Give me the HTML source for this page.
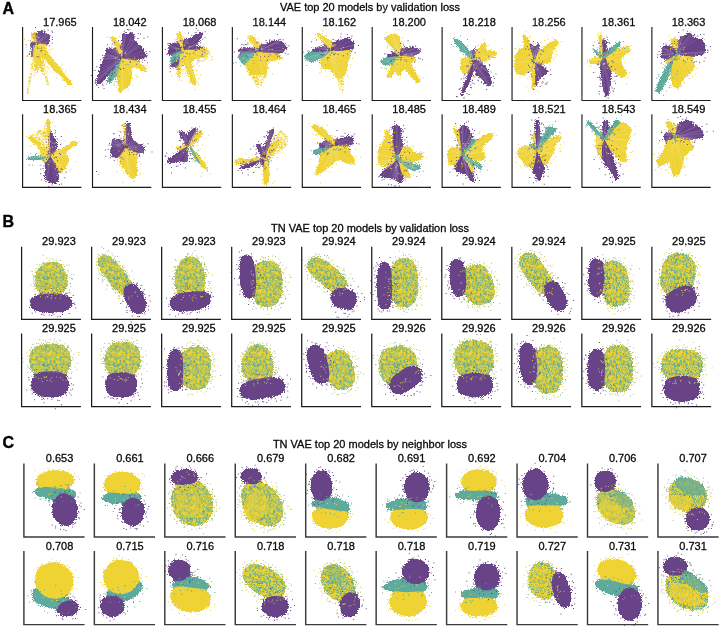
<!DOCTYPE html><html><head><meta charset="utf-8"><style>html,body{margin:0;padding:0;background:#fff;width:720px;height:628px;overflow:hidden}svg{display:block}text{font-family:"Liberation Sans",sans-serif}.t{stroke:#0a0a0a;stroke-width:0.3px}</style></head><body>
<svg width="720" height="628" viewBox="0 0 720 628"><g opacity="0.999">
<defs>
<filter id="rough" x="-20%" y="-20%" width="140%" height="140%" color-interpolation-filters="sRGB"><feTurbulence type="fractalNoise" baseFrequency="0.8" numOctaves="2" seed="3" result="t"/><feDisplacementMap in="SourceGraphic" in2="t" scale="2.5" xChannelSelector="R" yChannelSelector="G" result="d"/><feGaussianBlur in="d" stdDeviation="1.5" result="b"/><feComponentTransfer in="b" result="dil"><feFuncA type="linear" slope="40"/></feComponentTransfer><feMerge result="col"><feMergeNode in="dil"/><feMergeNode in="d"/></feMerge><feTurbulence type="fractalNoise" baseFrequency="1.9" numOctaves="1" seed="9" result="n"/><feColorMatrix in="n" type="matrix" values="0 0 0 0 0  0 0 0 0 0  0 0 0 0 0  -2 0 0 0 1.5" result="nInv"/><feColorMatrix in="b" type="matrix" values="0 0 0 0 0  0 0 0 0 0  0 0 0 0 0  0 0 0 1 0" result="bA"/><feComposite in="bA" in2="nInv" operator="arithmetic" k2="14" k3="8" k4="-8" result="mask"/><feComposite in="col" in2="mask" operator="in"/></filter>
<pattern id="mix" width="24" height="24" patternUnits="userSpaceOnUse"><rect x="0" y="0" width="1" height="1" fill="#5eaa9d"/><rect x="1" y="0" width="1" height="1" fill="#5eaa9d"/><rect x="2" y="0" width="1" height="1" fill="#5eaa9d"/><rect x="3" y="0" width="1" height="1" fill="#b4c74e"/><rect x="4" y="0" width="1" height="1" fill="#5eaa9d"/><rect x="5" y="0" width="1" height="1" fill="#b4c74e"/><rect x="6" y="0" width="1" height="1" fill="#efd335"/><rect x="7" y="0" width="1" height="1" fill="#efd335"/><rect x="8" y="0" width="1" height="1" fill="#b4c74e"/><rect x="9" y="0" width="1" height="1" fill="#5eaa9d"/><rect x="10" y="0" width="1" height="1" fill="#b4c74e"/><rect x="11" y="0" width="1" height="1" fill="#efd335"/><rect x="12" y="0" width="1" height="1" fill="#efd335"/><rect x="13" y="0" width="1" height="1" fill="#efd335"/><rect x="14" y="0" width="1" height="1" fill="#5eaa9d"/><rect x="15" y="0" width="1" height="1" fill="#5eaa9d"/><rect x="16" y="0" width="1" height="1" fill="#efd335"/><rect x="17" y="0" width="1" height="1" fill="#efd335"/><rect x="18" y="0" width="1" height="1" fill="#efd335"/><rect x="19" y="0" width="1" height="1" fill="#b4c74e"/><rect x="20" y="0" width="1" height="1" fill="#5eaa9d"/><rect x="21" y="0" width="1" height="1" fill="#efd335"/><rect x="22" y="0" width="1" height="1" fill="#5eaa9d"/><rect x="23" y="0" width="1" height="1" fill="#efd335"/><rect x="0" y="1" width="1" height="1" fill="#5eaa9d"/><rect x="1" y="1" width="1" height="1" fill="#efd335"/><rect x="2" y="1" width="1" height="1" fill="#efd335"/><rect x="3" y="1" width="1" height="1" fill="#b4c74e"/><rect x="4" y="1" width="1" height="1" fill="#efd335"/><rect x="5" y="1" width="1" height="1" fill="#efd335"/><rect x="6" y="1" width="1" height="1" fill="#b4c74e"/><rect x="7" y="1" width="1" height="1" fill="#b4c74e"/><rect x="8" y="1" width="1" height="1" fill="#efd335"/><rect x="9" y="1" width="1" height="1" fill="#b4c74e"/><rect x="10" y="1" width="1" height="1" fill="#5eaa9d"/><rect x="11" y="1" width="1" height="1" fill="#5eaa9d"/><rect x="12" y="1" width="1" height="1" fill="#efd335"/><rect x="13" y="1" width="1" height="1" fill="#b4c74e"/><rect x="14" y="1" width="1" height="1" fill="#5eaa9d"/><rect x="15" y="1" width="1" height="1" fill="#b4c74e"/><rect x="16" y="1" width="1" height="1" fill="#b4c74e"/><rect x="17" y="1" width="1" height="1" fill="#efd335"/><rect x="18" y="1" width="1" height="1" fill="#efd335"/><rect x="19" y="1" width="1" height="1" fill="#efd335"/><rect x="20" y="1" width="1" height="1" fill="#efd335"/><rect x="21" y="1" width="1" height="1" fill="#efd335"/><rect x="22" y="1" width="1" height="1" fill="#efd335"/><rect x="23" y="1" width="1" height="1" fill="#5eaa9d"/><rect x="0" y="2" width="1" height="1" fill="#efd335"/><rect x="1" y="2" width="1" height="1" fill="#5eaa9d"/><rect x="2" y="2" width="1" height="1" fill="#efd335"/><rect x="3" y="2" width="1" height="1" fill="#efd335"/><rect x="4" y="2" width="1" height="1" fill="#5eaa9d"/><rect x="5" y="2" width="1" height="1" fill="#efd335"/><rect x="6" y="2" width="1" height="1" fill="#efd335"/><rect x="7" y="2" width="1" height="1" fill="#efd335"/><rect x="8" y="2" width="1" height="1" fill="#5eaa9d"/><rect x="9" y="2" width="1" height="1" fill="#efd335"/><rect x="10" y="2" width="1" height="1" fill="#b4c74e"/><rect x="11" y="2" width="1" height="1" fill="#efd335"/><rect x="12" y="2" width="1" height="1" fill="#5eaa9d"/><rect x="13" y="2" width="1" height="1" fill="#5eaa9d"/><rect x="14" y="2" width="1" height="1" fill="#efd335"/><rect x="15" y="2" width="1" height="1" fill="#5eaa9d"/><rect x="16" y="2" width="1" height="1" fill="#efd335"/><rect x="17" y="2" width="1" height="1" fill="#5eaa9d"/><rect x="18" y="2" width="1" height="1" fill="#efd335"/><rect x="19" y="2" width="1" height="1" fill="#efd335"/><rect x="20" y="2" width="1" height="1" fill="#efd335"/><rect x="21" y="2" width="1" height="1" fill="#b4c74e"/><rect x="22" y="2" width="1" height="1" fill="#efd335"/><rect x="23" y="2" width="1" height="1" fill="#5eaa9d"/><rect x="0" y="3" width="1" height="1" fill="#b4c74e"/><rect x="1" y="3" width="1" height="1" fill="#b4c74e"/><rect x="2" y="3" width="1" height="1" fill="#efd335"/><rect x="3" y="3" width="1" height="1" fill="#efd335"/><rect x="4" y="3" width="1" height="1" fill="#5eaa9d"/><rect x="5" y="3" width="1" height="1" fill="#5eaa9d"/><rect x="6" y="3" width="1" height="1" fill="#efd335"/><rect x="7" y="3" width="1" height="1" fill="#5eaa9d"/><rect x="8" y="3" width="1" height="1" fill="#5eaa9d"/><rect x="9" y="3" width="1" height="1" fill="#b4c74e"/><rect x="10" y="3" width="1" height="1" fill="#efd335"/><rect x="11" y="3" width="1" height="1" fill="#b4c74e"/><rect x="12" y="3" width="1" height="1" fill="#efd335"/><rect x="13" y="3" width="1" height="1" fill="#efd335"/><rect x="14" y="3" width="1" height="1" fill="#5eaa9d"/><rect x="15" y="3" width="1" height="1" fill="#b4c74e"/><rect x="16" y="3" width="1" height="1" fill="#efd335"/><rect x="17" y="3" width="1" height="1" fill="#b4c74e"/><rect x="18" y="3" width="1" height="1" fill="#5eaa9d"/><rect x="19" y="3" width="1" height="1" fill="#efd335"/><rect x="20" y="3" width="1" height="1" fill="#efd335"/><rect x="21" y="3" width="1" height="1" fill="#efd335"/><rect x="22" y="3" width="1" height="1" fill="#efd335"/><rect x="23" y="3" width="1" height="1" fill="#efd335"/><rect x="0" y="4" width="1" height="1" fill="#5eaa9d"/><rect x="1" y="4" width="1" height="1" fill="#b4c74e"/><rect x="2" y="4" width="1" height="1" fill="#efd335"/><rect x="3" y="4" width="1" height="1" fill="#efd335"/><rect x="4" y="4" width="1" height="1" fill="#b4c74e"/><rect x="5" y="4" width="1" height="1" fill="#5eaa9d"/><rect x="6" y="4" width="1" height="1" fill="#efd335"/><rect x="7" y="4" width="1" height="1" fill="#efd335"/><rect x="8" y="4" width="1" height="1" fill="#5eaa9d"/><rect x="9" y="4" width="1" height="1" fill="#5eaa9d"/><rect x="10" y="4" width="1" height="1" fill="#efd335"/><rect x="11" y="4" width="1" height="1" fill="#efd335"/><rect x="12" y="4" width="1" height="1" fill="#efd335"/><rect x="13" y="4" width="1" height="1" fill="#b4c74e"/><rect x="14" y="4" width="1" height="1" fill="#efd335"/><rect x="15" y="4" width="1" height="1" fill="#efd335"/><rect x="16" y="4" width="1" height="1" fill="#5eaa9d"/><rect x="17" y="4" width="1" height="1" fill="#efd335"/><rect x="18" y="4" width="1" height="1" fill="#5eaa9d"/><rect x="19" y="4" width="1" height="1" fill="#b4c74e"/><rect x="20" y="4" width="1" height="1" fill="#5eaa9d"/><rect x="21" y="4" width="1" height="1" fill="#5eaa9d"/><rect x="22" y="4" width="1" height="1" fill="#efd335"/><rect x="23" y="4" width="1" height="1" fill="#efd335"/><rect x="0" y="5" width="1" height="1" fill="#efd335"/><rect x="1" y="5" width="1" height="1" fill="#5eaa9d"/><rect x="2" y="5" width="1" height="1" fill="#efd335"/><rect x="3" y="5" width="1" height="1" fill="#efd335"/><rect x="4" y="5" width="1" height="1" fill="#b4c74e"/><rect x="5" y="5" width="1" height="1" fill="#b4c74e"/><rect x="6" y="5" width="1" height="1" fill="#b4c74e"/><rect x="7" y="5" width="1" height="1" fill="#efd335"/><rect x="8" y="5" width="1" height="1" fill="#efd335"/><rect x="9" y="5" width="1" height="1" fill="#5eaa9d"/><rect x="10" y="5" width="1" height="1" fill="#efd335"/><rect x="11" y="5" width="1" height="1" fill="#efd335"/><rect x="12" y="5" width="1" height="1" fill="#efd335"/><rect x="13" y="5" width="1" height="1" fill="#efd335"/><rect x="14" y="5" width="1" height="1" fill="#efd335"/><rect x="15" y="5" width="1" height="1" fill="#b4c74e"/><rect x="16" y="5" width="1" height="1" fill="#b4c74e"/><rect x="17" y="5" width="1" height="1" fill="#5eaa9d"/><rect x="18" y="5" width="1" height="1" fill="#efd335"/><rect x="19" y="5" width="1" height="1" fill="#efd335"/><rect x="20" y="5" width="1" height="1" fill="#efd335"/><rect x="21" y="5" width="1" height="1" fill="#efd335"/><rect x="22" y="5" width="1" height="1" fill="#5eaa9d"/><rect x="23" y="5" width="1" height="1" fill="#b4c74e"/><rect x="0" y="6" width="1" height="1" fill="#efd335"/><rect x="1" y="6" width="1" height="1" fill="#5eaa9d"/><rect x="2" y="6" width="1" height="1" fill="#5eaa9d"/><rect x="3" y="6" width="1" height="1" fill="#5eaa9d"/><rect x="4" y="6" width="1" height="1" fill="#5eaa9d"/><rect x="5" y="6" width="1" height="1" fill="#5eaa9d"/><rect x="6" y="6" width="1" height="1" fill="#efd335"/><rect x="7" y="6" width="1" height="1" fill="#5eaa9d"/><rect x="8" y="6" width="1" height="1" fill="#efd335"/><rect x="9" y="6" width="1" height="1" fill="#efd335"/><rect x="10" y="6" width="1" height="1" fill="#5eaa9d"/><rect x="11" y="6" width="1" height="1" fill="#5eaa9d"/><rect x="12" y="6" width="1" height="1" fill="#efd335"/><rect x="13" y="6" width="1" height="1" fill="#b4c74e"/><rect x="14" y="6" width="1" height="1" fill="#5eaa9d"/><rect x="15" y="6" width="1" height="1" fill="#5eaa9d"/><rect x="16" y="6" width="1" height="1" fill="#efd335"/><rect x="17" y="6" width="1" height="1" fill="#5eaa9d"/><rect x="18" y="6" width="1" height="1" fill="#efd335"/><rect x="19" y="6" width="1" height="1" fill="#5eaa9d"/><rect x="20" y="6" width="1" height="1" fill="#efd335"/><rect x="21" y="6" width="1" height="1" fill="#5eaa9d"/><rect x="22" y="6" width="1" height="1" fill="#5eaa9d"/><rect x="23" y="6" width="1" height="1" fill="#5eaa9d"/><rect x="0" y="7" width="1" height="1" fill="#efd335"/><rect x="1" y="7" width="1" height="1" fill="#5eaa9d"/><rect x="2" y="7" width="1" height="1" fill="#5eaa9d"/><rect x="3" y="7" width="1" height="1" fill="#5eaa9d"/><rect x="4" y="7" width="1" height="1" fill="#efd335"/><rect x="5" y="7" width="1" height="1" fill="#5eaa9d"/><rect x="6" y="7" width="1" height="1" fill="#b4c74e"/><rect x="7" y="7" width="1" height="1" fill="#5eaa9d"/><rect x="8" y="7" width="1" height="1" fill="#b4c74e"/><rect x="9" y="7" width="1" height="1" fill="#b4c74e"/><rect x="10" y="7" width="1" height="1" fill="#5eaa9d"/><rect x="11" y="7" width="1" height="1" fill="#5eaa9d"/><rect x="12" y="7" width="1" height="1" fill="#efd335"/><rect x="13" y="7" width="1" height="1" fill="#5eaa9d"/><rect x="14" y="7" width="1" height="1" fill="#b4c74e"/><rect x="15" y="7" width="1" height="1" fill="#efd335"/><rect x="16" y="7" width="1" height="1" fill="#5eaa9d"/><rect x="17" y="7" width="1" height="1" fill="#5eaa9d"/><rect x="18" y="7" width="1" height="1" fill="#5eaa9d"/><rect x="19" y="7" width="1" height="1" fill="#efd335"/><rect x="20" y="7" width="1" height="1" fill="#5eaa9d"/><rect x="21" y="7" width="1" height="1" fill="#5eaa9d"/><rect x="22" y="7" width="1" height="1" fill="#5eaa9d"/><rect x="23" y="7" width="1" height="1" fill="#efd335"/><rect x="0" y="8" width="1" height="1" fill="#5eaa9d"/><rect x="1" y="8" width="1" height="1" fill="#5eaa9d"/><rect x="2" y="8" width="1" height="1" fill="#5eaa9d"/><rect x="3" y="8" width="1" height="1" fill="#5eaa9d"/><rect x="4" y="8" width="1" height="1" fill="#efd335"/><rect x="5" y="8" width="1" height="1" fill="#efd335"/><rect x="6" y="8" width="1" height="1" fill="#efd335"/><rect x="7" y="8" width="1" height="1" fill="#5eaa9d"/><rect x="8" y="8" width="1" height="1" fill="#efd335"/><rect x="9" y="8" width="1" height="1" fill="#5eaa9d"/><rect x="10" y="8" width="1" height="1" fill="#5eaa9d"/><rect x="11" y="8" width="1" height="1" fill="#efd335"/><rect x="12" y="8" width="1" height="1" fill="#efd335"/><rect x="13" y="8" width="1" height="1" fill="#efd335"/><rect x="14" y="8" width="1" height="1" fill="#efd335"/><rect x="15" y="8" width="1" height="1" fill="#efd335"/><rect x="16" y="8" width="1" height="1" fill="#efd335"/><rect x="17" y="8" width="1" height="1" fill="#efd335"/><rect x="18" y="8" width="1" height="1" fill="#efd335"/><rect x="19" y="8" width="1" height="1" fill="#efd335"/><rect x="20" y="8" width="1" height="1" fill="#efd335"/><rect x="21" y="8" width="1" height="1" fill="#efd335"/><rect x="22" y="8" width="1" height="1" fill="#5eaa9d"/><rect x="23" y="8" width="1" height="1" fill="#5eaa9d"/><rect x="0" y="9" width="1" height="1" fill="#efd335"/><rect x="1" y="9" width="1" height="1" fill="#b4c74e"/><rect x="2" y="9" width="1" height="1" fill="#efd335"/><rect x="3" y="9" width="1" height="1" fill="#efd335"/><rect x="4" y="9" width="1" height="1" fill="#efd335"/><rect x="5" y="9" width="1" height="1" fill="#efd335"/><rect x="6" y="9" width="1" height="1" fill="#efd335"/><rect x="7" y="9" width="1" height="1" fill="#5eaa9d"/><rect x="8" y="9" width="1" height="1" fill="#efd335"/><rect x="9" y="9" width="1" height="1" fill="#efd335"/><rect x="10" y="9" width="1" height="1" fill="#5eaa9d"/><rect x="11" y="9" width="1" height="1" fill="#efd335"/><rect x="12" y="9" width="1" height="1" fill="#5eaa9d"/><rect x="13" y="9" width="1" height="1" fill="#efd335"/><rect x="14" y="9" width="1" height="1" fill="#5eaa9d"/><rect x="15" y="9" width="1" height="1" fill="#b4c74e"/><rect x="16" y="9" width="1" height="1" fill="#5eaa9d"/><rect x="17" y="9" width="1" height="1" fill="#efd335"/><rect x="18" y="9" width="1" height="1" fill="#5eaa9d"/><rect x="19" y="9" width="1" height="1" fill="#5eaa9d"/><rect x="20" y="9" width="1" height="1" fill="#efd335"/><rect x="21" y="9" width="1" height="1" fill="#efd335"/><rect x="22" y="9" width="1" height="1" fill="#5eaa9d"/><rect x="23" y="9" width="1" height="1" fill="#5eaa9d"/><rect x="0" y="10" width="1" height="1" fill="#b4c74e"/><rect x="1" y="10" width="1" height="1" fill="#b4c74e"/><rect x="2" y="10" width="1" height="1" fill="#5eaa9d"/><rect x="3" y="10" width="1" height="1" fill="#efd335"/><rect x="4" y="10" width="1" height="1" fill="#b4c74e"/><rect x="5" y="10" width="1" height="1" fill="#efd335"/><rect x="6" y="10" width="1" height="1" fill="#efd335"/><rect x="7" y="10" width="1" height="1" fill="#5eaa9d"/><rect x="8" y="10" width="1" height="1" fill="#5eaa9d"/><rect x="9" y="10" width="1" height="1" fill="#efd335"/><rect x="10" y="10" width="1" height="1" fill="#5eaa9d"/><rect x="11" y="10" width="1" height="1" fill="#b4c74e"/><rect x="12" y="10" width="1" height="1" fill="#efd335"/><rect x="13" y="10" width="1" height="1" fill="#efd335"/><rect x="14" y="10" width="1" height="1" fill="#efd335"/><rect x="15" y="10" width="1" height="1" fill="#efd335"/><rect x="16" y="10" width="1" height="1" fill="#b4c74e"/><rect x="17" y="10" width="1" height="1" fill="#efd335"/><rect x="18" y="10" width="1" height="1" fill="#b4c74e"/><rect x="19" y="10" width="1" height="1" fill="#b4c74e"/><rect x="20" y="10" width="1" height="1" fill="#5eaa9d"/><rect x="21" y="10" width="1" height="1" fill="#efd335"/><rect x="22" y="10" width="1" height="1" fill="#b4c74e"/><rect x="23" y="10" width="1" height="1" fill="#efd335"/><rect x="0" y="11" width="1" height="1" fill="#efd335"/><rect x="1" y="11" width="1" height="1" fill="#efd335"/><rect x="2" y="11" width="1" height="1" fill="#b4c74e"/><rect x="3" y="11" width="1" height="1" fill="#efd335"/><rect x="4" y="11" width="1" height="1" fill="#efd335"/><rect x="5" y="11" width="1" height="1" fill="#efd335"/><rect x="6" y="11" width="1" height="1" fill="#efd335"/><rect x="7" y="11" width="1" height="1" fill="#5eaa9d"/><rect x="8" y="11" width="1" height="1" fill="#efd335"/><rect x="9" y="11" width="1" height="1" fill="#efd335"/><rect x="10" y="11" width="1" height="1" fill="#5eaa9d"/><rect x="11" y="11" width="1" height="1" fill="#5eaa9d"/><rect x="12" y="11" width="1" height="1" fill="#efd335"/><rect x="13" y="11" width="1" height="1" fill="#5eaa9d"/><rect x="14" y="11" width="1" height="1" fill="#efd335"/><rect x="15" y="11" width="1" height="1" fill="#b4c74e"/><rect x="16" y="11" width="1" height="1" fill="#5eaa9d"/><rect x="17" y="11" width="1" height="1" fill="#efd335"/><rect x="18" y="11" width="1" height="1" fill="#efd335"/><rect x="19" y="11" width="1" height="1" fill="#efd335"/><rect x="20" y="11" width="1" height="1" fill="#b4c74e"/><rect x="21" y="11" width="1" height="1" fill="#efd335"/><rect x="22" y="11" width="1" height="1" fill="#5eaa9d"/><rect x="23" y="11" width="1" height="1" fill="#efd335"/><rect x="0" y="12" width="1" height="1" fill="#5eaa9d"/><rect x="1" y="12" width="1" height="1" fill="#5eaa9d"/><rect x="2" y="12" width="1" height="1" fill="#5eaa9d"/><rect x="3" y="12" width="1" height="1" fill="#efd335"/><rect x="4" y="12" width="1" height="1" fill="#5eaa9d"/><rect x="5" y="12" width="1" height="1" fill="#efd335"/><rect x="6" y="12" width="1" height="1" fill="#5eaa9d"/><rect x="7" y="12" width="1" height="1" fill="#efd335"/><rect x="8" y="12" width="1" height="1" fill="#efd335"/><rect x="9" y="12" width="1" height="1" fill="#5eaa9d"/><rect x="10" y="12" width="1" height="1" fill="#efd335"/><rect x="11" y="12" width="1" height="1" fill="#efd335"/><rect x="12" y="12" width="1" height="1" fill="#5eaa9d"/><rect x="13" y="12" width="1" height="1" fill="#5eaa9d"/><rect x="14" y="12" width="1" height="1" fill="#efd335"/><rect x="15" y="12" width="1" height="1" fill="#efd335"/><rect x="16" y="12" width="1" height="1" fill="#efd335"/><rect x="17" y="12" width="1" height="1" fill="#b4c74e"/><rect x="18" y="12" width="1" height="1" fill="#b4c74e"/><rect x="19" y="12" width="1" height="1" fill="#5eaa9d"/><rect x="20" y="12" width="1" height="1" fill="#efd335"/><rect x="21" y="12" width="1" height="1" fill="#5eaa9d"/><rect x="22" y="12" width="1" height="1" fill="#efd335"/><rect x="23" y="12" width="1" height="1" fill="#5eaa9d"/><rect x="0" y="13" width="1" height="1" fill="#5eaa9d"/><rect x="1" y="13" width="1" height="1" fill="#5eaa9d"/><rect x="2" y="13" width="1" height="1" fill="#efd335"/><rect x="3" y="13" width="1" height="1" fill="#b4c74e"/><rect x="4" y="13" width="1" height="1" fill="#efd335"/><rect x="5" y="13" width="1" height="1" fill="#efd335"/><rect x="6" y="13" width="1" height="1" fill="#b4c74e"/><rect x="7" y="13" width="1" height="1" fill="#efd335"/><rect x="8" y="13" width="1" height="1" fill="#efd335"/><rect x="9" y="13" width="1" height="1" fill="#5eaa9d"/><rect x="10" y="13" width="1" height="1" fill="#efd335"/><rect x="11" y="13" width="1" height="1" fill="#5eaa9d"/><rect x="12" y="13" width="1" height="1" fill="#5eaa9d"/><rect x="13" y="13" width="1" height="1" fill="#efd335"/><rect x="14" y="13" width="1" height="1" fill="#efd335"/><rect x="15" y="13" width="1" height="1" fill="#5eaa9d"/><rect x="16" y="13" width="1" height="1" fill="#b4c74e"/><rect x="17" y="13" width="1" height="1" fill="#efd335"/><rect x="18" y="13" width="1" height="1" fill="#efd335"/><rect x="19" y="13" width="1" height="1" fill="#5eaa9d"/><rect x="20" y="13" width="1" height="1" fill="#efd335"/><rect x="21" y="13" width="1" height="1" fill="#efd335"/><rect x="22" y="13" width="1" height="1" fill="#efd335"/><rect x="23" y="13" width="1" height="1" fill="#5eaa9d"/><rect x="0" y="14" width="1" height="1" fill="#5eaa9d"/><rect x="1" y="14" width="1" height="1" fill="#efd335"/><rect x="2" y="14" width="1" height="1" fill="#efd335"/><rect x="3" y="14" width="1" height="1" fill="#5eaa9d"/><rect x="4" y="14" width="1" height="1" fill="#5eaa9d"/><rect x="5" y="14" width="1" height="1" fill="#5eaa9d"/><rect x="6" y="14" width="1" height="1" fill="#efd335"/><rect x="7" y="14" width="1" height="1" fill="#5eaa9d"/><rect x="8" y="14" width="1" height="1" fill="#b4c74e"/><rect x="9" y="14" width="1" height="1" fill="#b4c74e"/><rect x="10" y="14" width="1" height="1" fill="#5eaa9d"/><rect x="11" y="14" width="1" height="1" fill="#efd335"/><rect x="12" y="14" width="1" height="1" fill="#5eaa9d"/><rect x="13" y="14" width="1" height="1" fill="#efd335"/><rect x="14" y="14" width="1" height="1" fill="#5eaa9d"/><rect x="15" y="14" width="1" height="1" fill="#b4c74e"/><rect x="16" y="14" width="1" height="1" fill="#5eaa9d"/><rect x="17" y="14" width="1" height="1" fill="#efd335"/><rect x="18" y="14" width="1" height="1" fill="#efd335"/><rect x="19" y="14" width="1" height="1" fill="#b4c74e"/><rect x="20" y="14" width="1" height="1" fill="#efd335"/><rect x="21" y="14" width="1" height="1" fill="#5eaa9d"/><rect x="22" y="14" width="1" height="1" fill="#efd335"/><rect x="23" y="14" width="1" height="1" fill="#efd335"/><rect x="0" y="15" width="1" height="1" fill="#5eaa9d"/><rect x="1" y="15" width="1" height="1" fill="#efd335"/><rect x="2" y="15" width="1" height="1" fill="#efd335"/><rect x="3" y="15" width="1" height="1" fill="#efd335"/><rect x="4" y="15" width="1" height="1" fill="#efd335"/><rect x="5" y="15" width="1" height="1" fill="#efd335"/><rect x="6" y="15" width="1" height="1" fill="#5eaa9d"/><rect x="7" y="15" width="1" height="1" fill="#5eaa9d"/><rect x="8" y="15" width="1" height="1" fill="#b4c74e"/><rect x="9" y="15" width="1" height="1" fill="#efd335"/><rect x="10" y="15" width="1" height="1" fill="#efd335"/><rect x="11" y="15" width="1" height="1" fill="#efd335"/><rect x="12" y="15" width="1" height="1" fill="#5eaa9d"/><rect x="13" y="15" width="1" height="1" fill="#efd335"/><rect x="14" y="15" width="1" height="1" fill="#b4c74e"/><rect x="15" y="15" width="1" height="1" fill="#efd335"/><rect x="16" y="15" width="1" height="1" fill="#efd335"/><rect x="17" y="15" width="1" height="1" fill="#5eaa9d"/><rect x="18" y="15" width="1" height="1" fill="#efd335"/><rect x="19" y="15" width="1" height="1" fill="#5eaa9d"/><rect x="20" y="15" width="1" height="1" fill="#5eaa9d"/><rect x="21" y="15" width="1" height="1" fill="#b4c74e"/><rect x="22" y="15" width="1" height="1" fill="#5eaa9d"/><rect x="23" y="15" width="1" height="1" fill="#5eaa9d"/><rect x="0" y="16" width="1" height="1" fill="#efd335"/><rect x="1" y="16" width="1" height="1" fill="#5eaa9d"/><rect x="2" y="16" width="1" height="1" fill="#efd335"/><rect x="3" y="16" width="1" height="1" fill="#5eaa9d"/><rect x="4" y="16" width="1" height="1" fill="#5eaa9d"/><rect x="5" y="16" width="1" height="1" fill="#efd335"/><rect x="6" y="16" width="1" height="1" fill="#efd335"/><rect x="7" y="16" width="1" height="1" fill="#efd335"/><rect x="8" y="16" width="1" height="1" fill="#5eaa9d"/><rect x="9" y="16" width="1" height="1" fill="#efd335"/><rect x="10" y="16" width="1" height="1" fill="#5eaa9d"/><rect x="11" y="16" width="1" height="1" fill="#5eaa9d"/><rect x="12" y="16" width="1" height="1" fill="#efd335"/><rect x="13" y="16" width="1" height="1" fill="#5eaa9d"/><rect x="14" y="16" width="1" height="1" fill="#efd335"/><rect x="15" y="16" width="1" height="1" fill="#efd335"/><rect x="16" y="16" width="1" height="1" fill="#5eaa9d"/><rect x="17" y="16" width="1" height="1" fill="#efd335"/><rect x="18" y="16" width="1" height="1" fill="#b4c74e"/><rect x="19" y="16" width="1" height="1" fill="#efd335"/><rect x="20" y="16" width="1" height="1" fill="#efd335"/><rect x="21" y="16" width="1" height="1" fill="#5eaa9d"/><rect x="22" y="16" width="1" height="1" fill="#efd335"/><rect x="23" y="16" width="1" height="1" fill="#5eaa9d"/><rect x="0" y="17" width="1" height="1" fill="#efd335"/><rect x="1" y="17" width="1" height="1" fill="#efd335"/><rect x="2" y="17" width="1" height="1" fill="#b4c74e"/><rect x="3" y="17" width="1" height="1" fill="#5eaa9d"/><rect x="4" y="17" width="1" height="1" fill="#efd335"/><rect x="5" y="17" width="1" height="1" fill="#efd335"/><rect x="6" y="17" width="1" height="1" fill="#b4c74e"/><rect x="7" y="17" width="1" height="1" fill="#5eaa9d"/><rect x="8" y="17" width="1" height="1" fill="#5eaa9d"/><rect x="9" y="17" width="1" height="1" fill="#efd335"/><rect x="10" y="17" width="1" height="1" fill="#5eaa9d"/><rect x="11" y="17" width="1" height="1" fill="#efd335"/><rect x="12" y="17" width="1" height="1" fill="#efd335"/><rect x="13" y="17" width="1" height="1" fill="#efd335"/><rect x="14" y="17" width="1" height="1" fill="#5eaa9d"/><rect x="15" y="17" width="1" height="1" fill="#efd335"/><rect x="16" y="17" width="1" height="1" fill="#efd335"/><rect x="17" y="17" width="1" height="1" fill="#efd335"/><rect x="18" y="17" width="1" height="1" fill="#5eaa9d"/><rect x="19" y="17" width="1" height="1" fill="#5eaa9d"/><rect x="20" y="17" width="1" height="1" fill="#5eaa9d"/><rect x="21" y="17" width="1" height="1" fill="#efd335"/><rect x="22" y="17" width="1" height="1" fill="#b4c74e"/><rect x="23" y="17" width="1" height="1" fill="#5eaa9d"/><rect x="0" y="18" width="1" height="1" fill="#5eaa9d"/><rect x="1" y="18" width="1" height="1" fill="#5eaa9d"/><rect x="2" y="18" width="1" height="1" fill="#5eaa9d"/><rect x="3" y="18" width="1" height="1" fill="#efd335"/><rect x="4" y="18" width="1" height="1" fill="#efd335"/><rect x="5" y="18" width="1" height="1" fill="#efd335"/><rect x="6" y="18" width="1" height="1" fill="#efd335"/><rect x="7" y="18" width="1" height="1" fill="#efd335"/><rect x="8" y="18" width="1" height="1" fill="#b4c74e"/><rect x="9" y="18" width="1" height="1" fill="#efd335"/><rect x="10" y="18" width="1" height="1" fill="#5eaa9d"/><rect x="11" y="18" width="1" height="1" fill="#efd335"/><rect x="12" y="18" width="1" height="1" fill="#efd335"/><rect x="13" y="18" width="1" height="1" fill="#b4c74e"/><rect x="14" y="18" width="1" height="1" fill="#5eaa9d"/><rect x="15" y="18" width="1" height="1" fill="#efd335"/><rect x="16" y="18" width="1" height="1" fill="#efd335"/><rect x="17" y="18" width="1" height="1" fill="#efd335"/><rect x="18" y="18" width="1" height="1" fill="#efd335"/><rect x="19" y="18" width="1" height="1" fill="#efd335"/><rect x="20" y="18" width="1" height="1" fill="#efd335"/><rect x="21" y="18" width="1" height="1" fill="#efd335"/><rect x="22" y="18" width="1" height="1" fill="#b4c74e"/><rect x="23" y="18" width="1" height="1" fill="#efd335"/><rect x="0" y="19" width="1" height="1" fill="#efd335"/><rect x="1" y="19" width="1" height="1" fill="#efd335"/><rect x="2" y="19" width="1" height="1" fill="#efd335"/><rect x="3" y="19" width="1" height="1" fill="#efd335"/><rect x="4" y="19" width="1" height="1" fill="#efd335"/><rect x="5" y="19" width="1" height="1" fill="#efd335"/><rect x="6" y="19" width="1" height="1" fill="#efd335"/><rect x="7" y="19" width="1" height="1" fill="#b4c74e"/><rect x="8" y="19" width="1" height="1" fill="#efd335"/><rect x="9" y="19" width="1" height="1" fill="#b4c74e"/><rect x="10" y="19" width="1" height="1" fill="#5eaa9d"/><rect x="11" y="19" width="1" height="1" fill="#5eaa9d"/><rect x="12" y="19" width="1" height="1" fill="#efd335"/><rect x="13" y="19" width="1" height="1" fill="#b4c74e"/><rect x="14" y="19" width="1" height="1" fill="#efd335"/><rect x="15" y="19" width="1" height="1" fill="#5eaa9d"/><rect x="16" y="19" width="1" height="1" fill="#efd335"/><rect x="17" y="19" width="1" height="1" fill="#5eaa9d"/><rect x="18" y="19" width="1" height="1" fill="#5eaa9d"/><rect x="19" y="19" width="1" height="1" fill="#efd335"/><rect x="20" y="19" width="1" height="1" fill="#efd335"/><rect x="21" y="19" width="1" height="1" fill="#efd335"/><rect x="22" y="19" width="1" height="1" fill="#efd335"/><rect x="23" y="19" width="1" height="1" fill="#efd335"/><rect x="0" y="20" width="1" height="1" fill="#efd335"/><rect x="1" y="20" width="1" height="1" fill="#b4c74e"/><rect x="2" y="20" width="1" height="1" fill="#efd335"/><rect x="3" y="20" width="1" height="1" fill="#efd335"/><rect x="4" y="20" width="1" height="1" fill="#efd335"/><rect x="5" y="20" width="1" height="1" fill="#efd335"/><rect x="6" y="20" width="1" height="1" fill="#5eaa9d"/><rect x="7" y="20" width="1" height="1" fill="#5eaa9d"/><rect x="8" y="20" width="1" height="1" fill="#efd335"/><rect x="9" y="20" width="1" height="1" fill="#efd335"/><rect x="10" y="20" width="1" height="1" fill="#5eaa9d"/><rect x="11" y="20" width="1" height="1" fill="#b4c74e"/><rect x="12" y="20" width="1" height="1" fill="#5eaa9d"/><rect x="13" y="20" width="1" height="1" fill="#efd335"/><rect x="14" y="20" width="1" height="1" fill="#b4c74e"/><rect x="15" y="20" width="1" height="1" fill="#efd335"/><rect x="16" y="20" width="1" height="1" fill="#efd335"/><rect x="17" y="20" width="1" height="1" fill="#5eaa9d"/><rect x="18" y="20" width="1" height="1" fill="#efd335"/><rect x="19" y="20" width="1" height="1" fill="#efd335"/><rect x="20" y="20" width="1" height="1" fill="#5eaa9d"/><rect x="21" y="20" width="1" height="1" fill="#b4c74e"/><rect x="22" y="20" width="1" height="1" fill="#5eaa9d"/><rect x="23" y="20" width="1" height="1" fill="#efd335"/><rect x="0" y="21" width="1" height="1" fill="#efd335"/><rect x="1" y="21" width="1" height="1" fill="#efd335"/><rect x="2" y="21" width="1" height="1" fill="#b4c74e"/><rect x="3" y="21" width="1" height="1" fill="#efd335"/><rect x="4" y="21" width="1" height="1" fill="#b4c74e"/><rect x="5" y="21" width="1" height="1" fill="#efd335"/><rect x="6" y="21" width="1" height="1" fill="#efd335"/><rect x="7" y="21" width="1" height="1" fill="#efd335"/><rect x="8" y="21" width="1" height="1" fill="#efd335"/><rect x="9" y="21" width="1" height="1" fill="#efd335"/><rect x="10" y="21" width="1" height="1" fill="#efd335"/><rect x="11" y="21" width="1" height="1" fill="#efd335"/><rect x="12" y="21" width="1" height="1" fill="#efd335"/><rect x="13" y="21" width="1" height="1" fill="#efd335"/><rect x="14" y="21" width="1" height="1" fill="#efd335"/><rect x="15" y="21" width="1" height="1" fill="#b4c74e"/><rect x="16" y="21" width="1" height="1" fill="#efd335"/><rect x="17" y="21" width="1" height="1" fill="#5eaa9d"/><rect x="18" y="21" width="1" height="1" fill="#efd335"/><rect x="19" y="21" width="1" height="1" fill="#5eaa9d"/><rect x="20" y="21" width="1" height="1" fill="#efd335"/><rect x="21" y="21" width="1" height="1" fill="#efd335"/><rect x="22" y="21" width="1" height="1" fill="#efd335"/><rect x="23" y="21" width="1" height="1" fill="#5eaa9d"/><rect x="0" y="22" width="1" height="1" fill="#b4c74e"/><rect x="1" y="22" width="1" height="1" fill="#5eaa9d"/><rect x="2" y="22" width="1" height="1" fill="#b4c74e"/><rect x="3" y="22" width="1" height="1" fill="#efd335"/><rect x="4" y="22" width="1" height="1" fill="#efd335"/><rect x="5" y="22" width="1" height="1" fill="#5eaa9d"/><rect x="6" y="22" width="1" height="1" fill="#efd335"/><rect x="7" y="22" width="1" height="1" fill="#5eaa9d"/><rect x="8" y="22" width="1" height="1" fill="#efd335"/><rect x="9" y="22" width="1" height="1" fill="#5eaa9d"/><rect x="10" y="22" width="1" height="1" fill="#5eaa9d"/><rect x="11" y="22" width="1" height="1" fill="#b4c74e"/><rect x="12" y="22" width="1" height="1" fill="#efd335"/><rect x="13" y="22" width="1" height="1" fill="#efd335"/><rect x="14" y="22" width="1" height="1" fill="#5eaa9d"/><rect x="15" y="22" width="1" height="1" fill="#efd335"/><rect x="16" y="22" width="1" height="1" fill="#efd335"/><rect x="17" y="22" width="1" height="1" fill="#efd335"/><rect x="18" y="22" width="1" height="1" fill="#efd335"/><rect x="19" y="22" width="1" height="1" fill="#5eaa9d"/><rect x="20" y="22" width="1" height="1" fill="#5eaa9d"/><rect x="21" y="22" width="1" height="1" fill="#efd335"/><rect x="22" y="22" width="1" height="1" fill="#efd335"/><rect x="23" y="22" width="1" height="1" fill="#efd335"/><rect x="0" y="23" width="1" height="1" fill="#efd335"/><rect x="1" y="23" width="1" height="1" fill="#efd335"/><rect x="2" y="23" width="1" height="1" fill="#efd335"/><rect x="3" y="23" width="1" height="1" fill="#5eaa9d"/><rect x="4" y="23" width="1" height="1" fill="#efd335"/><rect x="5" y="23" width="1" height="1" fill="#efd335"/><rect x="6" y="23" width="1" height="1" fill="#5eaa9d"/><rect x="7" y="23" width="1" height="1" fill="#efd335"/><rect x="8" y="23" width="1" height="1" fill="#efd335"/><rect x="9" y="23" width="1" height="1" fill="#efd335"/><rect x="10" y="23" width="1" height="1" fill="#efd335"/><rect x="11" y="23" width="1" height="1" fill="#efd335"/><rect x="12" y="23" width="1" height="1" fill="#efd335"/><rect x="13" y="23" width="1" height="1" fill="#efd335"/><rect x="14" y="23" width="1" height="1" fill="#5eaa9d"/><rect x="15" y="23" width="1" height="1" fill="#5eaa9d"/><rect x="16" y="23" width="1" height="1" fill="#b4c74e"/><rect x="17" y="23" width="1" height="1" fill="#5eaa9d"/><rect x="18" y="23" width="1" height="1" fill="#5eaa9d"/><rect x="19" y="23" width="1" height="1" fill="#5eaa9d"/><rect x="20" y="23" width="1" height="1" fill="#efd335"/><rect x="21" y="23" width="1" height="1" fill="#5eaa9d"/><rect x="22" y="23" width="1" height="1" fill="#5eaa9d"/><rect x="23" y="23" width="1" height="1" fill="#b4c74e"/></pattern>
<pattern id="spY2" width="16" height="16" patternUnits="userSpaceOnUse"><path d="M0 0h1v1h-1zM1 0h1v1h-1zM2 0h1v1h-1zM5 0h1v1h-1zM8 0h1v1h-1zM10 0h1v1h-1zM12 0h1v1h-1zM0 1h1v1h-1zM1 1h1v1h-1zM2 1h1v1h-1zM4 1h1v1h-1zM5 1h1v1h-1zM6 1h1v1h-1zM8 1h1v1h-1zM9 1h1v1h-1zM11 1h1v1h-1zM14 1h1v1h-1zM15 1h1v1h-1zM0 2h1v1h-1zM3 2h1v1h-1zM4 2h1v1h-1zM5 2h1v1h-1zM6 2h1v1h-1zM7 2h1v1h-1zM8 2h1v1h-1zM11 2h1v1h-1zM15 2h1v1h-1zM1 3h1v1h-1zM2 3h1v1h-1zM4 3h1v1h-1zM5 3h1v1h-1zM6 3h1v1h-1zM8 3h1v1h-1zM9 3h1v1h-1zM14 3h1v1h-1zM2 4h1v1h-1zM3 4h1v1h-1zM4 4h1v1h-1zM7 4h1v1h-1zM9 4h1v1h-1zM10 4h1v1h-1zM13 4h1v1h-1zM14 4h1v1h-1zM4 5h1v1h-1zM6 5h1v1h-1zM7 5h1v1h-1zM8 5h1v1h-1zM10 5h1v1h-1zM12 5h1v1h-1zM15 5h1v1h-1zM1 6h1v1h-1zM4 6h1v1h-1zM5 6h1v1h-1zM6 6h1v1h-1zM7 6h1v1h-1zM8 6h1v1h-1zM9 6h1v1h-1zM13 6h1v1h-1zM0 7h1v1h-1zM3 7h1v1h-1zM6 7h1v1h-1zM9 7h1v1h-1zM10 7h1v1h-1zM12 7h1v1h-1zM13 7h1v1h-1zM14 7h1v1h-1zM15 7h1v1h-1zM0 8h1v1h-1zM1 8h1v1h-1zM5 8h1v1h-1zM7 8h1v1h-1zM9 8h1v1h-1zM12 8h1v1h-1zM0 9h1v1h-1zM1 9h1v1h-1zM3 9h1v1h-1zM4 9h1v1h-1zM6 9h1v1h-1zM7 9h1v1h-1zM8 9h1v1h-1zM9 9h1v1h-1zM10 9h1v1h-1zM13 9h1v1h-1zM15 9h1v1h-1zM1 10h1v1h-1zM3 10h1v1h-1zM12 10h1v1h-1zM13 10h1v1h-1zM15 10h1v1h-1zM0 11h1v1h-1zM3 11h1v1h-1zM4 11h1v1h-1zM6 11h1v1h-1zM7 11h1v1h-1zM13 11h1v1h-1zM14 11h1v1h-1zM15 11h1v1h-1zM0 12h1v1h-1zM1 12h1v1h-1zM2 12h1v1h-1zM4 12h1v1h-1zM9 12h1v1h-1zM13 12h1v1h-1zM15 12h1v1h-1zM1 13h1v1h-1zM2 13h1v1h-1zM4 13h1v1h-1zM5 13h1v1h-1zM12 13h1v1h-1zM13 13h1v1h-1zM14 13h1v1h-1zM0 14h1v1h-1zM1 14h1v1h-1zM3 14h1v1h-1zM4 14h1v1h-1zM5 14h1v1h-1zM7 14h1v1h-1zM8 14h1v1h-1zM9 14h1v1h-1zM10 14h1v1h-1zM11 14h1v1h-1zM14 14h1v1h-1zM1 15h1v1h-1zM4 15h1v1h-1zM5 15h1v1h-1zM8 15h1v1h-1zM10 15h1v1h-1zM13 15h1v1h-1zM14 15h1v1h-1z" fill="#efd335"/></pattern>
<pattern id="spY3" width="16" height="16" patternUnits="userSpaceOnUse"><path d="M1 0h1v1h-1zM2 0h1v1h-1zM4 0h1v1h-1zM9 0h1v1h-1zM10 0h1v1h-1zM1 1h1v1h-1zM6 1h1v1h-1zM7 1h1v1h-1zM9 1h1v1h-1zM15 1h1v1h-1zM3 2h1v1h-1zM6 2h1v1h-1zM9 2h1v1h-1zM13 2h1v1h-1zM0 3h1v1h-1zM3 3h1v1h-1zM5 3h1v1h-1zM14 3h1v1h-1zM0 4h1v1h-1zM7 4h1v1h-1zM8 4h1v1h-1zM9 4h1v1h-1zM10 4h1v1h-1zM12 4h1v1h-1zM13 4h1v1h-1zM14 4h1v1h-1zM1 5h1v1h-1zM6 5h1v1h-1zM9 5h1v1h-1zM15 5h1v1h-1zM6 6h1v1h-1zM9 6h1v1h-1zM2 7h1v1h-1zM3 7h1v1h-1zM4 7h1v1h-1zM5 7h1v1h-1zM7 7h1v1h-1zM8 7h1v1h-1zM10 7h1v1h-1zM0 8h1v1h-1zM5 8h1v1h-1zM10 8h1v1h-1zM11 8h1v1h-1zM13 8h1v1h-1zM0 9h1v1h-1zM5 9h1v1h-1zM8 9h1v1h-1zM13 9h1v1h-1zM1 10h1v1h-1zM2 10h1v1h-1zM14 10h1v1h-1zM1 11h1v1h-1zM2 11h1v1h-1zM3 11h1v1h-1zM5 11h1v1h-1zM11 11h1v1h-1zM15 11h1v1h-1zM2 12h1v1h-1zM6 12h1v1h-1zM7 12h1v1h-1zM8 12h1v1h-1zM1 13h1v1h-1zM6 13h1v1h-1zM7 13h1v1h-1zM8 13h1v1h-1zM9 13h1v1h-1zM10 13h1v1h-1zM11 13h1v1h-1zM12 13h1v1h-1zM1 14h1v1h-1zM5 14h1v1h-1zM13 14h1v1h-1zM4 15h1v1h-1zM11 15h1v1h-1zM12 15h1v1h-1z" fill="#efd335"/></pattern>
<pattern id="spP2" width="16" height="16" patternUnits="userSpaceOnUse"><path d="M1 0h1v1h-1zM2 0h1v1h-1zM3 0h1v1h-1zM8 0h1v1h-1zM9 0h1v1h-1zM12 0h1v1h-1zM13 0h1v1h-1zM14 0h1v1h-1zM15 0h1v1h-1zM1 1h1v1h-1zM7 1h1v1h-1zM9 1h1v1h-1zM10 1h1v1h-1zM12 1h1v1h-1zM13 1h1v1h-1zM14 1h1v1h-1zM4 2h1v1h-1zM6 2h1v1h-1zM13 2h1v1h-1zM0 3h1v1h-1zM5 3h1v1h-1zM12 3h1v1h-1zM13 3h1v1h-1zM14 3h1v1h-1zM3 4h1v1h-1zM8 4h1v1h-1zM10 4h1v1h-1zM11 4h1v1h-1zM12 4h1v1h-1zM13 4h1v1h-1zM15 4h1v1h-1zM0 5h1v1h-1zM3 5h1v1h-1zM4 5h1v1h-1zM8 5h1v1h-1zM11 5h1v1h-1zM12 5h1v1h-1zM14 5h1v1h-1zM0 6h1v1h-1zM1 6h1v1h-1zM3 6h1v1h-1zM5 6h1v1h-1zM7 6h1v1h-1zM9 6h1v1h-1zM11 6h1v1h-1zM12 6h1v1h-1zM13 6h1v1h-1zM15 6h1v1h-1zM1 7h1v1h-1zM2 7h1v1h-1zM5 7h1v1h-1zM6 7h1v1h-1zM10 7h1v1h-1zM12 7h1v1h-1zM14 7h1v1h-1zM15 7h1v1h-1zM1 8h1v1h-1zM4 8h1v1h-1zM5 8h1v1h-1zM7 8h1v1h-1zM8 8h1v1h-1zM10 8h1v1h-1zM11 8h1v1h-1zM13 8h1v1h-1zM0 9h1v1h-1zM1 9h1v1h-1zM2 9h1v1h-1zM3 9h1v1h-1zM5 9h1v1h-1zM12 9h1v1h-1zM14 9h1v1h-1zM0 10h1v1h-1zM2 10h1v1h-1zM3 10h1v1h-1zM4 10h1v1h-1zM5 10h1v1h-1zM6 10h1v1h-1zM9 10h1v1h-1zM10 10h1v1h-1zM12 10h1v1h-1zM0 11h1v1h-1zM3 11h1v1h-1zM12 11h1v1h-1zM14 11h1v1h-1zM15 11h1v1h-1zM0 12h1v1h-1zM1 12h1v1h-1zM2 12h1v1h-1zM8 12h1v1h-1zM13 12h1v1h-1zM15 12h1v1h-1zM0 13h1v1h-1zM2 13h1v1h-1zM3 13h1v1h-1zM7 13h1v1h-1zM8 13h1v1h-1zM13 13h1v1h-1zM15 13h1v1h-1zM1 14h1v1h-1zM2 14h1v1h-1zM3 14h1v1h-1zM6 14h1v1h-1zM9 14h1v1h-1zM14 14h1v1h-1zM15 14h1v1h-1zM0 15h1v1h-1zM1 15h1v1h-1zM2 15h1v1h-1zM3 15h1v1h-1zM4 15h1v1h-1zM10 15h1v1h-1zM13 15h1v1h-1zM14 15h1v1h-1zM15 15h1v1h-1z" fill="#684387"/></pattern>
</defs>
<text x="2.5" y="13.7" font-size="16" font-weight="bold" fill="#000" stroke="#000" stroke-width="0.4">A</text>
<text x="370" y="11.0" font-size="11" text-anchor="middle" fill="#0a0a0a" class="t">VAE top 20 models by validation loss</text>
<text x="59.90" y="25.80" font-size="11" text-anchor="middle" fill="#0a0a0a" class="t">17.965</text>
<g transform="translate(22.60,27.10)"><polygon points="22.0,25.0 30.0,31.4 36.7,39.5 33.6,44.6 26.5,38.5 21.0,31.0" fill="url(#spY3)"/><polygon points="10.2,30.4 12.2,31.4 7.1,58.9 5.6,67.0 4.1,67.0 6.1,50.7" fill="url(#spY2)"/><polygon points="17.8,29.9 20.4,29.4 26.5,57.9 24.4,58.4" fill="url(#spY2)"/><g filter="url(#rough)"><polygon points="20.0,24.0 22.8,23.3 49.5,57.5 47.5,59.0" fill="#efd335"/><polygon points="19.5,29.0 22.0,28.5 39.0,46.0 37.0,48.0" fill="#efd335"/><polygon points="12.2,30.4 14.8,30.4 14.8,47.7 12.7,47.7" fill="#efd335"/><polygon points="15.3,30.4 17.8,30.4 21.4,46.7 19.4,47.2" fill="#efd335"/><polygon points="10.2,16.1 22.4,16.1 23.4,23.2 19.4,30.4 10.2,30.4 9.7,22.2" fill="#efd335"/><polygon points="8.3,5.3 11.2,5.9 14.1,15.3 13.0,17.7 11.2,16.5" fill="#efd335"/><polygon points="14.1,5.3 17.7,4.1 20.6,5.9 24.2,7.1 28.3,8.2 26.5,11.2 25.3,14.1 27.7,15.9 23.6,17.1 17.7,16.5 14.1,16.5 13.6,11.8" fill="#684387"/><polygon points="7.1,15.9 13.0,15.3 13.0,17.7 10.6,18.3 10.0,29.5 8.8,30.0 9.2,18.9 7.1,18.3" fill="#684387"/><polygon points="11.5,16.5 12.7,17.1 10.8,24.7 9.7,25.3" fill="#5eaa9d"/><path d="M55.0 65.0h1.0v1.0h-1.0zM55.5 65.5h1.0v1.0h-1.0zM4.7 68.4h1.0v1.0h-1.0zM27.5 63.0h1.0v1.0h-1.0zM48.0 57.0h1.0v1.0h-1.0z" fill="#efd335"/></g><path d="M15.3 21.6L41.0 65.0M10.4 14.7L-23.4 -23.6M14.0 22.5L24.7 71.5M14.4 13.9L32.6 -33.7M9.8 17.6L-42.0 15.9M16.6 17.8L68.0 18.8M10.7 16.3L-34.3 -10.4M13.9 14.6L27.9 -35.2M13.3 20.3L19.0 72.4M17.7 17.6L68.0 16.9M16.1 14.6L51.9 -21.2M16.4 18.4L66.7 29.4M10.2 17.7L-42.0 18.5M16.4 16.6L65.5 1.4M15.8 21.8L44.0 63.2M16.7 21.4L51.9 56.6M9.0 18.9L-39.6 33.7M10.8 21.0L-17.3 63.6M14.0 20.1L34.2 68.4M15.1 15.3L49.6 -23.4M13.6 14.6L23.4 -36.3M18.1 16.7L66.9 7.0M13.1 12.9L14.7 -37.3M8.9 15.4L-35.1 -9.0M15.8 20.4L52.5 56.0M14.4 15.0L38.6 -31.0M17.6 15.3L61.7 -7.8M10.0 19.6L-33.4 47.3M9.5 18.8L-39.4 34.3M16.7 17.6L68.0 15.9M15.7 18.2L67.2 26.9M11.9 12.3L2.0 -36.2M9.0 17.8L-42.0 19.1M8.5 16.2L-39.3 0.6M13.8 22.0L22.6 71.9M8.9 16.2L-38.6 -1.4M14.3 20.4L36.2 67.6M9.9 22.0L-18.8 62.6M10.6 21.2L-18.4 62.9M12.0 20.3L-6.2 69.3M17.5 19.7L63.4 39.7M13.6 14.1L22.3 -36.5M11.2 13.6L-9.4 -32.5M17.3 14.5L57.2 -15.0M8.4 20.7L-32.9 48.0M17.1 16.7L66.4 4.5M15.9 15.0L53.8 -19.1M10.7 20.0L-26.0 56.5M15.1 15.6L52.2 -20.9M17.5 19.8L62.9 40.9M13.6 13.8L21.2 -36.7M14.4 15.4L41.6 -29.3M12.8 21.1L10.2 72.6M10.4 19.2L-35.1 44.3M16.2 19.2L62.8 40.9M17.4 14.5L57.3 -14.9M12.9 13.8L11.6 -37.3M12.9 23.1L12.2 72.7M8.4 16.9L-41.3 8.9M16.1 18.3L67.1 27.4" stroke="#fff" stroke-width="0.4" stroke-opacity="0.25" fill="none"/><path d="M20.3 18.9h1.0v1.0h-1.0zM37.3 39.3h1.0v1.0h-1.0zM27.0 25.6h1.0v1.0h-1.0zM29.3 21.2h1.0v1.0h-1.0zM42.3 44.5h1.0v1.0h-1.0zM25.9 24.5h1.0v1.0h-1.0zM27.2 21.9h1.0v1.0h-1.0zM42.7 42.5h1.0v1.0h-1.0zM38.9 37.7h1.0v1.0h-1.0zM49.9 59.6h1.0v1.0h-1.0zM22.2 35.1h1.0v1.0h-1.0zM19.7 33.1h1.0v1.0h-1.0zM15.4 32.7h1.0v1.0h-1.0zM28.6 38.0h1.0v1.0h-1.0zM42.0 59.1h1.0v1.0h-1.0zM38.6 52.3h1.0v1.0h-1.0zM23.6 32.8h1.0v1.0h-1.0zM26.1 35.1h1.0v1.0h-1.0zM28.4 30.6h1.0v1.0h-1.0zM39.8 41.8h1.0v1.0h-1.0zM38.0 42.1h1.0v1.0h-1.0zM27.6 31.5h1.0v1.0h-1.0zM29.0 31.6h1.0v1.0h-1.0zM39.1 48.8h1.0v1.0h-1.0zM24.8 39.4h1.0v1.0h-1.0zM17.9 37.2h1.0v1.0h-1.0zM21.6 36.9h1.0v1.0h-1.0zM23.9 38.8h1.0v1.0h-1.0zM33.7 49.6h1.0v1.0h-1.0zM13.7 27.1h1.0v1.0h-1.0zM17.3 31.9h1.0v1.0h-1.0zM19.6 35.1h1.0v1.0h-1.0zM17.1 30.9h1.0v1.0h-1.0zM16.8 36.7h1.0v1.0h-1.0zM7.8 30.7h1.0v1.0h-1.0zM11.3 47.3h1.0v1.0h-1.0zM10.3 35.3h1.0v1.0h-1.0zM7.8 36.6h1.0v1.0h-1.0zM25.2 41.1h1.0v1.0h-1.0zM26.8 44.5h1.0v1.0h-1.0zM24.2 44.5h1.0v1.0h-1.0zM10.6 42.1h1.0v1.0h-1.0zM11.1 48.0h1.0v1.0h-1.0zM13.3 41.2h1.0v1.0h-1.0zM15.4 40.3h1.0v1.0h-1.0zM16.1 14.5h1.0v1.0h-1.0zM15.7 9.9h1.0v1.0h-1.0zM13.8 13.9h1.0v1.0h-1.0zM26.0 22.4h1.0v1.0h-1.0zM24.6 26.4h1.0v1.0h-1.0zM22.5 31.2h1.0v1.0h-1.0zM15.2 32.5h1.0v1.0h-1.0zM8.2 22.4h1.0v1.0h-1.0zM7.4 29.1h1.0v1.0h-1.0zM3.2 19.7h1.0v1.0h-1.0zM12.9 5.2h1.0v1.0h-1.0zM13.6 8.6h1.0v1.0h-1.0zM10.5 20.7h1.0v1.0h-1.0zM5.3 12.9h1.0v1.0h-1.0zM1.5 11.3h1.0v1.0h-1.0z" fill="#efd335"/><path d="M12.4 -0.1h1.0v1.0h-1.0zM21.0 2.3h1.0v1.0h-1.0zM22.2 4.2h1.0v1.0h-1.0zM25.0 2.5h1.0v1.0h-1.0zM29.4 4.7h1.0v1.0h-1.0zM28.8 3.5h1.0v1.0h-1.0zM29.2 11.9h1.0v1.0h-1.0zM29.0 15.3h1.0v1.0h-1.0zM29.3 9.7h1.0v1.0h-1.0zM26.2 18.5h1.0v1.0h-1.0zM18.5 22.9h1.0v1.0h-1.0zM18.7 20.5h1.0v1.0h-1.0zM14.6 20.7h1.0v1.0h-1.0zM11.6 16.9h1.0v1.0h-1.0zM11.4 14.6h1.0v1.0h-1.0zM10.9 10.1h1.0v1.0h-1.0zM11.9 6.2h1.0v1.0h-1.0zM7.6 13.5h1.0v1.0h-1.0zM10.0 6.4h1.0v1.0h-1.0zM14.2 16.7h1.0v1.0h-1.0zM17.7 23.3h1.0v1.0h-1.0zM14.5 20.3h1.0v1.0h-1.0zM14.0 28.8h1.0v1.0h-1.0zM15.6 29.4h1.0v1.0h-1.0zM6.1 27.0h1.0v1.0h-1.0zM4.2 28.5h1.0v1.0h-1.0zM7.8 23.9h1.0v1.0h-1.0zM6.5 26.0h1.0v1.0h-1.0zM3.0 17.1h1.0v1.0h-1.0z" fill="#684387"/><path d="M13.8 11.8h1.0v1.0h-1.0zM16.8 20.8h1.0v1.0h-1.0zM22.2 26.8h1.0v1.0h-1.0zM6.6 23.9h1.0v1.0h-1.0zM7.5 21.1h1.0v1.0h-1.0z" fill="#5eaa9d"/></g>
<path d="M22.60,27.10V100.50H81.40" fill="none" stroke="#1c1c1c" stroke-width="1.15"/>
<text x="129.75" y="25.80" font-size="11" text-anchor="middle" fill="#0a0a0a" class="t">18.042</text>
<g transform="translate(92.52,27.10)"><g filter="url(#rough)"><polygon points="29.5,31.2 30.1,7.1 32.4,5.9 35.4,7.1 40.1,4.7 40.7,11.8 44.8,16.5 49.5,20.0 51.9,25.9 54.2,28.9 49.5,31.8 42.4,32.4 35.4,31.8" fill="#684387"/><polygon points="29.5,31.2 23.6,23.0 18.9,22.4 13.0,21.2 15.3,27.1 11.8,30.6 10.6,35.4 8.2,38.9 7.1,44.8 4.7,55.4 3.5,60.1 14.1,48.3 17.7,44.8 28.3,33.0" fill="#684387"/><polygon points="29.5,31.2 27.1,27.1 20.0,14.1 18.9,8.2 21.8,9.4 25.3,15.3 30.1,23.6" fill="#efd335"/><polygon points="29.5,31.2 35.4,32.4 42.4,33.6 47.1,36.5 51.9,40.1 55.4,44.8 50.7,43.6 46.0,41.2 38.9,38.9 38.9,47.1 37.7,55.4 35.4,60.1 30.6,61.3 28.9,66.0 27.1,66.0 26.5,58.9 24.7,50.7 27.1,40.1 28.3,34.2" fill="#efd335"/><polygon points="29.5,31.2 28.3,34.2 25.3,42.4 23.6,49.5 20.0,53.0 16.5,57.7 15.3,51.9 17.7,46.0 23.6,38.9" fill="#5eaa9d"/></g><path d="M32.1 27.0L58.5 -15.6M32.7 28.3L69.9 -6.1M25.7 33.1L-19.7 55.8M31.5 28.4L61.6 -13.4M26.2 30.5L-24.2 19.4M29.8 28.7L35.8 -23.4M27.4 26.3L7.8 -19.3M33.7 31.8L83.9 39.3M26.4 27.2L-4.5 -12.0M26.7 29.5L-18.0 3.4M25.0 34.2L-16.1 61.9M31.9 29.6L75.1 0.5M31.8 32.8L75.0 62.1M33.3 31.8L83.8 39.9M32.7 35.1L64.3 73.8M27.9 28.8L-1.3 -14.4M26.1 30.4L-23.9 18.0M26.3 31.3L-25.5 33.3M31.0 33.8L57.2 78.7M26.2 34.4L-10.1 69.4M27.0 30.4L-22.8 14.2M28.3 26.2L16.1 -22.1M30.2 26.4L37.8 -23.2M33.4 31.4L84.4 33.9M33.9 33.1L80.2 52.6M31.6 35.3L54.4 80.3M29.4 35.8L28.5 86.2M28.5 33.6L8.1 81.9M26.9 33.4L-12.6 66.6M32.2 29.2L74.1 -0.9M25.4 31.1L-25.5 30.1M32.1 30.3L81.6 13.6M26.3 28.8L-14.8 -1.5M29.0 25.8L24.2 -23.5M27.8 35.5L9.2 82.3M25.4 30.5L-24.8 22.3M34.1 33.1L80.2 52.6M33.0 30.7L83.9 23.2M27.2 36.2L6.7 81.2M31.6 32.9L72.4 65.6M33.9 33.4L78.8 55.7M29.7 27.4L32.9 -23.7M27.6 29.4L-10.3 -6.8M27.1 28.2L-4.3 -12.2M25.9 30.8L-25.2 25.2M26.9 33.0L-15.3 63.1M33.1 32.3L81.9 47.8M29.6 35.8L30.5 86.2M31.4 26.9L52.1 -19.0M26.4 32.1L-23.4 46.2M26.5 33.8L-11.8 67.5M25.9 27.2L-7.7 -9.3M32.9 33.2L76.8 59.3M24.9 31.4L-25.4 34.0M33.2 28.1L72.0 -3.7M26.2 27.8L-8.9 -8.1M27.0 26.8L2.4 -16.7M28.1 26.9L12.2 -21.0M29.7 36.4L31.1 86.2M26.2 34.1L-12.0 67.3" stroke="#fff" stroke-width="0.4" stroke-opacity="0.25" fill="none"/><path d="M21.6 14.9h1.0v1.0h-1.0zM25.6 12.8h1.0v1.0h-1.0zM27.0 27.1h1.0v1.0h-1.0zM27.2 18.6h1.0v1.0h-1.0zM27.3 27.6h1.0v1.0h-1.0zM28.5 29.3h1.0v1.0h-1.0zM27.7 19.6h1.0v1.0h-1.0zM27.5 20.7h1.0v1.0h-1.0zM31.2 3.6h1.0v1.0h-1.0zM34.4 2.0h1.0v1.0h-1.0zM37.0 2.2h1.0v1.0h-1.0zM35.4 2.4h1.0v1.0h-1.0zM45.3 6.2h1.0v1.0h-1.0zM47.5 6.5h1.0v1.0h-1.0zM41.8 8.9h1.0v1.0h-1.0zM45.0 10.8h1.0v1.0h-1.0zM44.7 10.9h1.0v1.0h-1.0zM51.0 10.7h1.0v1.0h-1.0zM54.8 9.5h1.0v1.0h-1.0zM56.9 24.1h1.0v1.0h-1.0zM53.1 24.0h1.0v1.0h-1.0zM53.7 25.8h1.0v1.0h-1.0zM54.4 35.2h1.0v1.0h-1.0zM51.7 32.9h1.0v1.0h-1.0zM49.3 34.6h1.0v1.0h-1.0zM46.0 33.8h1.0v1.0h-1.0zM43.4 36.6h1.0v1.0h-1.0zM37.2 34.9h1.0v1.0h-1.0zM37.3 33.6h1.0v1.0h-1.0zM30.0 34.2h1.0v1.0h-1.0zM30.4 41.0h1.0v1.0h-1.0zM27.4 26.7h1.0v1.0h-1.0zM34.4 24.5h1.0v1.0h-1.0zM27.7 20.0h1.0v1.0h-1.0zM31.5 28.2h1.0v1.0h-1.0zM22.7 20.8h1.0v1.0h-1.0zM22.2 20.3h1.0v1.0h-1.0zM14.4 17.2h1.0v1.0h-1.0zM19.2 16.4h1.0v1.0h-1.0zM18.3 20.4h1.0v1.0h-1.0zM18.2 23.1h1.0v1.0h-1.0zM9.7 27.8h1.0v1.0h-1.0zM14.2 25.9h1.0v1.0h-1.0zM9.9 30.7h1.0v1.0h-1.0zM7.6 32.2h1.0v1.0h-1.0zM7.5 36.9h1.0v1.0h-1.0zM2.0 42.8h1.0v1.0h-1.0zM3.8 39.2h1.0v1.0h-1.0zM2.2 54.6h1.0v1.0h-1.0zM-1.7 47.8h1.0v1.0h-1.0zM2.6 53.1h1.0v1.0h-1.0zM2.5 52.1h1.0v1.0h-1.0zM2.3 55.7h1.0v1.0h-1.0zM11.0 60.9h1.0v1.0h-1.0zM13.2 53.0h1.0v1.0h-1.0zM17.8 52.3h1.0v1.0h-1.0zM9.6 56.3h1.0v1.0h-1.0zM16.7 51.6h1.0v1.0h-1.0zM10.1 57.7h1.0v1.0h-1.0zM18.5 48.1h1.0v1.0h-1.0zM26.9 40.8h1.0v1.0h-1.0zM19.7 46.5h1.0v1.0h-1.0zM27.6 41.8h1.0v1.0h-1.0zM25.3 39.8h1.0v1.0h-1.0zM19.2 45.6h1.0v1.0h-1.0zM21.8 44.9h1.0v1.0h-1.0z" fill="#684387"/><path d="M22.2 30.9h1.0v1.0h-1.0zM19.2 19.9h1.0v1.0h-1.0zM18.4 18.6h1.0v1.0h-1.0zM19.1 19.9h1.0v1.0h-1.0zM13.6 9.3h1.0v1.0h-1.0zM16.6 10.0h1.0v1.0h-1.0zM27.8 14.0h1.0v1.0h-1.0zM26.7 8.9h1.0v1.0h-1.0zM29.1 14.1h1.0v1.0h-1.0zM28.8 17.5h1.0v1.0h-1.0zM32.5 24.6h1.0v1.0h-1.0zM32.1 26.0h1.0v1.0h-1.0zM41.6 30.7h1.0v1.0h-1.0zM49.3 32.3h1.0v1.0h-1.0zM53.8 38.1h1.0v1.0h-1.0zM55.6 39.6h1.0v1.0h-1.0zM51.1 41.5h1.0v1.0h-1.0zM47.6 39.7h1.0v1.0h-1.0zM45.9 38.9h1.0v1.0h-1.0zM42.8 47.6h1.0v1.0h-1.0zM40.4 40.5h1.0v1.0h-1.0zM45.0 49.4h1.0v1.0h-1.0zM43.4 49.1h1.0v1.0h-1.0zM39.4 57.6h1.0v1.0h-1.0zM35.3 62.1h1.0v1.0h-1.0zM26.8 64.7h1.0v1.0h-1.0zM24.4 62.8h1.0v1.0h-1.0zM23.8 55.5h1.0v1.0h-1.0zM21.3 54.3h1.0v1.0h-1.0zM23.6 45.1h1.0v1.0h-1.0zM24.7 41.5h1.0v1.0h-1.0zM23.2 37.8h1.0v1.0h-1.0zM26.5 31.9h1.0v1.0h-1.0z" fill="#efd335"/><path d="M35.1 36.8h1.0v1.0h-1.0zM32.9 37.0h1.0v1.0h-1.0zM26.8 49.0h1.0v1.0h-1.0zM25.8 53.4h1.0v1.0h-1.0zM21.2 57.5h1.0v1.0h-1.0zM13.5 56.4h1.0v1.0h-1.0zM14.6 53.9h1.0v1.0h-1.0zM13.1 46.5h1.0v1.0h-1.0zM15.4 40.1h1.0v1.0h-1.0zM24.5 32.1h1.0v1.0h-1.0zM22.6 34.0h1.0v1.0h-1.0z" fill="#5eaa9d"/></g>
<path d="M92.52,27.10V100.50H151.32" fill="none" stroke="#1c1c1c" stroke-width="1.15"/>
<text x="199.59" y="25.80" font-size="11" text-anchor="middle" fill="#0a0a0a" class="t">18.068</text>
<g transform="translate(162.44,27.10)"><polygon points="35.4,29.5 47.1,24.7 50.7,33.0 38.9,35.4" fill="url(#spY3)"/><g filter="url(#rough)"><polygon points="23.6,33.0 28.3,34.2 31.8,49.5 33.6,58.9 30.6,58.9 27.1,49.5 22.4,37.7" fill="#efd335" fill-opacity="0.7"/><polygon points="17.7,33.0 20.0,34.2 17.1,51.9 15.1,52.4 16.5,38.9" fill="#efd335" fill-opacity="0.7"/><polygon points="20.6,23.0 30.6,21.8 43.6,21.2 46.6,24.2 45.4,28.9 35.4,30.1 28.3,34.2 23.6,35.4 18.9,34.2 18.3,28.3" fill="#efd335"/><polygon points="20.6,23.0 21.2,11.8 23.0,13.0 27.1,11.8 34.2,7.1 38.9,4.7 40.7,7.1 37.7,11.8 34.2,16.5 29.5,18.9 42.4,20.6 35.4,22.4 23.6,23.0" fill="#684387"/><polygon points="20.6,23.0 14.1,14.1 13.0,17.7 8.2,16.5 5.9,18.9 7.1,23.6 4.7,27.7 15.3,24.7" fill="#684387"/><polygon points="16.5,30.6 17.7,35.4 11.8,41.2 9.4,38.9 8.2,36.5 11.8,34.2" fill="#684387"/><polygon points="20.6,23.0 15.3,25.3 9.4,29.5 7.7,35.4 8.2,37.7 13.0,34.2 17.7,30.6" fill="#5eaa9d"/><polygon points="14.5,5.5 17.8,5.0 21.5,23.5 19.0,24.0" fill="#efd335"/><polygon points="18.0,27.0 20.5,27.5 16.5,52.5 14.8,52.0" fill="#efd335"/><polygon points="21.0,29.0 25.0,28.5 33.0,55.0 30.0,56.5" fill="#efd335"/></g><path d="M23.0 18.2L45.5 -26.0M23.1 22.8L75.5 19.3M19.3 26.2L-0.5 73.8M18.3 24.9L-22.0 57.7M18.0 22.1L-31.4 4.9M18.9 28.0L2.8 75.0M20.4 19.1L18.0 -31.9M24.8 26.4L63.4 57.6M19.7 20.0L4.9 -29.7M18.3 26.8L-7.5 70.3M19.2 20.0L-2.3 -27.0M23.9 22.0L73.0 6.4M20.5 28.0L19.1 78.0M23.2 26.7L52.0 68.2M21.9 27.1L37.6 75.3M20.0 26.6L11.2 77.2M24.2 21.6L71.8 3.0M16.6 24.7L-30.1 44.2M20.0 26.0L10.1 77.0M18.1 25.2L-20.6 59.5M22.6 28.0L41.3 73.9M25.4 24.1L74.3 34.8M24.8 21.2L71.0 1.1M24.6 23.5L75.2 29.5M24.8 24.1L73.9 36.4M19.6 19.9L3.7 -29.4M24.7 23.2L75.5 25.6M23.4 24.9L66.2 53.8M15.6 24.5L-32.1 38.6M18.6 25.1L-17.1 63.1M21.9 18.2L34.9 -30.1M18.0 22.5L-33.5 12.9M22.0 26.4L41.6 73.8M17.6 22.0L-31.5 5.4M22.2 18.2L38.4 -29.0M25.2 20.7L69.6 -1.9M24.8 23.5L75.3 29.1M25.1 25.5L68.7 49.6M20.5 18.2L19.5 -32.0M21.6 25.5L41.4 73.9M22.3 19.0L42.5 -27.4M17.8 20.3L-19.4 -14.7M21.7 19.7L37.6 -29.3M20.2 26.5L13.8 77.6M19.3 27.2L4.3 75.5M22.7 21.3L63.0 -12.0M24.3 24.7L70.7 45.7M19.3 20.2L-3.4 -26.5M20.3 25.7L13.8 77.6M24.5 23.9L74.1 35.7M18.7 19.0L-2.6 -26.9M22.1 25.4L50.6 69.1M24.3 21.3L70.5 -0.1M16.8 25.5L-25.5 52.9M20.0 19.0L13.0 -31.5M25.0 25.4L69.1 49.0M21.2 25.6L33.0 76.6M18.1 26.3L-12.4 67.0M18.5 20.8L-17.5 -16.7M19.6 19.1L6.8 -30.2" stroke="#fff" stroke-width="0.4" stroke-opacity="0.25" fill="none"/><path d="M29.6 28.6h1.0v1.0h-1.0zM33.6 43.2h1.0v1.0h-1.0zM34.1 36.3h1.0v1.0h-1.0zM36.3 38.1h1.0v1.0h-1.0zM37.7 47.4h1.0v1.0h-1.0zM35.8 50.9h1.0v1.0h-1.0zM35.7 56.9h1.0v1.0h-1.0zM32.2 62.2h1.0v1.0h-1.0zM26.8 55.0h1.0v1.0h-1.0zM18.7 52.9h1.0v1.0h-1.0zM20.0 42.4h1.0v1.0h-1.0zM24.1 47.9h1.0v1.0h-1.0zM22.3 45.8h1.0v1.0h-1.0zM21.0 35.6h1.0v1.0h-1.0zM20.2 28.1h1.0v1.0h-1.0zM20.1 46.0h1.0v1.0h-1.0zM25.3 44.1h1.0v1.0h-1.0zM21.7 42.1h1.0v1.0h-1.0zM22.8 44.5h1.0v1.0h-1.0zM13.4 39.4h1.0v1.0h-1.0zM13.9 42.2h1.0v1.0h-1.0zM13.2 46.2h1.0v1.0h-1.0zM13.8 34.0h1.0v1.0h-1.0zM21.7 18.2h1.0v1.0h-1.0zM26.6 18.9h1.0v1.0h-1.0zM38.0 18.0h1.0v1.0h-1.0zM41.1 17.4h1.0v1.0h-1.0zM33.6 20.5h1.0v1.0h-1.0zM49.3 28.8h1.0v1.0h-1.0zM36.4 32.3h1.0v1.0h-1.0zM36.5 34.7h1.0v1.0h-1.0zM31.2 37.7h1.0v1.0h-1.0zM34.5 35.2h1.0v1.0h-1.0zM27.5 43.3h1.0v1.0h-1.0zM22.3 37.7h1.0v1.0h-1.0zM13.7 33.0h1.0v1.0h-1.0zM17.1 27.0h1.0v1.0h-1.0zM25.5 22.5h1.0v1.0h-1.0zM20.7 9.3h1.0v1.0h-1.0zM20.8 12.5h1.0v1.0h-1.0zM25.2 15.3h1.0v1.0h-1.0zM20.9 27.8h1.0v1.0h-1.0zM12.4 12.2h1.0v1.0h-1.0zM15.3 21.4h1.0v1.0h-1.0zM13.7 14.3h1.0v1.0h-1.0zM13.1 21.1h1.0v1.0h-1.0zM22.5 31.5h1.0v1.0h-1.0zM23.5 31.2h1.0v1.0h-1.0zM23.6 40.3h1.0v1.0h-1.0zM20.9 34.2h1.0v1.0h-1.0zM20.6 37.5h1.0v1.0h-1.0zM13.8 30.0h1.0v1.0h-1.0zM13.1 41.5h1.0v1.0h-1.0zM8.9 48.5h1.0v1.0h-1.0zM13.9 45.2h1.0v1.0h-1.0zM13.4 27.6h1.0v1.0h-1.0zM23.3 22.2h1.0v1.0h-1.0zM27.8 31.3h1.0v1.0h-1.0zM33.6 47.0h1.0v1.0h-1.0zM30.9 42.3h1.0v1.0h-1.0zM29.8 35.7h1.0v1.0h-1.0zM34.1 42.5h1.0v1.0h-1.0zM30.2 38.1h1.0v1.0h-1.0zM18.7 32.2h1.0v1.0h-1.0zM27.3 53.5h1.0v1.0h-1.0zM22.3 40.3h1.0v1.0h-1.0zM23.1 44.3h1.0v1.0h-1.0zM20.2 32.7h1.0v1.0h-1.0z" fill="#efd335"/><path d="M17.1 19.6h1.0v1.0h-1.0zM15.6 18.3h1.0v1.0h-1.0zM18.8 19.2h1.0v1.0h-1.0zM18.4 20.2h1.0v1.0h-1.0zM21.7 14.1h1.0v1.0h-1.0zM23.3 10.7h1.0v1.0h-1.0zM25.5 5.3h1.0v1.0h-1.0zM32.2 5.1h1.0v1.0h-1.0zM28.8 7.6h1.0v1.0h-1.0zM35.1 2.6h1.0v1.0h-1.0zM33.3 0.8h1.0v1.0h-1.0zM42.3 4.1h1.0v1.0h-1.0zM42.0 10.1h1.0v1.0h-1.0zM39.8 11.6h1.0v1.0h-1.0zM37.8 15.2h1.0v1.0h-1.0zM40.1 19.2h1.0v1.0h-1.0zM32.8 20.5h1.0v1.0h-1.0zM39.3 26.7h1.0v1.0h-1.0zM39.3 23.4h1.0v1.0h-1.0zM33.1 22.9h1.0v1.0h-1.0zM32.2 23.1h1.0v1.0h-1.0zM41.8 22.2h1.0v1.0h-1.0zM38.8 28.4h1.0v1.0h-1.0zM41.6 24.7h1.0v1.0h-1.0zM24.1 25.7h1.0v1.0h-1.0zM26.8 26.5h1.0v1.0h-1.0zM30.7 25.5h1.0v1.0h-1.0zM35.3 33.1h1.0v1.0h-1.0zM22.5 28.9h1.0v1.0h-1.0zM17.4 13.4h1.0v1.0h-1.0zM21.5 21.8h1.0v1.0h-1.0zM23.9 20.5h1.0v1.0h-1.0zM18.0 12.7h1.0v1.0h-1.0zM15.2 15.9h1.0v1.0h-1.0zM16.4 17.3h1.0v1.0h-1.0zM11.8 15.2h1.0v1.0h-1.0zM6.5 15.9h1.0v1.0h-1.0zM4.8 16.3h1.0v1.0h-1.0zM5.3 20.8h1.0v1.0h-1.0zM2.4 22.0h1.0v1.0h-1.0zM16.1 30.1h1.0v1.0h-1.0zM10.9 32.5h1.0v1.0h-1.0zM12.1 31.9h1.0v1.0h-1.0zM8.1 29.8h1.0v1.0h-1.0zM18.0 25.7h1.0v1.0h-1.0zM20.3 25.1h1.0v1.0h-1.0zM19.5 30.9h1.0v1.0h-1.0zM14.2 41.6h1.0v1.0h-1.0zM20.2 37.9h1.0v1.0h-1.0zM16.3 41.5h1.0v1.0h-1.0zM7.2 44.1h1.0v1.0h-1.0zM7.3 40.9h1.0v1.0h-1.0zM7.2 39.2h1.0v1.0h-1.0zM9.2 33.5h1.0v1.0h-1.0zM12.9 29.3h1.0v1.0h-1.0zM11.8 30.1h1.0v1.0h-1.0z" fill="#684387"/><path d="M15.8 21.3h1.0v1.0h-1.0zM13.7 23.2h1.0v1.0h-1.0zM7.3 31.0h1.0v1.0h-1.0zM12.6 37.3h1.0v1.0h-1.0zM14.2 39.0h1.0v1.0h-1.0zM18.1 32.2h1.0v1.0h-1.0zM22.1 29.1h1.0v1.0h-1.0zM20.8 28.8h1.0v1.0h-1.0z" fill="#5eaa9d"/></g>
<path d="M162.44,27.10V100.50H221.24" fill="none" stroke="#1c1c1c" stroke-width="1.15"/>
<text x="269.43" y="25.80" font-size="11" text-anchor="middle" fill="#0a0a0a" class="t">18.144</text>
<g transform="translate(232.36,27.10)"><polygon points="34.2,46.0 34.2,49.5 30.6,55.4 28.3,61.3 24.7,61.3 22.4,55.4 20.0,50.7 16.5,47.1 16.5,46.0" fill="url(#spY2)"/><g filter="url(#rough)"><polygon points="25.3,24.2 30.6,25.3 41.2,25.9 48.3,28.3 50.7,31.2 43.6,32.4 35.4,34.2 34.2,41.2 34.2,47.1 16.5,47.1 16.5,41.2 15.3,38.9 11.2,41.2 15.3,35.4 22.4,27.1" fill="#efd335"/><polygon points="25.3,24.2 15.3,9.4 17.7,8.2 23.6,13.0 28.3,17.7" fill="#efd335"/><polygon points="25.3,24.2 28.3,17.7 34.2,17.7 40.1,14.1 47.1,14.1 50.7,16.5 54.2,21.2 49.5,25.3 41.2,25.3 30.6,25.3" fill="#684387"/><polygon points="25.3,24.2 20.0,21.2 11.8,21.2 5.3,21.8 5.9,23.6 11.8,25.3 21.2,25.3" fill="#684387"/><polygon points="25.3,24.2 21.2,25.3 11.8,25.9 4.7,28.3 7.1,30.6 9.4,35.4 11.2,37.7 15.3,34.2 22.4,27.1" fill="#5eaa9d"/></g><path d="M28.0 28.5L54.2 71.0M27.1 19.3L44.5 -27.3M23.9 21.4L1.7 -25.5M26.2 19.1L34.8 -30.0M20.2 23.1L-28.5 12.8M28.9 23.5L79.3 14.0M30.3 22.3L76.7 4.5M26.0 21.8L40.3 -28.7M22.7 27.7L-7.6 68.3M21.6 21.2L-17.7 -10.1M23.5 21.8L-7.9 -19.6M29.0 22.5L75.2 1.0M27.6 22.1L65.8 -13.0M29.5 24.1L80.3 23.5M26.1 19.5L34.1 -30.1M28.0 21.8L66.0 -12.7M28.5 26.0L73.0 51.5M27.1 27.9L49.3 73.7M26.7 20.9L47.1 -26.3M27.1 26.1L62.7 64.5M21.5 26.2L-23.4 49.8M29.7 24.9L79.6 33.2M26.0 26.9L38.7 77.5M29.0 22.4L74.7 0.1M28.5 21.7L68.8 -9.5M27.6 26.4L64.7 62.6M21.4 26.2L-23.6 49.4M25.9 19.5L32.5 -30.3M23.4 21.6L-6.8 -20.5M22.0 25.7L-24.5 47.6M22.0 24.4L-29.6 27.8M21.5 23.3L-28.2 11.3M30.1 25.3L78.9 36.4M21.1 21.7L-21.8 -4.2M24.9 19.5L20.7 -30.6M28.9 24.1L80.3 21.9M23.3 25.8L-17.9 58.3M23.1 20.6L-2.9 -23.0M20.4 21.7L-23.5 -1.2M26.3 27.2L43.3 76.2M24.8 19.3L19.8 -30.5M22.7 24.5L-29.4 30.1M21.9 27.8L-12.5 64.2M21.4 24.2L-29.7 24.3M21.9 27.0L-17.0 59.4M21.6 21.5L-19.5 -7.7M28.4 20.6L61.7 -17.0M23.0 26.5L-13.6 63.1M26.3 19.4L36.2 -29.7M28.1 22.8L74.8 0.2M28.3 20.0L57.0 -20.8M28.3 25.8L74.0 49.9M23.3 22.0L-11.4 -16.8M26.9 21.3L52.1 -23.8M23.9 21.1L2.6 -25.9M25.9 27.3L36.2 78.1M20.7 24.3L-29.7 25.0M26.2 28.7L36.3 78.1M23.0 28.0L-2.7 71.5M23.2 26.5L-11.9 64.7" stroke="#fff" stroke-width="0.4" stroke-opacity="0.25" fill="none"/><path d="M28.6 21.7h1.0v1.0h-1.0zM39.3 22.0h1.0v1.0h-1.0zM36.2 21.8h1.0v1.0h-1.0zM50.1 20.9h1.0v1.0h-1.0zM47.0 26.0h1.0v1.0h-1.0zM45.6 35.3h1.0v1.0h-1.0zM42.3 33.9h1.0v1.0h-1.0zM36.2 40.2h1.0v1.0h-1.0zM35.6 41.2h1.0v1.0h-1.0zM39.7 46.3h1.0v1.0h-1.0zM24.4 48.6h1.0v1.0h-1.0zM19.5 52.1h1.0v1.0h-1.0zM28.8 49.7h1.0v1.0h-1.0zM14.0 43.4h1.0v1.0h-1.0zM14.0 40.8h1.0v1.0h-1.0zM13.1 35.8h1.0v1.0h-1.0zM10.6 36.4h1.0v1.0h-1.0zM14.1 32.4h1.0v1.0h-1.0zM21.0 26.0h1.0v1.0h-1.0zM22.5 22.7h1.0v1.0h-1.0zM19.2 20.4h1.0v1.0h-1.0zM16.1 17.2h1.0v1.0h-1.0zM12.7 12.8h1.0v1.0h-1.0zM22.2 10.4h1.0v1.0h-1.0zM22.2 7.5h1.0v1.0h-1.0zM26.0 10.2h1.0v1.0h-1.0zM29.1 21.5h1.0v1.0h-1.0zM28.8 24.4h1.0v1.0h-1.0z" fill="#efd335"/><path d="M24.1 21.0h1.0v1.0h-1.0zM24.8 21.4h1.0v1.0h-1.0zM23.9 15.2h1.0v1.0h-1.0zM33.3 15.2h1.0v1.0h-1.0zM33.2 13.0h1.0v1.0h-1.0zM36.9 13.2h1.0v1.0h-1.0zM37.0 12.1h1.0v1.0h-1.0zM44.5 7.0h1.0v1.0h-1.0zM41.3 12.1h1.0v1.0h-1.0zM46.3 11.9h1.0v1.0h-1.0zM50.2 12.1h1.0v1.0h-1.0zM52.5 15.6h1.0v1.0h-1.0zM56.1 18.2h1.0v1.0h-1.0zM53.0 17.6h1.0v1.0h-1.0zM52.5 25.7h1.0v1.0h-1.0zM55.2 26.7h1.0v1.0h-1.0zM44.7 28.6h1.0v1.0h-1.0zM43.2 27.2h1.0v1.0h-1.0zM46.6 28.6h1.0v1.0h-1.0zM35.5 29.2h1.0v1.0h-1.0zM37.3 27.1h1.0v1.0h-1.0zM31.8 28.7h1.0v1.0h-1.0zM34.3 32.6h1.0v1.0h-1.0zM27.7 29.4h1.0v1.0h-1.0zM27.8 32.6h1.0v1.0h-1.0zM26.6 18.6h1.0v1.0h-1.0zM21.8 19.8h1.0v1.0h-1.0zM15.0 15.3h1.0v1.0h-1.0zM12.8 17.0h1.0v1.0h-1.0zM14.0 17.2h1.0v1.0h-1.0zM11.0 17.3h1.0v1.0h-1.0zM9.1 17.0h1.0v1.0h-1.0zM4.4 11.1h1.0v1.0h-1.0zM1.4 24.5h1.0v1.0h-1.0zM7.3 27.0h1.0v1.0h-1.0zM7.9 26.1h1.0v1.0h-1.0zM13.1 28.4h1.0v1.0h-1.0zM14.4 29.5h1.0v1.0h-1.0zM19.4 29.9h1.0v1.0h-1.0zM20.8 27.3h1.0v1.0h-1.0zM24.2 27.5h1.0v1.0h-1.0z" fill="#684387"/><path d="M23.6 20.6h1.0v1.0h-1.0zM16.9 22.8h1.0v1.0h-1.0zM8.4 22.4h1.0v1.0h-1.0zM3.1 35.0h1.0v1.0h-1.0zM0.6 35.5h1.0v1.0h-1.0zM7.7 38.5h1.0v1.0h-1.0zM15.4 41.4h1.0v1.0h-1.0zM21.2 36.0h1.0v1.0h-1.0zM20.1 32.9h1.0v1.0h-1.0z" fill="#5eaa9d"/></g>
<path d="M232.36,27.10V100.50H291.16" fill="none" stroke="#1c1c1c" stroke-width="1.15"/>
<text x="339.28" y="25.80" font-size="11" text-anchor="middle" fill="#0a0a0a" class="t">18.162</text>
<g transform="translate(302.28,27.10)"><polygon points="41.2,49.5 41.2,53.0 42.4,61.3 40.1,66.0 37.7,63.6 35.4,55.4 34.2,49.5" fill="url(#spY2)"/><g filter="url(#rough)"><polygon points="28.3,23.6 35.4,23.6 47.1,23.0 48.3,28.3 44.8,34.2 44.8,41.2 42.4,47.1 41.2,50.7 34.2,50.7 31.8,47.1 28.3,42.4 23.6,40.1 21.2,43.6 17.7,35.4 23.6,28.3" fill="#efd335"/><polygon points="28.3,23.6 13.0,4.7 15.3,5.3 21.2,10.6 27.1,13.0 30.1,15.3 29.5,21.2" fill="#efd335"/><polygon points="28.3,23.6 30.1,16.5 35.4,14.1 42.4,11.8 46.0,10.6 50.7,15.3 51.9,18.9 47.1,22.4 38.9,23.6 31.8,24.2" fill="#684387"/><polygon points="28.3,23.6 23.6,17.7 21.2,20.0 9.4,21.8 10.6,24.7 21.2,24.7" fill="#684387"/><polygon points="28.3,23.6 21.2,24.7 7.1,25.3 2.4,28.9 4.7,31.8 9.4,35.4 16.5,31.8 23.6,28.3" fill="#5eaa9d"/></g><path d="M30.0 25.7L63.1 66.2M27.1 20.1L10.1 -28.3M32.0 27.2L67.6 62.1M26.9 21.5L-2.7 -21.8M27.6 19.4L19.6 -30.7M24.5 25.0L-23.3 42.6M31.8 22.7L81.8 10.7M25.4 20.3L-7.8 -17.9M25.9 26.2L-8.3 64.7M28.4 19.2L30.0 -31.4M24.4 24.7L-24.7 38.3M29.1 28.4L37.4 77.8M32.7 24.2L82.9 30.5M25.3 24.5L-24.5 39.0M24.7 21.4L-18.7 -4.9M31.7 25.7L75.3 52.1M30.8 27.8L56.3 71.0M26.7 26.7L2.7 72.3M28.9 26.2L40.2 77.3M29.4 26.3L49.6 74.3M24.7 20.1L-10.8 -15.1M28.8 26.4L38.3 77.7M25.5 23.0L-25.4 11.8M24.3 26.3L-17.2 54.4M29.6 28.0L44.3 76.2M25.6 22.9L-25.1 10.4M28.5 27.9L30.9 78.5M30.9 25.4L73.5 54.9M23.9 21.3L-20.4 -1.9M23.8 23.0L-26.2 16.6M31.7 23.8L83.2 26.7M26.1 28.4L5.5 73.6M25.3 27.4L-6.1 66.5M32.2 24.5L82.0 35.4M32.0 20.6L71.0 -11.1M25.6 22.1L-20.0 -2.8M30.8 22.4L77.5 -1.0M33.0 22.5L82.0 11.5M27.5 19.6L17.9 -30.4M30.1 26.6L56.6 70.8M26.0 19.8L-0.0 -23.6M24.5 26.7L-13.9 58.8M31.5 24.7L80.2 41.7M31.2 25.5L74.7 53.2M29.6 19.0L43.0 -29.4M30.3 26.4L60.8 68.0M31.7 26.5L70.2 59.2M25.3 24.7L-23.2 43.0M24.7 27.2L-10.4 62.7M24.2 25.7L-20.7 48.5M25.6 20.8L-9.9 -15.9M24.9 22.4L-23.3 4.5M29.6 27.4L45.8 75.7M27.1 26.9L9.8 75.4M30.3 28.4L49.7 74.3M25.5 25.0L-20.8 48.4M31.4 24.2L82.2 34.5M30.7 21.0L65.6 -16.9M26.7 20.8L0.9 -24.1M26.0 20.5L-3.9 -21.0" stroke="#fff" stroke-width="0.4" stroke-opacity="0.25" fill="none"/><path d="M30.7 18.7h1.0v1.0h-1.0zM31.4 17.6h1.0v1.0h-1.0zM38.5 21.5h1.0v1.0h-1.0zM40.5 19.9h1.0v1.0h-1.0zM49.0 22.3h1.0v1.0h-1.0zM49.7 30.9h1.0v1.0h-1.0zM47.5 37.5h1.0v1.0h-1.0zM44.5 47.5h1.0v1.0h-1.0zM45.3 49.4h1.0v1.0h-1.0zM38.5 55.8h1.0v1.0h-1.0zM36.0 53.3h1.0v1.0h-1.0zM30.3 50.9h1.0v1.0h-1.0zM23.3 49.2h1.0v1.0h-1.0zM22.9 43.2h1.0v1.0h-1.0zM17.0 45.3h1.0v1.0h-1.0zM18.7 44.4h1.0v1.0h-1.0zM16.0 33.7h1.0v1.0h-1.0zM17.0 23.6h1.0v1.0h-1.0zM24.8 21.9h1.0v1.0h-1.0zM15.6 11.1h1.0v1.0h-1.0zM12.5 10.1h1.0v1.0h-1.0zM22.1 19.1h1.0v1.0h-1.0zM12.8 6.8h1.0v1.0h-1.0zM24.6 22.6h1.0v1.0h-1.0zM19.7 3.4h1.0v1.0h-1.0zM18.8 5.9h1.0v1.0h-1.0zM23.2 8.0h1.0v1.0h-1.0zM23.9 8.5h1.0v1.0h-1.0zM30.3 11.6h1.0v1.0h-1.0zM32.9 17.3h1.0v1.0h-1.0zM31.3 17.0h1.0v1.0h-1.0zM31.2 22.8h1.0v1.0h-1.0z" fill="#efd335"/><path d="M21.8 17.3h1.0v1.0h-1.0zM26.4 21.2h1.0v1.0h-1.0zM26.9 20.8h1.0v1.0h-1.0zM30.4 12.0h1.0v1.0h-1.0zM33.2 13.0h1.0v1.0h-1.0zM37.9 9.5h1.0v1.0h-1.0zM38.2 6.5h1.0v1.0h-1.0zM44.6 7.0h1.0v1.0h-1.0zM50.9 13.3h1.0v1.0h-1.0zM48.5 10.7h1.0v1.0h-1.0zM49.2 8.5h1.0v1.0h-1.0zM55.6 17.9h1.0v1.0h-1.0zM52.3 25.1h1.0v1.0h-1.0zM49.0 23.7h1.0v1.0h-1.0zM40.6 28.2h1.0v1.0h-1.0zM44.6 26.4h1.0v1.0h-1.0zM35.3 26.8h1.0v1.0h-1.0zM32.3 25.9h1.0v1.0h-1.0zM30.9 27.2h1.0v1.0h-1.0zM29.0 25.5h1.0v1.0h-1.0zM34.4 17.6h1.0v1.0h-1.0zM29.5 14.8h1.0v1.0h-1.0zM26.0 20.7h1.0v1.0h-1.0zM15.9 19.3h1.0v1.0h-1.0zM13.8 12.3h1.0v1.0h-1.0zM17.0 19.1h1.0v1.0h-1.0zM8.8 14.2h1.0v1.0h-1.0zM5.2 23.4h1.0v1.0h-1.0zM5.8 25.6h1.0v1.0h-1.0zM21.0 26.8h1.0v1.0h-1.0zM19.8 27.6h1.0v1.0h-1.0zM17.4 27.2h1.0v1.0h-1.0zM18.6 26.9h1.0v1.0h-1.0zM27.4 27.5h1.0v1.0h-1.0zM24.8 30.5h1.0v1.0h-1.0zM25.5 29.8h1.0v1.0h-1.0z" fill="#684387"/><path d="M26.0 21.3h1.0v1.0h-1.0zM9.8 22.2h1.0v1.0h-1.0zM12.4 23.4h1.0v1.0h-1.0zM18.3 18.0h1.0v1.0h-1.0zM0.8 24.7h1.0v1.0h-1.0zM1.6 31.1h1.0v1.0h-1.0zM4.0 37.8h1.0v1.0h-1.0zM4.5 33.0h1.0v1.0h-1.0zM16.7 34.9h1.0v1.0h-1.0zM24.6 32.6h1.0v1.0h-1.0zM22.8 37.1h1.0v1.0h-1.0zM30.5 25.7h1.0v1.0h-1.0zM31.5 27.2h1.0v1.0h-1.0z" fill="#5eaa9d"/></g>
<path d="M302.28,27.10V100.50H361.08" fill="none" stroke="#1c1c1c" stroke-width="1.15"/>
<text x="409.13" y="25.80" font-size="11" text-anchor="middle" fill="#0a0a0a" class="t">18.200</text>
<g transform="translate(372.20,27.10)"><g filter="url(#rough)"><polygon points="27.1,28.3 16.5,16.5 11.8,10.6 17.7,8.2 22.4,7.1 27.1,8.2 28.3,17.7" fill="#efd335"/><polygon points="27.1,28.3 31.8,28.9 42.4,30.6 43.6,34.2 37.7,35.4 41.2,42.4 44.8,49.5 48.3,55.4 46.0,56.0 41.2,51.9 34.2,43.6 30.6,38.9 28.3,48.3 25.3,48.3 23.6,42.4 20.0,47.1 15.3,53.0 14.1,51.9 17.7,43.6 23.6,33.0" fill="#efd335"/><polygon points="27.1,28.3 28.9,22.4 31.8,20.6 38.9,20.6 44.8,21.2 48.3,24.7 44.8,27.1 38.9,28.9 31.8,28.9" fill="#684387"/><polygon points="27.1,28.3 22.4,26.5 16.5,27.7 14.1,30.1 23.6,29.5" fill="#684387"/><polygon points="27.1,28.3 23.6,29.5 14.1,30.6 8.2,34.2 10.6,37.7 17.7,37.7 23.6,33.0" fill="#5eaa9d"/></g><path d="M26.8 24.2L22.4 -26.5M24.7 30.7L-11.9 67.1M23.0 25.5L-18.5 -2.4M25.7 24.6L7.4 -23.0M24.6 32.9L1.1 76.7M28.8 25.9L58.4 -17.0M25.0 24.0L3.4 -21.4M24.7 23.5L2.4 -20.8M29.4 26.1L67.0 -9.6M30.6 28.2L82.1 27.2M23.1 32.0L-12.9 66.0M28.9 31.5L54.4 76.0M24.8 25.9L-11.6 -10.8M26.6 33.2L21.2 83.0M23.5 25.2L-14.7 -7.4M28.4 23.3L40.7 -25.0M31.0 25.2L70.3 -5.8M31.1 27.8L81.6 20.9M25.9 24.4L10.6 -24.2M31.5 27.4L81.1 17.8M23.0 30.2L-22.8 51.5M26.3 31.1L11.8 81.1M24.9 30.2L-14.5 64.3M29.9 28.4L82.1 29.7M22.5 29.7L-25.7 43.9M31.3 29.6L79.6 44.8M30.2 30.9L69.2 63.7M26.0 32.0L11.5 81.0M26.2 24.7L14.1 -25.1M23.5 31.2L-15.7 62.9M29.7 30.7L68.2 64.9M25.6 23.5L10.7 -24.2M30.3 27.9L81.6 21.2M24.7 25.9L-11.7 -10.6M25.6 23.5L10.7 -24.2M29.4 31.0L63.5 69.6M30.4 26.9L77.7 6.9M23.8 24.6L-10.0 -12.3M26.2 33.1L17.2 82.4M30.6 28.4L82.1 29.6M28.9 31.4L54.5 76.0M27.7 30.8L39.7 81.8M28.1 25.4L45.1 -23.7M23.4 26.5L-22.2 3.9M30.0 24.2L59.3 -16.3M24.9 26.2L-12.6 -9.8M27.3 25.5L30.8 -26.6M30.2 26.8L76.7 4.4M27.0 31.4L26.1 83.3M23.2 31.3L-16.6 61.7M30.0 24.6L60.8 -15.2M26.7 25.1L20.0 -26.2M25.6 31.4L3.3 77.9M22.4 30.4L-23.1 50.7M29.9 28.2L82.1 26.9M32.2 27.1L80.7 16.2M22.7 29.4L-26.3 41.7M27.8 25.3L38.9 -25.4M23.0 24.7L-14.0 -8.3M30.9 24.7L67.3 -9.3" stroke="#fff" stroke-width="0.4" stroke-opacity="0.25" fill="none"/><path d="M18.8 21.3h1.0v1.0h-1.0zM14.1 20.1h1.0v1.0h-1.0zM15.1 19.4h1.0v1.0h-1.0zM14.8 17.9h1.0v1.0h-1.0zM13.7 5.2h1.0v1.0h-1.0zM17.8 6.3h1.0v1.0h-1.0zM26.4 2.2h1.0v1.0h-1.0zM29.9 10.1h1.0v1.0h-1.0zM30.3 16.0h1.0v1.0h-1.0zM33.4 28.6h1.0v1.0h-1.0zM30.4 20.2h1.0v1.0h-1.0zM31.5 20.4h1.0v1.0h-1.0zM29.9 24.0h1.0v1.0h-1.0zM33.1 26.9h1.0v1.0h-1.0zM38.9 26.6h1.0v1.0h-1.0zM47.7 30.9h1.0v1.0h-1.0zM42.5 32.1h1.0v1.0h-1.0zM38.2 32.4h1.0v1.0h-1.0zM41.9 40.2h1.0v1.0h-1.0zM46.4 48.2h1.0v1.0h-1.0zM50.3 50.2h1.0v1.0h-1.0zM42.9 55.1h1.0v1.0h-1.0zM40.0 45.3h1.0v1.0h-1.0zM36.4 43.1h1.0v1.0h-1.0zM34.6 37.0h1.0v1.0h-1.0zM25.1 42.9h1.0v1.0h-1.0zM26.8 43.6h1.0v1.0h-1.0zM27.5 50.8h1.0v1.0h-1.0zM17.8 43.9h1.0v1.0h-1.0zM20.2 45.4h1.0v1.0h-1.0zM17.9 39.9h1.0v1.0h-1.0zM15.9 48.4h1.0v1.0h-1.0zM13.7 48.1h1.0v1.0h-1.0zM15.5 43.6h1.0v1.0h-1.0zM12.0 41.2h1.0v1.0h-1.0zM13.4 40.9h1.0v1.0h-1.0zM15.4 33.9h1.0v1.0h-1.0zM17.8 36.9h1.0v1.0h-1.0zM22.6 30.3h1.0v1.0h-1.0z" fill="#efd335"/><path d="M26.0 24.8h1.0v1.0h-1.0zM23.6 22.6h1.0v1.0h-1.0zM30.8 17.3h1.0v1.0h-1.0zM27.7 15.8h1.0v1.0h-1.0zM35.4 13.2h1.0v1.0h-1.0zM37.1 18.7h1.0v1.0h-1.0zM40.6 19.1h1.0v1.0h-1.0zM42.8 18.4h1.0v1.0h-1.0zM47.9 21.6h1.0v1.0h-1.0zM47.4 20.8h1.0v1.0h-1.0zM49.7 32.2h1.0v1.0h-1.0zM47.3 31.2h1.0v1.0h-1.0zM45.9 30.5h1.0v1.0h-1.0zM41.9 34.7h1.0v1.0h-1.0zM34.0 33.6h1.0v1.0h-1.0zM32.2 32.3h1.0v1.0h-1.0zM39.0 30.7h1.0v1.0h-1.0zM28.8 30.2h1.0v1.0h-1.0zM27.9 32.2h1.0v1.0h-1.0zM27.7 25.6h1.0v1.0h-1.0zM19.6 25.0h1.0v1.0h-1.0zM18.6 23.9h1.0v1.0h-1.0zM15.0 26.8h1.0v1.0h-1.0zM12.0 26.3h1.0v1.0h-1.0zM21.3 31.6h1.0v1.0h-1.0zM18.4 34.0h1.0v1.0h-1.0zM18.9 32.5h1.0v1.0h-1.0zM25.3 31.8h1.0v1.0h-1.0zM27.3 30.0h1.0v1.0h-1.0z" fill="#684387"/><path d="M23.3 23.7h1.0v1.0h-1.0zM18.9 27.4h1.0v1.0h-1.0zM13.4 26.2h1.0v1.0h-1.0zM10.5 30.4h1.0v1.0h-1.0zM8.6 40.1h1.0v1.0h-1.0zM14.0 41.1h1.0v1.0h-1.0zM24.6 36.6h1.0v1.0h-1.0zM20.2 37.3h1.0v1.0h-1.0zM29.1 32.2h1.0v1.0h-1.0z" fill="#5eaa9d"/></g>
<path d="M372.20,27.10V100.50H431.00" fill="none" stroke="#1c1c1c" stroke-width="1.15"/>
<text x="478.97" y="25.80" font-size="11" text-anchor="middle" fill="#0a0a0a" class="t">18.218</text>
<g transform="translate(442.12,27.10)"><polygon points="33.8,36.1 38.3,46.9 36.5,54.2 32.9,46.9" fill="url(#spP2)"/><g filter="url(#rough)"><polygon points="31.8,32.4 34.2,24.7 38.9,18.9 43.6,15.3 44.8,17.7 42.4,22.4 47.1,24.7 53.0,23.6 55.4,27.1 49.5,30.6 41.2,34.2 35.4,35.4" fill="#efd335"/><polygon points="31.8,32.4 25.9,30.1 20.0,30.6 18.9,35.4 18.9,43.6 23.6,47.1 28.3,38.9" fill="#efd335"/><polygon points="31.8,32.4 23.6,27.1 16.5,20.0 10.6,11.8 13.0,11.2 18.9,15.3 23.6,20.0 29.5,27.1" fill="#5eaa9d"/><polygon points="31.8,32.4 30.1,27.1 30.6,21.2 32.4,21.8 33.0,28.3" fill="#684387"/><polygon points="31.8,32.4 33.0,35.4 34.2,34.2 35.4,35.4 34.2,37.7" fill="#684387"/><polygon points="32.0,32.5 38.3,34.3 45.5,43.3 49.1,54.2 47.3,59.6 41.9,54.2 36.5,48.8 32.9,41.5" fill="#684387"/><polygon points="31.1,34.3 33.8,36.1 27.4,54.2 20.2,68.6 18.4,70.4 19.3,65.0 25.6,48.8" fill="#684387"/></g><path d="M35.8 34.8L79.2 60.3M26.6 32.8L-23.0 37.1M33.9 36.0L59.2 80.1M35.4 35.8L71.8 70.2M31.4 29.8L22.4 -21.8M30.7 35.1L11.7 83.6M28.9 29.1L-4.5 -9.0M36.7 34.5L82.6 53.5M35.5 31.6L85.5 20.5M28.6 30.8L-17.3 7.7M28.9 30.1L-11.4 -1.6M27.4 34.1L-19.4 52.4M33.1 35.5L53.2 83.1M32.1 29.2L36.5 -22.4M36.6 34.6L81.7 55.4M33.8 35.5L61.4 78.7M30.5 35.4L10.4 83.1M29.3 35.7L-1.2 76.4M34.9 35.1L72.8 69.0M34.4 33.3L84.0 49.7M32.8 35.5L48.1 84.9M30.0 35.2L1.9 78.6M34.1 28.6L60.3 -14.6M27.1 33.2L-22.4 41.6M30.4 29.2L10.2 -18.2M28.3 29.2L-9.3 -4.2M27.2 31.4L-21.9 20.6M28.3 28.5L-5.1 -8.3M31.4 36.9L26.9 87.2M35.8 31.8L86.2 24.4M34.1 30.8L77.3 1.6M31.3 29.1L22.7 -21.8M31.8 28.6L31.9 -22.6M28.6 31.7L-21.9 20.4M31.6 37.5L29.4 87.3M29.1 29.0L-2.4 -10.7M34.3 34.6L72.9 69.0M34.8 31.8L85.7 21.5M27.3 31.3L-21.7 19.5M27.6 32.1L-23.1 28.8M36.6 31.5L85.8 22.2M32.1 36.2L36.3 87.2M27.8 34.6L-16.3 59.0M30.3 29.5L6.8 -16.6M30.5 28.9L12.3 -19.0M35.2 32.7L86.5 37.7M29.6 34.6L-7.5 70.8M29.2 27.6L5.5 -15.9M35.8 30.6L81.8 9.5M34.3 29.3L66.1 -10.6M27.4 29.7L-15.3 3.9M35.1 33.7L83.0 52.5M29.3 34.9L-6.9 71.5M29.4 33.6L-17.6 56.5M29.5 27.6L8.1 -17.2M32.1 35.4L37.3 87.1M29.3 36.6L3.9 79.8M32.5 37.2L39.9 86.8M33.8 36.2L57.5 81.0M31.0 28.0L21.9 -21.7" stroke="#fff" stroke-width="0.4" stroke-opacity="0.25" fill="none"/><path d="M27.8 28.7h1.0v1.0h-1.0zM32.3 26.8h1.0v1.0h-1.0zM35.8 17.9h1.0v1.0h-1.0zM40.6 12.2h1.0v1.0h-1.0zM42.7 16.5h1.0v1.0h-1.0zM46.3 17.7h1.0v1.0h-1.0zM48.7 21.7h1.0v1.0h-1.0zM59.3 20.9h1.0v1.0h-1.0zM51.2 30.7h1.0v1.0h-1.0zM43.6 35.0h1.0v1.0h-1.0zM38.7 39.5h1.0v1.0h-1.0zM31.0 37.1h1.0v1.0h-1.0zM27.0 28.2h1.0v1.0h-1.0zM23.3 27.8h1.0v1.0h-1.0zM20.2 25.6h1.0v1.0h-1.0zM16.7 30.2h1.0v1.0h-1.0zM17.4 39.0h1.0v1.0h-1.0zM20.7 48.6h1.0v1.0h-1.0zM30.2 49.3h1.0v1.0h-1.0zM33.5 40.6h1.0v1.0h-1.0z" fill="#efd335"/><path d="M27.1 33.8h1.0v1.0h-1.0zM26.8 34.4h1.0v1.0h-1.0zM20.6 27.2h1.0v1.0h-1.0zM18.1 24.3h1.0v1.0h-1.0zM10.5 18.9h1.0v1.0h-1.0zM8.8 17.0h1.0v1.0h-1.0zM17.9 8.5h1.0v1.0h-1.0zM24.6 18.1h1.0v1.0h-1.0zM24.9 12.0h1.0v1.0h-1.0zM31.4 23.7h1.0v1.0h-1.0zM28.4 23.5h1.0v1.0h-1.0zM35.8 30.5h1.0v1.0h-1.0zM32.2 26.4h1.0v1.0h-1.0z" fill="#5eaa9d"/><path d="M26.8 28.5h1.0v1.0h-1.0zM29.8 32.9h1.0v1.0h-1.0zM25.5 25.7h1.0v1.0h-1.0zM28.0 24.1h1.0v1.0h-1.0zM32.9 19.3h1.0v1.0h-1.0zM36.6 25.0h1.0v1.0h-1.0zM34.3 22.8h1.0v1.0h-1.0zM37.8 32.6h1.0v1.0h-1.0zM30.6 33.3h1.0v1.0h-1.0zM28.7 30.9h1.0v1.0h-1.0zM37.8 37.7h1.0v1.0h-1.0zM29.9 33.9h1.0v1.0h-1.0zM28.4 39.7h1.0v1.0h-1.0zM33.9 30.1h1.0v1.0h-1.0zM33.8 32.2h1.0v1.0h-1.0zM37.2 30.7h1.0v1.0h-1.0zM46.9 38.1h1.0v1.0h-1.0zM47.0 36.8h1.0v1.0h-1.0zM42.7 38.1h1.0v1.0h-1.0zM46.2 28.6h1.0v1.0h-1.0zM51.0 48.6h1.0v1.0h-1.0zM53.3 46.5h1.0v1.0h-1.0zM48.4 44.5h1.0v1.0h-1.0zM51.8 50.9h1.0v1.0h-1.0zM50.3 58.4h1.0v1.0h-1.0zM50.9 55.2h1.0v1.0h-1.0zM40.9 56.5h1.0v1.0h-1.0zM44.0 62.0h1.0v1.0h-1.0zM39.1 54.2h1.0v1.0h-1.0zM38.8 55.2h1.0v1.0h-1.0zM31.5 49.5h1.0v1.0h-1.0zM33.1 46.8h1.0v1.0h-1.0zM33.7 47.6h1.0v1.0h-1.0zM24.4 39.0h1.0v1.0h-1.0zM28.3 35.9h1.0v1.0h-1.0zM28.5 33.5h1.0v1.0h-1.0zM36.5 30.5h1.0v1.0h-1.0zM29.7 52.7h1.0v1.0h-1.0zM29.9 52.9h1.0v1.0h-1.0zM31.5 56.1h1.0v1.0h-1.0zM35.5 53.2h1.0v1.0h-1.0zM37.4 40.7h1.0v1.0h-1.0zM38.0 38.7h1.0v1.0h-1.0zM34.3 42.2h1.0v1.0h-1.0zM28.0 59.9h1.0v1.0h-1.0zM28.1 57.7h1.0v1.0h-1.0zM29.6 55.3h1.0v1.0h-1.0zM28.8 60.1h1.0v1.0h-1.0zM24.3 66.0h1.0v1.0h-1.0zM26.4 66.8h1.0v1.0h-1.0zM21.5 70.6h1.0v1.0h-1.0zM14.6 69.2h1.0v1.0h-1.0zM13.8 68.8h1.0v1.0h-1.0zM18.7 51.4h1.0v1.0h-1.0zM18.8 62.9h1.0v1.0h-1.0zM21.3 50.8h1.0v1.0h-1.0zM16.6 61.8h1.0v1.0h-1.0zM17.9 60.6h1.0v1.0h-1.0zM16.9 61.4h1.0v1.0h-1.0zM22.3 46.1h1.0v1.0h-1.0zM25.6 38.5h1.0v1.0h-1.0zM29.2 33.4h1.0v1.0h-1.0zM21.8 47.3h1.0v1.0h-1.0zM24.4 38.6h1.0v1.0h-1.0z" fill="#684387"/></g>
<path d="M442.12,27.10V100.50H500.92" fill="none" stroke="#1c1c1c" stroke-width="1.15"/>
<text x="548.81" y="25.80" font-size="11" text-anchor="middle" fill="#0a0a0a" class="t">18.256</text>
<g transform="translate(512.04,27.10)"><g filter="url(#rough)"><polygon points="21.8,33.6 19.4,27.1 13.0,8.2 10.6,7.1 13.0,21.2 7.1,22.4 3.5,29.5 2.4,38.9 4.7,46.0 9.4,48.3 16.5,44.8 20.6,38.9" fill="#efd335"/><polygon points="21.8,33.6 24.7,27.1 30.6,21.2 38.9,15.3 44.8,11.8 46.0,16.5 40.1,24.7 38.9,30.6 37.7,35.4 30.6,36.5 23.6,35.4" fill="#efd335"/><polygon points="21.8,33.6 14.1,28.3 7.1,27.1 7.1,38.9 17.7,38.9" fill="#efd335"/><polygon points="21.8,33.6 29.5,25.9 38.9,17.7 41.2,22.4 30.6,34.2" fill="#efd335"/><polygon points="21.8,33.6 17.7,23.6 11.8,8.2 14.1,8.8 20.6,25.9" fill="#efd335"/><polygon points="21.8,33.6 23.6,37.7 23.0,54.2 21.8,64.8 20.6,63.6 20.0,49.5 20.6,37.7" fill="#efd335"/><polygon points="21.8,33.6 17.7,17.7 19.4,16.5 22.4,22.4 24.7,17.7 26.5,15.3 27.7,17.7 25.3,27.1" fill="#684387"/><polygon points="21.8,33.6 23.6,35.4 29.5,38.9 35.4,44.8 34.2,47.1 29.5,49.5 25.9,53.0 24.7,60.1 23.6,57.7 23.0,38.9" fill="#684387"/><polygon points="20.0,31.8 22.4,31.8 21.8,35.4 19.8,34.8" fill="#5eaa9d"/></g><path d="M26.4 36.3L69.2 61.4M24.1 30.4L53.6 -11.3M24.5 30.3L56.7 -8.9M23.6 36.8L48.7 81.6M23.5 30.1L45.5 -16.1M24.7 34.4L74.9 47.9M23.5 37.5L43.3 84.2M19.4 30.6L-12.2 -9.6M17.4 36.7L-23.4 64.9M19.3 37.4L-8.5 79.5M22.9 37.5L37.3 86.4M23.0 36.2L45.3 83.3M20.3 36.0L-6.7 80.6M18.5 36.6L-18.6 71.0M17.1 32.1L-30.6 16.9M19.1 34.0L-32.6 41.4M21.3 29.9L14.0 -20.8M21.9 28.2L22.3 -21.4M18.6 33.1L-32.6 25.3M19.3 36.7L-12.7 76.5M20.6 36.1L-1.4 83.5M18.2 36.3L-22.4 66.4M23.7 29.2L44.0 -16.7M25.5 30.3L62.8 -3.0M18.0 35.9L-24.9 62.7M26.4 35.2L73.6 51.9M20.9 30.4L7.4 -19.5M18.5 34.2L-32.4 43.1M22.9 30.0L37.2 -19.2M22.8 28.4L32.4 -20.4M22.4 30.0L31.3 -20.6M18.9 38.1L-8.4 79.6M24.3 31.9L67.2 2.5M18.6 37.3L-13.8 75.5M21.9 30.3L24.0 -21.4M16.7 35.4L-30.1 51.8M24.6 35.4L68.2 63.1M19.1 29.1L-6.4 -13.6M25.5 32.3L73.8 15.6M23.2 28.4L35.6 -19.6M20.3 36.4L-4.5 81.9M21.5 38.4L18.5 88.5M24.4 36.8L57.0 75.9M24.6 32.3L71.5 10.1M19.0 30.6L-16.2 -6.2M25.8 32.8L75.6 22.0M16.6 33.9L-33.1 36.8M21.8 30.7L22.6 -21.4M23.0 30.1L40.0 -18.3M27.1 32.5L75.7 22.9M18.1 33.8L-33.2 35.9M22.3 36.9L29.7 88.0M22.6 36.5L36.8 86.5M21.5 31.0L15.0 -21.0M18.3 31.1L-22.9 1.6M21.4 29.4L16.8 -21.2M24.8 32.1L71.2 9.3M25.3 35.9L67.7 64.0M21.1 39.0L15.1 88.2M25.8 31.4L70.3 7.6" stroke="#fff" stroke-width="0.4" stroke-opacity="0.25" fill="none"/><path d="M22.8 28.4h1.0v1.0h-1.0zM22.7 15.7h1.0v1.0h-1.0zM21.0 16.5h1.0v1.0h-1.0zM19.4 19.5h1.0v1.0h-1.0zM17.2 13.8h1.0v1.0h-1.0zM16.2 16.7h1.0v1.0h-1.0zM17.7 9.2h1.0v1.0h-1.0zM14.4 14.0h1.0v1.0h-1.0zM8.2 18.1h1.0v1.0h-1.0zM3.3 21.5h1.0v1.0h-1.0zM2.5 20.9h1.0v1.0h-1.0zM0.2 38.2h1.0v1.0h-1.0zM0.2 34.4h1.0v1.0h-1.0zM-2.5 46.2h1.0v1.0h-1.0zM7.5 49.7h1.0v1.0h-1.0zM15.1 50.6h1.0v1.0h-1.0zM21.3 43.6h1.0v1.0h-1.0zM24.8 35.3h1.0v1.0h-1.0zM17.1 30.6h1.0v1.0h-1.0zM25.2 21.8h1.0v1.0h-1.0zM28.4 19.3h1.0v1.0h-1.0zM32.1 12.9h1.0v1.0h-1.0zM35.2 11.7h1.0v1.0h-1.0zM39.6 10.0h1.0v1.0h-1.0zM48.9 14.0h1.0v1.0h-1.0zM43.8 23.3h1.0v1.0h-1.0zM44.0 27.1h1.0v1.0h-1.0zM44.5 26.9h1.0v1.0h-1.0zM41.4 32.1h1.0v1.0h-1.0zM37.1 37.7h1.0v1.0h-1.0zM25.3 41.3h1.0v1.0h-1.0zM22.1 31.6h1.0v1.0h-1.0zM12.6 26.2h1.0v1.0h-1.0zM12.3 24.5h1.0v1.0h-1.0zM3.0 28.4h1.0v1.0h-1.0zM4.7 33.5h1.0v1.0h-1.0zM14.0 40.7h1.0v1.0h-1.0zM14.8 42.4h1.0v1.0h-1.0zM8.3 44.4h1.0v1.0h-1.0zM22.4 37.0h1.0v1.0h-1.0zM18.5 27.9h1.0v1.0h-1.0zM27.7 23.9h1.0v1.0h-1.0zM34.9 18.5h1.0v1.0h-1.0zM33.7 16.2h1.0v1.0h-1.0zM43.8 16.3h1.0v1.0h-1.0zM39.3 29.2h1.0v1.0h-1.0zM35.7 31.8h1.0v1.0h-1.0zM42.8 29.3h1.0v1.0h-1.0zM27.6 36.2h1.0v1.0h-1.0zM22.4 37.5h1.0v1.0h-1.0zM14.5 35.5h1.0v1.0h-1.0zM14.0 26.4h1.0v1.0h-1.0zM10.6 14.2h1.0v1.0h-1.0zM11.0 18.2h1.0v1.0h-1.0zM10.1 14.1h1.0v1.0h-1.0zM13.2 4.2h1.0v1.0h-1.0zM19.5 15.1h1.0v1.0h-1.0zM17.1 8.4h1.0v1.0h-1.0zM20.9 17.6h1.0v1.0h-1.0zM27.0 25.9h1.0v1.0h-1.0zM27.6 31.9h1.0v1.0h-1.0zM26.1 49.7h1.0v1.0h-1.0zM27.0 51.7h1.0v1.0h-1.0zM29.6 53.4h1.0v1.0h-1.0zM25.4 54.8h1.0v1.0h-1.0zM29.4 58.0h1.0v1.0h-1.0zM25.4 63.7h1.0v1.0h-1.0zM13.6 59.2h1.0v1.0h-1.0zM16.2 63.5h1.0v1.0h-1.0zM18.9 59.3h1.0v1.0h-1.0zM17.6 44.5h1.0v1.0h-1.0zM17.1 48.8h1.0v1.0h-1.0zM19.0 37.4h1.0v1.0h-1.0z" fill="#efd335"/><path d="M19.7 33.9h1.0v1.0h-1.0zM16.7 27.3h1.0v1.0h-1.0zM18.7 32.2h1.0v1.0h-1.0zM16.4 22.0h1.0v1.0h-1.0zM13.1 21.4h1.0v1.0h-1.0zM15.6 13.3h1.0v1.0h-1.0zM17.7 16.8h1.0v1.0h-1.0zM14.7 19.1h1.0v1.0h-1.0zM19.7 24.0h1.0v1.0h-1.0zM19.2 17.4h1.0v1.0h-1.0zM21.1 21.9h1.0v1.0h-1.0zM20.9 14.0h1.0v1.0h-1.0zM31.0 23.7h1.0v1.0h-1.0zM28.3 26.6h1.0v1.0h-1.0zM29.3 22.7h1.0v1.0h-1.0zM29.3 22.4h1.0v1.0h-1.0zM27.8 36.7h1.0v1.0h-1.0zM26.8 30.4h1.0v1.0h-1.0zM30.0 34.2h1.0v1.0h-1.0zM29.0 36.1h1.0v1.0h-1.0zM26.6 35.0h1.0v1.0h-1.0zM37.8 42.5h1.0v1.0h-1.0zM32.7 40.2h1.0v1.0h-1.0zM33.5 40.5h1.0v1.0h-1.0zM38.2 46.8h1.0v1.0h-1.0zM34.1 56.3h1.0v1.0h-1.0zM31.4 51.2h1.0v1.0h-1.0zM34.7 54.7h1.0v1.0h-1.0zM32.8 56.5h1.0v1.0h-1.0zM27.6 58.8h1.0v1.0h-1.0zM30.5 54.5h1.0v1.0h-1.0zM29.5 55.4h1.0v1.0h-1.0zM20.8 61.8h1.0v1.0h-1.0zM19.5 49.2h1.0v1.0h-1.0zM16.2 44.7h1.0v1.0h-1.0zM18.6 46.6h1.0v1.0h-1.0zM21.4 56.1h1.0v1.0h-1.0zM15.5 44.9h1.0v1.0h-1.0zM17.1 39.7h1.0v1.0h-1.0zM21.0 35.4h1.0v1.0h-1.0zM16.0 37.6h1.0v1.0h-1.0z" fill="#684387"/><path d="M22.2 23.4h1.0v1.0h-1.0zM23.7 35.1h1.0v1.0h-1.0zM19.8 39.4h1.0v1.0h-1.0z" fill="#5eaa9d"/></g>
<path d="M512.04,27.10V100.50H570.84" fill="none" stroke="#1c1c1c" stroke-width="1.15"/>
<text x="618.66" y="25.80" font-size="11" text-anchor="middle" fill="#0a0a0a" class="t">18.361</text>
<g transform="translate(581.96,27.10)"><g filter="url(#rough)"><polygon points="21.2,31.2 28.3,27.1 35.4,23.6 44.8,18.9 49.5,22.4 44.8,25.9 38.9,30.6 38.9,37.7 42.4,42.4 44.8,47.1 40.1,50.7 35.4,47.1 30.6,42.4 25.9,38.9" fill="#efd335"/><polygon points="21.0,30.0 13.0,30.5 6.5,32.5 7.0,35.5 13.0,37.0 21.0,33.0" fill="#efd335"/><polygon points="17.0,7.0 19.5,6.5 22.5,30.0 19.5,30.5" fill="#efd335"/><polygon points="20.0,13.5 24.5,13.0 24.0,28.0 21.0,30.0" fill="#684387"/><polygon points="21.0,29.0 37.5,14.0 39.5,16.5 23.0,32.0" fill="#5eaa9d"/><polygon points="21.5,31.5 10.8,24.0 12.3,22.0 22.0,29.5" fill="#5eaa9d"/><polygon points="21.0,31.0 24.0,32.0 28.5,45.0 28.5,58.0 26.0,68.0 23.0,70.0 21.0,58.0 19.0,45.0 18.5,36.0" fill="#684387"/></g><path d="M22.8 28.4L48.8 -16.4M17.6 31.5L-33.6 36.4M19.2 34.2L-9.8 76.7M16.8 31.8L-33.3 38.9M25.3 31.8L75.5 39.9M25.0 35.1L59.4 70.8M17.2 29.8L-30.9 13.6M19.4 35.4L-0.7 81.7M19.9 26.1L7.5 -22.1M18.3 29.6L-26.9 4.5M19.4 29.3L-16.8 -8.6M21.1 27.8L19.1 -23.8M20.6 28.4L10.7 -22.8M18.7 29.5L-23.8 -0.4M24.4 31.9L74.8 43.7M23.3 28.2L53.1 -13.6M16.4 30.5L-33.2 23.3M24.4 30.8L75.7 23.7M19.5 26.7L2.3 -20.4M22.2 27.8L36.2 -21.7M16.4 32.0L-33.1 40.0M21.2 35.2L20.9 86.2M17.8 27.4L-15.6 -9.7M21.4 35.7L23.3 86.2M21.8 34.1L32.5 85.0M16.8 31.8L-33.2 39.1M17.8 27.1L-13.8 -11.2M23.3 34.7L49.4 78.4M17.9 31.6L-33.4 38.1M23.7 29.8L69.0 4.0M21.0 33.8L17.6 86.1M18.4 27.7L-12.9 -12.0M22.1 36.4L30.3 85.4M19.1 28.9L-15.2 -10.0M25.9 29.4L72.5 11.5M19.2 35.9L-0.3 81.8M23.6 33.8L58.8 71.4M16.5 33.8L-26.8 58.1M20.1 34.7L4.6 83.6M22.5 36.0L35.8 84.2M23.2 35.8L43.5 81.5M19.0 34.7L-8.5 77.5M23.6 28.9L60.5 -7.3M16.9 30.4L-32.9 21.4M17.9 29.5L-27.4 5.4M19.1 28.5L-12.3 -12.5M22.6 33.3L52.1 76.7M17.9 28.6L-22.1 -2.7M22.1 28.4L38.1 -21.2M19.4 27.8L-4.4 -17.5M16.3 30.4L-33.1 22.6M17.4 30.7L-33.4 24.6M19.4 28.9L-12.3 -12.4M24.0 28.3L59.5 -8.2M25.0 32.2L74.3 45.7M26.3 29.4L73.0 12.7M18.3 32.7L-28.0 55.8M24.3 29.9L71.9 9.8M24.4 31.6L75.9 37.4M16.8 32.0L-32.9 41.3" stroke="#fff" stroke-width="0.4" stroke-opacity="0.25" fill="none"/><path d="M22.3 25.4h1.0v1.0h-1.0zM33.6 20.7h1.0v1.0h-1.0zM34.8 20.3h1.0v1.0h-1.0zM38.2 17.5h1.0v1.0h-1.0zM48.7 18.1h1.0v1.0h-1.0zM41.9 20.7h1.0v1.0h-1.0zM35.6 24.8h1.0v1.0h-1.0zM41.8 34.9h1.0v1.0h-1.0zM39.9 41.5h1.0v1.0h-1.0zM39.5 42.5h1.0v1.0h-1.0zM47.3 44.8h1.0v1.0h-1.0zM44.2 56.2h1.0v1.0h-1.0zM45.8 50.2h1.0v1.0h-1.0zM33.4 52.5h1.0v1.0h-1.0zM30.8 50.3h1.0v1.0h-1.0zM34.1 48.0h1.0v1.0h-1.0zM24.8 40.7h1.0v1.0h-1.0zM17.0 35.8h1.0v1.0h-1.0zM22.2 36.1h1.0v1.0h-1.0zM17.9 27.0h1.0v1.0h-1.0zM12.1 28.8h1.0v1.0h-1.0zM11.7 28.3h1.0v1.0h-1.0zM5.2 33.7h1.0v1.0h-1.0zM8.4 38.8h1.0v1.0h-1.0zM20.8 36.7h1.0v1.0h-1.0zM21.6 35.7h1.0v1.0h-1.0zM18.4 5.4h1.0v1.0h-1.0zM29.7 27.2h1.0v1.0h-1.0zM22.9 14.8h1.0v1.0h-1.0zM24.3 27.0h1.0v1.0h-1.0zM23.3 14.1h1.0v1.0h-1.0zM23.9 8.2h1.0v1.0h-1.0zM21.1 32.3h1.0v1.0h-1.0zM14.8 30.7h1.0v1.0h-1.0zM12.0 14.3h1.0v1.0h-1.0zM14.9 20.0h1.0v1.0h-1.0zM16.4 28.9h1.0v1.0h-1.0zM15.7 8.1h1.0v1.0h-1.0z" fill="#efd335"/><path d="M24.6 9.6h1.0v1.0h-1.0zM27.2 15.3h1.0v1.0h-1.0zM27.1 22.1h1.0v1.0h-1.0zM26.6 14.8h1.0v1.0h-1.0zM26.1 25.0h1.0v1.0h-1.0zM28.0 20.6h1.0v1.0h-1.0zM25.9 36.4h1.0v1.0h-1.0zM14.7 26.9h1.0v1.0h-1.0zM10.9 17.9h1.0v1.0h-1.0zM16.4 15.8h1.0v1.0h-1.0zM16.5 15.5h1.0v1.0h-1.0zM18.6 18.8h1.0v1.0h-1.0zM18.4 27.6h1.0v1.0h-1.0zM23.8 26.5h1.0v1.0h-1.0zM31.2 34.7h1.0v1.0h-1.0zM32.7 41.6h1.0v1.0h-1.0zM29.3 38.9h1.0v1.0h-1.0zM28.6 39.3h1.0v1.0h-1.0zM30.0 33.4h1.0v1.0h-1.0zM33.1 55.6h1.0v1.0h-1.0zM31.7 53.6h1.0v1.0h-1.0zM32.5 48.8h1.0v1.0h-1.0zM34.0 48.6h1.0v1.0h-1.0zM29.6 60.3h1.0v1.0h-1.0zM31.7 61.1h1.0v1.0h-1.0zM31.0 63.6h1.0v1.0h-1.0zM30.7 63.5h1.0v1.0h-1.0zM25.9 70.5h1.0v1.0h-1.0zM16.6 64.0h1.0v1.0h-1.0zM16.9 66.4h1.0v1.0h-1.0zM18.3 59.0h1.0v1.0h-1.0zM17.3 58.7h1.0v1.0h-1.0zM17.3 48.5h1.0v1.0h-1.0zM17.9 52.3h1.0v1.0h-1.0zM15.4 49.9h1.0v1.0h-1.0zM16.9 50.0h1.0v1.0h-1.0zM18.2 56.1h1.0v1.0h-1.0zM15.7 37.4h1.0v1.0h-1.0zM14.7 36.7h1.0v1.0h-1.0zM11.3 44.8h1.0v1.0h-1.0zM16.2 34.3h1.0v1.0h-1.0zM17.3 29.3h1.0v1.0h-1.0z" fill="#684387"/><path d="M33.2 14.6h1.0v1.0h-1.0zM27.0 20.5h1.0v1.0h-1.0zM24.6 19.5h1.0v1.0h-1.0zM20.6 26.1h1.0v1.0h-1.0zM40.8 13.8h1.0v1.0h-1.0zM36.9 23.0h1.0v1.0h-1.0zM42.0 21.0h1.0v1.0h-1.0zM28.8 33.2h1.0v1.0h-1.0zM31.1 27.4h1.0v1.0h-1.0zM17.7 36.9h1.0v1.0h-1.0zM19.5 33.4h1.0v1.0h-1.0zM10.6 21.0h1.0v1.0h-1.0zM17.0 21.2h1.0v1.0h-1.0zM25.1 24.1h1.0v1.0h-1.0zM20.1 25.0h1.0v1.0h-1.0z" fill="#5eaa9d"/></g>
<path d="M581.96,27.10V100.50H640.76" fill="none" stroke="#1c1c1c" stroke-width="1.15"/>
<text x="688.50" y="25.80" font-size="11" text-anchor="middle" fill="#0a0a0a" class="t">18.363</text>
<g transform="translate(651.88,27.10)"><g filter="url(#rough)"><polygon points="24.7,26.5 28.3,28.3 37.7,28.9 41.2,33.0 42.4,37.7 41.2,42.4 36.5,47.1 33.0,49.5 29.5,53.0 28.3,61.3 24.7,60.1 21.2,58.9 20.0,51.9 20.0,44.8 19.4,36.5 15.3,36.5 14.1,34.2 20.0,31.8" fill="#efd335"/><polygon points="24.7,26.5 21.8,20.0 18.9,14.1 21.2,10.6 24.7,11.8 26.5,17.7 26.5,23.6" fill="#efd335"/><polygon points="24.7,26.5 27.1,14.1 28.3,10.6 34.2,8.2 38.9,4.7 40.1,10.6 47.1,11.8 51.9,14.1 53.0,20.0 51.9,27.1 44.8,28.3 35.4,28.9 28.3,28.3" fill="#684387"/><polygon points="24.7,26.5 21.2,20.0 16.5,18.9 9.4,20.0 10.6,24.7 9.4,30.6 14.1,31.8 20.0,29.5" fill="#684387"/><polygon points="24.7,26.5 23.0,24.2 26.5,24.2 27.7,27.7 23.6,29.5 21.2,35.4 17.7,47.1 13.0,56.6 9.4,63.6 5.9,66.0 4.7,63.6 8.2,54.2 13.0,42.4 16.5,36.5 21.2,31.8" fill="#5eaa9d"/></g><path d="M27.9 27.9L74.9 48.9M24.2 23.0L17.0 -28.0M26.8 30.6L49.5 75.6M20.5 28.3L-26.0 47.8M19.8 27.0L-30.0 31.9M19.3 26.1L-30.1 22.3M26.5 22.2L45.9 -24.2M20.4 26.8L-30.2 29.8M22.8 28.4L-14.6 65.0M28.4 23.2L65.9 -10.0M25.2 21.5L30.6 -28.2M19.5 24.8L-27.5 9.2M19.3 27.4L-29.5 35.7M27.9 28.3L72.8 53.2M20.2 24.4L-24.9 2.7M19.9 25.9L-29.8 19.3M21.5 29.7L-13.9 65.7M25.9 22.4L40.6 -26.2M29.1 27.1L79.2 33.7M28.1 26.5L79.7 26.5M28.3 29.7L66.0 62.8M27.0 30.6L51.7 74.4M27.5 27.9L74.1 50.6M22.9 21.5L6.1 -25.3M28.6 28.4L74.2 50.4M21.2 29.1L-19.3 59.5M27.0 27.7L73.3 52.2M29.3 29.0L73.1 52.6M20.4 26.8L-30.2 29.8M27.7 29.9L61.5 67.4M27.2 24.7L69.4 -5.5M25.7 21.5L35.2 -27.5M28.9 26.3L79.6 23.8M22.5 23.7L-9.0 -17.0M25.4 23.1L35.3 -27.5M21.6 23.4L-14.5 -12.0M29.6 26.2L79.6 22.8M27.2 28.2L70.0 57.7M22.4 29.4L-9.6 69.5M24.0 23.3L13.3 -27.3M21.1 25.1L-26.6 6.6M23.2 30.7L6.0 78.2M19.7 28.7L-25.6 48.6M28.3 30.3L62.5 66.4M22.2 23.6L-11.1 -15.2M28.6 28.6L73.2 52.4M25.9 23.1L42.8 -25.4M23.7 22.5L11.9 -27.0M29.0 29.2L71.1 56.0M23.2 30.1L3.9 77.4M25.1 21.4L28.7 -28.4M26.9 23.6L58.1 -17.2M26.4 24.1L56.2 -18.6M21.1 25.3L-27.4 9.0M27.8 23.0L61.3 -14.5M22.0 22.4L-5.0 -19.8M22.5 29.6L-7.0 71.5M27.5 28.6L68.6 59.6M26.2 31.0L41.9 78.8M28.3 30.3L62.5 66.5" stroke="#fff" stroke-width="0.4" stroke-opacity="0.25" fill="none"/><path d="M27.4 26.6h1.0v1.0h-1.0zM31.0 22.1h1.0v1.0h-1.0zM33.0 26.1h1.0v1.0h-1.0zM43.2 27.5h1.0v1.0h-1.0zM47.5 35.2h1.0v1.0h-1.0zM44.6 40.8h1.0v1.0h-1.0zM43.4 46.5h1.0v1.0h-1.0zM40.2 49.0h1.0v1.0h-1.0zM36.9 50.8h1.0v1.0h-1.0zM31.2 54.8h1.0v1.0h-1.0zM32.0 55.0h1.0v1.0h-1.0zM18.8 59.6h1.0v1.0h-1.0zM18.2 47.4h1.0v1.0h-1.0zM16.6 50.9h1.0v1.0h-1.0zM13.7 43.6h1.0v1.0h-1.0zM17.2 42.7h1.0v1.0h-1.0zM16.7 33.8h1.0v1.0h-1.0zM10.8 37.0h1.0v1.0h-1.0zM15.1 32.6h1.0v1.0h-1.0zM17.1 28.7h1.0v1.0h-1.0zM20.6 25.6h1.0v1.0h-1.0zM18.2 21.0h1.0v1.0h-1.0zM17.2 17.2h1.0v1.0h-1.0zM18.4 21.3h1.0v1.0h-1.0zM16.4 8.4h1.0v1.0h-1.0zM22.9 9.2h1.0v1.0h-1.0zM28.5 16.2h1.0v1.0h-1.0zM32.2 20.2h1.0v1.0h-1.0zM27.6 24.5h1.0v1.0h-1.0z" fill="#efd335"/><path d="M21.2 22.5h1.0v1.0h-1.0zM22.3 16.0h1.0v1.0h-1.0zM24.7 20.6h1.0v1.0h-1.0zM24.3 17.4h1.0v1.0h-1.0zM25.6 13.6h1.0v1.0h-1.0zM26.3 4.9h1.0v1.0h-1.0zM27.8 9.1h1.0v1.0h-1.0zM30.8 2.3h1.0v1.0h-1.0zM35.0 3.7h1.0v1.0h-1.0zM41.2 7.9h1.0v1.0h-1.0zM42.4 7.7h1.0v1.0h-1.0zM48.1 6.8h1.0v1.0h-1.0zM45.4 8.4h1.0v1.0h-1.0zM42.1 6.7h1.0v1.0h-1.0zM50.2 11.0h1.0v1.0h-1.0zM51.6 6.7h1.0v1.0h-1.0zM53.6 17.8h1.0v1.0h-1.0zM58.2 18.9h1.0v1.0h-1.0zM55.2 22.3h1.0v1.0h-1.0zM55.6 23.1h1.0v1.0h-1.0zM55.3 24.8h1.0v1.0h-1.0zM51.7 33.3h1.0v1.0h-1.0zM52.8 30.3h1.0v1.0h-1.0zM47.2 34.6h1.0v1.0h-1.0zM41.6 35.0h1.0v1.0h-1.0zM43.8 34.0h1.0v1.0h-1.0zM39.3 33.1h1.0v1.0h-1.0zM31.1 33.0h1.0v1.0h-1.0zM32.7 34.4h1.0v1.0h-1.0zM35.2 31.4h1.0v1.0h-1.0zM22.6 31.4h1.0v1.0h-1.0zM24.7 22.9h1.0v1.0h-1.0zM25.8 25.3h1.0v1.0h-1.0zM23.3 21.2h1.0v1.0h-1.0zM19.6 16.0h1.0v1.0h-1.0zM22.1 13.8h1.0v1.0h-1.0zM11.2 16.5h1.0v1.0h-1.0zM13.6 16.4h1.0v1.0h-1.0zM6.8 23.8h1.0v1.0h-1.0zM5.5 27.2h1.0v1.0h-1.0zM5.2 29.7h1.0v1.0h-1.0zM12.4 33.9h1.0v1.0h-1.0zM8.9 35.3h1.0v1.0h-1.0zM19.9 35.3h1.0v1.0h-1.0zM18.1 34.9h1.0v1.0h-1.0zM23.8 32.2h1.0v1.0h-1.0zM24.5 29.4h1.0v1.0h-1.0z" fill="#684387"/><path d="M27.8 21.5h1.0v1.0h-1.0zM26.4 26.8h1.0v1.0h-1.0zM25.6 31.5h1.0v1.0h-1.0zM27.1 31.1h1.0v1.0h-1.0zM25.2 43.4h1.0v1.0h-1.0zM24.1 47.0h1.0v1.0h-1.0zM20.8 50.5h1.0v1.0h-1.0zM17.7 58.2h1.0v1.0h-1.0zM16.8 59.8h1.0v1.0h-1.0zM14.0 63.6h1.0v1.0h-1.0zM11.1 67.7h1.0v1.0h-1.0zM2.7 63.6h1.0v1.0h-1.0zM4.4 57.3h1.0v1.0h-1.0zM4.3 50.6h1.0v1.0h-1.0zM6.3 48.6h1.0v1.0h-1.0zM6.5 47.0h1.0v1.0h-1.0zM10.4 40.5h1.0v1.0h-1.0zM12.7 38.2h1.0v1.0h-1.0zM19.1 31.6h1.0v1.0h-1.0zM20.6 27.1h1.0v1.0h-1.0z" fill="#5eaa9d"/></g>
<path d="M651.88,27.10V100.50H710.68" fill="none" stroke="#1c1c1c" stroke-width="1.15"/>
<text x="59.90" y="112.90" font-size="11" text-anchor="middle" fill="#0a0a0a" class="t">18.365</text>
<g transform="translate(22.60,114.20)"><polygon points="27.7,41.8 26.5,17.7 25.3,4.7 23.0,7.1 21.2,16.5 16.5,15.3 11.8,17.7 7.1,22.4 11.8,25.9 17.7,34.2 20.0,42.4 22.4,47.1 25.9,47.1" fill="url(#spY2)"/><g filter="url(#rough)"><polygon points="27.7,41.8 23.9,5.9 26.9,5.9 28.9,41.2" fill="#efd335"/><polygon points="27.7,41.8 7.3,21.4 6.1,23.8 26.5,43.8" fill="#efd335"/><polygon points="27.7,41.8 17.7,34.2 20.0,45.4 24.2,47.7" fill="#efd335"/><polygon points="27.7,41.8 33.0,37.7 40.1,34.2 49.5,28.3 54.2,27.1 55.4,29.5 48.3,33.0 42.4,37.7 46.0,44.8 44.8,49.5 41.2,56.6 38.9,58.9 35.4,55.4 33.0,50.7 29.5,44.8" fill="#efd335"/><polygon points="27.7,41.8 27.1,18.9 28.9,17.7 31.8,23.6 34.2,29.5 35.4,31.8 30.6,38.9" fill="#684387"/><polygon points="27.7,41.8 29.5,44.8 33.0,50.7 35.4,56.6 36.5,64.8 33.0,68.4 28.3,68.4 23.6,66.0 22.4,55.4 23.6,48.3" fill="#684387"/><polygon points="27.7,41.8 21.2,42.2 13.0,42.2 7.1,42.7 4.1,43.8 5.3,45.7 14.1,45.4 23.6,44.2" fill="#5eaa9d"/></g><path d="M24.6 39.5L-16.8 9.4M30.5 44.4L68.0 79.3M25.0 40.7L-22.9 20.3M31.2 41.3L82.1 33.7M24.6 43.1L-22.7 63.8M25.4 44.2L-10.7 81.2M29.4 39.6L61.2 -1.9M24.9 45.0L-8.6 83.1M24.3 42.2L-26.8 48.9M25.0 42.1L-27.0 47.3M26.4 45.4L8.3 93.3M28.1 38.0L33.5 -12.9M23.9 44.1L-19.7 69.7M27.0 45.9L18.5 96.0M29.2 45.9L46.4 93.5M23.4 40.7L-25.7 28.4M31.1 38.3L66.5 2.9M30.9 41.6L82.6 37.8M31.4 40.7L80.4 26.1M25.1 44.7L-9.1 82.7M32.4 39.3L76.1 15.7M28.9 38.6L46.3 -9.9M30.0 43.9L68.1 79.1M25.5 37.7L1.9 -6.8M30.0 42.8L78.1 63.8M31.2 41.7L82.7 40.1M31.5 42.8L80.8 56.1M31.7 44.7L72.6 73.5M23.4 41.0L-26.4 31.7M30.3 40.5L77.0 17.5M28.8 46.5L39.6 95.5M24.7 39.4L-15.3 7.5M25.0 45.2L-6.3 85.0M32.7 40.0L79.4 23.1M32.4 39.1L75.5 14.5M29.4 43.7L64.9 82.3M29.2 39.0L54.0 -6.5M23.8 41.3L-26.8 34.3M31.5 41.2L82.0 32.8M29.8 44.1L64.2 83.0M31.8 39.0L72.9 10.5M31.1 45.9L62.8 84.1M24.5 45.2L-10.4 81.5M23.0 39.8L-22.8 20.1M25.1 42.0L-27.2 45.4M23.0 40.0L-23.7 22.3M23.5 44.4L-18.9 71.0M24.3 43.0L-24.2 59.9M25.7 44.3L-7.1 84.4M22.3 41.8L-27.3 41.6M23.7 39.2L-18.6 12.1M29.3 45.1L51.3 91.5M24.5 40.0L-20.5 15.2M32.8 42.1L82.6 44.8M30.8 45.0L65.6 81.7M31.0 41.4L82.3 35.1M27.3 45.3L20.9 96.4M22.4 40.4L-25.4 27.4M29.7 44.4L61.5 85.2M30.3 39.8L71.4 8.4" stroke="#fff" stroke-width="0.4" stroke-opacity="0.25" fill="none"/><path d="M24.0 18.1h1.0v1.0h-1.0zM21.5 24.8h1.0v1.0h-1.0zM21.4 13.6h1.0v1.0h-1.0zM21.4 20.5h1.0v1.0h-1.0zM18.9 36.1h1.0v1.0h-1.0zM25.6 36.1h1.0v1.0h-1.0zM22.9 18.6h1.0v1.0h-1.0zM25.4 -2.0h1.0v1.0h-1.0zM32.3 32.0h1.0v1.0h-1.0zM29.3 32.2h1.0v1.0h-1.0zM32.0 11.3h1.0v1.0h-1.0zM32.2 28.2h1.0v1.0h-1.0zM29.1 7.5h1.0v1.0h-1.0zM29.9 28.5h1.0v1.0h-1.0zM34.5 31.0h1.0v1.0h-1.0zM22.7 34.1h1.0v1.0h-1.0zM15.9 22.7h1.0v1.0h-1.0zM15.4 19.0h1.0v1.0h-1.0zM13.6 24.7h1.0v1.0h-1.0zM18.7 19.4h1.0v1.0h-1.0zM3.6 21.8h1.0v1.0h-1.0zM21.8 44.7h1.0v1.0h-1.0zM17.7 37.6h1.0v1.0h-1.0zM19.5 39.2h1.0v1.0h-1.0zM7.6 31.4h1.0v1.0h-1.0zM18.3 41.9h1.0v1.0h-1.0zM30.3 43.6h1.0v1.0h-1.0zM25.6 35.9h1.0v1.0h-1.0zM24.5 36.9h1.0v1.0h-1.0zM16.6 41.0h1.0v1.0h-1.0zM15.7 38.4h1.0v1.0h-1.0zM18.7 50.6h1.0v1.0h-1.0zM31.5 46.6h1.0v1.0h-1.0zM27.1 33.3h1.0v1.0h-1.0zM28.4 39.4h1.0v1.0h-1.0zM32.4 32.0h1.0v1.0h-1.0zM41.9 26.6h1.0v1.0h-1.0zM38.0 28.9h1.0v1.0h-1.0zM47.8 27.3h1.0v1.0h-1.0zM53.2 22.9h1.0v1.0h-1.0zM56.3 26.9h1.0v1.0h-1.0zM52.5 27.4h1.0v1.0h-1.0zM41.0 34.1h1.0v1.0h-1.0zM46.6 41.1h1.0v1.0h-1.0zM46.2 38.4h1.0v1.0h-1.0zM52.7 47.0h1.0v1.0h-1.0zM47.9 54.8h1.0v1.0h-1.0zM46.4 56.3h1.0v1.0h-1.0zM42.7 58.9h1.0v1.0h-1.0zM33.9 60.9h1.0v1.0h-1.0zM32.3 54.3h1.0v1.0h-1.0zM25.1 49.7h1.0v1.0h-1.0z" fill="#efd335"/><path d="M25.8 39.6h1.0v1.0h-1.0zM23.4 32.8h1.0v1.0h-1.0zM25.1 37.6h1.0v1.0h-1.0zM25.9 38.6h1.0v1.0h-1.0zM25.6 25.4h1.0v1.0h-1.0zM25.5 21.8h1.0v1.0h-1.0zM23.3 27.5h1.0v1.0h-1.0zM25.3 36.3h1.0v1.0h-1.0zM28.3 16.8h1.0v1.0h-1.0zM32.2 16.1h1.0v1.0h-1.0zM32.2 18.1h1.0v1.0h-1.0zM38.2 21.7h1.0v1.0h-1.0zM34.1 24.4h1.0v1.0h-1.0zM37.5 29.9h1.0v1.0h-1.0zM35.2 34.8h1.0v1.0h-1.0zM36.6 38.8h1.0v1.0h-1.0zM37.4 39.7h1.0v1.0h-1.0zM34.5 46.1h1.0v1.0h-1.0zM31.2 43.2h1.0v1.0h-1.0zM30.4 40.1h1.0v1.0h-1.0zM32.9 42.3h1.0v1.0h-1.0zM33.2 42.7h1.0v1.0h-1.0zM39.0 54.8h1.0v1.0h-1.0zM38.0 54.1h1.0v1.0h-1.0zM37.5 57.4h1.0v1.0h-1.0zM43.0 57.3h1.0v1.0h-1.0zM41.7 63.1h1.0v1.0h-1.0zM38.6 69.3h1.0v1.0h-1.0zM36.3 69.7h1.0v1.0h-1.0zM29.0 70.3h1.0v1.0h-1.0zM25.8 71.8h1.0v1.0h-1.0zM18.6 65.1h1.0v1.0h-1.0zM20.5 60.8h1.0v1.0h-1.0zM21.1 61.0h1.0v1.0h-1.0zM17.5 59.1h1.0v1.0h-1.0zM17.8 54.4h1.0v1.0h-1.0zM20.0 53.9h1.0v1.0h-1.0zM21.0 51.2h1.0v1.0h-1.0zM20.0 45.2h1.0v1.0h-1.0zM23.5 44.9h1.0v1.0h-1.0zM24.1 39.7h1.0v1.0h-1.0z" fill="#684387"/><path d="M24.0 36.5h1.0v1.0h-1.0zM13.6 38.8h1.0v1.0h-1.0zM20.4 38.7h1.0v1.0h-1.0zM7.6 38.9h1.0v1.0h-1.0zM5.5 41.2h1.0v1.0h-1.0zM6.2 50.2h1.0v1.0h-1.0zM9.6 50.5h1.0v1.0h-1.0zM21.4 48.4h1.0v1.0h-1.0zM17.1 50.6h1.0v1.0h-1.0zM27.7 46.2h1.0v1.0h-1.0z" fill="#5eaa9d"/></g>
<path d="M22.60,114.20V187.40H81.40" fill="none" stroke="#1c1c1c" stroke-width="1.15"/>
<text x="129.75" y="112.90" font-size="11" text-anchor="middle" fill="#0a0a0a" class="t">18.434</text>
<g transform="translate(92.52,114.20)"><g filter="url(#rough)"><polygon points="32.4,33.6 37.7,35.4 43.6,37.7 44.8,44.8 43.6,49.5 44.8,56.6 43.6,62.5 38.9,64.8 35.4,60.1 31.8,54.2 28.3,49.5 27.1,43.6 29.5,38.9" fill="#efd335"/><polygon points="32.4,33.6 30.9,9.4 32.1,8.2 33.6,23.6 33.6,31.8" fill="#efd335"/><polygon points="32.4,33.6 34.2,15.3 35.4,7.1 37.1,7.1 37.7,15.3 38.9,24.7 42.4,28.3 49.5,30.6 51.9,35.4 50.7,38.9 44.8,37.7 37.7,35.4" fill="#684387"/><polygon points="32.4,33.6 28.3,25.9 23.6,24.7 18.9,24.7 20.0,30.6 17.7,37.7 20.0,42.4 23.6,43.6 29.5,38.9" fill="#684387"/><path d="M11.8 47.1h1.0v1.0h-1.0zM10.6 50.7h1.0v1.0h-1.0zM3.5 55.4h1.0v1.0h-1.0zM4.7 57.7h1.0v1.0h-1.0zM14.1 46.0h1.0v1.0h-1.0zM18.9 44.8h1.0v1.0h-1.0zM13.0 48.3h1.0v1.0h-1.0z" fill="#684387"/></g><path d="M30.1 29.6L5.0 -14.1M35.0 33.6L87.4 33.8M32.7 28.4L35.5 -21.3M31.1 29.9L13.7 -18.1M35.7 36.0L76.7 66.2M35.1 35.8L74.8 68.6M36.3 34.5L86.1 45.7M29.1 34.3L-21.4 44.8M32.9 36.3L42.3 87.7M35.2 34.1L86.6 43.2M35.0 33.3L87.1 27.6M31.6 29.8L20.9 -20.2M29.5 31.8L-14.5 4.8M37.3 33.0L87.0 27.0M29.3 35.7L-13.0 64.6M35.0 32.1L80.3 6.5M35.5 30.5L71.1 -5.5M28.7 31.9L-17.8 11.1M30.1 32.1L-13.9 3.9M32.4 37.2L32.7 88.6M32.9 36.3L42.2 87.7M31.5 29.9L19.6 -19.9M32.2 29.9L29.3 -21.3M35.4 32.4L83.7 13.9M28.6 33.3L-22.4 29.3M33.1 30.8L46.4 -19.6M28.7 32.5L-20.3 18.0M30.1 31.3L-6.6 -5.1M27.1 32.2L-20.6 19.0M36.7 36.9L76.3 66.7M36.2 32.8L86.2 22.2M35.9 35.5L80.4 60.4M34.8 33.0L85.9 20.9M32.5 28.8L33.4 -21.4M35.6 36.5L73.5 70.1M34.1 35.8L65.2 77.8M29.0 33.1L-22.1 26.3M30.2 30.2L2.7 -12.7M33.1 38.8L39.5 88.1M37.3 33.8L87.4 35.7M31.4 38.7L21.4 87.5M29.4 31.2L-10.6 -0.7M33.5 38.6L44.0 87.4M35.8 29.4L66.9 -9.3M27.9 30.8L-14.1 4.2M36.0 30.8L75.8 -0.2M30.1 37.3L3.3 80.3M29.7 37.7L2.0 79.4M27.6 31.9L-19.6 15.6M36.1 30.6L75.2 -0.9M33.4 37.0L48.4 86.2M35.4 35.4L79.7 61.7M34.3 36.4L62.6 79.6M33.2 30.8L47.4 -19.3M37.0 31.0L80.2 6.4M32.8 30.4L39.7 -20.9M31.4 37.3L18.5 86.8M28.5 30.0L-8.0 -3.8M35.1 34.0L87.0 40.6M33.5 31.3L56.5 -15.8" stroke="#fff" stroke-width="0.4" stroke-opacity="0.25" fill="none"/><path d="M34.1 30.3h1.0v1.0h-1.0zM42.9 33.1h1.0v1.0h-1.0zM46.9 38.6h1.0v1.0h-1.0zM46.1 46.8h1.0v1.0h-1.0zM46.8 55.0h1.0v1.0h-1.0zM47.5 49.0h1.0v1.0h-1.0zM46.9 58.4h1.0v1.0h-1.0zM46.9 60.0h1.0v1.0h-1.0zM40.6 66.7h1.0v1.0h-1.0zM41.8 66.3h1.0v1.0h-1.0zM29.7 67.5h1.0v1.0h-1.0zM30.5 58.3h1.0v1.0h-1.0zM28.9 55.9h1.0v1.0h-1.0zM29.2 53.5h1.0v1.0h-1.0zM23.8 56.7h1.0v1.0h-1.0zM24.0 49.5h1.0v1.0h-1.0zM26.6 50.3h1.0v1.0h-1.0zM25.0 42.9h1.0v1.0h-1.0zM25.8 36.3h1.0v1.0h-1.0zM26.8 16.5h1.0v1.0h-1.0zM30.4 27.9h1.0v1.0h-1.0zM29.2 28.9h1.0v1.0h-1.0zM24.8 30.4h1.0v1.0h-1.0zM25.6 16.4h1.0v1.0h-1.0zM35.7 19.4h1.0v1.0h-1.0zM36.6 11.4h1.0v1.0h-1.0zM35.0 19.3h1.0v1.0h-1.0zM36.9 29.1h1.0v1.0h-1.0zM35.1 34.3h1.0v1.0h-1.0z" fill="#efd335"/><path d="M31.9 19.5h1.0v1.0h-1.0zM27.8 17.4h1.0v1.0h-1.0zM30.2 25.9h1.0v1.0h-1.0zM31.3 17.3h1.0v1.0h-1.0zM30.3 26.9h1.0v1.0h-1.0zM31.3 25.3h1.0v1.0h-1.0zM29.0 10.9h1.0v1.0h-1.0zM32.9 14.4h1.0v1.0h-1.0zM30.7 11.9h1.0v1.0h-1.0zM34.1 12.9h1.0v1.0h-1.0zM32.4 8.7h1.0v1.0h-1.0zM35.3 11.5h1.0v1.0h-1.0zM34.9 17.4h1.0v1.0h-1.0zM33.1 17.4h1.0v1.0h-1.0zM34.2 20.9h1.0v1.0h-1.0zM34.4 31.5h1.0v1.0h-1.0zM37.2 29.4h1.0v1.0h-1.0zM45.3 33.3h1.0v1.0h-1.0zM43.7 30.5h1.0v1.0h-1.0zM52.2 31.5h1.0v1.0h-1.0zM55.0 29.0h1.0v1.0h-1.0zM59.0 37.3h1.0v1.0h-1.0zM46.4 40.8h1.0v1.0h-1.0zM46.6 41.2h1.0v1.0h-1.0zM46.1 41.6h1.0v1.0h-1.0zM36.5 37.6h1.0v1.0h-1.0zM40.6 39.8h1.0v1.0h-1.0zM43.9 39.8h1.0v1.0h-1.0zM36.7 39.8h1.0v1.0h-1.0zM31.5 36.5h1.0v1.0h-1.0zM37.3 28.3h1.0v1.0h-1.0zM30.8 25.0h1.0v1.0h-1.0zM36.4 22.8h1.0v1.0h-1.0zM26.4 21.0h1.0v1.0h-1.0zM28.1 23.2h1.0v1.0h-1.0zM21.0 19.0h1.0v1.0h-1.0zM20.4 19.0h1.0v1.0h-1.0zM16.0 30.4h1.0v1.0h-1.0zM16.5 28.7h1.0v1.0h-1.0zM18.1 30.9h1.0v1.0h-1.0zM12.4 35.4h1.0v1.0h-1.0zM15.1 34.6h1.0v1.0h-1.0zM12.9 41.5h1.0v1.0h-1.0zM17.2 43.1h1.0v1.0h-1.0zM21.2 46.1h1.0v1.0h-1.0zM27.1 46.9h1.0v1.0h-1.0zM30.0 44.3h1.0v1.0h-1.0zM28.1 42.9h1.0v1.0h-1.0zM38.9 37.7h1.0v1.0h-1.0zM35.5 35.2h1.0v1.0h-1.0z" fill="#684387"/></g>
<path d="M92.52,114.20V187.40H151.32" fill="none" stroke="#1c1c1c" stroke-width="1.15"/>
<text x="199.59" y="112.90" font-size="11" text-anchor="middle" fill="#0a0a0a" class="t">18.455</text>
<g transform="translate(162.44,114.20)"><g filter="url(#rough)"><polygon points="25.9,31.2 30.6,24.7 35.4,17.7 41.2,16.5 37.7,23.6 31.8,29.5" fill="#efd335"/><polygon points="25.9,31.2 20.0,31.8 14.1,33.0 11.8,35.4 18.9,35.4 24.7,33.6" fill="#efd335"/><polygon points="25.9,31.2 28.3,33.0 34.2,40.1 40.1,47.1 46.0,55.4 44.2,56.6 37.7,49.5 30.6,37.7" fill="#efd335"/><polygon points="25.9,31.2 21.2,25.9 17.7,20.0 18.9,15.3 21.2,17.7 23.6,22.4 27.1,18.9 30.6,15.3 34.2,13.0 33.0,17.7 29.5,23.6 27.7,28.3" fill="#684387"/><polygon points="25.9,31.2 24.7,33.6 25.3,44.8 23.6,47.1 17.7,47.1 10.6,48.3 3.5,48.3 4.7,46.6 14.1,40.1 20.0,35.4" fill="#684387"/><polygon points="26.5,31.8 28.3,33.0 34.2,42.4 37.7,48.3 35.9,48.9 30.6,40.1 26.9,33.6" fill="#5eaa9d"/></g><path d="M28.3 29.3L69.1 -2.9M29.8 30.6L80.3 23.0M22.0 28.1L-17.3 -2.8M27.6 27.8L50.3 -18.1M21.2 32.4L-27.4 44.8M25.8 34.6L23.7 86.2M29.4 27.5L63.8 -8.7M27.6 28.1L51.7 -17.4M24.4 33.5L-4.4 77.1M27.2 28.9L53.2 -16.6M26.9 33.5L48.3 81.4M20.6 32.7L-27.1 45.8M28.8 32.6L75.6 54.8M25.4 35.8L19.6 85.8M24.0 33.6L-8.2 74.3M24.0 26.3L6.2 -20.2M27.3 33.5L53.9 78.6M21.5 34.1L-20.1 61.4M28.6 32.3L77.1 51.3M23.0 27.4L-7.7 -12.4M23.4 32.0L-26.6 47.6M23.2 30.3L-26.3 13.9M28.3 32.4L75.1 55.8M28.5 30.1L76.6 10.0M21.0 32.0L-28.4 39.8M27.0 34.7L42.6 83.6M27.0 27.2L40.8 -21.7M27.3 35.1L44.8 82.9M30.9 31.0L80.9 29.4M28.4 30.6L79.4 18.4M29.6 32.6L77.3 50.9M31.3 31.6L80.7 35.6M24.8 35.2L11.5 84.3M28.6 28.6L65.4 -7.1M26.2 28.3L31.2 -23.5M21.5 32.8L-25.8 49.8M22.9 31.8L-28.0 42.1M28.2 28.4L60.7 -11.4M28.8 29.4L72.8 2.5M27.2 28.7L51.6 -17.4M23.5 26.4L0.9 -17.8M23.3 28.5L-12.3 -8.3M31.3 30.5L80.5 24.6M27.3 28.4L50.0 -18.2M29.6 33.5L72.5 60.4M27.7 33.2L62.5 72.2M20.9 29.4L-25.8 12.5M25.3 36.1L18.7 85.7M31.1 29.9L79.2 17.8M28.4 32.6L73.9 58.1M31.1 29.7L78.7 15.9M27.3 33.9L51.9 79.6M25.2 28.5L13.0 -22.3M28.3 33.0L69.6 64.6M22.7 29.5L-22.6 5.2M27.5 28.7L56.1 -14.8M29.8 28.3L69.8 -2.0M22.9 34.3L-12.9 70.2M24.6 28.6L1.5 -18.1M29.4 29.6L76.0 8.5" stroke="#fff" stroke-width="0.4" stroke-opacity="0.25" fill="none"/><path d="M26.6 26.7h1.0v1.0h-1.0zM25.7 29.0h1.0v1.0h-1.0zM31.6 20.5h1.0v1.0h-1.0zM30.0 22.2h1.0v1.0h-1.0zM36.6 11.8h1.0v1.0h-1.0zM42.9 23.6h1.0v1.0h-1.0zM45.5 20.5h1.0v1.0h-1.0zM39.5 30.5h1.0v1.0h-1.0zM35.2 30.8h1.0v1.0h-1.0zM28.4 33.8h1.0v1.0h-1.0zM21.5 26.6h1.0v1.0h-1.0zM17.5 26.6h1.0v1.0h-1.0zM9.3 32.4h1.0v1.0h-1.0zM12.6 38.2h1.0v1.0h-1.0zM20.8 38.0h1.0v1.0h-1.0zM29.2 34.3h1.0v1.0h-1.0zM33.1 31.4h1.0v1.0h-1.0zM37.2 34.2h1.0v1.0h-1.0zM41.5 43.2h1.0v1.0h-1.0zM44.3 47.2h1.0v1.0h-1.0zM43.9 50.5h1.0v1.0h-1.0zM47.1 59.2h1.0v1.0h-1.0zM39.1 57.8h1.0v1.0h-1.0zM38.0 61.5h1.0v1.0h-1.0zM29.3 46.6h1.0v1.0h-1.0zM31.3 46.7h1.0v1.0h-1.0zM31.7 43.9h1.0v1.0h-1.0zM24.2 34.6h1.0v1.0h-1.0zM23.5 35.5h1.0v1.0h-1.0z" fill="#efd335"/><path d="M17.6 31.9h1.0v1.0h-1.0zM21.1 28.5h1.0v1.0h-1.0zM17.9 25.5h1.0v1.0h-1.0zM16.5 25.8h1.0v1.0h-1.0zM16.4 16.1h1.0v1.0h-1.0zM14.8 17.4h1.0v1.0h-1.0zM16.6 18.1h1.0v1.0h-1.0zM16.8 19.7h1.0v1.0h-1.0zM17.6 22.7h1.0v1.0h-1.0zM17.8 23.2h1.0v1.0h-1.0zM21.2 18.9h1.0v1.0h-1.0zM24.5 17.1h1.0v1.0h-1.0zM28.9 13.3h1.0v1.0h-1.0zM26.5 15.8h1.0v1.0h-1.0zM32.7 13.0h1.0v1.0h-1.0zM37.2 17.4h1.0v1.0h-1.0zM33.1 24.8h1.0v1.0h-1.0zM34.3 19.2h1.0v1.0h-1.0zM31.6 26.0h1.0v1.0h-1.0zM29.8 26.4h1.0v1.0h-1.0zM30.4 31.4h1.0v1.0h-1.0zM28.4 34.4h1.0v1.0h-1.0zM27.6 39.4h1.0v1.0h-1.0zM27.1 38.8h1.0v1.0h-1.0zM29.4 43.7h1.0v1.0h-1.0zM28.3 44.0h1.0v1.0h-1.0zM26.5 46.9h1.0v1.0h-1.0zM21.0 48.3h1.0v1.0h-1.0zM22.5 53.2h1.0v1.0h-1.0zM17.5 49.9h1.0v1.0h-1.0zM15.1 51.2h1.0v1.0h-1.0zM13.5 51.5h1.0v1.0h-1.0zM8.5 52.9h1.0v1.0h-1.0zM8.6 58.2h1.0v1.0h-1.0zM2.2 41.6h1.0v1.0h-1.0zM3.7 38.6h1.0v1.0h-1.0zM5.3 43.0h1.0v1.0h-1.0zM2.9 41.0h1.0v1.0h-1.0zM17.3 33.1h1.0v1.0h-1.0zM14.7 34.2h1.0v1.0h-1.0zM17.2 32.4h1.0v1.0h-1.0zM22.3 30.3h1.0v1.0h-1.0zM24.1 29.4h1.0v1.0h-1.0zM20.0 29.0h1.0v1.0h-1.0z" fill="#684387"/><path d="M32.7 38.3h1.0v1.0h-1.0zM35.2 35.6h1.0v1.0h-1.0zM35.8 40.7h1.0v1.0h-1.0zM37.2 42.9h1.0v1.0h-1.0zM38.2 52.0h1.0v1.0h-1.0zM30.6 45.1h1.0v1.0h-1.0zM32.3 45.8h1.0v1.0h-1.0zM32.3 47.1h1.0v1.0h-1.0zM25.4 35.1h1.0v1.0h-1.0zM24.7 33.4h1.0v1.0h-1.0z" fill="#5eaa9d"/></g>
<path d="M162.44,114.20V187.40H221.24" fill="none" stroke="#1c1c1c" stroke-width="1.15"/>
<text x="269.43" y="112.90" font-size="11" text-anchor="middle" fill="#0a0a0a" class="t">18.464</text>
<g transform="translate(232.36,114.20)"><polygon points="32.6,44.0 37.0,30.0 42.0,20.0 48.0,15.0 55.0,22.0 56.0,30.0 50.0,36.0 40.0,43.0" fill="url(#spY2)"/><g filter="url(#rough)"><polygon points="32.6,44.0 37.0,33.0 44.0,26.0 47.0,30.0 40.0,40.0" fill="#efd335"/><polygon points="32.0,44.0 35.0,44.0 37.0,60.0 35.5,70.0 32.0,70.0 31.0,58.0" fill="#efd335"/><polygon points="32.6,43.0 2.5,46.5 2.5,49.0 32.6,45.5" fill="#efd335"/><polygon points="29.0,42.0 38.5,15.0 42.0,16.0 35.0,36.0 33.0,44.0" fill="#684387"/><polygon points="29.0,42.0 24.0,30.0 27.0,29.0 32.0,40.0" fill="#684387"/><polygon points="31.0,44.0 8.0,52.5 8.5,55.5 31.5,47.0" fill="#684387"/><polygon points="30.0,46.0 32.0,46.0 31.5,52.0 30.0,53.0" fill="#684387"/><polygon points="33.0,43.5 36.5,44.5 35.0,47.0" fill="#5eaa9d"/></g><path d="M27.4 43.1L-22.4 38.5M35.7 44.0L86.9 50.8M37.0 44.5L86.4 54.2M33.3 48.2L43.2 97.5M31.3 38.2L21.3 -10.3M34.0 47.0L55.7 93.4M33.3 39.9L45.5 -9.8M34.4 47.6L57.1 92.7M33.5 39.9L47.6 -9.3M30.3 45.6L-8.1 80.8M28.2 46.4L-13.3 74.2M29.1 47.8L-1.2 87.2M29.9 46.7L-2.1 86.5M33.3 38.5L42.4 -10.5M34.5 40.5L63.2 -1.9M29.6 44.5L-20.1 60.1M27.6 42.4L-21.0 30.5M33.7 46.8L52.4 94.8M35.9 45.1L82.8 65.7M27.0 44.3L-22.2 50.2M29.9 39.0L5.9 -4.6M33.6 47.2L49.3 95.9M31.6 41.0L16.1 -8.9M28.5 41.7L-17.2 19.9M35.5 44.1L86.6 52.9M33.0 40.7L44.1 -10.1M30.0 40.7L-3.3 1.7M28.5 46.9L-9.9 78.8M28.3 46.7L-11.4 76.9M34.2 39.8L56.0 -6.1M35.2 45.7L76.6 76.4M35.6 42.7L85.2 28.2M29.8 41.9L-14.0 14.0M31.9 39.1L26.3 -11.1M35.7 40.9L74.8 8.5M36.2 46.7L74.7 78.8M27.7 41.1L-16.4 18.3M29.0 43.2L-22.2 36.9M28.5 45.1L-19.1 62.8M31.0 39.4L14.9 -8.5M35.1 40.5L67.9 1.6M33.8 48.5L47.8 96.4M31.7 40.7L19.2 -9.8M27.5 44.8L-20.9 57.0M29.9 42.3L-16.3 18.0M35.5 40.1L69.0 2.5M33.9 47.9L50.3 95.6M35.2 40.4L68.4 2.0M36.3 42.3L84.5 26.0M36.9 43.9L87.2 47.8M34.9 39.0L59.0 -4.6M32.6 38.3L34.2 -11.4M33.7 39.9L50.4 -8.4M35.2 44.7L83.5 64.0M37.4 45.2L84.8 60.3M34.2 38.7L51.8 -7.9M33.0 39.8L41.7 -10.6M30.0 42.6L-18.2 22.1M34.4 46.7L61.8 90.1M35.7 44.7L84.3 61.8" stroke="#fff" stroke-width="0.4" stroke-opacity="0.25" fill="none"/><path d="M34.0 33.2h1.0v1.0h-1.0zM31.4 37.6h1.0v1.0h-1.0zM42.3 25.2h1.0v1.0h-1.0zM38.2 26.2h1.0v1.0h-1.0zM49.2 23.9h1.0v1.0h-1.0zM45.2 36.3h1.0v1.0h-1.0zM49.3 37.5h1.0v1.0h-1.0zM44.8 42.7h1.0v1.0h-1.0zM36.5 49.0h1.0v1.0h-1.0zM39.8 42.9h1.0v1.0h-1.0zM38.7 47.0h1.0v1.0h-1.0zM37.4 43.5h1.0v1.0h-1.0zM44.5 54.4h1.0v1.0h-1.0zM41.9 66.6h1.0v1.0h-1.0zM39.6 68.2h1.0v1.0h-1.0zM29.1 65.7h1.0v1.0h-1.0zM28.7 59.8h1.0v1.0h-1.0zM29.8 68.5h1.0v1.0h-1.0zM21.8 56.4h1.0v1.0h-1.0zM28.4 48.6h1.0v1.0h-1.0zM27.2 54.1h1.0v1.0h-1.0zM19.7 40.0h1.0v1.0h-1.0zM12.5 39.3h1.0v1.0h-1.0zM29.9 39.2h1.0v1.0h-1.0zM31.8 39.2h1.0v1.0h-1.0zM3.3 44.8h1.0v1.0h-1.0zM22.2 42.6h1.0v1.0h-1.0zM24.7 48.4h1.0v1.0h-1.0zM26.4 49.6h1.0v1.0h-1.0zM30.5 50.5h1.0v1.0h-1.0zM30.8 51.8h1.0v1.0h-1.0zM24.2 48.2h1.0v1.0h-1.0zM33.7 51.4h1.0v1.0h-1.0z" fill="#efd335"/><path d="M23.5 38.2h1.0v1.0h-1.0zM30.6 29.7h1.0v1.0h-1.0zM32.5 28.7h1.0v1.0h-1.0zM33.6 20.7h1.0v1.0h-1.0zM35.2 18.4h1.0v1.0h-1.0zM32.1 22.2h1.0v1.0h-1.0zM34.4 16.7h1.0v1.0h-1.0zM31.1 22.0h1.0v1.0h-1.0zM34.8 18.3h1.0v1.0h-1.0zM27.9 29.5h1.0v1.0h-1.0zM40.6 13.2h1.0v1.0h-1.0zM41.7 24.1h1.0v1.0h-1.0zM38.7 35.5h1.0v1.0h-1.0zM45.4 25.2h1.0v1.0h-1.0zM40.9 34.7h1.0v1.0h-1.0zM39.5 36.0h1.0v1.0h-1.0zM39.3 30.7h1.0v1.0h-1.0zM43.2 20.9h1.0v1.0h-1.0zM35.7 41.8h1.0v1.0h-1.0zM37.1 37.7h1.0v1.0h-1.0zM37.1 42.8h1.0v1.0h-1.0zM31.1 46.0h1.0v1.0h-1.0zM21.1 31.6h1.0v1.0h-1.0zM23.3 34.5h1.0v1.0h-1.0zM26.4 38.5h1.0v1.0h-1.0zM17.8 34.3h1.0v1.0h-1.0zM25.8 26.8h1.0v1.0h-1.0zM33.2 33.4h1.0v1.0h-1.0zM34.5 32.6h1.0v1.0h-1.0zM36.9 36.4h1.0v1.0h-1.0zM30.3 31.9h1.0v1.0h-1.0zM32.3 43.4h1.0v1.0h-1.0zM23.0 39.9h1.0v1.0h-1.0zM19.2 45.3h1.0v1.0h-1.0zM8.0 48.8h1.0v1.0h-1.0zM17.8 46.5h1.0v1.0h-1.0zM11.1 48.1h1.0v1.0h-1.0zM10.5 46.7h1.0v1.0h-1.0zM24.0 42.1h1.0v1.0h-1.0zM9.8 49.3h1.0v1.0h-1.0zM27.6 43.7h1.0v1.0h-1.0zM5.3 55.7h1.0v1.0h-1.0zM9.7 58.3h1.0v1.0h-1.0zM23.0 52.8h1.0v1.0h-1.0zM23.5 50.7h1.0v1.0h-1.0zM33.0 53.0h1.0v1.0h-1.0zM15.3 60.3h1.0v1.0h-1.0zM20.7 57.7h1.0v1.0h-1.0zM31.1 51.3h1.0v1.0h-1.0zM15.0 54.8h1.0v1.0h-1.0zM26.2 52.9h1.0v1.0h-1.0zM32.9 45.8h1.0v1.0h-1.0zM29.6 44.6h1.0v1.0h-1.0zM35.4 49.7h1.0v1.0h-1.0zM35.9 47.4h1.0v1.0h-1.0zM32.0 54.3h1.0v1.0h-1.0zM25.3 52.5h1.0v1.0h-1.0zM27.4 51.2h1.0v1.0h-1.0zM27.8 47.0h1.0v1.0h-1.0z" fill="#684387"/><path d="M36.6 42.2h1.0v1.0h-1.0zM38.1 45.8h1.0v1.0h-1.0z" fill="#5eaa9d"/></g>
<path d="M232.36,114.20V187.40H291.16" fill="none" stroke="#1c1c1c" stroke-width="1.15"/>
<text x="339.28" y="112.90" font-size="11" text-anchor="middle" fill="#0a0a0a" class="t">18.465</text>
<g transform="translate(302.28,114.20)"><g filter="url(#rough)"><polygon points="31.8,31.2 36.5,31.8 44.8,32.4 47.1,37.7 50.7,43.6 53.0,48.3 49.5,49.5 44.8,48.3 38.9,46.0 35.4,44.8 30.6,49.5 23.6,54.2 17.7,58.9 13.0,61.3 14.1,56.6 16.5,50.7 17.7,43.6 18.9,37.7 23.6,35.4" fill="#efd335"/><polygon points="31.8,31.2 23.6,24.7 15.3,17.7 8.2,11.8 10.6,10.6 17.7,13.0 23.6,17.7 29.5,23.6 33.0,27.1" fill="#efd335"/><polygon points="31.8,31.2 34.2,24.7 41.2,23.6 48.3,21.8 50.7,24.7 50.7,29.5 44.8,31.2 36.5,31.8" fill="#684387"/><polygon points="31.8,31.2 24.7,27.1 20.0,28.3 16.5,30.6 17.7,33.0 23.6,34.2 28.3,33.0" fill="#684387"/><polygon points="31.8,31.2 28.3,33.0 21.2,34.2 14.1,35.4 10.6,38.9 11.8,41.2 17.7,38.9 25.9,35.4" fill="#5eaa9d"/></g><path d="M28.8 30.8L-22.8 24.7M33.0 33.7L55.9 80.6M27.0 32.5L-21.2 45.8M27.4 32.7L-20.2 49.1M30.8 26.4L20.2 -22.6M32.9 27.4L47.5 -21.5M34.7 32.1L84.5 46.9M31.2 34.7L22.1 85.3M28.6 28.9L-12.9 -0.8M31.1 34.1L18.7 84.6M31.4 25.7L27.8 -23.7M30.9 28.4L15.4 -21.3M30.1 26.6L13.2 -20.6M27.5 30.2L-21.7 18.2M34.3 28.2L67.4 -10.7M31.0 28.3L17.0 -21.8M34.0 27.6L60.2 -15.9M33.4 35.3L51.7 82.5M33.5 27.8L56.7 -17.8M30.0 35.5L10.8 82.1M37.2 31.0L86.8 29.5M30.3 34.9L11.6 82.4M29.7 33.2L-7.5 69.6M28.6 30.2L-20.9 15.5M26.9 31.9L-22.7 38.8M26.7 29.3L-19.9 12.4M32.7 34.1L47.8 83.8M36.0 33.0L82.4 52.8M31.1 34.3L19.4 84.8M28.2 27.1L-4.1 -10.5M31.9 25.8L32.9 -23.8M35.5 29.5L81.9 8.4M32.7 35.9L42.2 85.2M32.3 33.9L42.9 85.1M28.5 34.6L-6.8 70.4M29.3 28.4L-5.1 -9.6M33.9 33.3L70.5 70.3M28.6 28.8L-12.6 -1.3M27.2 30.0L-21.2 16.7M27.2 28.9L-17.5 6.8M35.4 29.2L80.0 4.6M29.2 34.3L-3.4 73.5M31.8 34.2L31.9 86.2M31.1 27.4L21.6 -22.8M35.4 31.7L86.3 38.9M30.6 33.6L8.0 80.8M36.1 31.8L86.3 38.9M33.5 26.5L50.5 -20.5M29.2 29.4L-13.3 -0.3M29.7 28.7L-3.8 -10.7M32.2 34.7L38.5 85.8M33.7 33.3L68.2 72.5M34.5 31.0L86.6 26.4M36.3 30.4L85.9 21.3M31.7 28.4L29.1 -23.7M30.5 28.4L8.5 -18.6M27.9 31.0L-23.1 28.5M34.1 29.6L76.7 -0.6M36.0 31.4L86.7 33.7M27.4 30.5L-22.5 22.6" stroke="#fff" stroke-width="0.4" stroke-opacity="0.25" fill="none"/><path d="M31.7 27.5h1.0v1.0h-1.0zM43.7 30.1h1.0v1.0h-1.0zM52.8 34.6h1.0v1.0h-1.0zM47.0 33.3h1.0v1.0h-1.0zM53.3 41.6h1.0v1.0h-1.0zM57.7 42.5h1.0v1.0h-1.0zM52.7 49.9h1.0v1.0h-1.0zM47.0 45.7h1.0v1.0h-1.0zM47.0 38.0h1.0v1.0h-1.0zM38.0 39.9h1.0v1.0h-1.0zM33.5 49.1h1.0v1.0h-1.0zM27.1 57.6h1.0v1.0h-1.0zM29.4 53.1h1.0v1.0h-1.0zM23.2 56.5h1.0v1.0h-1.0zM17.8 68.3h1.0v1.0h-1.0zM11.0 58.5h1.0v1.0h-1.0zM13.0 51.6h1.0v1.0h-1.0zM7.3 45.0h1.0v1.0h-1.0zM14.8 40.1h1.0v1.0h-1.0zM18.7 36.2h1.0v1.0h-1.0zM23.2 31.2h1.0v1.0h-1.0zM22.9 33.1h1.0v1.0h-1.0zM27.2 30.1h1.0v1.0h-1.0zM27.2 31.3h1.0v1.0h-1.0zM26.2 34.6h1.0v1.0h-1.0zM13.1 20.6h1.0v1.0h-1.0zM15.6 19.8h1.0v1.0h-1.0zM15.8 27.5h1.0v1.0h-1.0zM10.2 19.9h1.0v1.0h-1.0zM14.0 19.7h1.0v1.0h-1.0zM6.4 9.3h1.0v1.0h-1.0zM14.2 8.5h1.0v1.0h-1.0zM19.5 11.5h1.0v1.0h-1.0zM24.5 10.6h1.0v1.0h-1.0zM29.1 20.8h1.0v1.0h-1.0zM23.9 16.2h1.0v1.0h-1.0zM32.5 21.8h1.0v1.0h-1.0zM36.4 31.7h1.0v1.0h-1.0z" fill="#efd335"/><path d="M30.9 25.3h1.0v1.0h-1.0zM32.4 26.3h1.0v1.0h-1.0zM38.3 21.6h1.0v1.0h-1.0zM34.2 15.9h1.0v1.0h-1.0zM40.1 21.6h1.0v1.0h-1.0zM45.7 19.8h1.0v1.0h-1.0zM42.2 18.5h1.0v1.0h-1.0zM50.3 21.2h1.0v1.0h-1.0zM51.5 19.2h1.0v1.0h-1.0zM56.1 29.4h1.0v1.0h-1.0zM53.7 28.6h1.0v1.0h-1.0zM47.5 34.9h1.0v1.0h-1.0zM46.4 35.1h1.0v1.0h-1.0zM42.3 37.2h1.0v1.0h-1.0zM42.1 33.1h1.0v1.0h-1.0zM38.0 34.6h1.0v1.0h-1.0zM36.2 35.2h1.0v1.0h-1.0zM28.4 27.3h1.0v1.0h-1.0zM26.8 26.2h1.0v1.0h-1.0zM23.5 25.5h1.0v1.0h-1.0zM22.5 23.9h1.0v1.0h-1.0zM14.8 28.2h1.0v1.0h-1.0zM12.0 36.1h1.0v1.0h-1.0zM19.8 35.1h1.0v1.0h-1.0zM21.2 37.3h1.0v1.0h-1.0zM25.3 38.7h1.0v1.0h-1.0zM24.4 39.6h1.0v1.0h-1.0zM31.0 35.1h1.0v1.0h-1.0z" fill="#684387"/><path d="M32.4 35.3h1.0v1.0h-1.0zM24.3 31.0h1.0v1.0h-1.0zM24.7 31.3h1.0v1.0h-1.0zM16.6 32.7h1.0v1.0h-1.0zM8.5 36.0h1.0v1.0h-1.0zM17.5 40.9h1.0v1.0h-1.0zM25.1 37.7h1.0v1.0h-1.0zM33.7 34.0h1.0v1.0h-1.0z" fill="#5eaa9d"/></g>
<path d="M302.28,114.20V187.40H361.08" fill="none" stroke="#1c1c1c" stroke-width="1.15"/>
<text x="409.13" y="112.90" font-size="11" text-anchor="middle" fill="#0a0a0a" class="t">18.485</text>
<g transform="translate(372.20,114.20)"><g filter="url(#rough)"><polygon points="24.7,44.8 21.2,35.4 16.5,17.7 14.1,14.1 13.0,23.6 9.4,30.6 5.9,36.5 7.1,41.2 5.9,47.1 9.4,51.9 16.5,51.9 22.4,48.3" fill="#efd335"/><polygon points="24.7,44.8 28.3,37.7 31.8,31.8 36.5,33.0 41.2,37.7 50.7,40.1 49.5,44.8 42.4,47.1 33.0,47.1 28.3,46.6" fill="#efd335"/><polygon points="25.9,47.1 30.6,49.5 35.4,56.6 38.9,63.6 35.4,63.6 30.6,60.1 27.1,54.2" fill="#efd335"/><polygon points="24.7,44.8 21.8,35.4 21.2,23.6 21.8,11.8 25.9,10.6 28.3,14.1 28.9,23.6 30.6,30.6 28.3,37.7" fill="#684387"/><polygon points="24.7,44.8 27.1,49.5 28.3,55.4 30.6,63.6 30.1,68.4 27.1,68.4 23.6,64.8 17.7,63.6 9.4,62.5 8.2,60.1 13.0,56.6 18.9,51.9" fill="#684387"/><polygon points="24.7,44.8 21.2,43.6 23.6,40.7 27.1,43.6 33.0,47.1 41.2,49.5 48.3,51.9 47.1,55.4 40.1,55.4 33.0,51.9 27.1,47.1" fill="#5eaa9d"/></g><path d="M27.8 46.7L71.8 73.2M23.7 40.6L12.1 -8.7M23.7 47.1L2.5 95.1M29.7 46.2L77.6 59.9M24.3 47.5L16.5 99.2M23.9 47.8L10.5 97.9M22.2 44.1L-28.3 30.0M20.4 43.7L-28.6 31.1M20.5 43.8L-28.9 32.4M24.9 48.5L27.6 99.7M24.7 41.4L24.1 -10.2M26.1 42.1L50.0 -4.0M19.6 45.5L-29.8 52.4M23.0 42.0L-3.7 -2.3M22.5 47.3L-11.9 85.9M24.7 41.2L25.2 -10.2M27.1 40.9L53.4 -2.1M26.7 41.2L51.4 -3.3M23.8 49.3L13.7 98.7M22.3 45.8L-25.9 66.4M21.8 45.7L-27.6 61.8M27.7 46.3L74.0 69.3M29.0 43.5L77.5 29.4M20.8 46.5L-25.6 67.0M21.5 47.5L-17.0 80.6M24.4 49.9L21.1 99.7M25.7 41.1L39.7 -8.1M21.3 43.6L-26.9 25.8M25.4 39.8L31.9 -9.7M27.2 43.5L73.8 20.0M27.3 43.1L70.7 14.6M27.6 47.2L66.9 80.1M23.0 42.5L-8.5 1.0M21.4 40.6L-9.3 1.6M25.6 39.9L34.7 -9.3M26.6 47.7L54.6 90.9M24.8 48.4L25.8 99.8M28.8 41.2L65.8 8.2M24.3 49.0L19.7 99.6M20.5 41.4L-18.1 10.2M22.0 45.7L-27.6 61.9M27.1 46.5L69.4 76.9M22.0 45.2L-29.7 53.0M23.6 41.9L5.3 -6.7M29.2 46.0L77.8 59.3M20.1 45.9L-28.8 57.5M21.5 43.1L-24.0 19.2M29.3 47.0L74.4 68.4M23.3 41.8L1.1 -4.9M28.5 47.0L72.5 71.9M29.0 42.8L74.5 21.4M29.5 42.2L73.3 19.1M26.8 47.0L63.2 84.0M21.9 45.4L-29.1 56.4M19.8 45.3L-30.0 50.3M24.4 49.7L21.0 99.7M24.6 49.7L23.1 99.8M27.2 46.1L73.5 70.1M28.8 46.0L77.4 60.5M29.2 45.4L79.2 52.6" stroke="#fff" stroke-width="0.4" stroke-opacity="0.25" fill="none"/><path d="M28.4 38.3h1.0v1.0h-1.0zM26.2 40.2h1.0v1.0h-1.0zM20.3 25.1h1.0v1.0h-1.0zM19.9 21.7h1.0v1.0h-1.0zM21.9 17.7h1.0v1.0h-1.0zM23.5 31.7h1.0v1.0h-1.0zM20.6 13.0h1.0v1.0h-1.0zM12.0 17.9h1.0v1.0h-1.0zM6.8 16.5h1.0v1.0h-1.0zM11.0 22.3h1.0v1.0h-1.0zM6.9 29.6h1.0v1.0h-1.0zM3.4 31.4h1.0v1.0h-1.0zM7.8 29.7h1.0v1.0h-1.0zM3.5 37.3h1.0v1.0h-1.0zM4.5 43.0h1.0v1.0h-1.0zM4.1 49.9h1.0v1.0h-1.0zM13.2 53.8h1.0v1.0h-1.0zM17.8 53.5h1.0v1.0h-1.0zM18.9 54.0h1.0v1.0h-1.0zM28.7 49.2h1.0v1.0h-1.0zM24.6 40.7h1.0v1.0h-1.0zM28.6 33.1h1.0v1.0h-1.0zM34.7 30.6h1.0v1.0h-1.0zM41.0 32.1h1.0v1.0h-1.0zM39.4 30.8h1.0v1.0h-1.0zM47.9 36.8h1.0v1.0h-1.0zM51.1 37.8h1.0v1.0h-1.0zM53.8 43.2h1.0v1.0h-1.0zM48.9 49.7h1.0v1.0h-1.0zM48.4 50.1h1.0v1.0h-1.0zM39.8 50.9h1.0v1.0h-1.0zM40.3 49.4h1.0v1.0h-1.0zM28.9 50.0h1.0v1.0h-1.0zM24.9 50.8h1.0v1.0h-1.0zM29.6 46.1h1.0v1.0h-1.0zM39.8 52.6h1.0v1.0h-1.0zM37.3 49.7h1.0v1.0h-1.0zM41.4 57.0h1.0v1.0h-1.0zM40.6 61.0h1.0v1.0h-1.0zM32.4 63.3h1.0v1.0h-1.0zM25.9 58.9h1.0v1.0h-1.0zM28.5 60.1h1.0v1.0h-1.0zM23.1 52.6h1.0v1.0h-1.0z" fill="#efd335"/><path d="M20.1 38.9h1.0v1.0h-1.0zM22.4 39.1h1.0v1.0h-1.0zM20.2 35.9h1.0v1.0h-1.0zM21.1 41.1h1.0v1.0h-1.0zM19.7 32.1h1.0v1.0h-1.0zM17.6 34.7h1.0v1.0h-1.0zM15.9 27.8h1.0v1.0h-1.0zM17.2 28.1h1.0v1.0h-1.0zM18.4 32.6h1.0v1.0h-1.0zM16.7 15.2h1.0v1.0h-1.0zM19.7 12.0h1.0v1.0h-1.0zM18.4 13.1h1.0v1.0h-1.0zM20.2 19.0h1.0v1.0h-1.0zM22.0 6.8h1.0v1.0h-1.0zM30.9 10.6h1.0v1.0h-1.0zM30.5 16.3h1.0v1.0h-1.0zM30.4 17.2h1.0v1.0h-1.0zM32.1 14.0h1.0v1.0h-1.0zM32.1 25.4h1.0v1.0h-1.0zM34.5 27.3h1.0v1.0h-1.0zM34.0 22.5h1.0v1.0h-1.0zM36.8 38.1h1.0v1.0h-1.0zM32.1 37.6h1.0v1.0h-1.0zM27.7 41.1h1.0v1.0h-1.0zM28.4 42.8h1.0v1.0h-1.0zM30.0 40.8h1.0v1.0h-1.0zM28.1 47.5h1.0v1.0h-1.0zM27.7 43.3h1.0v1.0h-1.0zM32.2 47.9h1.0v1.0h-1.0zM35.4 49.8h1.0v1.0h-1.0zM31.4 55.5h1.0v1.0h-1.0zM34.0 56.2h1.0v1.0h-1.0zM33.2 55.6h1.0v1.0h-1.0zM32.5 65.3h1.0v1.0h-1.0zM26.9 71.3h1.0v1.0h-1.0zM22.6 71.3h1.0v1.0h-1.0zM18.6 70.0h1.0v1.0h-1.0zM22.3 71.0h1.0v1.0h-1.0zM15.7 69.5h1.0v1.0h-1.0zM9.3 65.2h1.0v1.0h-1.0zM11.3 64.6h1.0v1.0h-1.0zM6.1 62.4h1.0v1.0h-1.0zM10.1 54.9h1.0v1.0h-1.0zM11.4 56.0h1.0v1.0h-1.0zM15.6 49.2h1.0v1.0h-1.0zM12.3 54.3h1.0v1.0h-1.0zM17.8 49.8h1.0v1.0h-1.0zM18.9 44.0h1.0v1.0h-1.0zM18.7 46.5h1.0v1.0h-1.0zM19.7 41.5h1.0v1.0h-1.0z" fill="#684387"/><path d="M23.3 40.3h1.0v1.0h-1.0zM25.2 45.9h1.0v1.0h-1.0zM33.2 43.0h1.0v1.0h-1.0zM35.2 36.5h1.0v1.0h-1.0zM33.9 44.9h1.0v1.0h-1.0zM37.6 45.6h1.0v1.0h-1.0zM46.0 47.6h1.0v1.0h-1.0zM50.4 56.6h1.0v1.0h-1.0zM44.0 61.8h1.0v1.0h-1.0zM46.6 57.4h1.0v1.0h-1.0zM31.4 57.1h1.0v1.0h-1.0zM26.5 51.4h1.0v1.0h-1.0zM24.4 49.3h1.0v1.0h-1.0z" fill="#5eaa9d"/></g>
<path d="M372.20,114.20V187.40H431.00" fill="none" stroke="#1c1c1c" stroke-width="1.15"/>
<text x="478.97" y="112.90" font-size="11" text-anchor="middle" fill="#0a0a0a" class="t">18.489</text>
<g transform="translate(442.12,114.20)"><g filter="url(#rough)"><polygon points="20.0,40.1 15.3,23.6 10.6,14.1 13.0,13.0 17.7,20.0 18.9,30.6" fill="#efd335"/><polygon points="20.0,40.1 16.5,35.4 9.4,33.0 5.9,37.7 5.9,44.8 7.1,50.7 14.1,49.5 18.9,44.8" fill="#efd335"/><polygon points="20.0,40.1 25.9,35.4 33.0,28.3 38.9,23.6 47.1,18.9 50.7,20.0 49.5,24.7 41.2,30.6 38.9,35.4 42.4,40.1 42.4,46.0 35.4,46.0 28.3,43.6" fill="#efd335"/><polygon points="21.2,44.2 27.1,48.3 31.8,56.6 29.5,57.7 24.7,53.0" fill="#efd335"/><polygon points="20.0,40.1 17.7,23.6 17.7,15.3 21.2,10.6 25.9,14.1 29.5,21.2 28.3,27.1 23.6,35.4" fill="#684387"/><polygon points="20.0,40.1 22.4,44.8 27.1,53.0 30.6,61.3 32.4,67.2 29.5,68.4 25.9,61.3 20.0,58.9 14.1,56.6 13.0,50.7 16.5,46.0" fill="#684387"/><polygon points="19.0,39.5 31.5,25.0 33.5,27.5 21.0,41.5" fill="#5eaa9d"/><polygon points="21.0,41.0 41.0,52.5 39.5,55.5 20.5,44.0" fill="#5eaa9d"/></g><path d="M15.5 42.7L-27.8 67.3M16.2 43.4L-21.3 76.5M20.0 36.5L20.7 -14.9M20.8 35.9L30.0 -14.0M16.8 38.0L-25.9 9.7M22.3 43.5L51.2 85.4M16.2 39.7L-34.6 33.6M23.0 39.8L74.7 34.2M23.5 37.9L66.6 10.9M23.4 42.5L64.8 72.0M21.5 43.8L40.9 91.0M15.2 40.7L-34.5 47.1M22.3 38.6L66.4 10.5M23.8 36.4L59.3 1.6M21.6 42.3L52.0 84.9M17.5 40.7L-33.6 52.4M22.9 42.9L58.9 78.9M21.1 44.3L34.0 93.3M21.2 44.4L34.4 93.2M18.1 38.2L-19.1 1.4M17.9 35.3L-2.0 -10.3M22.6 40.0L75.0 38.0M18.7 36.9L-0.8 -10.8M16.6 42.0L-27.7 67.5M24.2 41.4L72.4 56.7M23.5 43.8L57.6 80.2M23.5 42.7L64.2 72.9M17.5 39.2L-31.9 21.9M23.0 42.7L61.5 76.2M17.7 42.0L-22.4 75.1M22.6 42.0L64.2 72.8M21.1 37.4L41.5 -10.5M20.1 37.3L22.4 -14.8M22.0 35.7L42.4 -10.1M22.7 37.6L60.5 2.9M23.7 39.5L74.3 31.4M16.6 36.4L-17.4 -0.2M21.5 42.2L51.9 84.9M18.9 37.1L1.1 -11.6M20.8 44.0L30.6 94.1M21.6 43.0L45.9 88.6M20.8 42.8L36.1 92.7M22.0 35.5L42.0 -10.3M19.6 36.3L13.8 -14.5M23.6 38.2L68.6 14.3M17.6 39.2L-31.8 21.7M18.1 42.6L-13.8 83.5M17.1 35.6L-10.1 -5.9M17.6 37.6L-18.2 0.6M21.4 37.7L47.2 -7.7M20.9 37.6L38.8 -11.6M24.6 39.1L73.7 28.0M23.9 39.7L74.8 35.1M18.0 37.0L-10.1 -5.9M20.0 36.0L20.3 -14.9M15.3 41.4L-33.0 55.0M23.1 38.9L71.1 19.8M19.7 45.6L17.4 95.0M18.1 43.2L-8.7 87.0M16.8 39.1L-32.6 24.0" stroke="#fff" stroke-width="0.4" stroke-opacity="0.25" fill="none"/><path d="M10.5 38.2h1.0v1.0h-1.0zM6.1 31.1h1.0v1.0h-1.0zM17.5 37.4h1.0v1.0h-1.0zM10.1 22.5h1.0v1.0h-1.0zM12.8 24.0h1.0v1.0h-1.0zM18.8 17.6h1.0v1.0h-1.0zM22.7 29.1h1.0v1.0h-1.0zM20.8 29.1h1.0v1.0h-1.0zM22.8 31.4h1.0v1.0h-1.0zM21.9 35.5h1.0v1.0h-1.0zM21.1 33.4h1.0v1.0h-1.0zM14.7 30.6h1.0v1.0h-1.0zM6.9 34.4h1.0v1.0h-1.0zM0.4 41.3h1.0v1.0h-1.0zM3.9 46.6h1.0v1.0h-1.0zM13.9 51.3h1.0v1.0h-1.0zM18.9 48.5h1.0v1.0h-1.0zM24.6 43.5h1.0v1.0h-1.0zM22.1 30.6h1.0v1.0h-1.0zM22.6 35.8h1.0v1.0h-1.0zM28.2 26.0h1.0v1.0h-1.0zM25.7 28.8h1.0v1.0h-1.0zM31.2 24.0h1.0v1.0h-1.0zM32.9 24.5h1.0v1.0h-1.0zM36.5 18.6h1.0v1.0h-1.0zM37.3 17.4h1.0v1.0h-1.0zM51.1 18.2h1.0v1.0h-1.0zM53.6 20.7h1.0v1.0h-1.0zM41.2 29.4h1.0v1.0h-1.0zM45.9 22.4h1.0v1.0h-1.0zM41.5 35.8h1.0v1.0h-1.0zM39.3 38.5h1.0v1.0h-1.0zM48.2 45.7h1.0v1.0h-1.0zM41.0 50.2h1.0v1.0h-1.0zM35.4 49.2h1.0v1.0h-1.0zM32.7 48.4h1.0v1.0h-1.0zM26.6 45.4h1.0v1.0h-1.0zM25.4 45.9h1.0v1.0h-1.0zM26.1 42.7h1.0v1.0h-1.0zM30.5 43.0h1.0v1.0h-1.0zM32.5 54.1h1.0v1.0h-1.0zM32.7 51.1h1.0v1.0h-1.0zM19.9 60.9h1.0v1.0h-1.0zM20.0 49.5h1.0v1.0h-1.0zM19.6 51.9h1.0v1.0h-1.0z" fill="#efd335"/><path d="M12.4 25.7h1.0v1.0h-1.0zM14.8 30.7h1.0v1.0h-1.0zM14.8 25.7h1.0v1.0h-1.0zM14.2 30.4h1.0v1.0h-1.0zM17.4 34.8h1.0v1.0h-1.0zM14.3 33.0h1.0v1.0h-1.0zM15.4 20.6h1.0v1.0h-1.0zM14.8 19.9h1.0v1.0h-1.0zM14.7 16.7h1.0v1.0h-1.0zM17.8 13.0h1.0v1.0h-1.0zM13.0 8.7h1.0v1.0h-1.0zM23.9 7.6h1.0v1.0h-1.0zM25.9 6.6h1.0v1.0h-1.0zM29.9 14.6h1.0v1.0h-1.0zM31.8 15.8h1.0v1.0h-1.0zM30.5 18.6h1.0v1.0h-1.0zM35.4 24.7h1.0v1.0h-1.0zM32.1 25.3h1.0v1.0h-1.0zM32.8 33.6h1.0v1.0h-1.0zM27.2 35.7h1.0v1.0h-1.0zM28.2 32.7h1.0v1.0h-1.0zM24.9 40.6h1.0v1.0h-1.0zM26.1 43.0h1.0v1.0h-1.0zM24.7 41.5h1.0v1.0h-1.0zM21.5 39.4h1.0v1.0h-1.0zM30.2 50.4h1.0v1.0h-1.0zM28.8 43.7h1.0v1.0h-1.0zM30.9 49.2h1.0v1.0h-1.0zM31.4 57.1h1.0v1.0h-1.0zM31.9 53.9h1.0v1.0h-1.0zM34.0 59.7h1.0v1.0h-1.0zM34.8 63.2h1.0v1.0h-1.0zM36.8 65.8h1.0v1.0h-1.0zM33.0 72.5h1.0v1.0h-1.0zM29.0 61.4h1.0v1.0h-1.0zM30.8 65.5h1.0v1.0h-1.0zM30.4 61.3h1.0v1.0h-1.0zM20.5 69.2h1.0v1.0h-1.0zM23.4 63.5h1.0v1.0h-1.0zM14.5 61.1h1.0v1.0h-1.0zM14.9 61.1h1.0v1.0h-1.0zM7.4 57.5h1.0v1.0h-1.0zM10.5 54.4h1.0v1.0h-1.0zM14.0 45.8h1.0v1.0h-1.0zM8.7 46.3h1.0v1.0h-1.0zM18.5 39.3h1.0v1.0h-1.0zM16.9 43.0h1.0v1.0h-1.0zM13.7 42.8h1.0v1.0h-1.0z" fill="#684387"/><path d="M22.1 33.9h1.0v1.0h-1.0zM27.9 21.8h1.0v1.0h-1.0zM22.5 30.9h1.0v1.0h-1.0zM16.2 30.1h1.0v1.0h-1.0zM40.7 20.9h1.0v1.0h-1.0zM34.0 32.6h1.0v1.0h-1.0zM32.0 33.6h1.0v1.0h-1.0zM26.0 39.7h1.0v1.0h-1.0zM29.2 35.9h1.0v1.0h-1.0zM25.2 39.8h1.0v1.0h-1.0zM31.1 43.8h1.0v1.0h-1.0zM24.2 39.6h1.0v1.0h-1.0zM27.4 37.2h1.0v1.0h-1.0zM44.6 55.2h1.0v1.0h-1.0zM25.3 52.2h1.0v1.0h-1.0zM32.3 55.1h1.0v1.0h-1.0zM37.5 57.0h1.0v1.0h-1.0zM30.6 53.4h1.0v1.0h-1.0zM22.9 49.7h1.0v1.0h-1.0z" fill="#5eaa9d"/></g>
<path d="M442.12,114.20V187.40H500.92" fill="none" stroke="#1c1c1c" stroke-width="1.15"/>
<text x="548.81" y="112.90" font-size="11" text-anchor="middle" fill="#0a0a0a" class="t">18.521</text>
<g transform="translate(512.04,114.20)"><g filter="url(#rough)"><polygon points="24.7,36.5 21.2,34.2 14.1,31.8 7.1,34.2 5.9,40.1 9.4,44.8 14.1,51.9 21.2,53.0 23.6,44.8" fill="#efd335"/><polygon points="24.7,36.5 29.5,33.0 37.7,25.9 44.8,21.2 49.5,22.4 47.1,27.1 42.4,31.8 41.2,38.9 37.7,43.6 35.4,49.5 30.6,49.5 28.3,43.6" fill="#efd335"/><polygon points="23.0,33.0 20.6,18.9 22.4,18.3 24.7,30.6" fill="#efd335"/><polygon points="24.7,36.5 23.6,23.6 24.2,4.7 26.5,5.9 27.7,17.7 27.1,33.0" fill="#684387"/><polygon points="24.7,36.5 28.3,43.6 30.6,49.5 31.8,56.6 29.5,61.3 28.3,64.8 25.9,67.2 23.6,60.1 21.2,57.7 22.4,49.5 23.6,43.6" fill="#684387"/><polygon points="24.7,36.5 27.1,29.5 31.8,20.0 35.4,13.0 37.7,13.0 44.8,14.1 42.4,18.9 35.4,23.6 28.3,33.0" fill="#5eaa9d"/><polygon points="24.7,36.5 21.2,34.2 16.5,29.5 18.9,28.9 23.6,33.0" fill="#5eaa9d"/></g><path d="M21.5 37.4L-28.2 51.5M20.1 38.2L-26.7 56.1M25.1 31.2L29.4 -18.3M27.7 35.2L75.0 14.1M25.5 32.0L34.6 -17.6M21.9 33.7L-14.0 -2.6M28.4 34.5L73.0 10.2M27.3 35.4L75.6 15.7M22.9 38.8L-9.9 79.3M24.0 32.7L14.5 -17.5M23.2 39.7L1.2 86.2M21.3 36.8L-30.0 41.9M20.3 36.7L-30.3 38.8M27.8 36.9L79.3 43.4M20.3 35.8L-29.6 28.0M20.8 33.9L-21.3 6.3M19.9 38.6L-25.6 58.8M25.1 32.5L30.8 -18.2M20.3 34.4L-25.0 12.9M24.1 39.8L14.1 90.5M20.7 36.5L-30.3 36.9M28.5 37.8L76.8 54.1M29.1 34.0L72.7 9.6M20.2 35.4L-28.6 22.9M22.8 38.5L-13.3 76.2M26.5 32.8L48.9 -12.9M21.4 33.7L-17.5 1.3M28.1 36.0L79.0 27.9M20.4 34.5L-25.0 12.9M22.7 31.7L3.5 -14.2M29.4 37.7L77.9 50.5M28.1 37.3L78.2 49.4M21.8 40.4L-8.4 80.5M27.9 33.8L66.8 1.2M20.5 35.0L-27.0 17.6M28.3 37.1L78.9 45.6M22.2 37.3L-27.8 52.9M23.5 39.6L4.8 87.8M26.8 38.7L62.7 76.3M21.6 39.8L-13.1 76.4M26.8 33.7L57.4 -7.7M25.8 32.0L37.2 -17.1M27.2 38.4L68.6 69.6M26.8 34.5L64.2 -1.7M21.7 33.5L-13.8 -2.8M26.4 32.0L43.8 -15.1M25.9 33.8L47.2 -13.7M23.8 31.4L15.4 -17.7M22.0 31.9L-3.1 -10.9M28.1 38.4L72.5 63.8M28.0 35.8L78.6 25.5M22.8 39.3L-6.2 82.0M22.0 39.2L-14.1 75.5M21.4 36.4L-30.3 34.6M19.4 36.5L-30.3 36.4M22.8 39.1L-7.3 81.2M28.7 34.2L72.4 9.0M26.1 31.4L39.1 -16.6M28.1 36.1L79.4 30.8M29.4 36.5L79.7 36.7" stroke="#fff" stroke-width="0.4" stroke-opacity="0.25" fill="none"/><path d="M24.5 34.6h1.0v1.0h-1.0zM20.1 29.8h1.0v1.0h-1.0zM6.1 29.6h1.0v1.0h-1.0zM3.4 38.0h1.0v1.0h-1.0zM3.1 43.4h1.0v1.0h-1.0zM3.6 47.8h1.0v1.0h-1.0zM7.7 51.5h1.0v1.0h-1.0zM16.8 55.2h1.0v1.0h-1.0zM18.7 53.9h1.0v1.0h-1.0zM26.9 53.1h1.0v1.0h-1.0zM25.9 45.5h1.0v1.0h-1.0zM28.1 37.8h1.0v1.0h-1.0zM29.0 40.1h1.0v1.0h-1.0zM28.2 31.2h1.0v1.0h-1.0zM26.6 32.7h1.0v1.0h-1.0zM30.7 21.0h1.0v1.0h-1.0zM28.5 28.8h1.0v1.0h-1.0zM37.2 22.7h1.0v1.0h-1.0zM37.3 21.6h1.0v1.0h-1.0zM47.7 19.1h1.0v1.0h-1.0zM51.4 28.0h1.0v1.0h-1.0zM47.4 33.9h1.0v1.0h-1.0zM47.9 29.6h1.0v1.0h-1.0zM47.8 36.0h1.0v1.0h-1.0zM47.5 36.7h1.0v1.0h-1.0zM42.9 42.4h1.0v1.0h-1.0zM41.5 45.2h1.0v1.0h-1.0zM38.5 48.7h1.0v1.0h-1.0zM35.0 52.5h1.0v1.0h-1.0zM25.2 47.3h1.0v1.0h-1.0zM27.4 46.5h1.0v1.0h-1.0zM21.2 38.8h1.0v1.0h-1.0zM23.1 41.6h1.0v1.0h-1.0zM16.6 21.2h1.0v1.0h-1.0zM18.8 24.2h1.0v1.0h-1.0zM19.3 30.7h1.0v1.0h-1.0zM28.3 29.5h1.0v1.0h-1.0zM32.2 28.4h1.0v1.0h-1.0zM24.6 33.8h1.0v1.0h-1.0z" fill="#efd335"/><path d="M16.5 34.1h1.0v1.0h-1.0zM21.7 34.3h1.0v1.0h-1.0zM22.4 28.7h1.0v1.0h-1.0zM19.0 33.1h1.0v1.0h-1.0zM21.0 30.2h1.0v1.0h-1.0zM22.3 13.6h1.0v1.0h-1.0zM19.6 20.5h1.0v1.0h-1.0zM19.1 23.2h1.0v1.0h-1.0zM19.2 5.3h1.0v1.0h-1.0zM22.5 8.7h1.0v1.0h-1.0zM18.1 16.2h1.0v1.0h-1.0zM18.0 20.0h1.0v1.0h-1.0zM26.1 2.8h1.0v1.0h-1.0zM33.7 13.8h1.0v1.0h-1.0zM29.4 8.4h1.0v1.0h-1.0zM28.8 9.3h1.0v1.0h-1.0zM30.9 10.1h1.0v1.0h-1.0zM30.1 16.1h1.0v1.0h-1.0zM34.7 20.1h1.0v1.0h-1.0zM29.6 32.5h1.0v1.0h-1.0zM28.5 31.5h1.0v1.0h-1.0zM32.7 23.5h1.0v1.0h-1.0zM29.2 23.5h1.0v1.0h-1.0zM29.4 35.1h1.0v1.0h-1.0zM28.5 36.9h1.0v1.0h-1.0zM33.2 40.6h1.0v1.0h-1.0zM30.0 42.3h1.0v1.0h-1.0zM31.4 41.4h1.0v1.0h-1.0zM33.0 45.4h1.0v1.0h-1.0zM31.9 45.5h1.0v1.0h-1.0zM35.5 54.9h1.0v1.0h-1.0zM33.8 50.7h1.0v1.0h-1.0zM34.7 52.2h1.0v1.0h-1.0zM35.6 61.6h1.0v1.0h-1.0zM31.4 61.5h1.0v1.0h-1.0zM30.9 62.1h1.0v1.0h-1.0zM31.7 69.6h1.0v1.0h-1.0zM24.2 66.4h1.0v1.0h-1.0zM21.1 68.0h1.0v1.0h-1.0zM21.8 63.1h1.0v1.0h-1.0zM17.3 62.7h1.0v1.0h-1.0zM17.2 50.6h1.0v1.0h-1.0zM18.8 49.4h1.0v1.0h-1.0zM18.3 52.6h1.0v1.0h-1.0zM19.5 48.0h1.0v1.0h-1.0zM21.1 45.6h1.0v1.0h-1.0zM21.9 41.8h1.0v1.0h-1.0zM21.0 42.6h1.0v1.0h-1.0z" fill="#684387"/><path d="M23.1 33.7h1.0v1.0h-1.0zM21.5 30.1h1.0v1.0h-1.0zM29.5 22.3h1.0v1.0h-1.0zM27.3 19.6h1.0v1.0h-1.0zM32.5 12.2h1.0v1.0h-1.0zM31.7 13.1h1.0v1.0h-1.0zM42.9 6.9h1.0v1.0h-1.0zM39.7 10.1h1.0v1.0h-1.0zM47.2 17.8h1.0v1.0h-1.0zM40.9 22.5h1.0v1.0h-1.0zM34.1 32.9h1.0v1.0h-1.0zM29.5 32.9h1.0v1.0h-1.0zM28.4 36.0h1.0v1.0h-1.0zM22.5 38.7h1.0v1.0h-1.0zM15.4 36.0h1.0v1.0h-1.0zM17.0 33.9h1.0v1.0h-1.0zM24.1 30.7h1.0v1.0h-1.0zM22.0 28.2h1.0v1.0h-1.0zM27.9 34.6h1.0v1.0h-1.0z" fill="#5eaa9d"/></g>
<path d="M512.04,114.20V187.40H570.84" fill="none" stroke="#1c1c1c" stroke-width="1.15"/>
<text x="618.66" y="112.90" font-size="11" text-anchor="middle" fill="#0a0a0a" class="t">18.543</text>
<g transform="translate(581.96,114.20)"><g filter="url(#rough)"><polygon points="21.8,24.2 28.3,17.7 35.4,11.8 41.2,8.2 47.1,11.8 49.5,15.3 47.1,23.6 44.8,30.6 43.6,38.9 44.8,47.1 41.2,48.3 36.5,43.6 33.0,40.1 27.1,33.0" fill="#efd335"/><polygon points="21.8,24.2 17.7,17.7 14.1,14.1 15.3,21.2 14.1,27.1 15.3,35.4 17.7,42.4 21.2,43.6 20.6,35.4" fill="#efd335"/><polygon points="21.8,24.2 21.2,16.5 21.2,7.1 25.7,5.7 26.5,14.1 24.7,21.2" fill="#684387"/><polygon points="21.8,24.2 25.3,30.6 28.3,37.7 31.8,47.1 35.4,58.9 35.9,66.0 34.2,66.0 30.6,58.9 25.9,53.0 22.4,48.3 20.0,41.2 20.0,33.0" fill="#684387"/><polygon points="4.5,8.0 6.5,6.0 22.5,24.0 21.0,26.5" fill="#5eaa9d"/><polygon points="35.0,5.0 38.5,7.5 24.0,26.0 21.5,24.0" fill="#5eaa9d"/></g><path d="M19.8 21.1L-7.5 -22.3M25.9 21.4L67.2 -6.8M17.9 22.3L-27.9 0.6M19.1 25.7L-26.2 51.1M20.5 28.7L6.7 77.1M17.7 24.3L-33.2 26.1M18.8 19.8L-9.2 -21.2M23.8 26.1L62.2 61.5M22.2 21.1L28.4 -30.4M18.1 22.5L-28.1 1.1M19.7 20.3L-4.7 -24.0M18.3 26.8L-22.5 56.7M26.4 22.2L72.2 2.3M17.3 25.5L-31.1 39.1M20.5 29.3L8.0 77.4M26.0 24.3L76.8 25.2M22.3 19.0L27.4 -30.5M17.9 23.2L-31.4 10.1M18.1 21.2L-21.2 -10.1M18.7 27.4L-16.5 63.7M21.7 26.9L20.3 79.2M24.5 25.6L70.4 50.0M19.4 25.8L-23.9 54.9M22.7 19.7L32.5 -29.8M19.5 26.2L-19.2 60.8M17.4 26.8L-25.6 52.0M24.2 20.3L50.2 -22.9M18.0 27.5L-19.4 60.6M18.3 24.0L-33.1 21.4M25.5 21.6L66.3 -8.1M24.3 25.1L73.4 43.3M17.0 25.0L-32.5 33.2M18.0 25.8L-29.1 45.1M24.6 27.5L57.9 65.7M18.8 26.1L-24.4 54.0M22.8 28.4L35.0 77.6M23.8 20.6L48.1 -24.1M18.5 21.6L-21.4 -9.8M20.6 19.8L8.0 -29.0M27.2 24.6L76.7 27.8M19.2 24.3L-33.1 26.9M21.0 19.5L12.7 -30.0M18.9 27.4L-15.0 65.1M26.4 25.4L75.1 37.7M19.5 19.8L-3.6 -24.6M16.6 25.1L-32.5 33.2M19.6 25.5L-25.4 52.4M24.7 26.0L68.4 53.4M22.3 27.4L30.5 78.5M25.5 26.6L68.0 54.0M25.8 20.8L63.8 -11.3M19.4 27.4L-11.5 67.9M17.6 23.5L-32.5 15.4M21.3 20.4L14.5 -30.3M25.2 24.6L76.4 30.9M26.3 24.5L76.7 28.2M25.9 23.4L75.7 13.3M20.3 20.3L2.0 -27.1M24.8 23.7L76.0 14.7M18.6 22.7L-27.8 0.4" stroke="#fff" stroke-width="0.4" stroke-opacity="0.25" fill="none"/><path d="M25.4 15.7h1.0v1.0h-1.0zM26.6 16.9h1.0v1.0h-1.0zM31.5 12.4h1.0v1.0h-1.0zM29.7 13.8h1.0v1.0h-1.0zM36.6 7.0h1.0v1.0h-1.0zM46.6 7.0h1.0v1.0h-1.0zM52.8 11.9h1.0v1.0h-1.0zM51.1 20.4h1.0v1.0h-1.0zM52.8 19.1h1.0v1.0h-1.0zM48.3 25.7h1.0v1.0h-1.0zM47.0 28.8h1.0v1.0h-1.0zM50.0 37.1h1.0v1.0h-1.0zM48.4 37.7h1.0v1.0h-1.0zM47.3 44.5h1.0v1.0h-1.0zM44.0 51.1h1.0v1.0h-1.0zM38.0 47.0h1.0v1.0h-1.0zM38.2 49.2h1.0v1.0h-1.0zM31.3 41.8h1.0v1.0h-1.0zM27.9 38.7h1.0v1.0h-1.0zM24.3 38.3h1.0v1.0h-1.0zM19.1 30.2h1.0v1.0h-1.0zM20.8 27.1h1.0v1.0h-1.0zM24.0 21.3h1.0v1.0h-1.0zM18.9 15.4h1.0v1.0h-1.0zM12.1 19.9h1.0v1.0h-1.0zM11.9 25.8h1.0v1.0h-1.0zM11.0 30.4h1.0v1.0h-1.0zM12.7 31.7h1.0v1.0h-1.0zM13.0 42.2h1.0v1.0h-1.0zM17.8 44.8h1.0v1.0h-1.0zM27.8 39.3h1.0v1.0h-1.0zM26.0 38.9h1.0v1.0h-1.0zM23.5 31.6h1.0v1.0h-1.0zM23.8 32.3h1.0v1.0h-1.0zM24.7 28.5h1.0v1.0h-1.0z" fill="#efd335"/><path d="M18.2 23.4h1.0v1.0h-1.0zM18.9 17.6h1.0v1.0h-1.0zM18.5 14.8h1.0v1.0h-1.0zM14.4 8.4h1.0v1.0h-1.0zM18.4 10.7h1.0v1.0h-1.0zM20.8 3.4h1.0v1.0h-1.0zM31.7 6.9h1.0v1.0h-1.0zM29.7 12.5h1.0v1.0h-1.0zM31.5 6.7h1.0v1.0h-1.0zM30.4 18.2h1.0v1.0h-1.0zM32.3 19.5h1.0v1.0h-1.0zM27.4 19.3h1.0v1.0h-1.0zM26.6 24.2h1.0v1.0h-1.0zM26.7 24.5h1.0v1.0h-1.0zM25.0 25.0h1.0v1.0h-1.0zM31.0 35.2h1.0v1.0h-1.0zM29.3 30.7h1.0v1.0h-1.0zM34.3 34.3h1.0v1.0h-1.0zM33.4 42.2h1.0v1.0h-1.0zM36.0 44.9h1.0v1.0h-1.0zM36.4 41.4h1.0v1.0h-1.0zM33.8 48.3h1.0v1.0h-1.0zM37.7 51.6h1.0v1.0h-1.0zM36.5 48.3h1.0v1.0h-1.0zM38.3 49.7h1.0v1.0h-1.0zM37.5 61.2h1.0v1.0h-1.0zM40.7 59.3h1.0v1.0h-1.0zM30.3 62.1h1.0v1.0h-1.0zM30.0 67.2h1.0v1.0h-1.0zM28.0 62.7h1.0v1.0h-1.0zM27.0 59.0h1.0v1.0h-1.0zM22.8 60.0h1.0v1.0h-1.0zM17.2 54.0h1.0v1.0h-1.0zM22.1 52.0h1.0v1.0h-1.0zM19.7 43.8h1.0v1.0h-1.0zM19.3 47.5h1.0v1.0h-1.0zM11.6 44.7h1.0v1.0h-1.0zM17.8 34.1h1.0v1.0h-1.0zM15.4 34.0h1.0v1.0h-1.0zM16.3 39.3h1.0v1.0h-1.0zM18.8 30.9h1.0v1.0h-1.0zM16.3 30.9h1.0v1.0h-1.0zM19.5 23.7h1.0v1.0h-1.0z" fill="#684387"/><path d="M16.2 13.6h1.0v1.0h-1.0zM22.2 18.6h1.0v1.0h-1.0zM17.5 15.1h1.0v1.0h-1.0zM17.0 12.4h1.0v1.0h-1.0zM15.8 12.3h1.0v1.0h-1.0zM3.4 11.5h1.0v1.0h-1.0zM9.7 16.3h1.0v1.0h-1.0zM4.5 10.3h1.0v1.0h-1.0zM9.7 17.1h1.0v1.0h-1.0zM12.8 19.8h1.0v1.0h-1.0zM39.2 0.6h1.0v1.0h-1.0zM30.1 26.1h1.0v1.0h-1.0zM31.8 20.2h1.0v1.0h-1.0zM35.2 14.9h1.0v1.0h-1.0zM37.3 15.4h1.0v1.0h-1.0zM27.5 25.4h1.0v1.0h-1.0zM20.3 29.4h1.0v1.0h-1.0zM18.4 21.2h1.0v1.0h-1.0zM20.3 21.1h1.0v1.0h-1.0zM23.1 18.4h1.0v1.0h-1.0zM27.6 9.6h1.0v1.0h-1.0zM18.8 20.4h1.0v1.0h-1.0z" fill="#5eaa9d"/></g>
<path d="M581.96,114.20V187.40H640.76" fill="none" stroke="#1c1c1c" stroke-width="1.15"/>
<text x="688.50" y="112.90" font-size="11" text-anchor="middle" fill="#0a0a0a" class="t">18.549</text>
<g transform="translate(651.88,114.20)"><g filter="url(#rough)"><polygon points="23.0,22.4 30.6,24.2 38.9,28.3 41.2,34.2 35.4,38.9 31.8,42.4 30.6,49.5 28.3,56.6 25.9,61.3 21.2,61.3 18.9,54.2 17.7,47.1 13.0,49.5 7.1,51.9 4.7,49.5 8.2,42.4 13.0,35.4 15.3,27.1 18.9,24.7" fill="#efd335"/><polygon points="23.0,22.4 17.7,15.3 13.0,7.1 16.5,7.1 21.2,10.6 24.7,16.5" fill="#efd335"/><polygon points="23.0,22.4 24.7,15.3 25.9,9.4 30.6,8.2 38.9,5.9 40.1,10.6 47.1,13.0 50.7,17.7 51.9,22.4 47.1,23.6 38.9,24.7 30.6,24.2 25.9,23.6" fill="#684387"/><polygon points="23.0,22.4 20.0,18.9 15.3,17.7 11.8,21.2 13.0,25.9 18.9,25.9" fill="#684387"/><polygon points="20.6,21.2 23.6,19.4 25.3,22.4 23.6,25.3 21.2,24.2" fill="#5eaa9d"/></g><path d="M20.0 23.2L-30.1 36.7M23.7 19.0L33.9 -31.5M22.4 27.4L16.7 77.0M26.0 22.7L77.7 28.5M27.0 20.4L72.5 -1.7M23.9 25.2L39.6 74.8M20.7 18.0L-2.7 -26.3M28.3 22.3L78.0 21.5M23.0 19.6L23.5 -32.6M23.9 18.7L35.9 -31.1M20.5 21.9L-30.9 11.5M27.0 22.7L77.8 27.1M21.0 19.8L-10.6 -21.2M25.6 21.8L76.8 11.0M26.7 18.7L61.9 -16.5M27.2 25.0L69.7 51.4M20.1 19.9L-18.3 -13.9M19.2 24.0L-27.7 43.6M27.3 20.3L72.3 -2.0M19.2 23.1L-31.2 31.8M24.9 26.1L47.7 71.5M25.8 19.0L58.2 -19.9M19.9 20.2L-21.8 -9.5M28.0 21.9L77.7 17.0M18.5 21.9L-31.7 16.3M24.1 19.3L42.0 -29.2M20.7 20.0L-14.9 -17.5M23.3 19.0L27.9 -32.4M27.5 21.3L76.5 9.5M18.9 21.7L-31.1 12.7M20.1 20.7L-24.6 -5.2M26.8 23.0L77.4 30.7M21.9 26.2L8.0 75.3M23.8 25.4L36.5 75.7M26.6 21.9L77.5 15.2M23.0 19.5L22.5 -32.6M26.9 24.8L69.9 51.1M18.5 24.3L-27.6 43.9M27.0 22.9L77.5 29.8M20.4 20.6L-22.0 -9.2M22.3 19.4L11.2 -31.3M25.3 24.3L65.7 57.0M26.6 23.5L75.7 38.2M23.6 19.4L34.6 -31.4M22.3 25.8L11.5 76.2M23.9 27.4L33.0 76.5M24.4 19.9L50.7 -25.1M20.2 18.0L-6.6 -23.9M26.7 22.7L77.8 26.6M26.4 23.0L77.2 31.6M25.8 25.1L62.4 60.8M24.3 26.9L38.5 75.2M21.0 24.3L-17.5 59.7M19.3 21.1L-29.0 4.3M22.7 17.7L19.5 -32.5M23.1 26.1L23.9 77.4M22.0 17.1L12.9 -31.7M18.9 21.0L-29.1 4.7M21.1 25.7L-4.6 70.0M21.4 26.0L0.6 72.6" stroke="#fff" stroke-width="0.4" stroke-opacity="0.25" fill="none"/><path d="M24.2 21.3h1.0v1.0h-1.0zM34.4 24.0h1.0v1.0h-1.0zM40.1 26.8h1.0v1.0h-1.0zM41.1 28.0h1.0v1.0h-1.0zM40.9 40.6h1.0v1.0h-1.0zM34.2 43.4h1.0v1.0h-1.0zM34.5 44.2h1.0v1.0h-1.0zM32.2 51.3h1.0v1.0h-1.0zM32.2 52.9h1.0v1.0h-1.0zM33.2 60.3h1.0v1.0h-1.0zM14.6 55.6h1.0v1.0h-1.0zM16.6 57.9h1.0v1.0h-1.0zM16.4 53.4h1.0v1.0h-1.0zM17.7 52.6h1.0v1.0h-1.0zM8.9 53.5h1.0v1.0h-1.0zM13.0 55.4h1.0v1.0h-1.0zM3.1 55.2h1.0v1.0h-1.0zM2.0 39.8h1.0v1.0h-1.0zM6.2 38.4h1.0v1.0h-1.0zM7.6 32.9h1.0v1.0h-1.0zM6.1 28.4h1.0v1.0h-1.0zM17.2 23.3h1.0v1.0h-1.0zM19.6 17.6h1.0v1.0h-1.0zM16.6 17.4h1.0v1.0h-1.0zM16.2 18.2h1.0v1.0h-1.0zM12.0 14.8h1.0v1.0h-1.0zM9.7 15.9h1.0v1.0h-1.0zM21.7 9.6h1.0v1.0h-1.0zM27.8 10.6h1.0v1.0h-1.0zM25.6 10.1h1.0v1.0h-1.0zM26.1 21.3h1.0v1.0h-1.0zM25.5 20.4h1.0v1.0h-1.0z" fill="#efd335"/><path d="M19.9 15.1h1.0v1.0h-1.0zM16.9 20.2h1.0v1.0h-1.0zM20.7 14.1h1.0v1.0h-1.0zM21.6 8.7h1.0v1.0h-1.0zM25.6 2.8h1.0v1.0h-1.0zM28.2 1.7h1.0v1.0h-1.0zM34.1 3.2h1.0v1.0h-1.0zM30.3 4.5h1.0v1.0h-1.0zM33.5 4.8h1.0v1.0h-1.0zM40.2 7.4h1.0v1.0h-1.0zM41.4 7.7h1.0v1.0h-1.0zM43.8 10.2h1.0v1.0h-1.0zM49.7 11.8h1.0v1.0h-1.0zM54.4 9.6h1.0v1.0h-1.0zM60.9 16.5h1.0v1.0h-1.0zM54.6 17.0h1.0v1.0h-1.0zM49.9 24.9h1.0v1.0h-1.0zM40.8 32.2h1.0v1.0h-1.0zM42.5 26.4h1.0v1.0h-1.0zM42.3 27.9h1.0v1.0h-1.0zM31.2 27.4h1.0v1.0h-1.0zM35.0 29.8h1.0v1.0h-1.0zM31.7 27.2h1.0v1.0h-1.0zM29.1 25.7h1.0v1.0h-1.0zM28.2 27.1h1.0v1.0h-1.0zM24.4 26.1h1.0v1.0h-1.0zM21.0 18.7h1.0v1.0h-1.0zM23.6 18.4h1.0v1.0h-1.0zM16.5 15.7h1.0v1.0h-1.0zM9.1 17.9h1.0v1.0h-1.0zM9.4 17.6h1.0v1.0h-1.0zM7.0 26.1h1.0v1.0h-1.0zM10.1 24.8h1.0v1.0h-1.0zM13.7 28.3h1.0v1.0h-1.0zM14.2 28.6h1.0v1.0h-1.0zM23.0 27.4h1.0v1.0h-1.0zM22.7 25.2h1.0v1.0h-1.0z" fill="#684387"/><path d="M21.9 18.7h1.0v1.0h-1.0zM26.6 17.4h1.0v1.0h-1.0zM27.8 26.5h1.0v1.0h-1.0zM20.1 28.5h1.0v1.0h-1.0zM18.4 24.5h1.0v1.0h-1.0z" fill="#5eaa9d"/></g>
<path d="M651.88,114.20V187.40H710.68" fill="none" stroke="#1c1c1c" stroke-width="1.15"/>
<text x="2.5" y="226.8" font-size="16" font-weight="bold" fill="#000" stroke="#000" stroke-width="0.4">B</text>
<text x="370" y="232.0" font-size="11" text-anchor="middle" fill="#0a0a0a" class="t">TN VAE top 20 models by validation loss</text>
<text x="58.95" y="245.40" font-size="11" text-anchor="middle" fill="#0a0a0a" class="t">29.923</text>
<g transform="translate(21.60,246.70)"><g filter="url(#rough)"><polygon points="45.7,31.6 45.6,35.7 45.3,38.1 44.9,40.0 44.2,41.6 43.4,43.0 42.4,44.2 41.2,45.2 39.8,46.1 38.2,46.7 37.2,46.9 22.3,46.9 21.3,46.7 19.7,46.1 18.3,45.2 17.1,44.2 16.1,43.0 15.3,41.6 14.6,40.0 14.2,38.1 13.9,35.7 13.8,31.6 15.1,27.5 16.0,25.1 16.9,23.2 17.9,21.5 18.9,20.1 20.0,18.9 21.1,17.9 22.3,17.1 23.7,16.5 25.1,16.0 26.8,15.7 29.7,15.6 32.7,15.7 34.4,16.0 35.8,16.5 37.2,17.1 38.4,17.9 39.5,18.9 40.6,20.1 41.6,21.5 42.6,23.2 43.5,25.1 44.4,27.5" fill="url(#mix)"/><polygon points="50.0,56.3 49.8,58.1 49.4,59.4 48.7,60.5 47.8,61.5 46.5,62.4 45.0,63.2 43.3,63.9 41.3,64.4 39.0,64.9 36.5,65.2 33.6,65.3 29.6,65.4 25.6,65.3 22.6,65.2 20.1,64.9 17.8,64.4 15.8,63.9 14.1,63.2 12.6,62.4 11.4,61.5 10.4,60.5 9.7,59.4 9.3,58.1 9.1,56.3 9.3,54.5 9.7,53.2 10.4,52.0 11.4,51.0 12.6,50.1 14.1,49.3 15.8,48.7 17.8,48.1 20.1,47.7 22.6,47.4 25.6,47.2 29.6,47.1 33.6,47.2 36.5,47.4 39.0,47.7 41.3,48.1 43.3,48.7 45.0,49.3 46.5,50.1 47.8,51.0 48.7,52.0 49.4,53.2 49.8,54.5" fill="#684387"/></g><path d="M49.5 31.2h1.0v1.0h-1.0zM50.3 31.9h1.0v1.0h-1.0zM48.4 36.3h1.0v1.0h-1.0zM48.8 39.6h1.0v1.0h-1.0zM47.5 42.5h1.0v1.0h-1.0zM47.5 43.2h1.0v1.0h-1.0zM45.8 45.5h1.0v1.0h-1.0zM43.5 46.0h1.0v1.0h-1.0zM39.1 47.8h1.0v1.0h-1.0zM38.2 50.8h1.0v1.0h-1.0zM33.6 51.1h1.0v1.0h-1.0zM25.5 49.3h1.0v1.0h-1.0zM26.9 47.7h1.0v1.0h-1.0zM23.7 50.0h1.0v1.0h-1.0zM29.7 48.3h1.0v1.0h-1.0zM28.9 51.5h1.0v1.0h-1.0zM29.5 50.2h1.0v1.0h-1.0zM25.6 49.8h1.0v1.0h-1.0zM18.4 49.5h1.0v1.0h-1.0zM17.8 47.1h1.0v1.0h-1.0zM16.5 46.1h1.0v1.0h-1.0zM12.8 46.8h1.0v1.0h-1.0zM13.1 44.5h1.0v1.0h-1.0zM12.6 42.2h1.0v1.0h-1.0zM11.9 39.1h1.0v1.0h-1.0zM8.9 37.7h1.0v1.0h-1.0zM11.6 36.4h1.0v1.0h-1.0zM11.5 31.6h1.0v1.0h-1.0zM12.1 34.2h1.0v1.0h-1.0zM11.8 34.1h1.0v1.0h-1.0zM10.8 27.3h1.0v1.0h-1.0zM12.2 30.0h1.0v1.0h-1.0zM12.0 28.3h1.0v1.0h-1.0zM10.0 24.2h1.0v1.0h-1.0zM14.1 24.6h1.0v1.0h-1.0zM12.8 23.0h1.0v1.0h-1.0zM14.1 21.2h1.0v1.0h-1.0zM16.5 18.9h1.0v1.0h-1.0zM14.7 17.0h1.0v1.0h-1.0zM17.6 17.6h1.0v1.0h-1.0zM21.1 15.6h1.0v1.0h-1.0zM21.6 15.3h1.0v1.0h-1.0zM21.2 8.0h1.0v1.0h-1.0zM24.7 10.8h1.0v1.0h-1.0zM29.0 11.2h1.0v1.0h-1.0zM27.2 13.4h1.0v1.0h-1.0zM31.1 12.9h1.0v1.0h-1.0zM31.3 12.2h1.0v1.0h-1.0zM34.7 13.1h1.0v1.0h-1.0zM38.5 13.4h1.0v1.0h-1.0zM41.0 17.3h1.0v1.0h-1.0zM44.5 17.8h1.0v1.0h-1.0zM47.1 17.9h1.0v1.0h-1.0zM45.9 23.0h1.0v1.0h-1.0zM46.2 24.8h1.0v1.0h-1.0zM51.7 27.5h1.0v1.0h-1.0zM47.7 30.6h1.0v1.0h-1.0zM49.5 27.3h1.0v1.0h-1.0z" fill="url(#mix)"/><path d="M52.7 57.4h1.0v1.0h-1.0zM53.6 60.9h1.0v1.0h-1.0zM47.1 66.2h1.0v1.0h-1.0zM40.4 67.4h1.0v1.0h-1.0zM38.2 69.2h1.0v1.0h-1.0zM35.7 69.5h1.0v1.0h-1.0zM31.8 67.0h1.0v1.0h-1.0zM29.6 68.2h1.0v1.0h-1.0zM27.1 67.9h1.0v1.0h-1.0zM22.1 68.1h1.0v1.0h-1.0zM20.8 66.9h1.0v1.0h-1.0zM19.3 67.3h1.0v1.0h-1.0zM13.4 64.9h1.0v1.0h-1.0zM10.1 66.1h1.0v1.0h-1.0zM7.4 60.6h1.0v1.0h-1.0zM7.9 52.9h1.0v1.0h-1.0zM13.2 47.3h1.0v1.0h-1.0zM18.2 46.8h1.0v1.0h-1.0zM18.2 46.3h1.0v1.0h-1.0zM20.6 45.3h1.0v1.0h-1.0zM23.1 42.2h1.0v1.0h-1.0zM26.2 45.3h1.0v1.0h-1.0zM29.0 41.4h1.0v1.0h-1.0zM32.2 45.2h1.0v1.0h-1.0zM30.1 43.8h1.0v1.0h-1.0zM35.4 46.1h1.0v1.0h-1.0zM38.5 44.3h1.0v1.0h-1.0zM41.8 40.6h1.0v1.0h-1.0zM43.8 46.6h1.0v1.0h-1.0zM44.9 46.1h1.0v1.0h-1.0zM47.8 45.6h1.0v1.0h-1.0zM51.1 48.4h1.0v1.0h-1.0zM52.2 55.9h1.0v1.0h-1.0z" fill="#684387"/></g>
<path d="M21.60,246.70V319.40H80.90" fill="none" stroke="#1c1c1c" stroke-width="1.25"/>
<text x="128.94" y="245.40" font-size="11" text-anchor="middle" fill="#0a0a0a" class="t">29.923</text>
<g transform="translate(91.63,246.70)"><g filter="url(#rough)"><polygon points="33.8,48.6 32.8,48.4 31.2,47.8 29.6,46.9 27.9,45.7 26.1,44.3 24.2,42.5 22.2,40.3 19.9,37.7 16.8,33.9 13.8,29.9 11.8,27.1 10.3,24.6 9.0,22.3 8.0,20.2 7.3,18.3 6.8,16.5 6.6,14.9 6.7,13.5 7.1,12.2 7.8,11.0 9.1,9.8 10.7,8.8 11.9,8.4 13.3,8.3 14.7,8.6 16.2,9.1 17.8,10.0 19.5,11.2 21.3,12.7 23.2,14.5 25.3,16.6 27.5,19.2 30.6,23.1 33.6,27.0 35.6,29.8 37.2,32.3 38.5,34.6 39.5,36.7 40.2,38.7 40.7,40.4 40.8,41.5" fill="url(#mix)"/><polygon points="50.4,65.4 48.8,66.1 47.5,66.4 46.3,66.5 45.2,66.3 44.0,65.9 42.9,65.3 41.8,64.4 40.6,63.4 39.5,62.1 38.4,60.5 37.2,58.6 35.6,55.8 34.2,53.0 33.3,50.9 32.6,49.1 32.2,47.4 31.9,45.9 31.9,44.5 32.0,43.2 32.3,42.0 32.8,41.0 33.5,40.0 34.4,39.2 36.0,38.2 37.6,37.5 38.8,37.2 40.0,37.1 41.1,37.3 42.3,37.7 43.4,38.3 44.6,39.2 45.7,40.2 46.8,41.5 48.0,43.1 49.2,45.0 50.7,47.8 52.2,50.6 53.1,52.7 53.7,54.5 54.2,56.2 54.4,57.7 54.5,59.1 54.4,60.4 54.1,61.6 53.6,62.6 52.9,63.6 51.9,64.4" fill="#684387"/></g><path d="M30.4 53.1h1.0v1.0h-1.0zM27.5 51.4h1.0v1.0h-1.0zM26.4 51.1h1.0v1.0h-1.0zM25.2 45.5h1.0v1.0h-1.0zM23.2 45.8h1.0v1.0h-1.0zM22.9 45.1h1.0v1.0h-1.0zM21.0 40.9h1.0v1.0h-1.0zM20.0 41.6h1.0v1.0h-1.0zM20.9 41.4h1.0v1.0h-1.0zM15.5 38.6h1.0v1.0h-1.0zM14.8 37.8h1.0v1.0h-1.0zM14.1 42.1h1.0v1.0h-1.0zM10.9 33.2h1.0v1.0h-1.0zM12.2 32.2h1.0v1.0h-1.0zM10.1 34.9h1.0v1.0h-1.0zM10.3 32.0h1.0v1.0h-1.0zM6.3 31.5h1.0v1.0h-1.0zM8.9 26.8h1.0v1.0h-1.0zM9.0 28.1h1.0v1.0h-1.0zM8.7 23.6h1.0v1.0h-1.0zM7.3 26.1h1.0v1.0h-1.0zM6.7 23.3h1.0v1.0h-1.0zM5.4 20.7h1.0v1.0h-1.0zM4.6 18.0h1.0v1.0h-1.0zM4.6 17.3h1.0v1.0h-1.0zM4.3 15.0h1.0v1.0h-1.0zM4.8 11.0h1.0v1.0h-1.0zM6.0 7.2h1.0v1.0h-1.0zM9.8 6.9h1.0v1.0h-1.0zM9.8 -0.0h1.0v1.0h-1.0zM11.5 1.2h1.0v1.0h-1.0zM15.1 3.8h1.0v1.0h-1.0zM16.6 3.6h1.0v1.0h-1.0zM19.9 6.1h1.0v1.0h-1.0zM20.8 8.3h1.0v1.0h-1.0zM22.1 11.1h1.0v1.0h-1.0zM23.1 9.4h1.0v1.0h-1.0zM25.5 9.3h1.0v1.0h-1.0zM25.6 14.0h1.0v1.0h-1.0zM26.9 14.6h1.0v1.0h-1.0zM27.6 14.8h1.0v1.0h-1.0zM31.0 18.2h1.0v1.0h-1.0zM31.0 20.3h1.0v1.0h-1.0zM32.0 20.2h1.0v1.0h-1.0zM34.8 25.9h1.0v1.0h-1.0zM33.7 23.3h1.0v1.0h-1.0zM36.6 28.0h1.0v1.0h-1.0zM40.0 23.9h1.0v1.0h-1.0zM37.3 29.2h1.0v1.0h-1.0zM41.9 31.7h1.0v1.0h-1.0zM39.3 34.0h1.0v1.0h-1.0zM45.1 36.2h1.0v1.0h-1.0zM44.4 36.2h1.0v1.0h-1.0zM41.3 38.2h1.0v1.0h-1.0zM46.2 40.6h1.0v1.0h-1.0zM36.7 50.1h1.0v1.0h-1.0zM36.8 51.8h1.0v1.0h-1.0zM45.2 49.0h1.0v1.0h-1.0zM43.5 44.7h1.0v1.0h-1.0zM39.4 48.9h1.0v1.0h-1.0zM43.0 45.3h1.0v1.0h-1.0z" fill="url(#mix)"/><path d="M47.3 69.4h1.0v1.0h-1.0zM45.8 69.4h1.0v1.0h-1.0zM39.2 74.8h1.0v1.0h-1.0zM40.2 68.7h1.0v1.0h-1.0zM38.0 63.5h1.0v1.0h-1.0zM34.8 65.3h1.0v1.0h-1.0zM34.8 63.2h1.0v1.0h-1.0zM34.7 58.7h1.0v1.0h-1.0zM34.2 60.4h1.0v1.0h-1.0zM28.7 56.4h1.0v1.0h-1.0zM30.9 54.4h1.0v1.0h-1.0zM26.8 48.9h1.0v1.0h-1.0zM27.3 45.1h1.0v1.0h-1.0zM29.1 43.0h1.0v1.0h-1.0zM32.4 33.7h1.0v1.0h-1.0zM35.4 34.0h1.0v1.0h-1.0zM45.2 35.8h1.0v1.0h-1.0zM49.0 38.3h1.0v1.0h-1.0zM52.1 42.2h1.0v1.0h-1.0zM51.2 44.5h1.0v1.0h-1.0zM52.7 47.0h1.0v1.0h-1.0zM57.1 48.6h1.0v1.0h-1.0zM58.0 53.9h1.0v1.0h-1.0zM56.5 59.0h1.0v1.0h-1.0zM56.4 62.9h1.0v1.0h-1.0zM52.8 66.8h1.0v1.0h-1.0z" fill="#684387"/></g>
<path d="M91.63,246.70V319.40H150.93" fill="none" stroke="#1c1c1c" stroke-width="1.25"/>
<text x="198.93" y="245.40" font-size="11" text-anchor="middle" fill="#0a0a0a" class="t">29.923</text>
<g transform="translate(161.66,246.70)"><g filter="url(#rough)"><polygon points="43.5,30.4 43.4,35.0 43.1,38.0 42.7,40.4 42.0,42.5 41.2,44.3 40.4,45.6 17.2,46.3 16.8,45.9 15.8,44.3 15.0,42.5 14.4,40.4 13.9,38.0 13.6,35.0 13.5,30.4 14.6,25.8 15.5,22.9 16.4,20.4 17.4,18.3 18.4,16.5 19.5,14.9 20.6,13.6 21.8,12.5 23.0,11.7 24.4,11.1 26.0,10.7 28.5,10.6 31.0,10.7 32.6,11.1 34.0,11.7 35.2,12.5 36.4,13.6 37.5,14.9 38.6,16.5 39.6,18.3 40.6,20.4 41.5,22.9 42.4,25.8" fill="url(#mix)"/><polygon points="48.1,51.6 48.3,53.5 48.1,54.8 47.6,56.1 46.8,57.2 45.8,58.2 44.5,59.1 43.0,60.0 41.2,60.8 39.1,61.5 36.7,62.2 33.9,62.7 29.8,63.4 25.7,63.9 22.8,64.1 20.3,64.2 18.1,64.0 16.2,63.8 14.4,63.4 12.9,62.8 11.7,62.1 10.6,61.2 9.8,60.2 9.3,59.0 8.9,57.1 8.7,55.2 8.9,53.8 9.4,52.6 10.2,51.5 11.2,50.5 12.5,49.5 14.0,48.6 15.8,47.8 17.9,47.1 20.3,46.5 23.1,45.9 27.2,45.3 31.3,44.8 34.2,44.5 36.7,44.5 38.9,44.6 40.8,44.9 42.6,45.3 44.1,45.8 45.3,46.5 46.4,47.4 47.2,48.4 47.8,49.7" fill="#684387"/></g><path d="M46.8 34.9h1.0v1.0h-1.0zM46.2 34.3h1.0v1.0h-1.0zM48.7 34.3h1.0v1.0h-1.0zM47.6 36.4h1.0v1.0h-1.0zM46.4 38.1h1.0v1.0h-1.0zM48.6 40.9h1.0v1.0h-1.0zM48.3 44.0h1.0v1.0h-1.0zM45.6 41.3h1.0v1.0h-1.0zM44.6 44.5h1.0v1.0h-1.0zM43.9 46.8h1.0v1.0h-1.0zM39.7 49.2h1.0v1.0h-1.0zM19.5 52.4h1.0v1.0h-1.0zM40.5 49.2h1.0v1.0h-1.0zM29.9 51.3h1.0v1.0h-1.0zM30.5 53.5h1.0v1.0h-1.0zM32.8 48.1h1.0v1.0h-1.0zM31.0 49.9h1.0v1.0h-1.0zM27.2 48.5h1.0v1.0h-1.0zM33.6 50.8h1.0v1.0h-1.0zM38.8 50.1h1.0v1.0h-1.0zM21.9 48.5h1.0v1.0h-1.0zM21.1 50.2h1.0v1.0h-1.0zM38.7 49.0h1.0v1.0h-1.0zM13.5 49.0h1.0v1.0h-1.0zM12.7 47.5h1.0v1.0h-1.0zM13.9 45.0h1.0v1.0h-1.0zM12.0 43.0h1.0v1.0h-1.0zM10.7 41.1h1.0v1.0h-1.0zM11.5 36.5h1.0v1.0h-1.0zM10.0 31.8h1.0v1.0h-1.0zM10.6 31.0h1.0v1.0h-1.0zM12.7 26.2h1.0v1.0h-1.0zM7.3 29.1h1.0v1.0h-1.0zM13.0 22.5h1.0v1.0h-1.0zM10.7 23.9h1.0v1.0h-1.0zM12.6 20.0h1.0v1.0h-1.0zM11.8 19.5h1.0v1.0h-1.0zM13.6 19.0h1.0v1.0h-1.0zM15.7 18.2h1.0v1.0h-1.0zM13.9 13.6h1.0v1.0h-1.0zM13.2 12.3h1.0v1.0h-1.0zM18.9 12.9h1.0v1.0h-1.0zM25.3 7.6h1.0v1.0h-1.0zM25.9 6.5h1.0v1.0h-1.0zM29.7 8.1h1.0v1.0h-1.0zM30.5 5.7h1.0v1.0h-1.0zM33.0 3.2h1.0v1.0h-1.0zM34.7 8.8h1.0v1.0h-1.0zM36.0 10.0h1.0v1.0h-1.0zM39.6 9.2h1.0v1.0h-1.0zM41.1 10.7h1.0v1.0h-1.0zM39.8 15.2h1.0v1.0h-1.0zM42.7 17.1h1.0v1.0h-1.0zM42.4 15.5h1.0v1.0h-1.0zM42.1 16.9h1.0v1.0h-1.0zM42.0 17.6h1.0v1.0h-1.0zM44.0 20.4h1.0v1.0h-1.0zM45.2 22.8h1.0v1.0h-1.0zM44.0 22.3h1.0v1.0h-1.0zM44.6 27.8h1.0v1.0h-1.0zM50.4 27.7h1.0v1.0h-1.0zM46.3 25.5h1.0v1.0h-1.0z" fill="url(#mix)"/><path d="M46.2 61.5h1.0v1.0h-1.0zM43.4 62.8h1.0v1.0h-1.0zM37.5 64.8h1.0v1.0h-1.0zM35.2 65.3h1.0v1.0h-1.0zM34.9 71.2h1.0v1.0h-1.0zM28.8 65.2h1.0v1.0h-1.0zM27.7 66.9h1.0v1.0h-1.0zM25.1 66.9h1.0v1.0h-1.0zM20.7 66.2h1.0v1.0h-1.0zM20.0 65.8h1.0v1.0h-1.0zM16.3 66.7h1.0v1.0h-1.0zM13.5 69.1h1.0v1.0h-1.0zM7.7 67.5h1.0v1.0h-1.0zM8.6 62.4h1.0v1.0h-1.0zM6.6 59.3h1.0v1.0h-1.0zM6.8 57.1h1.0v1.0h-1.0zM4.3 51.1h1.0v1.0h-1.0zM8.7 51.0h1.0v1.0h-1.0zM12.6 46.1h1.0v1.0h-1.0zM14.5 40.8h1.0v1.0h-1.0zM19.1 43.6h1.0v1.0h-1.0zM21.3 44.4h1.0v1.0h-1.0zM25.7 41.0h1.0v1.0h-1.0zM25.0 39.2h1.0v1.0h-1.0zM28.6 42.6h1.0v1.0h-1.0zM33.2 41.7h1.0v1.0h-1.0zM36.5 38.4h1.0v1.0h-1.0zM46.0 44.2h1.0v1.0h-1.0zM49.6 45.6h1.0v1.0h-1.0zM51.0 49.2h1.0v1.0h-1.0z" fill="#684387"/></g>
<path d="M161.66,246.70V319.40H220.96" fill="none" stroke="#1c1c1c" stroke-width="1.25"/>
<text x="268.92" y="245.40" font-size="11" text-anchor="middle" fill="#0a0a0a" class="t">29.923</text>
<g transform="translate(231.69,246.70)"><g filter="url(#rough)"><polygon points="50.2,37.2 50.1,41.9 49.9,45.1 49.4,47.9 48.7,50.3 47.8,52.5 46.7,54.3 45.5,55.9 44.1,57.2 42.4,58.3 40.6,59.0 38.4,59.4 35.3,59.6 32.1,59.4 30.0,59.0 28.1,58.3 26.5,57.2 25.1,55.9 23.8,54.3 23.6,54.0 23.6,20.4 23.8,20.1 25.1,18.5 26.5,17.2 28.1,16.2 30.0,15.4 32.1,15.0 35.3,14.9 38.4,15.0 40.6,15.4 42.4,16.2 44.1,17.2 45.5,18.5 46.7,20.1 47.8,22.0 48.7,24.1 49.4,26.5 49.9,29.3 50.1,32.5" fill="url(#mix)"/><polygon points="24.0,29.2 24.3,33.6 24.4,36.6 24.4,39.3 24.3,41.6 24.0,43.7 23.6,45.5 23.1,47.0 22.5,48.3 21.8,49.4 20.9,50.2 19.8,50.7 18.3,50.9 16.7,50.9 15.5,50.6 14.5,50.0 13.6,49.1 12.8,47.9 12.0,46.5 11.3,44.8 10.7,42.8 10.2,40.5 9.7,37.9 9.3,34.9 8.9,30.5 8.5,26.1 8.4,23.0 8.4,20.4 8.6,18.0 8.8,16.0 9.2,14.2 9.7,12.6 10.3,11.3 11.1,10.3 11.9,9.5 13.0,9.0 14.6,8.7 16.2,8.7 17.3,9.0 18.3,9.6 19.2,10.5 20.0,11.7 20.8,13.1 21.5,14.9 22.1,16.8 22.6,19.1 23.1,21.7 23.5,24.8" fill="#684387"/></g><path d="M53.3 39.3h1.0v1.0h-1.0zM53.1 40.6h1.0v1.0h-1.0zM55.3 43.1h1.0v1.0h-1.0zM51.2 44.0h1.0v1.0h-1.0zM51.0 47.3h1.0v1.0h-1.0zM57.1 47.4h1.0v1.0h-1.0zM52.8 48.8h1.0v1.0h-1.0zM53.4 51.0h1.0v1.0h-1.0zM53.3 51.7h1.0v1.0h-1.0zM50.6 56.3h1.0v1.0h-1.0zM51.7 55.5h1.0v1.0h-1.0zM48.8 55.7h1.0v1.0h-1.0zM49.6 56.6h1.0v1.0h-1.0zM47.2 57.8h1.0v1.0h-1.0zM48.7 60.6h1.0v1.0h-1.0zM46.2 62.5h1.0v1.0h-1.0zM42.5 62.6h1.0v1.0h-1.0zM39.4 61.2h1.0v1.0h-1.0zM39.0 60.9h1.0v1.0h-1.0zM35.1 61.9h1.0v1.0h-1.0zM36.3 67.1h1.0v1.0h-1.0zM35.3 62.6h1.0v1.0h-1.0zM31.5 61.7h1.0v1.0h-1.0zM28.7 60.9h1.0v1.0h-1.0zM23.9 61.5h1.0v1.0h-1.0zM20.3 61.9h1.0v1.0h-1.0zM21.2 59.2h1.0v1.0h-1.0zM19.1 23.7h1.0v1.0h-1.0zM21.2 33.5h1.0v1.0h-1.0zM18.9 54.2h1.0v1.0h-1.0zM19.8 37.9h1.0v1.0h-1.0zM16.8 53.5h1.0v1.0h-1.0zM19.5 36.2h1.0v1.0h-1.0zM21.0 28.6h1.0v1.0h-1.0zM21.2 27.6h1.0v1.0h-1.0zM21.7 35.6h1.0v1.0h-1.0zM19.2 26.8h1.0v1.0h-1.0zM21.2 45.9h1.0v1.0h-1.0zM19.7 41.2h1.0v1.0h-1.0zM21.9 40.2h1.0v1.0h-1.0zM18.9 34.1h1.0v1.0h-1.0zM20.6 49.7h1.0v1.0h-1.0zM22.1 44.1h1.0v1.0h-1.0zM20.7 33.2h1.0v1.0h-1.0zM20.8 47.4h1.0v1.0h-1.0zM22.0 17.6h1.0v1.0h-1.0zM26.1 16.3h1.0v1.0h-1.0zM23.8 13.5h1.0v1.0h-1.0zM28.4 12.4h1.0v1.0h-1.0zM30.0 9.5h1.0v1.0h-1.0zM33.2 10.5h1.0v1.0h-1.0zM31.6 10.7h1.0v1.0h-1.0zM36.1 9.3h1.0v1.0h-1.0zM36.2 12.3h1.0v1.0h-1.0zM40.4 8.7h1.0v1.0h-1.0zM43.4 9.6h1.0v1.0h-1.0zM46.5 11.9h1.0v1.0h-1.0zM48.2 15.2h1.0v1.0h-1.0zM46.7 16.7h1.0v1.0h-1.0zM50.8 18.0h1.0v1.0h-1.0zM54.2 20.8h1.0v1.0h-1.0zM52.7 22.5h1.0v1.0h-1.0zM51.1 25.2h1.0v1.0h-1.0zM51.0 25.9h1.0v1.0h-1.0zM57.5 27.7h1.0v1.0h-1.0zM53.0 30.9h1.0v1.0h-1.0zM58.6 30.2h1.0v1.0h-1.0zM56.5 35.2h1.0v1.0h-1.0zM53.6 34.8h1.0v1.0h-1.0zM53.3 33.6h1.0v1.0h-1.0z" fill="url(#mix)"/><path d="M28.2 28.2h1.0v1.0h-1.0zM30.6 30.3h1.0v1.0h-1.0zM32.0 35.4h1.0v1.0h-1.0zM26.6 38.4h1.0v1.0h-1.0zM28.0 41.3h1.0v1.0h-1.0zM21.4 56.1h1.0v1.0h-1.0zM16.4 57.3h1.0v1.0h-1.0zM11.2 48.5h1.0v1.0h-1.0zM7.6 47.1h1.0v1.0h-1.0zM8.0 43.9h1.0v1.0h-1.0zM8.1 38.6h1.0v1.0h-1.0zM6.0 37.5h1.0v1.0h-1.0zM2.4 31.3h1.0v1.0h-1.0zM6.7 31.6h1.0v1.0h-1.0zM7.2 29.0h1.0v1.0h-1.0zM7.2 30.7h1.0v1.0h-1.0zM-0.9 25.3h1.0v1.0h-1.0zM4.8 22.0h1.0v1.0h-1.0zM6.9 19.5h1.0v1.0h-1.0zM4.5 17.6h1.0v1.0h-1.0zM6.9 13.3h1.0v1.0h-1.0zM7.4 10.6h1.0v1.0h-1.0zM8.4 9.8h1.0v1.0h-1.0zM7.1 4.9h1.0v1.0h-1.0zM9.3 3.0h1.0v1.0h-1.0zM14.7 7.4h1.0v1.0h-1.0zM19.4 6.5h1.0v1.0h-1.0zM19.7 9.1h1.0v1.0h-1.0zM24.2 13.8h1.0v1.0h-1.0zM25.5 16.9h1.0v1.0h-1.0zM25.6 21.5h1.0v1.0h-1.0zM25.9 21.1h1.0v1.0h-1.0zM26.5 25.3h1.0v1.0h-1.0z" fill="#684387"/></g>
<path d="M231.69,246.70V319.40H290.99" fill="none" stroke="#1c1c1c" stroke-width="1.25"/>
<text x="338.91" y="245.40" font-size="11" text-anchor="middle" fill="#0a0a0a" class="t">29.924</text>
<g transform="translate(301.72,246.70)"><g filter="url(#rough)"><polygon points="34.6,45.8 33.9,45.6 32.0,44.9 29.9,44.0 27.7,42.7 25.4,41.2 22.7,39.2 19.0,36.2 15.4,33.1 13.0,30.8 11.1,28.8 9.5,26.8 8.2,25.0 7.2,23.2 6.5,21.5 6.1,19.9 6.0,18.4 6.3,17.0 6.9,15.6 8.1,13.8 9.6,12.3 10.9,11.5 12.2,11.0 13.7,10.8 15.4,10.9 17.2,11.3 19.1,12.0 21.1,13.0 23.3,14.2 25.7,15.8 28.3,17.7 32.0,20.7 35.6,23.8 38.0,26.1 40.0,28.2 41.6,30.1 42.9,32.0 43.9,33.7 44.6,35.4 44.9,37.0 45.0,38.5 45.0,38.8" fill="url(#mix)"/><polygon points="53.8,56.1 53.0,57.9 52.3,59.2 51.5,60.2 50.6,61.0 49.6,61.6 48.5,62.1 47.3,62.4 45.9,62.5 44.5,62.4 43.0,62.2 41.2,61.8 38.7,60.9 36.3,60.0 34.7,59.2 33.3,58.4 32.2,57.5 31.3,56.5 30.6,55.5 30.0,54.5 29.6,53.3 29.5,52.2 29.5,50.9 29.7,49.5 30.4,47.5 31.1,45.7 31.8,44.4 32.6,43.4 33.5,42.6 34.5,42.0 35.6,41.5 36.9,41.2 38.2,41.1 39.6,41.2 41.2,41.4 42.9,41.8 45.4,42.7 47.8,43.6 49.4,44.4 50.8,45.2 51.9,46.1 52.8,47.1 53.6,48.1 54.1,49.1 54.5,50.3 54.6,51.4 54.6,52.7 54.4,54.1" fill="#684387"/></g><path d="M32.3 48.0h1.0v1.0h-1.0zM31.7 48.4h1.0v1.0h-1.0zM28.3 47.0h1.0v1.0h-1.0zM29.4 44.9h1.0v1.0h-1.0zM22.9 44.8h1.0v1.0h-1.0zM25.8 42.7h1.0v1.0h-1.0zM22.5 41.2h1.0v1.0h-1.0zM21.0 44.7h1.0v1.0h-1.0zM15.4 39.5h1.0v1.0h-1.0zM17.2 39.8h1.0v1.0h-1.0zM13.3 35.4h1.0v1.0h-1.0zM15.3 39.1h1.0v1.0h-1.0zM13.0 35.3h1.0v1.0h-1.0zM9.7 33.9h1.0v1.0h-1.0zM9.4 31.0h1.0v1.0h-1.0zM5.3 31.7h1.0v1.0h-1.0zM5.3 28.0h1.0v1.0h-1.0zM6.8 24.8h1.0v1.0h-1.0zM4.5 24.2h1.0v1.0h-1.0zM3.0 22.3h1.0v1.0h-1.0zM2.1 18.9h1.0v1.0h-1.0zM3.3 17.8h1.0v1.0h-1.0zM0.1 13.0h1.0v1.0h-1.0zM6.6 12.6h1.0v1.0h-1.0zM6.7 10.0h1.0v1.0h-1.0zM10.7 9.3h1.0v1.0h-1.0zM13.1 6.8h1.0v1.0h-1.0zM13.8 8.0h1.0v1.0h-1.0zM16.9 7.2h1.0v1.0h-1.0zM18.4 9.4h1.0v1.0h-1.0zM22.3 8.1h1.0v1.0h-1.0zM25.1 8.4h1.0v1.0h-1.0zM24.0 10.1h1.0v1.0h-1.0zM27.0 10.7h1.0v1.0h-1.0zM26.8 10.3h1.0v1.0h-1.0zM28.0 14.7h1.0v1.0h-1.0zM30.0 12.9h1.0v1.0h-1.0zM31.2 17.8h1.0v1.0h-1.0zM31.6 17.8h1.0v1.0h-1.0zM34.8 18.7h1.0v1.0h-1.0zM37.2 20.3h1.0v1.0h-1.0zM35.5 19.4h1.0v1.0h-1.0zM41.6 21.5h1.0v1.0h-1.0zM40.5 22.8h1.0v1.0h-1.0zM41.4 26.8h1.0v1.0h-1.0zM42.0 23.5h1.0v1.0h-1.0zM42.7 27.3h1.0v1.0h-1.0zM43.7 28.9h1.0v1.0h-1.0zM48.4 26.7h1.0v1.0h-1.0zM46.6 31.0h1.0v1.0h-1.0zM50.3 31.6h1.0v1.0h-1.0zM51.8 34.2h1.0v1.0h-1.0zM46.1 38.5h1.0v1.0h-1.0zM45.0 41.7h1.0v1.0h-1.0zM37.7 45.7h1.0v1.0h-1.0zM40.2 46.2h1.0v1.0h-1.0zM43.0 42.0h1.0v1.0h-1.0zM37.8 48.1h1.0v1.0h-1.0zM40.3 46.2h1.0v1.0h-1.0zM41.2 43.0h1.0v1.0h-1.0z" fill="url(#mix)"/><path d="M54.7 58.8h1.0v1.0h-1.0zM51.8 63.9h1.0v1.0h-1.0zM50.0 64.6h1.0v1.0h-1.0zM46.9 67.1h1.0v1.0h-1.0zM45.6 69.5h1.0v1.0h-1.0zM43.1 66.2h1.0v1.0h-1.0zM41.8 66.1h1.0v1.0h-1.0zM36.4 70.1h1.0v1.0h-1.0zM34.7 69.8h1.0v1.0h-1.0zM33.5 65.0h1.0v1.0h-1.0zM31.8 59.2h1.0v1.0h-1.0zM29.4 59.5h1.0v1.0h-1.0zM28.5 47.9h1.0v1.0h-1.0zM25.1 44.3h1.0v1.0h-1.0zM26.0 41.3h1.0v1.0h-1.0zM31.2 39.0h1.0v1.0h-1.0zM35.7 37.3h1.0v1.0h-1.0zM39.5 37.8h1.0v1.0h-1.0zM42.4 38.8h1.0v1.0h-1.0zM45.5 38.5h1.0v1.0h-1.0zM48.7 38.1h1.0v1.0h-1.0zM50.5 42.4h1.0v1.0h-1.0zM56.0 39.5h1.0v1.0h-1.0zM55.1 46.1h1.0v1.0h-1.0zM59.7 46.2h1.0v1.0h-1.0zM56.4 49.8h1.0v1.0h-1.0zM62.1 50.0h1.0v1.0h-1.0zM62.2 52.5h1.0v1.0h-1.0zM58.2 54.3h1.0v1.0h-1.0z" fill="#684387"/></g>
<path d="M301.72,246.70V319.40H361.02" fill="none" stroke="#1c1c1c" stroke-width="1.25"/>
<text x="408.90" y="245.40" font-size="11" text-anchor="middle" fill="#0a0a0a" class="t">29.924</text>
<g transform="translate(371.75,246.70)"><g filter="url(#rough)"><polygon points="45.7,36.2 45.6,41.3 45.4,44.8 44.9,47.8 44.3,50.4 43.5,52.7 42.6,54.7 41.5,56.4 40.2,57.8 38.7,58.9 37.0,59.7 35.1,60.2 32.3,60.4 29.5,60.2 27.6,59.7 25.9,58.9 24.4,57.8 23.1,56.4 22.0,54.7 21.1,52.7 20.3,50.4 20.2,50.2 20.2,22.3 20.3,22.1 21.1,19.8 22.0,17.8 23.1,16.1 24.4,14.7 25.9,13.6 27.6,12.8 29.5,12.3 32.3,12.1 35.1,12.3 37.0,12.8 38.7,13.6 40.2,14.7 41.5,16.1 42.6,17.8 43.5,19.8 44.3,22.1 44.9,24.7 45.4,27.7 45.6,31.2" fill="url(#mix)"/><polygon points="20.0,39.2 20.0,44.0 19.9,47.3 19.6,50.2 19.3,52.7 18.9,55.0 18.4,56.9 17.8,58.5 17.1,59.9 16.3,60.9 15.4,61.7 14.4,62.1 12.9,62.3 11.4,62.1 10.3,61.7 9.4,60.9 8.6,59.9 7.9,58.5 7.3,56.9 6.8,55.0 6.4,52.7 6.1,50.2 5.8,47.3 5.7,44.0 5.7,39.2 5.7,34.3 5.8,31.0 6.1,28.1 6.4,25.6 6.8,23.4 7.3,21.4 7.9,19.8 8.6,18.4 9.4,17.4 10.3,16.6 11.4,16.2 12.9,16.0 14.4,16.2 15.4,16.6 16.3,17.4 17.1,18.4 17.8,19.8 18.4,21.4 18.9,23.4 19.3,25.6 19.6,28.1 19.9,31.0 20.0,34.3" fill="#684387"/></g><path d="M49.9 39.4h1.0v1.0h-1.0zM54.3 39.0h1.0v1.0h-1.0zM47.8 40.1h1.0v1.0h-1.0zM47.9 41.0h1.0v1.0h-1.0zM48.6 42.5h1.0v1.0h-1.0zM49.2 47.9h1.0v1.0h-1.0zM48.1 45.3h1.0v1.0h-1.0zM49.5 51.9h1.0v1.0h-1.0zM48.3 50.3h1.0v1.0h-1.0zM46.4 51.7h1.0v1.0h-1.0zM49.6 57.7h1.0v1.0h-1.0zM45.2 57.0h1.0v1.0h-1.0zM44.6 58.0h1.0v1.0h-1.0zM44.4 58.8h1.0v1.0h-1.0zM43.4 62.3h1.0v1.0h-1.0zM40.0 62.9h1.0v1.0h-1.0zM36.2 62.0h1.0v1.0h-1.0zM34.8 65.2h1.0v1.0h-1.0zM33.4 62.1h1.0v1.0h-1.0zM31.7 64.2h1.0v1.0h-1.0zM31.4 61.9h1.0v1.0h-1.0zM28.1 62.0h1.0v1.0h-1.0zM26.2 61.5h1.0v1.0h-1.0zM23.3 58.7h1.0v1.0h-1.0zM21.7 58.3h1.0v1.0h-1.0zM18.5 59.0h1.0v1.0h-1.0zM13.8 57.2h1.0v1.0h-1.0zM15.7 52.3h1.0v1.0h-1.0zM18.2 52.4h1.0v1.0h-1.0zM17.7 45.1h1.0v1.0h-1.0zM13.9 30.6h1.0v1.0h-1.0zM13.6 25.1h1.0v1.0h-1.0zM15.4 45.4h1.0v1.0h-1.0zM12.9 40.4h1.0v1.0h-1.0zM16.5 34.4h1.0v1.0h-1.0zM18.6 30.7h1.0v1.0h-1.0zM17.2 48.2h1.0v1.0h-1.0zM16.9 32.0h1.0v1.0h-1.0zM16.3 31.9h1.0v1.0h-1.0zM11.7 47.5h1.0v1.0h-1.0zM18.0 43.0h1.0v1.0h-1.0zM16.6 41.5h1.0v1.0h-1.0zM17.9 36.4h1.0v1.0h-1.0zM16.4 39.2h1.0v1.0h-1.0zM16.0 48.5h1.0v1.0h-1.0zM18.3 20.3h1.0v1.0h-1.0zM16.3 16.1h1.0v1.0h-1.0zM20.0 15.4h1.0v1.0h-1.0zM21.0 14.5h1.0v1.0h-1.0zM23.2 9.8h1.0v1.0h-1.0zM26.7 10.4h1.0v1.0h-1.0zM27.3 4.0h1.0v1.0h-1.0zM31.0 8.2h1.0v1.0h-1.0zM30.8 5.9h1.0v1.0h-1.0zM34.8 10.6h1.0v1.0h-1.0zM33.3 7.8h1.0v1.0h-1.0zM36.9 7.4h1.0v1.0h-1.0zM38.7 9.4h1.0v1.0h-1.0zM40.7 11.7h1.0v1.0h-1.0zM43.1 12.7h1.0v1.0h-1.0zM45.7 14.8h1.0v1.0h-1.0zM45.9 17.9h1.0v1.0h-1.0zM49.2 20.4h1.0v1.0h-1.0zM48.9 23.7h1.0v1.0h-1.0zM47.3 25.7h1.0v1.0h-1.0zM47.6 27.4h1.0v1.0h-1.0zM47.0 28.3h1.0v1.0h-1.0zM49.8 30.0h1.0v1.0h-1.0zM54.2 32.0h1.0v1.0h-1.0zM48.5 33.5h1.0v1.0h-1.0zM47.9 32.7h1.0v1.0h-1.0z" fill="url(#mix)"/><path d="M25.2 39.4h1.0v1.0h-1.0zM22.3 43.7h1.0v1.0h-1.0zM23.9 44.3h1.0v1.0h-1.0zM21.7 47.8h1.0v1.0h-1.0zM22.4 51.9h1.0v1.0h-1.0zM24.1 55.1h1.0v1.0h-1.0zM20.4 58.9h1.0v1.0h-1.0zM20.8 60.3h1.0v1.0h-1.0zM17.0 63.9h1.0v1.0h-1.0zM15.1 63.7h1.0v1.0h-1.0zM11.0 63.6h1.0v1.0h-1.0zM9.3 64.9h1.0v1.0h-1.0zM7.4 63.9h1.0v1.0h-1.0zM5.8 61.7h1.0v1.0h-1.0zM5.6 58.0h1.0v1.0h-1.0zM3.0 53.3h1.0v1.0h-1.0zM0.8 47.2h1.0v1.0h-1.0zM-1.8 45.9h1.0v1.0h-1.0zM2.7 43.6h1.0v1.0h-1.0zM3.2 39.5h1.0v1.0h-1.0zM2.5 35.2h1.0v1.0h-1.0zM-1.4 33.6h1.0v1.0h-1.0zM2.9 31.0h1.0v1.0h-1.0zM2.0 27.6h1.0v1.0h-1.0zM2.8 23.9h1.0v1.0h-1.0zM1.4 20.7h1.0v1.0h-1.0zM3.8 19.0h1.0v1.0h-1.0zM5.4 17.1h1.0v1.0h-1.0zM4.5 15.6h1.0v1.0h-1.0zM7.3 10.3h1.0v1.0h-1.0zM12.3 14.7h1.0v1.0h-1.0zM18.0 10.4h1.0v1.0h-1.0zM21.5 20.3h1.0v1.0h-1.0zM22.6 20.3h1.0v1.0h-1.0zM27.7 23.4h1.0v1.0h-1.0zM23.9 25.4h1.0v1.0h-1.0zM25.7 29.0h1.0v1.0h-1.0zM23.7 31.3h1.0v1.0h-1.0zM22.2 36.0h1.0v1.0h-1.0zM23.7 37.5h1.0v1.0h-1.0z" fill="#684387"/></g>
<path d="M371.75,246.70V319.40H431.05" fill="none" stroke="#1c1c1c" stroke-width="1.25"/>
<text x="478.89" y="245.40" font-size="11" text-anchor="middle" fill="#0a0a0a" class="t">29.924</text>
<g transform="translate(441.78,246.70)"><g filter="url(#rough)"><polygon points="49.9,33.2 51.2,37.1 51.9,39.9 52.3,42.4 52.4,44.7 52.3,46.7 51.9,48.6 51.2,50.4 50.3,51.9 49.1,53.3 47.6,54.6 45.8,55.7 43.0,56.8 40.0,57.7 37.9,58.1 36.0,58.1 34.2,57.8 32.5,57.2 30.9,56.3 29.3,55.1 27.9,53.6 26.5,51.8 25.2,49.6 24.0,47.0 23.9,46.9 24.2,22.2 24.7,21.8 26.6,20.7 29.4,19.6 32.3,18.6 34.4,18.3 36.3,18.3 38.1,18.6 39.8,19.2 41.5,20.1 43.0,21.3 44.5,22.8 45.8,24.6 47.1,26.7 48.4,29.3" fill="url(#mix)"/><polygon points="24.1,30.3 24.4,34.1 24.4,36.8 24.4,39.1 24.2,41.1 23.9,42.9 23.5,44.4 23.0,45.8 22.3,46.9 21.5,47.8 20.6,48.5 19.5,48.9 17.9,49.2 16.3,49.2 15.1,49.0 14.1,48.5 13.2,47.7 12.4,46.7 11.6,45.5 10.9,44.0 10.3,42.3 9.8,40.3 9.4,38.1 9.0,35.5 8.6,31.7 8.3,27.9 8.2,25.2 8.3,22.9 8.5,20.9 8.8,19.1 9.2,17.6 9.7,16.2 10.4,15.1 11.1,14.2 12.0,13.5 13.1,13.0 14.7,12.8 16.4,12.8 17.5,13.0 18.5,13.5 19.5,14.3 20.3,15.3 21.0,16.5 21.7,18.0 22.3,19.7 22.9,21.7 23.3,23.9 23.7,26.5" fill="#684387"/></g><path d="M54.3 33.1h1.0v1.0h-1.0zM55.2 33.0h1.0v1.0h-1.0zM57.3 37.2h1.0v1.0h-1.0zM55.3 36.8h1.0v1.0h-1.0zM54.1 40.5h1.0v1.0h-1.0zM55.5 42.5h1.0v1.0h-1.0zM54.2 45.4h1.0v1.0h-1.0zM55.0 48.3h1.0v1.0h-1.0zM53.7 49.0h1.0v1.0h-1.0zM57.6 56.6h1.0v1.0h-1.0zM51.1 55.3h1.0v1.0h-1.0zM48.6 56.6h1.0v1.0h-1.0zM48.9 57.7h1.0v1.0h-1.0zM48.1 63.2h1.0v1.0h-1.0zM46.4 59.3h1.0v1.0h-1.0zM42.6 59.4h1.0v1.0h-1.0zM41.4 59.4h1.0v1.0h-1.0zM37.9 60.7h1.0v1.0h-1.0zM36.5 59.7h1.0v1.0h-1.0zM35.0 63.7h1.0v1.0h-1.0zM32.3 59.5h1.0v1.0h-1.0zM30.2 59.9h1.0v1.0h-1.0zM26.2 60.2h1.0v1.0h-1.0zM25.5 58.3h1.0v1.0h-1.0zM24.9 54.1h1.0v1.0h-1.0zM24.3 54.6h1.0v1.0h-1.0zM22.1 52.8h1.0v1.0h-1.0zM22.2 52.9h1.0v1.0h-1.0zM21.1 50.3h1.0v1.0h-1.0zM22.0 51.0h1.0v1.0h-1.0zM18.9 36.2h1.0v1.0h-1.0zM20.1 44.7h1.0v1.0h-1.0zM16.8 28.1h1.0v1.0h-1.0zM21.2 43.3h1.0v1.0h-1.0zM21.7 23.1h1.0v1.0h-1.0zM22.6 46.5h1.0v1.0h-1.0zM21.1 43.6h1.0v1.0h-1.0zM19.0 35.6h1.0v1.0h-1.0zM16.9 42.4h1.0v1.0h-1.0zM18.4 24.5h1.0v1.0h-1.0zM20.2 23.8h1.0v1.0h-1.0zM21.8 23.6h1.0v1.0h-1.0zM22.1 45.5h1.0v1.0h-1.0zM23.8 19.4h1.0v1.0h-1.0zM25.7 18.0h1.0v1.0h-1.0zM28.1 16.5h1.0v1.0h-1.0zM30.0 16.9h1.0v1.0h-1.0zM29.0 12.2h1.0v1.0h-1.0zM31.8 14.7h1.0v1.0h-1.0zM34.9 16.0h1.0v1.0h-1.0zM37.4 14.5h1.0v1.0h-1.0zM41.0 16.7h1.0v1.0h-1.0zM42.2 15.5h1.0v1.0h-1.0zM44.9 18.9h1.0v1.0h-1.0zM49.2 16.1h1.0v1.0h-1.0zM47.3 20.2h1.0v1.0h-1.0zM49.2 25.7h1.0v1.0h-1.0zM49.3 23.8h1.0v1.0h-1.0zM53.5 24.6h1.0v1.0h-1.0zM52.4 29.4h1.0v1.0h-1.0zM52.5 29.8h1.0v1.0h-1.0z" fill="url(#mix)"/><path d="M29.7 30.3h1.0v1.0h-1.0zM26.6 35.1h1.0v1.0h-1.0zM26.0 37.7h1.0v1.0h-1.0zM25.3 40.6h1.0v1.0h-1.0zM28.9 45.1h1.0v1.0h-1.0zM28.7 46.5h1.0v1.0h-1.0zM23.8 49.2h1.0v1.0h-1.0zM26.3 54.9h1.0v1.0h-1.0zM21.7 52.0h1.0v1.0h-1.0zM19.5 54.8h1.0v1.0h-1.0zM17.2 51.8h1.0v1.0h-1.0zM11.8 51.4h1.0v1.0h-1.0zM10.7 48.8h1.0v1.0h-1.0zM8.4 47.4h1.0v1.0h-1.0zM9.1 45.3h1.0v1.0h-1.0zM3.8 46.2h1.0v1.0h-1.0zM6.4 41.7h1.0v1.0h-1.0zM7.0 40.5h1.0v1.0h-1.0zM5.2 38.0h1.0v1.0h-1.0zM5.9 33.9h1.0v1.0h-1.0zM6.6 35.8h1.0v1.0h-1.0zM2.7 29.7h1.0v1.0h-1.0zM3.5 27.6h1.0v1.0h-1.0zM-1.0 23.6h1.0v1.0h-1.0zM4.5 22.2h1.0v1.0h-1.0zM4.8 18.3h1.0v1.0h-1.0zM16.6 10.8h1.0v1.0h-1.0zM18.4 10.8h1.0v1.0h-1.0zM22.0 14.6h1.0v1.0h-1.0zM28.4 21.7h1.0v1.0h-1.0zM26.9 25.4h1.0v1.0h-1.0zM27.7 28.2h1.0v1.0h-1.0z" fill="#684387"/></g>
<path d="M441.78,246.70V319.40H501.08" fill="none" stroke="#1c1c1c" stroke-width="1.25"/>
<text x="548.88" y="245.40" font-size="11" text-anchor="middle" fill="#0a0a0a" class="t">29.924</text>
<g transform="translate(511.81,246.70)"><g filter="url(#rough)"><polygon points="33.1,46.8 32.8,46.8 31.3,46.6 29.7,46.1 28.1,45.2 26.4,44.1 24.7,42.6 22.9,40.9 21.0,38.8 19.0,36.2 16.2,32.3 13.5,28.4 11.8,25.6 10.4,23.1 9.4,20.8 8.6,18.7 8.1,16.7 7.9,14.9 7.9,13.2 8.2,11.8 8.8,10.4 9.8,9.2 11.4,7.9 13.2,6.8 14.7,6.3 16.1,6.2 17.6,6.4 19.2,7.0 20.8,7.8 22.5,8.9 24.2,10.4 26.0,12.2 27.9,14.3 30.0,16.9 32.7,20.7 35.4,24.7 37.1,27.5 38.5,30.0 39.5,32.3 40.3,34.4 40.8,36.4 40.9,37.1" fill="url(#mix)"/><polygon points="50.7,62.8 49.1,63.6 47.9,63.9 46.7,64.0 45.5,63.8 44.4,63.4 43.3,62.7 42.1,61.9 41.0,60.8 39.9,59.5 38.7,58.0 37.5,56.1 36.0,53.3 34.5,50.4 33.6,48.4 33.0,46.6 32.5,44.9 32.3,43.4 32.2,42.0 32.3,40.7 32.6,39.5 33.1,38.4 33.8,37.5 34.8,36.6 36.3,35.7 37.9,35.0 39.2,34.6 40.3,34.6 41.5,34.8 42.6,35.2 43.8,35.8 44.9,36.7 46.0,37.7 47.2,39.0 48.3,40.6 49.5,42.4 51.1,45.3 52.5,48.1 53.4,50.2 54.1,52.0 54.5,53.6 54.8,55.2 54.8,56.6 54.7,57.9 54.4,59.1 53.9,60.1 53.2,61.1 52.3,61.9" fill="#684387"/></g><path d="M28.9 49.9h1.0v1.0h-1.0zM27.1 48.8h1.0v1.0h-1.0zM26.2 47.0h1.0v1.0h-1.0zM23.0 45.1h1.0v1.0h-1.0zM20.6 46.9h1.0v1.0h-1.0zM22.2 42.9h1.0v1.0h-1.0zM19.5 41.7h1.0v1.0h-1.0zM17.0 38.5h1.0v1.0h-1.0zM19.0 39.0h1.0v1.0h-1.0zM11.6 40.1h1.0v1.0h-1.0zM14.5 38.1h1.0v1.0h-1.0zM14.0 36.5h1.0v1.0h-1.0zM9.0 32.1h1.0v1.0h-1.0zM11.9 29.5h1.0v1.0h-1.0zM5.2 29.5h1.0v1.0h-1.0zM8.6 28.4h1.0v1.0h-1.0zM9.8 24.9h1.0v1.0h-1.0zM7.5 24.5h1.0v1.0h-1.0zM7.7 24.0h1.0v1.0h-1.0zM4.9 20.4h1.0v1.0h-1.0zM6.3 18.5h1.0v1.0h-1.0zM2.8 16.7h1.0v1.0h-1.0zM5.3 13.8h1.0v1.0h-1.0zM2.8 11.3h1.0v1.0h-1.0zM6.3 7.4h1.0v1.0h-1.0zM8.1 5.9h1.0v1.0h-1.0zM11.7 5.8h1.0v1.0h-1.0zM8.6 2.0h1.0v1.0h-1.0zM13.3 4.0h1.0v1.0h-1.0zM17.6 3.2h1.0v1.0h-1.0zM19.8 3.5h1.0v1.0h-1.0zM22.0 4.5h1.0v1.0h-1.0zM21.8 6.2h1.0v1.0h-1.0zM27.4 5.4h1.0v1.0h-1.0zM29.1 7.2h1.0v1.0h-1.0zM27.6 9.9h1.0v1.0h-1.0zM32.4 9.2h1.0v1.0h-1.0zM29.5 10.8h1.0v1.0h-1.0zM31.4 14.2h1.0v1.0h-1.0zM35.9 18.2h1.0v1.0h-1.0zM33.5 13.9h1.0v1.0h-1.0zM38.3 19.1h1.0v1.0h-1.0zM39.7 18.0h1.0v1.0h-1.0zM40.4 25.6h1.0v1.0h-1.0zM39.1 25.7h1.0v1.0h-1.0zM43.2 26.5h1.0v1.0h-1.0zM41.4 28.2h1.0v1.0h-1.0zM40.9 28.9h1.0v1.0h-1.0zM44.8 31.8h1.0v1.0h-1.0zM43.3 31.4h1.0v1.0h-1.0zM42.3 34.7h1.0v1.0h-1.0zM39.4 44.7h1.0v1.0h-1.0zM37.3 45.2h1.0v1.0h-1.0zM35.2 46.1h1.0v1.0h-1.0zM40.3 47.3h1.0v1.0h-1.0zM40.1 41.0h1.0v1.0h-1.0zM38.8 46.2h1.0v1.0h-1.0z" fill="url(#mix)"/><path d="M51.2 64.5h1.0v1.0h-1.0zM45.7 67.1h1.0v1.0h-1.0zM39.2 63.7h1.0v1.0h-1.0zM34.9 56.0h1.0v1.0h-1.0zM30.8 52.8h1.0v1.0h-1.0zM27.6 47.9h1.0v1.0h-1.0zM27.6 46.8h1.0v1.0h-1.0zM29.8 45.4h1.0v1.0h-1.0zM30.4 42.8h1.0v1.0h-1.0zM30.7 38.7h1.0v1.0h-1.0zM30.9 36.2h1.0v1.0h-1.0zM33.3 35.0h1.0v1.0h-1.0zM34.2 34.8h1.0v1.0h-1.0zM36.1 32.2h1.0v1.0h-1.0zM40.2 30.7h1.0v1.0h-1.0zM45.7 30.4h1.0v1.0h-1.0zM50.2 35.2h1.0v1.0h-1.0zM52.7 36.3h1.0v1.0h-1.0zM51.5 39.7h1.0v1.0h-1.0zM51.6 42.6h1.0v1.0h-1.0zM54.6 45.8h1.0v1.0h-1.0zM56.8 47.3h1.0v1.0h-1.0zM61.3 53.4h1.0v1.0h-1.0zM58.9 61.0h1.0v1.0h-1.0zM58.1 64.0h1.0v1.0h-1.0zM57.0 66.0h1.0v1.0h-1.0z" fill="#684387"/></g>
<path d="M511.81,246.70V319.40H571.11" fill="none" stroke="#1c1c1c" stroke-width="1.25"/>
<text x="618.87" y="245.40" font-size="11" text-anchor="middle" fill="#0a0a0a" class="t">29.925</text>
<g transform="translate(581.84,246.70)"><g filter="url(#rough)"><polygon points="46.6,35.3 47.2,40.0 47.4,43.2 47.3,46.0 47.0,48.5 46.6,50.7 45.9,52.7 45.0,54.5 43.8,55.9 42.5,57.1 40.9,58.1 39.1,58.8 36.3,59.4 33.4,59.6 31.4,59.4 29.6,59.0 28.0,58.2 26.6,57.0 25.2,55.6 24.0,53.9 22.9,51.9 22.0,49.6 21.1,46.9 20.9,45.9 21.2,20.2 21.3,20.0 22.5,18.5 23.8,17.3 25.4,16.3 27.2,15.6 30.0,15.1 32.9,14.8 34.9,15.0 36.7,15.5 38.3,16.3 39.7,17.4 41.1,18.8 42.3,20.5 43.4,22.5 44.3,24.9 45.2,27.5 45.9,30.7" fill="url(#mix)"/><polygon points="22.3,30.8 22.2,34.7 22.1,37.3 21.8,39.6 21.5,41.6 21.0,43.4 20.5,44.9 19.9,46.3 19.1,47.3 18.3,48.2 17.4,48.8 16.3,49.2 14.7,49.3 13.1,49.2 12.0,48.8 11.1,48.2 10.2,47.3 9.5,46.3 8.9,44.9 8.3,43.4 7.9,41.6 7.5,39.6 7.3,37.3 7.1,34.7 7.1,30.8 7.1,26.9 7.3,24.3 7.5,22.0 7.9,20.0 8.3,18.2 8.9,16.7 9.5,15.3 10.2,14.3 11.1,13.4 12.0,12.8 13.1,12.4 14.7,12.3 16.3,12.4 17.4,12.8 18.3,13.4 19.1,14.3 19.9,15.3 20.5,16.7 21.0,18.2 21.5,20.0 21.8,22.0 22.1,24.3 22.2,26.9" fill="#684387"/></g><path d="M51.0 36.8h1.0v1.0h-1.0zM50.7 34.0h1.0v1.0h-1.0zM50.7 41.5h1.0v1.0h-1.0zM49.8 40.9h1.0v1.0h-1.0zM52.6 44.1h1.0v1.0h-1.0zM49.2 44.1h1.0v1.0h-1.0zM51.4 48.2h1.0v1.0h-1.0zM49.3 47.3h1.0v1.0h-1.0zM51.6 50.9h1.0v1.0h-1.0zM48.4 52.7h1.0v1.0h-1.0zM48.1 54.5h1.0v1.0h-1.0zM46.3 57.2h1.0v1.0h-1.0zM47.1 60.5h1.0v1.0h-1.0zM43.0 61.7h1.0v1.0h-1.0zM41.5 63.2h1.0v1.0h-1.0zM38.6 64.2h1.0v1.0h-1.0zM39.6 60.7h1.0v1.0h-1.0zM36.4 63.0h1.0v1.0h-1.0zM35.1 64.1h1.0v1.0h-1.0zM32.0 66.8h1.0v1.0h-1.0zM33.0 61.6h1.0v1.0h-1.0zM30.1 61.4h1.0v1.0h-1.0zM26.8 63.8h1.0v1.0h-1.0zM25.7 61.4h1.0v1.0h-1.0zM24.4 57.9h1.0v1.0h-1.0zM20.9 56.3h1.0v1.0h-1.0zM19.0 55.7h1.0v1.0h-1.0zM22.5 54.5h1.0v1.0h-1.0zM17.7 50.8h1.0v1.0h-1.0zM17.3 50.5h1.0v1.0h-1.0zM16.7 49.3h1.0v1.0h-1.0zM19.4 46.8h1.0v1.0h-1.0zM17.5 36.1h1.0v1.0h-1.0zM16.3 21.8h1.0v1.0h-1.0zM18.0 43.3h1.0v1.0h-1.0zM16.9 20.7h1.0v1.0h-1.0zM15.7 26.1h1.0v1.0h-1.0zM14.8 46.1h1.0v1.0h-1.0zM19.5 43.7h1.0v1.0h-1.0zM19.1 25.0h1.0v1.0h-1.0zM14.8 27.2h1.0v1.0h-1.0zM17.0 26.6h1.0v1.0h-1.0zM19.0 21.0h1.0v1.0h-1.0zM17.5 44.9h1.0v1.0h-1.0zM18.4 42.2h1.0v1.0h-1.0zM17.0 36.6h1.0v1.0h-1.0zM16.5 15.3h1.0v1.0h-1.0zM20.6 13.7h1.0v1.0h-1.0zM20.3 7.5h1.0v1.0h-1.0zM26.5 12.1h1.0v1.0h-1.0zM28.8 13.4h1.0v1.0h-1.0zM31.7 10.3h1.0v1.0h-1.0zM31.3 12.0h1.0v1.0h-1.0zM33.2 10.7h1.0v1.0h-1.0zM34.0 12.4h1.0v1.0h-1.0zM36.6 10.6h1.0v1.0h-1.0zM36.5 13.6h1.0v1.0h-1.0zM42.0 11.1h1.0v1.0h-1.0zM41.3 15.9h1.0v1.0h-1.0zM43.1 18.6h1.0v1.0h-1.0zM49.6 18.5h1.0v1.0h-1.0zM44.5 20.9h1.0v1.0h-1.0zM48.7 22.2h1.0v1.0h-1.0zM47.8 21.2h1.0v1.0h-1.0zM46.4 25.5h1.0v1.0h-1.0zM57.1 21.6h1.0v1.0h-1.0zM50.9 28.1h1.0v1.0h-1.0zM47.4 27.1h1.0v1.0h-1.0zM48.3 33.1h1.0v1.0h-1.0zM48.5 34.7h1.0v1.0h-1.0zM49.8 33.9h1.0v1.0h-1.0z" fill="url(#mix)"/><path d="M27.2 31.7h1.0v1.0h-1.0zM25.9 34.8h1.0v1.0h-1.0zM27.0 36.3h1.0v1.0h-1.0zM27.9 40.7h1.0v1.0h-1.0zM23.9 41.3h1.0v1.0h-1.0zM22.9 43.3h1.0v1.0h-1.0zM21.9 47.2h1.0v1.0h-1.0zM20.9 47.4h1.0v1.0h-1.0zM23.1 51.3h1.0v1.0h-1.0zM18.3 53.8h1.0v1.0h-1.0zM16.1 55.4h1.0v1.0h-1.0zM12.5 52.4h1.0v1.0h-1.0zM4.9 43.5h1.0v1.0h-1.0zM5.8 41.3h1.0v1.0h-1.0zM2.6 36.8h1.0v1.0h-1.0zM4.3 33.3h1.0v1.0h-1.0zM1.4 27.6h1.0v1.0h-1.0zM5.4 25.5h1.0v1.0h-1.0zM4.6 20.9h1.0v1.0h-1.0zM5.8 21.2h1.0v1.0h-1.0zM7.3 14.2h1.0v1.0h-1.0zM8.4 12.9h1.0v1.0h-1.0zM12.1 10.5h1.0v1.0h-1.0zM15.3 9.3h1.0v1.0h-1.0zM21.2 11.5h1.0v1.0h-1.0zM23.4 13.0h1.0v1.0h-1.0zM22.9 14.8h1.0v1.0h-1.0zM24.9 15.6h1.0v1.0h-1.0zM25.5 18.5h1.0v1.0h-1.0zM27.3 22.2h1.0v1.0h-1.0zM25.2 26.9h1.0v1.0h-1.0zM24.6 29.3h1.0v1.0h-1.0zM24.5 29.2h1.0v1.0h-1.0z" fill="#684387"/></g>
<path d="M581.84,246.70V319.40H641.14" fill="none" stroke="#1c1c1c" stroke-width="1.25"/>
<text x="688.86" y="245.40" font-size="11" text-anchor="middle" fill="#0a0a0a" class="t">29.925</text>
<g transform="translate(651.87,246.70)"><g filter="url(#rough)"><polygon points="42.7,30.8 42.0,35.1 41.3,37.7 16.9,47.7 15.7,47.1 14.1,45.9 12.7,44.5 11.5,42.8 10.6,40.9 9.9,38.7 9.5,36.3 9.3,33.6 9.5,30.6 10.0,26.2 10.7,21.8 11.4,18.8 12.3,16.3 13.4,14.1 14.6,12.2 16.1,10.6 17.6,9.3 19.4,8.3 21.3,7.6 23.4,7.2 25.8,7.1 29.3,7.5 32.7,8.1 35.0,8.8 36.9,9.8 38.6,11.0 40.0,12.5 41.1,14.2 42.0,16.1 42.7,18.2 43.1,20.6 43.3,23.3 43.2,26.4" fill="url(#mix)"/><polygon points="43.2,45.7 44.1,47.9 44.5,49.5 44.7,51.0 44.6,52.5 44.2,53.9 43.6,55.2 42.8,56.5 41.8,57.7 40.5,58.9 38.9,60.0 37.0,61.2 34.1,62.6 31.2,63.9 29.0,64.6 27.2,65.1 25.4,65.3 23.8,65.3 22.3,65.1 20.9,64.7 19.6,64.1 18.5,63.3 17.4,62.2 16.4,60.8 15.3,58.7 14.4,56.5 14.0,54.8 13.8,53.3 13.9,51.9 14.3,50.5 14.9,49.2 15.7,47.9 16.7,46.7 18.0,45.5 19.6,44.4 21.5,43.2 24.4,41.8 27.3,40.5 29.4,39.8 31.3,39.3 33.1,39.1 34.7,39.1 36.2,39.3 37.6,39.7 38.9,40.3 40.0,41.1 41.1,42.2 42.1,43.6" fill="#684387"/></g><path d="M44.4 34.6h1.0v1.0h-1.0zM46.0 34.1h1.0v1.0h-1.0zM47.3 36.0h1.0v1.0h-1.0zM45.5 36.1h1.0v1.0h-1.0zM43.6 46.9h1.0v1.0h-1.0zM41.5 40.5h1.0v1.0h-1.0zM36.9 43.7h1.0v1.0h-1.0zM29.4 43.4h1.0v1.0h-1.0zM33.2 43.0h1.0v1.0h-1.0zM42.3 42.3h1.0v1.0h-1.0zM30.0 47.9h1.0v1.0h-1.0zM41.3 42.0h1.0v1.0h-1.0zM24.5 47.8h1.0v1.0h-1.0zM30.5 45.2h1.0v1.0h-1.0zM34.7 42.1h1.0v1.0h-1.0zM32.3 43.3h1.0v1.0h-1.0zM33.6 42.4h1.0v1.0h-1.0zM41.7 43.1h1.0v1.0h-1.0zM14.2 48.2h1.0v1.0h-1.0zM10.8 48.1h1.0v1.0h-1.0zM8.7 45.5h1.0v1.0h-1.0zM8.5 43.2h1.0v1.0h-1.0zM5.4 41.0h1.0v1.0h-1.0zM5.8 38.8h1.0v1.0h-1.0zM4.6 36.9h1.0v1.0h-1.0zM6.0 36.3h1.0v1.0h-1.0zM6.1 33.1h1.0v1.0h-1.0zM7.3 30.1h1.0v1.0h-1.0zM6.9 26.9h1.0v1.0h-1.0zM7.0 30.2h1.0v1.0h-1.0zM7.2 26.2h1.0v1.0h-1.0zM3.6 24.1h1.0v1.0h-1.0zM7.1 22.2h1.0v1.0h-1.0zM7.3 23.4h1.0v1.0h-1.0zM9.7 19.3h1.0v1.0h-1.0zM9.4 16.8h1.0v1.0h-1.0zM10.1 13.6h1.0v1.0h-1.0zM10.9 12.1h1.0v1.0h-1.0zM12.1 7.1h1.0v1.0h-1.0zM15.3 10.2h1.0v1.0h-1.0zM13.8 5.2h1.0v1.0h-1.0zM16.8 6.4h1.0v1.0h-1.0zM18.8 5.6h1.0v1.0h-1.0zM17.3 1.5h1.0v1.0h-1.0zM22.2 6.2h1.0v1.0h-1.0zM24.1 4.8h1.0v1.0h-1.0zM24.6 5.3h1.0v1.0h-1.0zM29.5 2.6h1.0v1.0h-1.0zM29.8 3.6h1.0v1.0h-1.0zM33.1 -0.6h1.0v1.0h-1.0zM31.0 6.4h1.0v1.0h-1.0zM34.3 7.0h1.0v1.0h-1.0zM37.4 6.0h1.0v1.0h-1.0zM39.3 8.4h1.0v1.0h-1.0zM40.3 8.8h1.0v1.0h-1.0zM43.2 10.3h1.0v1.0h-1.0zM44.6 14.1h1.0v1.0h-1.0zM45.9 17.4h1.0v1.0h-1.0zM45.2 20.1h1.0v1.0h-1.0zM47.8 19.1h1.0v1.0h-1.0zM45.3 21.8h1.0v1.0h-1.0zM46.9 25.9h1.0v1.0h-1.0zM46.2 27.3h1.0v1.0h-1.0zM47.8 27.7h1.0v1.0h-1.0zM45.3 27.9h1.0v1.0h-1.0z" fill="url(#mix)"/><path d="M46.2 46.6h1.0v1.0h-1.0zM46.5 48.2h1.0v1.0h-1.0zM47.2 55.8h1.0v1.0h-1.0zM46.7 59.4h1.0v1.0h-1.0zM42.0 63.0h1.0v1.0h-1.0zM35.9 65.8h1.0v1.0h-1.0zM32.7 65.3h1.0v1.0h-1.0zM26.3 68.0h1.0v1.0h-1.0zM25.7 68.5h1.0v1.0h-1.0zM20.8 69.0h1.0v1.0h-1.0zM17.3 69.6h1.0v1.0h-1.0zM16.9 66.6h1.0v1.0h-1.0zM14.6 63.9h1.0v1.0h-1.0zM14.1 60.7h1.0v1.0h-1.0zM13.6 58.6h1.0v1.0h-1.0zM13.5 54.8h1.0v1.0h-1.0zM11.0 54.6h1.0v1.0h-1.0zM11.8 52.2h1.0v1.0h-1.0zM10.5 51.1h1.0v1.0h-1.0zM11.8 48.5h1.0v1.0h-1.0zM11.7 44.1h1.0v1.0h-1.0zM14.1 43.7h1.0v1.0h-1.0zM16.0 42.0h1.0v1.0h-1.0zM18.2 39.7h1.0v1.0h-1.0zM22.4 40.1h1.0v1.0h-1.0zM23.8 40.1h1.0v1.0h-1.0zM29.0 35.2h1.0v1.0h-1.0zM30.7 32.8h1.0v1.0h-1.0zM36.4 35.4h1.0v1.0h-1.0zM37.3 37.5h1.0v1.0h-1.0zM38.8 38.2h1.0v1.0h-1.0zM40.9 40.2h1.0v1.0h-1.0zM41.9 40.2h1.0v1.0h-1.0zM44.9 40.3h1.0v1.0h-1.0zM44.8 41.9h1.0v1.0h-1.0z" fill="#684387"/></g>
<path d="M651.87,246.70V319.40H711.17" fill="none" stroke="#1c1c1c" stroke-width="1.25"/>
<text x="58.95" y="332.20" font-size="11" text-anchor="middle" fill="#0a0a0a" class="t">29.925</text>
<g transform="translate(21.60,333.50)"><g filter="url(#rough)"><polygon points="48.8,26.7 48.7,30.0 48.3,32.4 47.6,34.3 46.7,36.1 45.5,37.6 44.1,38.9 42.4,40.1 40.4,41.0 39.5,41.3 17.7,41.3 16.7,41.0 14.8,40.1 13.1,38.9 11.7,37.6 10.5,36.1 9.6,34.3 8.9,32.4 8.5,30.0 8.4,26.7 8.5,23.4 8.9,21.1 9.6,19.1 10.5,17.4 11.7,15.8 13.1,14.5 14.8,13.4 16.7,12.4 18.9,11.7 21.4,11.2 24.4,10.9 28.6,10.8 32.8,10.9 35.7,11.2 38.2,11.7 40.4,12.4 42.4,13.4 44.1,14.5 45.5,15.8 46.7,17.4 47.6,19.1 48.3,21.1 48.7,23.4" fill="url(#mix)"/><polygon points="46.9,50.4 46.7,53.1 46.4,54.9 45.8,56.5 44.9,57.9 43.9,59.1 42.6,60.1 41.1,61.0 39.3,61.8 37.3,62.3 35.0,62.7 32.4,63.0 28.6,63.1 24.8,63.0 22.1,62.7 19.9,62.3 17.9,61.8 16.1,61.0 14.6,60.1 13.3,59.1 12.2,57.9 11.4,56.5 10.8,54.9 10.4,53.1 10.3,50.4 10.4,47.8 10.8,46.0 11.4,44.4 12.2,43.0 13.3,41.8 14.6,40.8 16.1,39.9 17.9,39.1 19.9,38.5 22.1,38.1 24.8,37.9 28.6,37.8 32.4,37.9 35.0,38.1 37.3,38.5 39.3,39.1 41.1,39.9 42.6,40.8 43.9,41.8 44.9,43.0 45.8,44.4 46.4,46.0 46.7,47.8" fill="#684387"/></g><path d="M55.5 29.3h1.0v1.0h-1.0zM53.0 33.0h1.0v1.0h-1.0zM54.8 35.9h1.0v1.0h-1.0zM49.8 37.6h1.0v1.0h-1.0zM49.4 39.5h1.0v1.0h-1.0zM46.0 38.6h1.0v1.0h-1.0zM47.0 43.7h1.0v1.0h-1.0zM44.0 46.6h1.0v1.0h-1.0zM40.7 45.9h1.0v1.0h-1.0zM25.2 46.5h1.0v1.0h-1.0zM22.4 43.8h1.0v1.0h-1.0zM38.3 43.5h1.0v1.0h-1.0zM22.1 43.1h1.0v1.0h-1.0zM24.4 42.6h1.0v1.0h-1.0zM20.3 47.6h1.0v1.0h-1.0zM27.9 46.0h1.0v1.0h-1.0zM19.3 44.8h1.0v1.0h-1.0zM29.7 43.7h1.0v1.0h-1.0zM23.8 43.4h1.0v1.0h-1.0zM29.1 47.7h1.0v1.0h-1.0zM34.4 43.1h1.0v1.0h-1.0zM16.5 44.4h1.0v1.0h-1.0zM13.6 42.9h1.0v1.0h-1.0zM11.6 42.7h1.0v1.0h-1.0zM9.5 42.3h1.0v1.0h-1.0zM8.8 38.0h1.0v1.0h-1.0zM5.7 38.6h1.0v1.0h-1.0zM5.5 33.5h1.0v1.0h-1.0zM5.7 32.1h1.0v1.0h-1.0zM1.7 28.1h1.0v1.0h-1.0zM0.4 24.3h1.0v1.0h-1.0zM5.6 22.3h1.0v1.0h-1.0zM4.3 18.3h1.0v1.0h-1.0zM8.0 16.5h1.0v1.0h-1.0zM8.2 15.0h1.0v1.0h-1.0zM9.5 13.5h1.0v1.0h-1.0zM10.8 10.5h1.0v1.0h-1.0zM14.5 9.5h1.0v1.0h-1.0zM16.5 9.5h1.0v1.0h-1.0zM19.2 8.7h1.0v1.0h-1.0zM17.6 5.5h1.0v1.0h-1.0zM21.6 6.1h1.0v1.0h-1.0zM23.5 7.5h1.0v1.0h-1.0zM27.6 8.2h1.0v1.0h-1.0zM25.8 8.4h1.0v1.0h-1.0zM27.9 5.6h1.0v1.0h-1.0zM32.3 5.1h1.0v1.0h-1.0zM31.9 7.2h1.0v1.0h-1.0zM35.6 9.4h1.0v1.0h-1.0zM34.8 7.7h1.0v1.0h-1.0zM37.8 6.2h1.0v1.0h-1.0zM40.0 10.7h1.0v1.0h-1.0zM43.0 9.9h1.0v1.0h-1.0zM45.4 12.2h1.0v1.0h-1.0zM46.1 11.4h1.0v1.0h-1.0zM46.1 12.3h1.0v1.0h-1.0zM48.5 15.0h1.0v1.0h-1.0zM49.3 17.0h1.0v1.0h-1.0zM56.7 18.5h1.0v1.0h-1.0zM51.3 20.2h1.0v1.0h-1.0zM56.6 21.1h1.0v1.0h-1.0zM51.1 25.7h1.0v1.0h-1.0zM50.4 23.7h1.0v1.0h-1.0z" fill="url(#mix)"/><path d="M51.2 50.9h1.0v1.0h-1.0zM50.6 55.1h1.0v1.0h-1.0zM48.7 55.9h1.0v1.0h-1.0zM47.5 58.9h1.0v1.0h-1.0zM49.0 60.9h1.0v1.0h-1.0zM44.3 61.2h1.0v1.0h-1.0zM39.5 70.8h1.0v1.0h-1.0zM37.0 66.5h1.0v1.0h-1.0zM35.5 66.3h1.0v1.0h-1.0zM29.8 65.2h1.0v1.0h-1.0zM33.2 74.7h1.0v1.0h-1.0zM25.6 64.8h1.0v1.0h-1.0zM21.9 68.8h1.0v1.0h-1.0zM19.9 65.6h1.0v1.0h-1.0zM19.9 63.2h1.0v1.0h-1.0zM12.4 65.7h1.0v1.0h-1.0zM10.1 59.8h1.0v1.0h-1.0zM9.0 55.9h1.0v1.0h-1.0zM4.7 55.9h1.0v1.0h-1.0zM8.1 51.2h1.0v1.0h-1.0zM6.9 45.7h1.0v1.0h-1.0zM6.8 43.6h1.0v1.0h-1.0zM14.2 35.6h1.0v1.0h-1.0zM20.8 31.3h1.0v1.0h-1.0zM24.5 35.3h1.0v1.0h-1.0zM27.3 34.0h1.0v1.0h-1.0zM31.9 34.7h1.0v1.0h-1.0zM35.2 36.6h1.0v1.0h-1.0zM40.0 33.3h1.0v1.0h-1.0zM40.1 37.3h1.0v1.0h-1.0zM44.1 39.3h1.0v1.0h-1.0zM48.7 44.0h1.0v1.0h-1.0zM49.3 49.8h1.0v1.0h-1.0z" fill="#684387"/></g>
<path d="M21.60,333.50V406.60H80.90" fill="none" stroke="#1c1c1c" stroke-width="1.25"/>
<text x="128.94" y="332.20" font-size="11" text-anchor="middle" fill="#0a0a0a" class="t">29.925</text>
<g transform="translate(91.63,333.50)"><g filter="url(#rough)"><polygon points="48.2,25.7 48.1,29.2 47.8,31.6 47.2,33.6 46.4,35.4 45.4,37.0 44.2,38.4 42.7,39.6 41.1,40.5 40.6,40.7 21.2,40.7 20.8,40.5 19.1,39.6 17.7,38.4 16.4,37.0 15.4,35.4 14.6,33.6 14.1,31.6 13.7,29.2 13.6,25.7 13.7,22.3 14.1,19.9 14.6,17.8 15.4,16.0 16.4,14.5 17.7,13.1 19.1,11.9 20.8,10.9 22.7,10.2 24.8,9.7 27.3,9.3 30.9,9.2 34.5,9.3 37.0,9.7 39.2,10.2 41.1,10.9 42.7,11.9 44.2,13.1 45.4,14.5 46.4,16.0 47.2,17.8 47.8,19.9 48.1,22.3" fill="url(#mix)"/><polygon points="44.9,51.0 44.8,53.6 44.5,55.4 44.0,56.9 43.3,58.2 42.4,59.4 41.3,60.4 40.0,61.3 38.6,62.0 36.9,62.5 35.0,62.9 32.8,63.2 29.6,63.3 26.3,63.2 24.1,62.9 22.2,62.5 20.5,62.0 19.1,61.3 17.8,60.4 16.7,59.4 15.8,58.2 15.1,56.9 14.6,55.4 14.3,53.6 14.2,51.0 14.3,48.5 14.6,46.7 15.1,45.2 15.8,43.8 16.7,42.7 17.8,41.6 19.1,40.8 20.5,40.1 22.2,39.5 24.1,39.1 26.3,38.9 29.6,38.8 32.8,38.9 35.0,39.1 36.9,39.5 38.6,40.1 40.0,40.8 41.3,41.6 42.4,42.7 43.3,43.8 44.0,45.2 44.5,46.7 44.8,48.5" fill="#684387"/></g><path d="M50.9 27.7h1.0v1.0h-1.0zM50.3 27.4h1.0v1.0h-1.0zM54.9 30.1h1.0v1.0h-1.0zM49.7 31.3h1.0v1.0h-1.0zM51.9 34.8h1.0v1.0h-1.0zM48.9 33.9h1.0v1.0h-1.0zM54.9 37.6h1.0v1.0h-1.0zM49.3 39.8h1.0v1.0h-1.0zM49.5 40.2h1.0v1.0h-1.0zM46.0 40.1h1.0v1.0h-1.0zM43.8 41.3h1.0v1.0h-1.0zM33.6 47.3h1.0v1.0h-1.0zM26.9 42.6h1.0v1.0h-1.0zM22.1 45.5h1.0v1.0h-1.0zM32.2 46.1h1.0v1.0h-1.0zM36.2 43.8h1.0v1.0h-1.0zM25.6 46.3h1.0v1.0h-1.0zM29.3 44.7h1.0v1.0h-1.0zM30.3 45.7h1.0v1.0h-1.0zM33.6 45.3h1.0v1.0h-1.0zM34.7 46.0h1.0v1.0h-1.0zM28.0 44.5h1.0v1.0h-1.0zM18.1 43.9h1.0v1.0h-1.0zM17.2 40.3h1.0v1.0h-1.0zM14.9 38.7h1.0v1.0h-1.0zM13.7 36.5h1.0v1.0h-1.0zM13.0 35.6h1.0v1.0h-1.0zM12.7 32.2h1.0v1.0h-1.0zM9.8 29.5h1.0v1.0h-1.0zM11.4 27.6h1.0v1.0h-1.0zM10.8 27.8h1.0v1.0h-1.0zM9.1 24.9h1.0v1.0h-1.0zM11.2 24.7h1.0v1.0h-1.0zM8.2 20.7h1.0v1.0h-1.0zM9.3 17.3h1.0v1.0h-1.0zM13.9 17.5h1.0v1.0h-1.0zM9.0 15.0h1.0v1.0h-1.0zM11.6 13.5h1.0v1.0h-1.0zM12.3 9.5h1.0v1.0h-1.0zM16.2 9.8h1.0v1.0h-1.0zM17.7 9.2h1.0v1.0h-1.0zM20.2 6.6h1.0v1.0h-1.0zM22.8 7.6h1.0v1.0h-1.0zM26.5 7.5h1.0v1.0h-1.0zM29.2 5.8h1.0v1.0h-1.0zM30.2 7.6h1.0v1.0h-1.0zM31.8 5.3h1.0v1.0h-1.0zM32.9 6.8h1.0v1.0h-1.0zM35.0 6.1h1.0v1.0h-1.0zM35.7 6.7h1.0v1.0h-1.0zM37.5 8.2h1.0v1.0h-1.0zM39.8 3.7h1.0v1.0h-1.0zM41.7 7.6h1.0v1.0h-1.0zM44.6 6.3h1.0v1.0h-1.0zM45.0 9.4h1.0v1.0h-1.0zM46.7 13.5h1.0v1.0h-1.0zM49.4 13.5h1.0v1.0h-1.0zM49.2 14.9h1.0v1.0h-1.0zM53.7 16.8h1.0v1.0h-1.0zM54.2 21.3h1.0v1.0h-1.0zM49.9 23.3h1.0v1.0h-1.0zM51.0 23.3h1.0v1.0h-1.0z" fill="url(#mix)"/><path d="M48.7 52.9h1.0v1.0h-1.0zM45.7 58.8h1.0v1.0h-1.0zM46.3 61.2h1.0v1.0h-1.0zM47.6 65.4h1.0v1.0h-1.0zM41.8 62.3h1.0v1.0h-1.0zM39.0 66.7h1.0v1.0h-1.0zM35.3 69.4h1.0v1.0h-1.0zM29.3 65.5h1.0v1.0h-1.0zM26.9 68.8h1.0v1.0h-1.0zM24.6 65.1h1.0v1.0h-1.0zM20.1 64.0h1.0v1.0h-1.0zM18.6 64.0h1.0v1.0h-1.0zM16.2 62.7h1.0v1.0h-1.0zM12.8 63.8h1.0v1.0h-1.0zM10.7 42.9h1.0v1.0h-1.0zM16.7 38.7h1.0v1.0h-1.0zM22.6 37.4h1.0v1.0h-1.0zM27.8 34.7h1.0v1.0h-1.0zM29.9 33.9h1.0v1.0h-1.0zM32.7 35.9h1.0v1.0h-1.0zM40.2 34.0h1.0v1.0h-1.0zM44.1 42.3h1.0v1.0h-1.0zM49.5 44.9h1.0v1.0h-1.0zM50.1 49.3h1.0v1.0h-1.0z" fill="#684387"/></g>
<path d="M91.63,333.50V406.60H150.93" fill="none" stroke="#1c1c1c" stroke-width="1.25"/>
<text x="198.93" y="332.20" font-size="11" text-anchor="middle" fill="#0a0a0a" class="t">29.925</text>
<g transform="translate(161.66,333.50)"><g filter="url(#rough)"><polygon points="48.5,34.5 48.4,39.0 48.1,42.1 47.7,44.7 47.0,47.0 46.2,49.1 45.1,50.9 43.9,52.4 42.5,53.6 40.9,54.6 39.1,55.3 37.0,55.7 34.0,55.9 30.9,55.7 28.8,55.3 27.0,54.6 25.4,53.6 24.0,52.4 22.8,50.9 21.7,49.1 21.1,47.6 21.1,21.4 21.7,19.9 22.8,18.1 24.0,16.6 25.4,15.3 27.0,14.4 28.8,13.7 30.9,13.2 33.9,13.1 37.0,13.2 39.1,13.7 40.9,14.4 42.5,15.3 43.9,16.6 45.1,18.1 46.2,19.9 47.0,21.9 47.7,24.3 48.1,26.9 48.4,30.0" fill="url(#mix)"/><polygon points="21.5,36.8 21.5,41.1 21.3,44.0 21.1,46.6 20.7,48.8 20.3,50.8 19.7,52.5 19.1,53.9 18.4,55.1 17.5,56.0 16.6,56.7 15.5,57.1 13.9,57.2 12.3,57.1 11.2,56.7 10.3,56.0 9.5,55.1 8.7,53.9 8.1,52.5 7.6,50.8 7.1,48.8 6.8,46.6 6.5,44.0 6.4,41.1 6.3,36.8 6.4,32.6 6.5,29.6 6.8,27.1 7.1,24.8 7.6,22.9 8.1,21.2 8.7,19.7 9.5,18.5 10.3,17.6 11.2,16.9 12.3,16.5 13.9,16.4 15.5,16.5 16.6,16.9 17.5,17.6 18.4,18.5 19.1,19.7 19.7,21.2 20.3,22.9 20.7,24.8 21.1,27.1 21.3,29.6 21.5,32.6" fill="#684387"/></g><path d="M50.9 37.0h1.0v1.0h-1.0zM53.5 36.7h1.0v1.0h-1.0zM58.3 41.6h1.0v1.0h-1.0zM53.0 42.2h1.0v1.0h-1.0zM50.0 42.4h1.0v1.0h-1.0zM50.2 45.6h1.0v1.0h-1.0zM48.7 47.0h1.0v1.0h-1.0zM49.0 49.2h1.0v1.0h-1.0zM51.5 52.8h1.0v1.0h-1.0zM47.7 54.5h1.0v1.0h-1.0zM45.3 54.8h1.0v1.0h-1.0zM44.3 57.8h1.0v1.0h-1.0zM41.9 59.3h1.0v1.0h-1.0zM38.8 56.9h1.0v1.0h-1.0zM35.4 58.0h1.0v1.0h-1.0zM30.9 60.4h1.0v1.0h-1.0zM28.9 59.9h1.0v1.0h-1.0zM25.9 60.9h1.0v1.0h-1.0zM24.9 55.6h1.0v1.0h-1.0zM23.5 55.7h1.0v1.0h-1.0zM17.6 54.2h1.0v1.0h-1.0zM20.4 50.3h1.0v1.0h-1.0zM17.6 49.4h1.0v1.0h-1.0zM19.4 24.9h1.0v1.0h-1.0zM17.3 39.7h1.0v1.0h-1.0zM13.8 33.8h1.0v1.0h-1.0zM19.3 44.6h1.0v1.0h-1.0zM15.2 37.0h1.0v1.0h-1.0zM17.4 38.8h1.0v1.0h-1.0zM18.6 30.8h1.0v1.0h-1.0zM16.4 40.1h1.0v1.0h-1.0zM17.2 40.6h1.0v1.0h-1.0zM16.3 41.2h1.0v1.0h-1.0zM19.8 44.9h1.0v1.0h-1.0zM18.3 36.9h1.0v1.0h-1.0zM18.8 24.8h1.0v1.0h-1.0zM18.8 38.1h1.0v1.0h-1.0zM18.8 20.3h1.0v1.0h-1.0zM19.1 16.5h1.0v1.0h-1.0zM20.8 14.7h1.0v1.0h-1.0zM22.0 14.8h1.0v1.0h-1.0zM22.9 14.6h1.0v1.0h-1.0zM24.3 11.2h1.0v1.0h-1.0zM25.6 8.9h1.0v1.0h-1.0zM28.3 8.1h1.0v1.0h-1.0zM33.3 9.9h1.0v1.0h-1.0zM30.8 9.5h1.0v1.0h-1.0zM35.6 11.4h1.0v1.0h-1.0zM36.1 6.3h1.0v1.0h-1.0zM37.8 9.0h1.0v1.0h-1.0zM41.6 11.7h1.0v1.0h-1.0zM41.4 11.3h1.0v1.0h-1.0zM44.1 12.9h1.0v1.0h-1.0zM45.2 13.6h1.0v1.0h-1.0zM45.4 14.8h1.0v1.0h-1.0zM47.1 16.1h1.0v1.0h-1.0zM50.0 18.2h1.0v1.0h-1.0zM50.5 20.6h1.0v1.0h-1.0zM51.0 21.9h1.0v1.0h-1.0zM51.0 25.5h1.0v1.0h-1.0zM52.7 24.9h1.0v1.0h-1.0zM50.7 29.7h1.0v1.0h-1.0zM51.8 27.3h1.0v1.0h-1.0zM52.3 32.8h1.0v1.0h-1.0zM52.2 31.7h1.0v1.0h-1.0z" fill="url(#mix)"/><path d="M27.0 36.8h1.0v1.0h-1.0zM24.6 41.4h1.0v1.0h-1.0zM27.2 45.4h1.0v1.0h-1.0zM25.0 48.4h1.0v1.0h-1.0zM24.4 49.7h1.0v1.0h-1.0zM23.8 55.5h1.0v1.0h-1.0zM20.3 56.2h1.0v1.0h-1.0zM8.9 57.6h1.0v1.0h-1.0zM6.5 58.7h1.0v1.0h-1.0zM6.2 55.8h1.0v1.0h-1.0zM4.5 52.3h1.0v1.0h-1.0zM2.4 51.8h1.0v1.0h-1.0zM4.2 48.2h1.0v1.0h-1.0zM2.2 48.0h1.0v1.0h-1.0zM4.5 42.7h1.0v1.0h-1.0zM5.0 39.8h1.0v1.0h-1.0zM1.1 33.5h1.0v1.0h-1.0zM4.3 31.1h1.0v1.0h-1.0zM-0.7 27.8h1.0v1.0h-1.0zM2.3 15.0h1.0v1.0h-1.0zM8.9 17.0h1.0v1.0h-1.0zM11.6 14.1h1.0v1.0h-1.0zM14.9 15.0h1.0v1.0h-1.0zM16.7 14.2h1.0v1.0h-1.0zM20.0 13.1h1.0v1.0h-1.0zM21.6 18.7h1.0v1.0h-1.0zM24.0 20.7h1.0v1.0h-1.0zM26.8 24.8h1.0v1.0h-1.0zM23.2 29.1h1.0v1.0h-1.0zM25.9 31.0h1.0v1.0h-1.0zM22.9 34.5h1.0v1.0h-1.0z" fill="#684387"/></g>
<path d="M161.66,333.50V406.60H220.96" fill="none" stroke="#1c1c1c" stroke-width="1.25"/>
<text x="268.92" y="332.20" font-size="11" text-anchor="middle" fill="#0a0a0a" class="t">29.925</text>
<g transform="translate(231.69,333.50)"><g filter="url(#rough)"><polygon points="41.3,29.6 41.2,33.9 40.9,36.6 40.5,38.8 39.8,40.8 39.3,41.7 17.6,46.6 16.6,46.1 15.2,45.1 13.9,43.9 12.9,42.5 12.1,40.8 11.4,38.8 11.0,36.6 10.7,33.9 10.6,29.6 11.7,25.4 12.6,22.7 13.5,20.4 14.5,18.5 15.6,16.8 16.7,15.4 17.8,14.1 19.0,13.1 20.3,12.4 21.7,11.8 23.4,11.5 25.9,11.4 28.5,11.5 30.1,11.8 31.5,12.4 32.8,13.1 34.1,14.1 35.2,15.4 36.3,16.8 37.3,18.5 38.3,20.4 39.3,22.7 40.2,25.4" fill="url(#mix)"/><polygon points="52.9,51.8 53.1,53.8 52.8,55.2 52.3,56.5 51.4,57.7 50.2,58.7 48.8,59.8 47.0,60.7 45.0,61.5 42.6,62.3 39.9,63.0 36.7,63.6 32.1,64.3 27.5,64.9 24.3,65.2 21.5,65.3 19.0,65.2 16.8,64.9 14.9,64.5 13.2,64.0 11.8,63.2 10.6,62.3 9.7,61.3 9.1,60.0 8.7,58.0 8.5,56.0 8.8,54.6 9.3,53.3 10.2,52.2 11.4,51.1 12.8,50.1 14.6,49.1 16.6,48.3 19.0,47.5 21.7,46.8 24.9,46.2 29.5,45.5 34.1,44.9 37.3,44.6 40.1,44.5 42.6,44.6 44.8,44.9 46.7,45.3 48.4,45.9 49.8,46.6 51.0,47.5 51.9,48.5 52.5,49.8" fill="#684387"/></g><path d="M46.4 34.2h1.0v1.0h-1.0zM43.7 33.6h1.0v1.0h-1.0zM44.4 36.1h1.0v1.0h-1.0zM43.3 36.7h1.0v1.0h-1.0zM45.3 37.9h1.0v1.0h-1.0zM42.3 41.0h1.0v1.0h-1.0zM41.5 41.9h1.0v1.0h-1.0zM21.8 51.9h1.0v1.0h-1.0zM35.8 45.5h1.0v1.0h-1.0zM34.5 44.1h1.0v1.0h-1.0zM32.3 48.3h1.0v1.0h-1.0zM34.2 49.5h1.0v1.0h-1.0zM36.9 44.9h1.0v1.0h-1.0zM25.9 49.7h1.0v1.0h-1.0zM38.2 49.4h1.0v1.0h-1.0zM21.5 50.1h1.0v1.0h-1.0zM25.2 48.6h1.0v1.0h-1.0zM34.9 47.9h1.0v1.0h-1.0zM25.7 46.5h1.0v1.0h-1.0zM13.5 51.5h1.0v1.0h-1.0zM13.7 49.0h1.0v1.0h-1.0zM11.2 46.0h1.0v1.0h-1.0zM9.1 45.3h1.0v1.0h-1.0zM8.6 42.6h1.0v1.0h-1.0zM10.6 41.5h1.0v1.0h-1.0zM7.5 38.5h1.0v1.0h-1.0zM6.0 36.1h1.0v1.0h-1.0zM6.2 31.4h1.0v1.0h-1.0zM6.9 33.0h1.0v1.0h-1.0zM8.9 25.7h1.0v1.0h-1.0zM3.1 27.2h1.0v1.0h-1.0zM8.8 22.4h1.0v1.0h-1.0zM10.5 20.3h1.0v1.0h-1.0zM9.8 19.0h1.0v1.0h-1.0zM11.9 17.7h1.0v1.0h-1.0zM13.4 17.2h1.0v1.0h-1.0zM14.5 15.5h1.0v1.0h-1.0zM15.5 13.7h1.0v1.0h-1.0zM15.8 11.3h1.0v1.0h-1.0zM17.7 8.3h1.0v1.0h-1.0zM19.2 8.9h1.0v1.0h-1.0zM20.9 7.8h1.0v1.0h-1.0zM25.5 9.7h1.0v1.0h-1.0zM27.4 9.2h1.0v1.0h-1.0zM30.2 9.1h1.0v1.0h-1.0zM34.8 9.8h1.0v1.0h-1.0zM34.6 11.3h1.0v1.0h-1.0zM38.0 11.2h1.0v1.0h-1.0zM38.2 14.7h1.0v1.0h-1.0zM37.6 15.2h1.0v1.0h-1.0zM42.3 17.2h1.0v1.0h-1.0zM43.4 19.2h1.0v1.0h-1.0zM40.7 18.9h1.0v1.0h-1.0zM42.6 23.2h1.0v1.0h-1.0zM46.0 27.5h1.0v1.0h-1.0zM43.1 28.5h1.0v1.0h-1.0z" fill="url(#mix)"/><path d="M55.1 52.9h1.0v1.0h-1.0zM55.6 57.1h1.0v1.0h-1.0zM52.4 58.4h1.0v1.0h-1.0zM55.5 63.3h1.0v1.0h-1.0zM49.3 63.1h1.0v1.0h-1.0zM48.8 66.2h1.0v1.0h-1.0zM44.3 67.2h1.0v1.0h-1.0zM43.0 64.8h1.0v1.0h-1.0zM39.0 64.7h1.0v1.0h-1.0zM36.5 66.3h1.0v1.0h-1.0zM34.6 68.4h1.0v1.0h-1.0zM31.5 68.1h1.0v1.0h-1.0zM30.4 67.5h1.0v1.0h-1.0zM25.7 68.1h1.0v1.0h-1.0zM26.3 70.7h1.0v1.0h-1.0zM23.0 68.0h1.0v1.0h-1.0zM20.4 71.3h1.0v1.0h-1.0zM16.7 70.0h1.0v1.0h-1.0zM15.0 67.5h1.0v1.0h-1.0zM13.5 68.8h1.0v1.0h-1.0zM10.0 65.9h1.0v1.0h-1.0zM9.0 63.4h1.0v1.0h-1.0zM5.4 62.7h1.0v1.0h-1.0zM7.2 56.6h1.0v1.0h-1.0zM5.5 54.4h1.0v1.0h-1.0zM6.5 49.3h1.0v1.0h-1.0zM9.7 48.7h1.0v1.0h-1.0zM11.7 47.0h1.0v1.0h-1.0zM13.9 47.0h1.0v1.0h-1.0zM17.1 44.7h1.0v1.0h-1.0zM18.3 44.8h1.0v1.0h-1.0zM22.2 45.2h1.0v1.0h-1.0zM26.8 40.6h1.0v1.0h-1.0zM24.8 40.5h1.0v1.0h-1.0zM29.6 41.2h1.0v1.0h-1.0zM35.3 40.1h1.0v1.0h-1.0zM39.7 41.7h1.0v1.0h-1.0zM42.5 38.5h1.0v1.0h-1.0zM43.6 39.9h1.0v1.0h-1.0zM46.3 43.6h1.0v1.0h-1.0zM47.6 42.2h1.0v1.0h-1.0zM55.1 41.0h1.0v1.0h-1.0zM58.3 44.9h1.0v1.0h-1.0zM55.9 50.1h1.0v1.0h-1.0z" fill="#684387"/></g>
<path d="M231.69,333.50V406.60H290.99" fill="none" stroke="#1c1c1c" stroke-width="1.25"/>
<text x="338.91" y="332.20" font-size="11" text-anchor="middle" fill="#0a0a0a" class="t">29.925</text>
<g transform="translate(301.72,333.50)"><g filter="url(#rough)"><polygon points="51.1,33.0 52.1,36.9 52.6,39.7 52.8,42.1 52.7,44.4 52.5,46.4 52.0,48.2 51.2,49.8 50.3,51.2 49.1,52.5 47.7,53.5 45.9,54.4 43.2,55.2 40.5,55.8 38.5,56.0 36.7,55.8 35.1,55.3 33.5,54.5 32.1,53.5 30.8,52.2 29.5,50.6 28.4,48.7 27.3,46.5 26.3,43.8 25.2,39.9 25.0,39.1 25.6,22.3 26.1,21.7 27.2,20.4 28.7,19.4 30.5,18.5 33.1,17.7 35.9,17.1 37.9,16.9 39.6,17.1 41.3,17.6 42.8,18.4 44.2,19.4 45.6,20.7 46.8,22.3 48.0,24.2 49.0,26.4 50.0,29.1" fill="url(#mix)"/><polygon points="25.6,28.2 26.6,32.1 27.1,34.9 27.5,37.3 27.6,39.4 27.6,41.3 27.4,43.0 27.0,44.6 26.4,45.9 25.7,47.0 24.8,47.9 23.6,48.6 21.8,49.2 19.9,49.6 18.5,49.5 17.3,49.2 16.1,48.6 14.9,47.8 13.8,46.7 12.8,45.3 11.8,43.6 10.9,41.7 9.9,39.5 9.1,36.8 8.0,33.0 7.0,29.1 6.4,26.3 6.1,23.9 6.0,21.8 6.0,19.9 6.2,18.2 6.6,16.7 7.1,15.3 7.9,14.2 8.8,13.3 10.0,12.6 11.8,12.0 13.7,11.6 15.1,11.7 16.3,12.0 17.5,12.6 18.6,13.4 19.7,14.6 20.8,15.9 21.8,17.6 22.7,19.5 23.6,21.7 24.5,24.4" fill="#684387"/></g><path d="M55.2 32.4h1.0v1.0h-1.0zM53.7 32.9h1.0v1.0h-1.0zM52.9 34.0h1.0v1.0h-1.0zM58.2 38.8h1.0v1.0h-1.0zM56.0 37.4h1.0v1.0h-1.0zM55.6 40.5h1.0v1.0h-1.0zM61.5 39.8h1.0v1.0h-1.0zM55.2 42.9h1.0v1.0h-1.0zM56.2 42.9h1.0v1.0h-1.0zM55.8 45.2h1.0v1.0h-1.0zM54.6 47.7h1.0v1.0h-1.0zM53.9 49.3h1.0v1.0h-1.0zM55.6 53.7h1.0v1.0h-1.0zM53.1 56.5h1.0v1.0h-1.0zM49.2 54.7h1.0v1.0h-1.0zM48.3 55.7h1.0v1.0h-1.0zM46.7 56.3h1.0v1.0h-1.0zM46.0 57.9h1.0v1.0h-1.0zM42.8 59.4h1.0v1.0h-1.0zM40.3 59.4h1.0v1.0h-1.0zM36.5 60.4h1.0v1.0h-1.0zM34.8 60.4h1.0v1.0h-1.0zM32.5 57.9h1.0v1.0h-1.0zM29.9 59.7h1.0v1.0h-1.0zM29.4 53.4h1.0v1.0h-1.0zM24.0 55.5h1.0v1.0h-1.0zM25.5 51.4h1.0v1.0h-1.0zM24.9 49.5h1.0v1.0h-1.0zM25.0 45.2h1.0v1.0h-1.0zM21.2 45.3h1.0v1.0h-1.0zM18.5 42.3h1.0v1.0h-1.0zM18.8 33.0h1.0v1.0h-1.0zM24.1 33.0h1.0v1.0h-1.0zM22.4 22.5h1.0v1.0h-1.0zM21.3 33.8h1.0v1.0h-1.0zM18.4 27.5h1.0v1.0h-1.0zM22.5 30.7h1.0v1.0h-1.0zM19.3 32.3h1.0v1.0h-1.0zM22.3 35.5h1.0v1.0h-1.0zM23.6 38.2h1.0v1.0h-1.0zM22.5 19.7h1.0v1.0h-1.0zM24.8 18.2h1.0v1.0h-1.0zM25.0 15.3h1.0v1.0h-1.0zM26.8 11.6h1.0v1.0h-1.0zM31.3 11.7h1.0v1.0h-1.0zM33.3 15.4h1.0v1.0h-1.0zM33.9 15.2h1.0v1.0h-1.0zM36.0 13.6h1.0v1.0h-1.0zM38.4 14.7h1.0v1.0h-1.0zM41.3 12.5h1.0v1.0h-1.0zM42.1 15.5h1.0v1.0h-1.0zM45.4 17.6h1.0v1.0h-1.0zM46.2 18.4h1.0v1.0h-1.0zM51.5 17.4h1.0v1.0h-1.0zM50.5 22.3h1.0v1.0h-1.0zM52.8 22.3h1.0v1.0h-1.0zM50.0 24.1h1.0v1.0h-1.0zM56.0 24.2h1.0v1.0h-1.0zM53.7 25.5h1.0v1.0h-1.0zM54.0 31.4h1.0v1.0h-1.0zM53.4 28.4h1.0v1.0h-1.0z" fill="url(#mix)"/><path d="M31.3 28.4h1.0v1.0h-1.0zM28.4 30.9h1.0v1.0h-1.0zM28.9 33.3h1.0v1.0h-1.0zM30.2 36.4h1.0v1.0h-1.0zM28.5 50.6h1.0v1.0h-1.0zM24.6 50.7h1.0v1.0h-1.0zM23.9 50.2h1.0v1.0h-1.0zM20.0 51.8h1.0v1.0h-1.0zM14.4 53.7h1.0v1.0h-1.0zM10.6 50.0h1.0v1.0h-1.0zM10.2 44.8h1.0v1.0h-1.0zM8.4 44.2h1.0v1.0h-1.0zM6.8 42.4h1.0v1.0h-1.0zM4.2 38.3h1.0v1.0h-1.0zM4.2 34.4h1.0v1.0h-1.0zM4.3 37.3h1.0v1.0h-1.0zM3.8 31.9h1.0v1.0h-1.0zM3.8 30.7h1.0v1.0h-1.0zM5.1 27.1h1.0v1.0h-1.0zM1.7 25.3h1.0v1.0h-1.0zM1.6 20.0h1.0v1.0h-1.0zM3.5 18.4h1.0v1.0h-1.0zM5.1 16.4h1.0v1.0h-1.0zM4.7 13.9h1.0v1.0h-1.0zM5.4 6.8h1.0v1.0h-1.0zM9.8 8.6h1.0v1.0h-1.0zM12.9 9.3h1.0v1.0h-1.0zM14.5 9.3h1.0v1.0h-1.0zM18.0 10.7h1.0v1.0h-1.0zM24.7 8.7h1.0v1.0h-1.0zM23.7 12.8h1.0v1.0h-1.0zM26.1 16.4h1.0v1.0h-1.0zM29.3 21.8h1.0v1.0h-1.0zM26.9 24.2h1.0v1.0h-1.0zM28.1 26.5h1.0v1.0h-1.0z" fill="#684387"/></g>
<path d="M301.72,333.50V406.60H361.02" fill="none" stroke="#1c1c1c" stroke-width="1.25"/>
<text x="408.90" y="332.20" font-size="11" text-anchor="middle" fill="#0a0a0a" class="t">29.926</text>
<g transform="translate(371.75,333.50)"><g filter="url(#rough)"><polygon points="44.7,32.2 44.7,33.0 21.2,51.1 20.0,50.9 17.7,50.3 15.7,49.4 14.0,48.3 12.5,46.9 11.2,45.3 10.1,43.5 9.3,41.4 8.7,39.0 8.3,36.2 8.2,32.2 8.3,28.1 8.7,25.4 9.3,23.0 10.1,20.9 11.2,19.0 12.5,17.4 14.0,16.1 15.7,14.9 17.7,14.0 20.0,13.4 22.6,13.0 26.5,12.9 30.3,13.0 32.9,13.4 35.2,14.0 37.2,14.9 38.9,16.1 40.5,17.4 41.8,19.0 42.8,20.9 43.7,23.0 44.3,25.4 44.6,28.1" fill="url(#mix)"/><polygon points="48.0,36.2 49.1,38.0 49.7,39.4 50.0,40.8 49.9,42.1 49.7,43.5 49.2,44.9 48.4,46.3 47.4,47.8 46.1,49.2 44.5,50.7 42.6,52.3 39.7,54.4 36.7,56.5 34.5,57.7 32.5,58.7 30.7,59.4 29.0,59.9 27.4,60.1 25.9,60.1 24.6,59.9 23.3,59.5 22.1,58.8 21.0,57.8 19.7,56.1 18.6,54.3 18.0,52.9 17.7,51.5 17.8,50.2 18.0,48.8 18.6,47.4 19.3,46.0 20.3,44.6 21.6,43.1 23.2,41.6 25.1,40.0 28.1,37.9 31.1,35.9 33.2,34.6 35.2,33.6 37.0,32.9 38.7,32.5 40.3,32.2 41.8,32.2 43.1,32.4 44.4,32.9 45.6,33.6 46.7,34.6" fill="#684387"/></g><path d="M50.0 33.1h1.0v1.0h-1.0zM46.2 36.6h1.0v1.0h-1.0zM37.7 47.6h1.0v1.0h-1.0zM22.6 52.0h1.0v1.0h-1.0zM33.7 47.8h1.0v1.0h-1.0zM30.2 55.0h1.0v1.0h-1.0zM33.2 45.8h1.0v1.0h-1.0zM33.6 44.8h1.0v1.0h-1.0zM31.8 47.9h1.0v1.0h-1.0zM46.2 39.4h1.0v1.0h-1.0zM44.4 37.9h1.0v1.0h-1.0zM22.1 52.6h1.0v1.0h-1.0zM25.8 51.4h1.0v1.0h-1.0zM28.1 48.8h1.0v1.0h-1.0zM27.8 52.5h1.0v1.0h-1.0zM43.3 38.9h1.0v1.0h-1.0zM29.8 48.8h1.0v1.0h-1.0zM17.9 55.9h1.0v1.0h-1.0zM16.7 52.2h1.0v1.0h-1.0zM15.4 52.1h1.0v1.0h-1.0zM13.2 51.2h1.0v1.0h-1.0zM10.2 51.5h1.0v1.0h-1.0zM6.8 50.0h1.0v1.0h-1.0zM7.2 47.2h1.0v1.0h-1.0zM8.8 43.3h1.0v1.0h-1.0zM7.1 40.8h1.0v1.0h-1.0zM5.8 36.9h1.0v1.0h-1.0zM6.6 34.6h1.0v1.0h-1.0zM6.8 34.8h1.0v1.0h-1.0zM3.6 30.4h1.0v1.0h-1.0zM6.6 29.5h1.0v1.0h-1.0zM3.5 30.8h1.0v1.0h-1.0zM6.8 26.3h1.0v1.0h-1.0zM1.4 24.2h1.0v1.0h-1.0zM1.2 21.5h1.0v1.0h-1.0zM8.1 21.4h1.0v1.0h-1.0zM5.4 21.4h1.0v1.0h-1.0zM9.5 18.2h1.0v1.0h-1.0zM9.0 16.2h1.0v1.0h-1.0zM7.4 11.6h1.0v1.0h-1.0zM11.9 12.4h1.0v1.0h-1.0zM14.1 11.0h1.0v1.0h-1.0zM17.6 10.1h1.0v1.0h-1.0zM21.5 9.7h1.0v1.0h-1.0zM26.7 10.0h1.0v1.0h-1.0zM22.9 8.6h1.0v1.0h-1.0zM28.5 9.9h1.0v1.0h-1.0zM30.1 11.4h1.0v1.0h-1.0zM31.4 11.9h1.0v1.0h-1.0zM32.0 11.8h1.0v1.0h-1.0zM34.9 6.5h1.0v1.0h-1.0zM37.8 12.7h1.0v1.0h-1.0zM37.9 13.7h1.0v1.0h-1.0zM41.4 10.8h1.0v1.0h-1.0zM42.2 15.2h1.0v1.0h-1.0zM44.7 15.4h1.0v1.0h-1.0zM47.8 16.6h1.0v1.0h-1.0zM47.4 20.1h1.0v1.0h-1.0zM46.5 24.4h1.0v1.0h-1.0zM46.6 25.3h1.0v1.0h-1.0zM50.9 25.5h1.0v1.0h-1.0zM46.5 29.7h1.0v1.0h-1.0zM48.3 28.9h1.0v1.0h-1.0z" fill="url(#mix)"/><path d="M52.4 39.7h1.0v1.0h-1.0zM58.6 41.5h1.0v1.0h-1.0zM53.6 43.4h1.0v1.0h-1.0zM50.6 47.4h1.0v1.0h-1.0zM50.3 48.1h1.0v1.0h-1.0zM49.5 51.1h1.0v1.0h-1.0zM47.7 51.4h1.0v1.0h-1.0zM47.7 58.1h1.0v1.0h-1.0zM44.8 57.2h1.0v1.0h-1.0zM41.8 60.9h1.0v1.0h-1.0zM41.9 59.6h1.0v1.0h-1.0zM39.0 61.6h1.0v1.0h-1.0zM35.2 61.9h1.0v1.0h-1.0zM32.1 61.5h1.0v1.0h-1.0zM24.1 65.2h1.0v1.0h-1.0zM21.4 61.8h1.0v1.0h-1.0zM18.3 58.3h1.0v1.0h-1.0zM13.4 60.2h1.0v1.0h-1.0zM15.5 53.8h1.0v1.0h-1.0zM12.8 50.5h1.0v1.0h-1.0zM15.1 48.7h1.0v1.0h-1.0zM16.9 45.7h1.0v1.0h-1.0zM18.0 44.0h1.0v1.0h-1.0zM20.7 39.1h1.0v1.0h-1.0zM19.3 38.1h1.0v1.0h-1.0zM25.5 36.8h1.0v1.0h-1.0zM24.6 33.5h1.0v1.0h-1.0zM26.6 34.3h1.0v1.0h-1.0zM30.8 33.0h1.0v1.0h-1.0zM35.3 27.5h1.0v1.0h-1.0zM45.5 31.4h1.0v1.0h-1.0zM50.4 30.2h1.0v1.0h-1.0z" fill="#684387"/></g>
<path d="M371.75,333.50V406.60H431.05" fill="none" stroke="#1c1c1c" stroke-width="1.25"/>
<text x="478.89" y="332.20" font-size="11" text-anchor="middle" fill="#0a0a0a" class="t">29.926</text>
<g transform="translate(441.78,333.50)"><g filter="url(#rough)"><polygon points="51.5,25.7 51.4,29.6 51.0,32.2 50.4,34.5 49.5,36.5 48.4,38.2 47.0,39.7 45.8,40.7 18.7,40.7 17.5,39.7 16.2,38.2 15.0,36.5 14.2,34.5 13.5,32.2 13.2,29.6 13.0,25.7 13.2,21.9 13.5,19.3 14.2,17.0 15.0,15.0 16.2,13.3 17.5,11.7 19.1,10.4 21.0,9.4 23.1,8.5 25.5,7.9 28.3,7.6 32.3,7.5 36.3,7.6 39.1,7.9 41.5,8.5 43.6,9.4 45.4,10.4 47.0,11.7 48.4,13.3 49.5,15.0 50.4,17.0 51.0,19.3 51.4,21.9" fill="url(#mix)"/><polygon points="50.6,51.0 50.4,53.4 50.1,55.1 49.5,56.5 48.7,57.8 47.7,58.9 46.5,59.8 45.1,60.6 43.4,61.3 41.5,61.8 39.4,62.2 36.9,62.4 33.3,62.5 29.6,62.4 27.1,62.2 25.0,61.8 23.1,61.3 21.4,60.6 20.0,59.8 18.8,58.9 17.8,57.8 17.0,56.5 16.4,55.1 16.1,53.4 15.9,51.0 16.1,48.6 16.4,47.0 17.0,45.5 17.8,44.3 18.8,43.2 20.0,42.2 21.4,41.4 23.1,40.8 25.0,40.2 27.1,39.9 29.6,39.6 33.2,39.5 36.9,39.6 39.4,39.9 41.5,40.2 43.4,40.8 45.1,41.4 46.5,42.2 47.7,43.2 48.7,44.3 49.5,45.5 50.1,47.0 50.4,48.6" fill="#684387"/></g><path d="M55.0 27.7h1.0v1.0h-1.0zM54.4 26.6h1.0v1.0h-1.0zM52.9 32.5h1.0v1.0h-1.0zM58.8 35.8h1.0v1.0h-1.0zM53.9 37.7h1.0v1.0h-1.0zM52.6 40.0h1.0v1.0h-1.0zM50.7 40.0h1.0v1.0h-1.0zM38.9 45.8h1.0v1.0h-1.0zM38.8 43.6h1.0v1.0h-1.0zM29.0 45.7h1.0v1.0h-1.0zM20.1 42.4h1.0v1.0h-1.0zM42.4 44.0h1.0v1.0h-1.0zM24.5 43.0h1.0v1.0h-1.0zM29.1 46.1h1.0v1.0h-1.0zM24.4 47.0h1.0v1.0h-1.0zM29.6 44.3h1.0v1.0h-1.0zM37.8 44.9h1.0v1.0h-1.0zM28.5 44.4h1.0v1.0h-1.0zM40.6 41.9h1.0v1.0h-1.0zM33.8 43.1h1.0v1.0h-1.0zM30.6 42.9h1.0v1.0h-1.0zM21.4 44.1h1.0v1.0h-1.0zM15.7 43.5h1.0v1.0h-1.0zM14.0 40.5h1.0v1.0h-1.0zM11.4 40.6h1.0v1.0h-1.0zM11.8 37.5h1.0v1.0h-1.0zM10.6 32.8h1.0v1.0h-1.0zM9.7 30.9h1.0v1.0h-1.0zM10.6 26.1h1.0v1.0h-1.0zM10.7 28.9h1.0v1.0h-1.0zM10.6 22.7h1.0v1.0h-1.0zM8.6 25.3h1.0v1.0h-1.0zM11.5 19.6h1.0v1.0h-1.0zM7.6 16.5h1.0v1.0h-1.0zM12.1 18.3h1.0v1.0h-1.0zM12.3 14.5h1.0v1.0h-1.0zM9.8 10.8h1.0v1.0h-1.0zM16.6 10.6h1.0v1.0h-1.0zM17.8 8.5h1.0v1.0h-1.0zM17.3 7.0h1.0v1.0h-1.0zM21.4 7.4h1.0v1.0h-1.0zM22.6 4.9h1.0v1.0h-1.0zM26.2 4.8h1.0v1.0h-1.0zM27.8 5.7h1.0v1.0h-1.0zM31.4 6.0h1.0v1.0h-1.0zM31.6 5.5h1.0v1.0h-1.0zM34.3 0.6h1.0v1.0h-1.0zM35.1 0.7h1.0v1.0h-1.0zM37.4 4.7h1.0v1.0h-1.0zM38.3 0.4h1.0v1.0h-1.0zM39.8 6.8h1.0v1.0h-1.0zM44.7 5.0h1.0v1.0h-1.0zM48.2 6.9h1.0v1.0h-1.0zM47.6 8.2h1.0v1.0h-1.0zM48.9 7.9h1.0v1.0h-1.0zM48.9 10.7h1.0v1.0h-1.0zM53.7 10.6h1.0v1.0h-1.0zM53.1 14.0h1.0v1.0h-1.0zM53.0 16.7h1.0v1.0h-1.0zM53.0 20.2h1.0v1.0h-1.0zM54.7 19.5h1.0v1.0h-1.0zM55.0 22.3h1.0v1.0h-1.0zM54.7 22.2h1.0v1.0h-1.0z" fill="url(#mix)"/><path d="M54.9 52.2h1.0v1.0h-1.0zM55.6 55.8h1.0v1.0h-1.0zM52.8 57.3h1.0v1.0h-1.0zM50.0 57.8h1.0v1.0h-1.0zM48.8 61.6h1.0v1.0h-1.0zM49.1 64.7h1.0v1.0h-1.0zM46.2 63.7h1.0v1.0h-1.0zM40.8 65.4h1.0v1.0h-1.0zM38.9 64.9h1.0v1.0h-1.0zM32.8 68.8h1.0v1.0h-1.0zM31.7 64.0h1.0v1.0h-1.0zM27.6 66.5h1.0v1.0h-1.0zM26.6 64.1h1.0v1.0h-1.0zM22.1 63.9h1.0v1.0h-1.0zM11.0 61.6h1.0v1.0h-1.0zM14.0 55.2h1.0v1.0h-1.0zM10.4 52.2h1.0v1.0h-1.0zM14.4 49.4h1.0v1.0h-1.0zM13.0 46.2h1.0v1.0h-1.0zM12.0 42.2h1.0v1.0h-1.0zM17.2 39.7h1.0v1.0h-1.0zM19.9 40.4h1.0v1.0h-1.0zM23.6 37.6h1.0v1.0h-1.0zM25.3 37.1h1.0v1.0h-1.0zM27.1 35.1h1.0v1.0h-1.0zM31.3 36.5h1.0v1.0h-1.0zM32.2 33.2h1.0v1.0h-1.0zM34.4 36.8h1.0v1.0h-1.0zM38.8 37.1h1.0v1.0h-1.0zM41.6 37.1h1.0v1.0h-1.0zM42.9 36.7h1.0v1.0h-1.0zM51.0 33.4h1.0v1.0h-1.0zM51.4 44.0h1.0v1.0h-1.0zM53.4 44.4h1.0v1.0h-1.0zM54.8 49.4h1.0v1.0h-1.0z" fill="#684387"/></g>
<path d="M441.78,333.50V406.60H501.08" fill="none" stroke="#1c1c1c" stroke-width="1.25"/>
<text x="548.88" y="332.20" font-size="11" text-anchor="middle" fill="#0a0a0a" class="t">29.926</text>
<g transform="translate(511.81,333.50)"><g filter="url(#rough)"><polygon points="50.5,36.4 50.4,41.3 50.1,44.6 49.7,47.5 49.0,50.0 48.2,52.2 47.1,54.2 46.0,55.8 44.6,57.2 43.0,58.2 41.2,59.0 39.1,59.4 36.1,59.6 33.1,59.4 31.0,59.0 29.3,58.2 27.7,57.2 26.3,55.8 25.1,54.2 24.5,52.9 24.5,19.9 25.1,18.7 26.3,17.1 27.7,15.7 29.3,14.7 31.0,13.9 33.1,13.5 36.1,13.3 39.1,13.5 41.2,13.9 43.0,14.7 44.6,15.7 46.0,17.1 47.1,18.7 48.2,20.6 49.0,22.9 49.7,25.4 50.1,28.3 50.4,31.6" fill="url(#mix)"/><polygon points="25.0,29.3 25.3,33.5 25.4,36.4 25.4,39.0 25.2,41.2 24.9,43.2 24.4,44.9 23.8,46.4 23.1,47.6 22.3,48.6 21.3,49.4 20.2,49.9 18.4,50.2 16.7,50.2 15.5,49.9 14.4,49.3 13.4,48.5 12.5,47.4 11.7,46.0 10.9,44.4 10.3,42.5 9.7,40.3 9.2,37.9 8.8,35.0 8.4,30.8 8.0,26.5 8.0,23.6 8.0,21.1 8.2,18.9 8.5,16.9 9.0,15.1 9.5,13.7 10.2,12.4 11.0,11.4 12.0,10.7 13.2,10.2 14.9,9.9 16.7,9.9 17.9,10.1 19.0,10.7 20.0,11.6 20.9,12.7 21.7,14.0 22.5,15.7 23.1,17.5 23.7,19.7 24.2,22.2 24.6,25.1" fill="#684387"/></g><path d="M52.7 38.3h1.0v1.0h-1.0zM53.7 36.3h1.0v1.0h-1.0zM55.1 42.3h1.0v1.0h-1.0zM52.3 42.8h1.0v1.0h-1.0zM53.0 46.7h1.0v1.0h-1.0zM53.2 45.6h1.0v1.0h-1.0zM51.1 49.7h1.0v1.0h-1.0zM50.5 52.4h1.0v1.0h-1.0zM52.9 56.0h1.0v1.0h-1.0zM50.3 58.8h1.0v1.0h-1.0zM48.2 60.7h1.0v1.0h-1.0zM45.8 62.7h1.0v1.0h-1.0zM42.5 63.2h1.0v1.0h-1.0zM41.2 61.4h1.0v1.0h-1.0zM39.0 64.9h1.0v1.0h-1.0zM37.2 65.2h1.0v1.0h-1.0zM34.8 62.3h1.0v1.0h-1.0zM34.1 65.1h1.0v1.0h-1.0zM30.9 64.3h1.0v1.0h-1.0zM30.2 62.4h1.0v1.0h-1.0zM23.5 65.3h1.0v1.0h-1.0zM25.4 59.2h1.0v1.0h-1.0zM23.5 57.5h1.0v1.0h-1.0zM22.7 53.6h1.0v1.0h-1.0zM21.6 30.9h1.0v1.0h-1.0zM23.5 21.5h1.0v1.0h-1.0zM20.2 48.4h1.0v1.0h-1.0zM22.7 23.9h1.0v1.0h-1.0zM20.1 26.6h1.0v1.0h-1.0zM22.1 34.0h1.0v1.0h-1.0zM17.8 38.2h1.0v1.0h-1.0zM23.1 29.2h1.0v1.0h-1.0zM22.4 48.2h1.0v1.0h-1.0zM20.9 23.0h1.0v1.0h-1.0zM22.7 46.4h1.0v1.0h-1.0zM21.3 51.8h1.0v1.0h-1.0zM21.1 22.0h1.0v1.0h-1.0zM21.5 33.1h1.0v1.0h-1.0zM21.9 32.8h1.0v1.0h-1.0zM20.7 37.8h1.0v1.0h-1.0zM23.2 52.5h1.0v1.0h-1.0zM21.8 37.6h1.0v1.0h-1.0zM22.7 19.2h1.0v1.0h-1.0zM21.0 15.2h1.0v1.0h-1.0zM24.4 13.9h1.0v1.0h-1.0zM27.3 13.7h1.0v1.0h-1.0zM27.7 12.4h1.0v1.0h-1.0zM31.7 11.0h1.0v1.0h-1.0zM36.2 11.4h1.0v1.0h-1.0zM35.7 11.1h1.0v1.0h-1.0zM37.3 11.6h1.0v1.0h-1.0zM37.5 11.1h1.0v1.0h-1.0zM40.6 11.9h1.0v1.0h-1.0zM41.6 4.6h1.0v1.0h-1.0zM43.7 11.3h1.0v1.0h-1.0zM48.2 7.7h1.0v1.0h-1.0zM47.1 14.3h1.0v1.0h-1.0zM49.6 14.3h1.0v1.0h-1.0zM49.4 18.6h1.0v1.0h-1.0zM55.4 19.4h1.0v1.0h-1.0zM53.0 19.9h1.0v1.0h-1.0zM53.1 23.9h1.0v1.0h-1.0zM51.8 23.9h1.0v1.0h-1.0zM51.8 27.7h1.0v1.0h-1.0zM54.9 26.0h1.0v1.0h-1.0zM54.3 30.5h1.0v1.0h-1.0zM55.4 33.3h1.0v1.0h-1.0zM52.0 35.0h1.0v1.0h-1.0zM51.9 33.0h1.0v1.0h-1.0z" fill="url(#mix)"/><path d="M27.8 29.7h1.0v1.0h-1.0zM32.4 34.9h1.0v1.0h-1.0zM27.8 38.5h1.0v1.0h-1.0zM27.5 39.6h1.0v1.0h-1.0zM26.5 52.1h1.0v1.0h-1.0zM23.4 51.8h1.0v1.0h-1.0zM21.7 52.8h1.0v1.0h-1.0zM20.0 57.6h1.0v1.0h-1.0zM17.4 52.8h1.0v1.0h-1.0zM15.5 54.1h1.0v1.0h-1.0zM12.5 53.1h1.0v1.0h-1.0zM12.8 50.1h1.0v1.0h-1.0zM8.6 50.8h1.0v1.0h-1.0zM6.2 47.5h1.0v1.0h-1.0zM8.2 43.6h1.0v1.0h-1.0zM6.1 43.3h1.0v1.0h-1.0zM4.6 39.2h1.0v1.0h-1.0zM4.0 36.0h1.0v1.0h-1.0zM6.2 32.4h1.0v1.0h-1.0zM5.5 34.3h1.0v1.0h-1.0zM1.9 29.5h1.0v1.0h-1.0zM5.2 27.8h1.0v1.0h-1.0zM4.8 25.1h1.0v1.0h-1.0zM5.5 22.2h1.0v1.0h-1.0zM4.4 19.8h1.0v1.0h-1.0zM6.5 16.7h1.0v1.0h-1.0zM2.4 15.1h1.0v1.0h-1.0zM5.0 10.1h1.0v1.0h-1.0zM8.4 9.5h1.0v1.0h-1.0zM9.4 8.1h1.0v1.0h-1.0zM11.3 7.5h1.0v1.0h-1.0zM13.2 7.9h1.0v1.0h-1.0zM14.7 1.6h1.0v1.0h-1.0zM20.6 6.5h1.0v1.0h-1.0zM29.2 11.0h1.0v1.0h-1.0zM24.4 14.9h1.0v1.0h-1.0zM25.4 19.1h1.0v1.0h-1.0zM26.5 24.5h1.0v1.0h-1.0zM26.9 27.0h1.0v1.0h-1.0zM27.7 25.3h1.0v1.0h-1.0z" fill="#684387"/></g>
<path d="M511.81,333.50V406.60H571.11" fill="none" stroke="#1c1c1c" stroke-width="1.25"/>
<text x="618.87" y="332.20" font-size="11" text-anchor="middle" fill="#0a0a0a" class="t">29.926</text>
<g transform="translate(581.84,333.50)"><g filter="url(#rough)"><polygon points="50.5,35.5 50.4,40.3 50.1,43.6 49.6,46.5 49.0,49.0 48.1,51.3 47.1,53.2 45.9,54.8 44.5,56.2 42.9,57.2 41.2,58.0 39.1,58.5 36.1,58.6 33.1,58.5 31.0,58.0 29.2,57.2 27.6,56.2 26.2,54.8 25.0,53.2 24.0,51.3 23.2,49.0 22.5,46.5 22.5,46.1 22.5,24.9 22.5,24.4 23.2,21.9 24.0,19.7 25.0,17.7 26.2,16.1 27.6,14.8 29.2,13.7 31.0,12.9 33.1,12.5 36.1,12.3 39.1,12.5 41.2,12.9 42.9,13.7 44.5,14.8 45.9,16.1 47.1,17.7 48.1,19.7 49.0,21.9 49.6,24.4 50.1,27.3 50.4,30.6" fill="url(#mix)"/><polygon points="23.0,36.4 23.0,40.7 22.8,43.6 22.5,46.1 22.2,48.3 21.7,50.2 21.1,51.9 20.4,53.4 19.6,54.5 18.7,55.5 17.6,56.1 16.4,56.5 14.7,56.7 12.9,56.5 11.7,56.1 10.7,55.5 9.8,54.5 9.0,53.4 8.3,51.9 7.7,50.2 7.2,48.3 6.8,46.1 6.5,43.6 6.4,40.7 6.3,36.4 6.4,32.2 6.5,29.3 6.8,26.8 7.2,24.6 7.7,22.6 8.3,20.9 9.0,19.5 9.8,18.3 10.7,17.4 11.7,16.7 12.9,16.3 14.7,16.2 16.4,16.3 17.6,16.7 18.7,17.4 19.6,18.3 20.4,19.5 21.1,20.9 21.7,22.6 22.2,24.6 22.5,26.8 22.8,29.3 23.0,32.2" fill="#684387"/></g><path d="M53.0 37.7h1.0v1.0h-1.0zM54.7 38.4h1.0v1.0h-1.0zM52.1 35.3h1.0v1.0h-1.0zM52.5 42.1h1.0v1.0h-1.0zM58.9 41.9h1.0v1.0h-1.0zM51.0 44.2h1.0v1.0h-1.0zM54.1 44.3h1.0v1.0h-1.0zM51.9 48.8h1.0v1.0h-1.0zM52.8 48.2h1.0v1.0h-1.0zM50.7 51.1h1.0v1.0h-1.0zM49.3 51.7h1.0v1.0h-1.0zM47.8 55.4h1.0v1.0h-1.0zM51.2 60.4h1.0v1.0h-1.0zM47.8 62.1h1.0v1.0h-1.0zM42.1 59.3h1.0v1.0h-1.0zM41.2 61.2h1.0v1.0h-1.0zM36.7 66.7h1.0v1.0h-1.0zM35.7 61.6h1.0v1.0h-1.0zM33.5 60.5h1.0v1.0h-1.0zM30.5 59.9h1.0v1.0h-1.0zM28.7 60.7h1.0v1.0h-1.0zM27.3 59.4h1.0v1.0h-1.0zM24.0 57.4h1.0v1.0h-1.0zM22.9 61.1h1.0v1.0h-1.0zM22.8 56.4h1.0v1.0h-1.0zM20.0 55.0h1.0v1.0h-1.0zM20.3 52.4h1.0v1.0h-1.0zM20.5 52.9h1.0v1.0h-1.0zM19.7 47.3h1.0v1.0h-1.0zM19.7 47.8h1.0v1.0h-1.0zM19.2 38.6h1.0v1.0h-1.0zM19.2 27.4h1.0v1.0h-1.0zM20.2 36.0h1.0v1.0h-1.0zM19.4 37.6h1.0v1.0h-1.0zM20.6 28.5h1.0v1.0h-1.0zM16.1 35.0h1.0v1.0h-1.0zM17.0 37.7h1.0v1.0h-1.0zM19.3 39.8h1.0v1.0h-1.0zM19.4 41.6h1.0v1.0h-1.0zM18.5 26.8h1.0v1.0h-1.0zM20.2 28.7h1.0v1.0h-1.0zM19.3 22.5h1.0v1.0h-1.0zM20.7 19.4h1.0v1.0h-1.0zM22.1 17.0h1.0v1.0h-1.0zM20.4 12.6h1.0v1.0h-1.0zM24.3 13.6h1.0v1.0h-1.0zM27.1 11.7h1.0v1.0h-1.0zM29.5 9.9h1.0v1.0h-1.0zM31.7 10.6h1.0v1.0h-1.0zM34.4 6.6h1.0v1.0h-1.0zM35.2 8.4h1.0v1.0h-1.0zM37.6 8.1h1.0v1.0h-1.0zM37.9 8.8h1.0v1.0h-1.0zM40.2 10.8h1.0v1.0h-1.0zM45.6 5.9h1.0v1.0h-1.0zM45.2 9.9h1.0v1.0h-1.0zM47.6 12.4h1.0v1.0h-1.0zM51.4 14.0h1.0v1.0h-1.0zM50.2 18.5h1.0v1.0h-1.0zM50.9 18.3h1.0v1.0h-1.0zM53.3 22.9h1.0v1.0h-1.0zM55.2 23.6h1.0v1.0h-1.0zM53.0 25.0h1.0v1.0h-1.0zM54.0 29.6h1.0v1.0h-1.0zM55.9 28.7h1.0v1.0h-1.0zM53.5 32.3h1.0v1.0h-1.0zM52.6 32.5h1.0v1.0h-1.0z" fill="url(#mix)"/><path d="M28.2 39.1h1.0v1.0h-1.0zM28.5 40.5h1.0v1.0h-1.0zM25.1 43.3h1.0v1.0h-1.0zM25.9 46.1h1.0v1.0h-1.0zM20.8 56.7h1.0v1.0h-1.0zM18.2 59.3h1.0v1.0h-1.0zM11.8 59.5h1.0v1.0h-1.0zM7.8 54.6h1.0v1.0h-1.0zM3.8 49.6h1.0v1.0h-1.0zM4.9 47.0h1.0v1.0h-1.0zM0.6 44.2h1.0v1.0h-1.0zM5.0 41.8h1.0v1.0h-1.0zM1.5 37.2h1.0v1.0h-1.0zM3.0 35.2h1.0v1.0h-1.0zM4.4 30.2h1.0v1.0h-1.0zM5.1 28.9h1.0v1.0h-1.0zM2.0 25.3h1.0v1.0h-1.0zM3.7 21.8h1.0v1.0h-1.0zM3.1 21.1h1.0v1.0h-1.0zM7.0 19.9h1.0v1.0h-1.0zM17.2 8.4h1.0v1.0h-1.0zM18.2 14.6h1.0v1.0h-1.0zM20.1 15.0h1.0v1.0h-1.0zM21.1 14.8h1.0v1.0h-1.0zM25.3 15.0h1.0v1.0h-1.0zM27.3 18.0h1.0v1.0h-1.0zM24.1 25.4h1.0v1.0h-1.0zM25.3 29.8h1.0v1.0h-1.0zM29.8 32.3h1.0v1.0h-1.0z" fill="#684387"/></g>
<path d="M581.84,333.50V406.60H641.14" fill="none" stroke="#1c1c1c" stroke-width="1.25"/>
<text x="688.86" y="332.20" font-size="11" text-anchor="middle" fill="#0a0a0a" class="t">29.926</text>
<g transform="translate(651.87,333.50)"><g filter="url(#rough)"><polygon points="50.4,31.6 50.3,34.8 49.9,37.0 49.2,38.9 48.3,40.6 47.1,42.1 45.7,43.3 44.0,44.4 42.4,45.2 18.0,45.2 16.4,44.4 14.7,43.3 13.3,42.1 12.1,40.6 11.2,38.9 10.5,37.0 10.1,34.8 10.0,31.6 10.1,28.4 10.5,26.1 11.2,24.2 12.1,22.6 13.3,21.1 14.7,19.8 16.4,18.7 18.4,17.8 20.6,17.1 23.1,16.6 26.0,16.3 30.2,16.2 34.4,16.3 37.4,16.6 39.9,17.1 42.1,17.8 44.0,18.7 45.7,19.8 47.1,21.1 48.3,22.6 49.2,24.2 49.9,26.1 50.3,28.4" fill="url(#mix)"/><polygon points="47.5,54.9 47.4,57.5 47.1,59.3 46.5,60.9 45.7,62.2 44.7,63.4 43.5,64.4 42.0,65.3 40.4,66.1 38.5,66.6 36.3,67.0 33.8,67.3 30.2,67.4 26.6,67.3 24.1,67.0 22.0,66.6 20.1,66.1 18.4,65.3 17.0,64.4 15.7,63.4 14.7,62.2 13.9,60.9 13.4,59.3 13.0,57.5 12.9,54.9 13.0,52.3 13.4,50.5 13.9,49.0 14.7,47.6 15.7,46.4 17.0,45.4 18.4,44.5 20.1,43.8 22.0,43.2 24.1,42.8 26.6,42.5 30.2,42.5 33.8,42.5 36.3,42.8 38.5,43.2 40.4,43.8 42.0,44.5 43.5,45.4 44.7,46.4 45.7,47.6 46.5,49.0 47.1,50.5 47.4,52.3" fill="#684387"/></g><path d="M59.8 34.0h1.0v1.0h-1.0zM52.2 33.1h1.0v1.0h-1.0zM52.9 36.1h1.0v1.0h-1.0zM54.1 40.4h1.0v1.0h-1.0zM50.7 40.7h1.0v1.0h-1.0zM51.6 44.2h1.0v1.0h-1.0zM48.6 45.0h1.0v1.0h-1.0zM46.4 48.5h1.0v1.0h-1.0zM45.1 48.5h1.0v1.0h-1.0zM20.5 49.3h1.0v1.0h-1.0zM37.8 49.2h1.0v1.0h-1.0zM22.2 49.7h1.0v1.0h-1.0zM23.3 46.0h1.0v1.0h-1.0zM36.8 47.9h1.0v1.0h-1.0zM28.1 47.1h1.0v1.0h-1.0zM23.6 48.5h1.0v1.0h-1.0zM42.0 49.8h1.0v1.0h-1.0zM28.9 46.8h1.0v1.0h-1.0zM42.5 48.3h1.0v1.0h-1.0zM23.6 49.4h1.0v1.0h-1.0zM22.7 47.6h1.0v1.0h-1.0zM37.1 48.7h1.0v1.0h-1.0zM17.0 47.8h1.0v1.0h-1.0zM14.4 45.3h1.0v1.0h-1.0zM10.9 46.0h1.0v1.0h-1.0zM10.9 43.5h1.0v1.0h-1.0zM9.6 41.0h1.0v1.0h-1.0zM8.2 38.5h1.0v1.0h-1.0zM6.6 35.4h1.0v1.0h-1.0zM6.7 33.6h1.0v1.0h-1.0zM2.6 33.2h1.0v1.0h-1.0zM0.7 29.9h1.0v1.0h-1.0zM4.7 28.5h1.0v1.0h-1.0zM5.7 28.0h1.0v1.0h-1.0zM6.4 24.3h1.0v1.0h-1.0zM8.2 22.1h1.0v1.0h-1.0zM9.6 19.0h1.0v1.0h-1.0zM12.2 17.9h1.0v1.0h-1.0zM13.9 17.7h1.0v1.0h-1.0zM15.5 14.9h1.0v1.0h-1.0zM20.4 15.0h1.0v1.0h-1.0zM19.9 12.8h1.0v1.0h-1.0zM24.4 12.1h1.0v1.0h-1.0zM27.4 5.7h1.0v1.0h-1.0zM26.0 13.4h1.0v1.0h-1.0zM31.6 11.1h1.0v1.0h-1.0zM32.4 13.2h1.0v1.0h-1.0zM34.8 13.1h1.0v1.0h-1.0zM41.1 8.5h1.0v1.0h-1.0zM42.9 13.9h1.0v1.0h-1.0zM43.3 14.6h1.0v1.0h-1.0zM47.1 12.5h1.0v1.0h-1.0zM46.7 15.5h1.0v1.0h-1.0zM48.3 19.1h1.0v1.0h-1.0zM48.3 19.8h1.0v1.0h-1.0zM53.0 21.0h1.0v1.0h-1.0zM52.6 24.4h1.0v1.0h-1.0zM54.7 23.7h1.0v1.0h-1.0zM51.9 25.9h1.0v1.0h-1.0zM53.2 31.2h1.0v1.0h-1.0zM51.7 30.3h1.0v1.0h-1.0z" fill="url(#mix)"/><path d="M50.0 58.0h1.0v1.0h-1.0zM51.3 60.2h1.0v1.0h-1.0zM48.8 59.6h1.0v1.0h-1.0zM51.1 64.5h1.0v1.0h-1.0zM47.2 63.5h1.0v1.0h-1.0zM44.2 70.9h1.0v1.0h-1.0zM40.3 72.2h1.0v1.0h-1.0zM39.6 69.4h1.0v1.0h-1.0zM35.9 69.8h1.0v1.0h-1.0zM32.3 68.8h1.0v1.0h-1.0zM27.0 69.7h1.0v1.0h-1.0zM24.1 73.8h1.0v1.0h-1.0zM22.9 69.3h1.0v1.0h-1.0zM20.6 70.5h1.0v1.0h-1.0zM18.2 68.6h1.0v1.0h-1.0zM15.1 65.7h1.0v1.0h-1.0zM10.8 63.5h1.0v1.0h-1.0zM8.8 59.5h1.0v1.0h-1.0zM10.0 56.4h1.0v1.0h-1.0zM10.7 55.4h1.0v1.0h-1.0zM10.2 51.1h1.0v1.0h-1.0zM9.8 46.5h1.0v1.0h-1.0zM14.2 38.9h1.0v1.0h-1.0zM17.3 39.9h1.0v1.0h-1.0zM24.3 39.7h1.0v1.0h-1.0zM28.0 40.4h1.0v1.0h-1.0zM33.0 36.3h1.0v1.0h-1.0zM31.1 40.7h1.0v1.0h-1.0zM35.6 39.2h1.0v1.0h-1.0zM38.4 37.9h1.0v1.0h-1.0zM39.8 40.7h1.0v1.0h-1.0zM47.2 42.6h1.0v1.0h-1.0zM46.4 45.1h1.0v1.0h-1.0zM49.3 48.3h1.0v1.0h-1.0zM51.3 50.9h1.0v1.0h-1.0zM49.8 53.7h1.0v1.0h-1.0z" fill="#684387"/></g>
<path d="M651.87,333.50V406.60H711.17" fill="none" stroke="#1c1c1c" stroke-width="1.25"/>
<text x="2.5" y="448.3" font-size="16" font-weight="bold" fill="#000" stroke="#000" stroke-width="0.4">C</text>
<text x="370" y="447.6" font-size="11" text-anchor="middle" fill="#0a0a0a" class="t">TN VAE top 20 models by neighbor loss</text>
<text x="59.55" y="462.10" font-size="11" text-anchor="middle" fill="#0a0a0a" class="t">0.653</text>
<g transform="translate(23.90,463.40)"><g filter="url(#rough)"><polygon points="50.0,16.5 49.9,17.8 49.5,19.2 48.8,20.5 47.8,21.7 46.5,22.9 44.9,23.9 43.1,24.9 41.1,25.8 38.9,26.5 36.6,27.0 34.2,27.4 31.7,27.6 29.3,27.6 26.8,27.5 24.5,27.2 22.2,26.7 20.1,26.1 18.2,25.3 16.6,24.4 15.1,23.4 14.0,22.3 13.1,21.1 12.6,19.8 12.4,18.5 12.4,17.2 12.9,15.8 13.6,14.5 14.6,13.3 15.9,12.1 17.5,11.1 19.3,10.1 21.3,9.2 23.5,8.5 25.8,8.0 28.2,7.6 30.7,7.4 33.1,7.4 35.6,7.5 37.9,7.8 40.1,8.3 42.2,8.9 44.1,9.7 45.8,10.6 47.2,11.6 48.4,12.7 49.2,13.9 49.8,15.2" fill="#efd335"/><polygon points="10.8,26.8 20.5,23.3 38.0,24.9 50.6,27.8 51.6,33.1 38.0,34.2 28.3,36.2 14.7,32.3 10.8,29.7" fill="#5eaa9d"/><polygon points="52.9,44.6 53.0,46.7 52.9,48.8 52.5,50.8 52.0,52.7 51.3,54.5 50.4,56.2 49.3,57.7 48.1,58.9 46.8,60.0 45.4,60.8 43.9,61.3 42.3,61.6 40.7,61.6 39.1,61.3 37.6,60.8 36.1,60.0 34.7,58.9 33.4,57.7 32.2,56.2 31.2,54.5 30.3,52.7 29.7,50.8 29.2,48.8 28.9,46.7 28.8,44.7 29.0,42.6 29.3,40.6 29.8,38.7 30.5,36.9 31.4,35.2 32.5,33.7 33.7,32.5 35.0,31.4 36.5,30.6 38.0,30.1 39.5,29.8 41.1,29.8 42.7,30.1 44.2,30.6 45.7,31.4 47.1,32.5 48.4,33.7 49.6,35.2 50.6,36.8 51.5,38.6 52.2,40.6 52.6,42.6" fill="#684387"/></g><path d="M47.5 25.6h1.0v1.0h-1.0zM47.2 27.4h1.0v1.0h-1.0zM44.5 30.8h1.0v1.0h-1.0zM36.9 33.2h1.0v1.0h-1.0zM26.5 30.1h1.0v1.0h-1.0zM24.0 30.4h1.0v1.0h-1.0zM12.8 27.7h1.0v1.0h-1.0zM13.0 12.1h1.0v1.0h-1.0zM10.7 6.9h1.0v1.0h-1.0zM14.8 10.2h1.0v1.0h-1.0zM17.5 8.9h1.0v1.0h-1.0zM23.7 4.1h1.0v1.0h-1.0zM28.8 5.5h1.0v1.0h-1.0zM35.5 5.5h1.0v1.0h-1.0zM44.0 5.9h1.0v1.0h-1.0zM50.2 9.3h1.0v1.0h-1.0zM51.8 12.1h1.0v1.0h-1.0zM53.9 13.5h1.0v1.0h-1.0zM55.1 15.5h1.0v1.0h-1.0z" fill="#efd335"/><path d="M13.8 24.3h1.0v1.0h-1.0zM13.4 20.2h1.0v1.0h-1.0zM36.8 22.0h1.0v1.0h-1.0zM36.2 21.5h1.0v1.0h-1.0zM30.4 22.6h1.0v1.0h-1.0zM43.7 23.9h1.0v1.0h-1.0zM41.4 20.6h1.0v1.0h-1.0zM44.0 22.1h1.0v1.0h-1.0zM55.7 29.1h1.0v1.0h-1.0zM50.9 37.5h1.0v1.0h-1.0zM47.5 36.9h1.0v1.0h-1.0zM38.3 37.0h1.0v1.0h-1.0zM29.7 38.5h1.0v1.0h-1.0zM31.0 38.1h1.0v1.0h-1.0zM15.6 35.1h1.0v1.0h-1.0zM21.4 36.4h1.0v1.0h-1.0zM16.5 35.3h1.0v1.0h-1.0zM10.5 34.2h1.0v1.0h-1.0zM7.9 28.8h1.0v1.0h-1.0z" fill="#5eaa9d"/><path d="M59.9 45.6h1.0v1.0h-1.0zM54.1 47.5h1.0v1.0h-1.0zM54.5 48.3h1.0v1.0h-1.0zM54.4 53.5h1.0v1.0h-1.0zM54.9 54.8h1.0v1.0h-1.0zM51.3 58.9h1.0v1.0h-1.0zM50.3 59.9h1.0v1.0h-1.0zM48.5 60.7h1.0v1.0h-1.0zM48.3 63.0h1.0v1.0h-1.0zM44.2 62.4h1.0v1.0h-1.0zM41.6 66.6h1.0v1.0h-1.0zM39.4 65.5h1.0v1.0h-1.0zM36.1 65.3h1.0v1.0h-1.0zM36.7 61.9h1.0v1.0h-1.0zM31.2 64.2h1.0v1.0h-1.0zM31.3 62.3h1.0v1.0h-1.0zM27.8 61.0h1.0v1.0h-1.0zM29.4 53.7h1.0v1.0h-1.0zM27.4 48.6h1.0v1.0h-1.0zM25.2 41.2h1.0v1.0h-1.0zM24.6 38.0h1.0v1.0h-1.0zM28.7 37.1h1.0v1.0h-1.0zM28.4 36.0h1.0v1.0h-1.0zM27.7 31.9h1.0v1.0h-1.0zM29.8 28.4h1.0v1.0h-1.0zM31.3 28.4h1.0v1.0h-1.0zM35.4 29.0h1.0v1.0h-1.0zM40.4 27.4h1.0v1.0h-1.0zM43.5 21.1h1.0v1.0h-1.0zM44.8 27.4h1.0v1.0h-1.0zM48.6 32.2h1.0v1.0h-1.0zM53.9 33.0h1.0v1.0h-1.0zM51.5 37.3h1.0v1.0h-1.0zM56.7 39.0h1.0v1.0h-1.0zM55.2 41.4h1.0v1.0h-1.0zM56.6 42.8h1.0v1.0h-1.0z" fill="#684387"/></g>
<path d="M23.90,463.40V537.00H84.60" fill="none" stroke="#3a3a3a" stroke-width="1.45"/>
<text x="129.94" y="462.10" font-size="11" text-anchor="middle" fill="#0a0a0a" class="t">0.661</text>
<g transform="translate(94.35,463.40)"><g filter="url(#rough)"><polygon points="45.7,21.0 45.5,22.6 45.1,24.1 44.3,25.6 43.3,27.0 42.0,28.3 40.5,29.5 38.7,30.6 36.8,31.4 34.7,32.1 32.4,32.6 30.1,33.0 27.8,33.1 25.5,33.0 23.2,32.6 21.0,32.1 18.9,31.4 16.9,30.6 15.2,29.5 13.6,28.3 12.3,27.0 11.3,25.6 10.5,24.1 10.1,22.6 9.9,21.0 10.1,19.4 10.5,17.9 11.3,16.4 12.3,15.0 13.6,13.7 15.2,12.5 16.9,11.4 18.9,10.6 21.0,9.9 23.2,9.4 25.5,9.0 27.8,8.9 30.1,9.0 32.4,9.4 34.7,9.9 36.8,10.6 38.7,11.4 40.5,12.5 42.0,13.7 43.3,15.0 44.3,16.4 45.1,17.9 45.5,19.4" fill="#efd335"/><polygon points="7.4,34.2 16.1,29.2 33.6,30.3 45.3,30.7 47.6,35.8 29.7,39.7 18.1,39.9 8.4,36.9" fill="#5eaa9d"/><polygon points="49.6,48.2 49.5,50.0 49.2,51.8 48.7,53.6 48.1,55.2 47.3,56.7 46.3,58.1 45.2,59.3 44.0,60.3 42.7,61.2 41.4,61.7 39.9,62.1 38.5,62.2 37.1,62.1 35.6,61.7 34.3,61.2 33.0,60.3 31.8,59.3 30.7,58.1 29.7,56.7 28.9,55.2 28.3,53.6 27.8,51.8 27.5,50.0 27.4,48.2 27.5,46.4 27.8,44.6 28.3,42.9 28.9,41.2 29.7,39.7 30.7,38.3 31.8,37.1 33.0,36.1 34.3,35.3 35.6,34.7 37.1,34.3 38.5,34.2 39.9,34.3 41.4,34.7 42.7,35.3 44.0,36.1 45.2,37.1 46.3,38.3 47.3,39.7 48.1,41.2 48.7,42.9 49.2,44.6 49.5,46.4" fill="#684387"/></g><path d="M48.0 24.4h1.0v1.0h-1.0zM46.2 25.3h1.0v1.0h-1.0zM47.0 29.0h1.0v1.0h-1.0zM43.2 29.3h1.0v1.0h-1.0zM41.3 31.0h1.0v1.0h-1.0zM36.5 33.0h1.0v1.0h-1.0zM32.9 34.4h1.0v1.0h-1.0zM28.7 36.2h1.0v1.0h-1.0zM20.7 37.3h1.0v1.0h-1.0zM20.4 34.9h1.0v1.0h-1.0zM6.4 27.2h1.0v1.0h-1.0zM8.3 23.4h1.0v1.0h-1.0zM8.1 19.7h1.0v1.0h-1.0zM10.6 11.7h1.0v1.0h-1.0zM14.8 9.4h1.0v1.0h-1.0zM19.9 8.0h1.0v1.0h-1.0zM21.5 7.7h1.0v1.0h-1.0zM39.1 9.3h1.0v1.0h-1.0zM43.6 10.3h1.0v1.0h-1.0zM47.0 9.5h1.0v1.0h-1.0zM49.5 11.8h1.0v1.0h-1.0zM46.5 16.3h1.0v1.0h-1.0z" fill="#efd335"/><path d="M13.6 27.8h1.0v1.0h-1.0zM9.7 25.8h1.0v1.0h-1.0zM18.2 27.1h1.0v1.0h-1.0zM20.9 26.9h1.0v1.0h-1.0zM30.0 22.5h1.0v1.0h-1.0zM41.0 28.1h1.0v1.0h-1.0zM35.8 26.0h1.0v1.0h-1.0zM50.1 31.6h1.0v1.0h-1.0zM43.3 40.9h1.0v1.0h-1.0zM41.1 42.2h1.0v1.0h-1.0zM43.9 40.9h1.0v1.0h-1.0zM43.2 40.9h1.0v1.0h-1.0zM29.4 42.6h1.0v1.0h-1.0zM21.2 41.5h1.0v1.0h-1.0zM18.4 47.5h1.0v1.0h-1.0zM12.5 41.7h1.0v1.0h-1.0zM10.6 41.7h1.0v1.0h-1.0z" fill="#5eaa9d"/><path d="M50.7 49.9h1.0v1.0h-1.0zM51.5 53.2h1.0v1.0h-1.0zM53.0 57.8h1.0v1.0h-1.0zM48.8 62.1h1.0v1.0h-1.0zM45.3 61.0h1.0v1.0h-1.0zM42.3 64.6h1.0v1.0h-1.0zM41.7 65.3h1.0v1.0h-1.0zM40.1 64.6h1.0v1.0h-1.0zM35.9 64.2h1.0v1.0h-1.0zM31.5 65.5h1.0v1.0h-1.0zM28.9 64.6h1.0v1.0h-1.0zM27.8 58.6h1.0v1.0h-1.0zM27.0 57.5h1.0v1.0h-1.0zM23.0 54.8h1.0v1.0h-1.0zM22.6 51.9h1.0v1.0h-1.0zM24.4 48.5h1.0v1.0h-1.0zM24.4 46.2h1.0v1.0h-1.0zM19.8 44.7h1.0v1.0h-1.0zM25.2 44.6h1.0v1.0h-1.0zM21.8 39.1h1.0v1.0h-1.0zM28.0 39.3h1.0v1.0h-1.0zM27.9 38.0h1.0v1.0h-1.0zM28.3 30.0h1.0v1.0h-1.0zM35.1 32.4h1.0v1.0h-1.0zM35.0 31.7h1.0v1.0h-1.0zM37.0 30.2h1.0v1.0h-1.0zM40.0 31.9h1.0v1.0h-1.0zM45.4 32.4h1.0v1.0h-1.0zM49.4 37.0h1.0v1.0h-1.0zM49.3 40.7h1.0v1.0h-1.0zM50.7 40.1h1.0v1.0h-1.0zM53.9 42.6h1.0v1.0h-1.0zM53.0 45.1h1.0v1.0h-1.0zM51.5 48.1h1.0v1.0h-1.0z" fill="#684387"/></g>
<path d="M94.35,463.40V537.00H155.05" fill="none" stroke="#3a3a3a" stroke-width="1.45"/>
<text x="200.33" y="462.10" font-size="11" text-anchor="middle" fill="#0a0a0a" class="t">0.666</text>
<g transform="translate(164.80,463.40)"><g filter="url(#rough)"><polygon points="45.3,31.1 46.5,33.9 47.3,36.8 47.7,39.8 47.8,42.7 47.6,45.6 47.0,48.4 46.1,51.0 44.8,53.4 43.3,55.6 41.5,57.6 39.4,59.2 37.1,60.4 34.7,61.4 32.2,61.9 29.5,62.1 26.8,61.8 24.2,61.2 21.6,60.2 19.1,58.9 16.7,57.2 14.5,55.2 12.5,53.0 10.8,50.5 9.4,47.9 8.3,45.0 7.5,42.1 7.0,39.2 6.9,36.2 7.1,33.4 7.7,30.6 8.7,27.9 9.9,25.5 11.4,23.3 13.3,21.4 15.3,19.8 17.6,18.5 20.0,17.6 22.6,17.0 25.2,16.9 27.9,17.1 30.5,17.7 33.2,18.7 35.7,20.1 38.0,21.7 40.2,23.7 42.2,25.9 43.9,28.4" fill="url(#mix)"/><polygon points="35.3,33.0 36.1,35.0 36.7,37.1 37.1,39.3 37.3,41.4 37.2,43.5 36.9,45.4 36.3,47.3 35.6,49.0 34.6,50.6 33.4,51.9 32.1,53.0 30.6,53.8 29.0,54.4 27.3,54.7 25.6,54.8 23.8,54.5 22.0,54.0 20.2,53.2 18.5,52.2 16.8,50.9 15.3,49.5 13.9,47.8 12.7,46.0 11.7,44.0 10.8,42.0 10.2,39.9 9.8,37.7 9.7,35.6 9.7,33.5 10.1,31.6 10.6,29.7 11.4,28.0 12.3,26.4 13.5,25.1 14.8,24.0 16.3,23.2 17.9,22.6 19.6,22.3 21.4,22.2 23.2,22.5 25.0,23.0 26.8,23.8 28.5,24.8 30.1,26.1 31.6,27.5 33.0,29.2 34.2,31.0" fill="#efd335" fill-opacity="0.35"/><polygon points="32.6,14.2 32.5,15.2 32.2,16.2 31.6,17.1 30.9,18.0 29.9,18.8 28.8,19.6 27.5,20.2 26.1,20.8 24.6,21.2 23.0,21.5 21.3,21.7 19.6,21.8 17.9,21.7 16.2,21.5 14.6,21.2 13.1,20.8 11.6,20.2 10.4,19.6 9.2,18.8 8.3,18.0 7.5,17.1 7.0,16.2 6.7,15.2 6.6,14.2 6.7,13.2 7.0,12.2 7.5,11.3 8.3,10.4 9.2,9.6 10.4,8.8 11.6,8.2 13.1,7.6 14.6,7.2 16.2,6.9 17.9,6.7 19.6,6.6 21.3,6.7 23.0,6.9 24.6,7.2 26.1,7.6 27.5,8.2 28.8,8.8 29.9,9.6 30.9,10.4 31.6,11.3 32.2,12.2 32.5,13.2" fill="#684387"/></g><path d="M46.6 30.6h1.0v1.0h-1.0zM49.3 32.1h1.0v1.0h-1.0zM49.4 32.7h1.0v1.0h-1.0zM50.8 35.9h1.0v1.0h-1.0zM49.9 37.8h1.0v1.0h-1.0zM51.2 38.9h1.0v1.0h-1.0zM51.2 41.4h1.0v1.0h-1.0zM51.3 44.8h1.0v1.0h-1.0zM54.4 44.0h1.0v1.0h-1.0zM50.9 47.0h1.0v1.0h-1.0zM50.9 47.3h1.0v1.0h-1.0zM49.2 51.8h1.0v1.0h-1.0zM47.1 54.5h1.0v1.0h-1.0zM47.2 56.2h1.0v1.0h-1.0zM46.3 54.8h1.0v1.0h-1.0zM44.4 56.9h1.0v1.0h-1.0zM41.6 61.5h1.0v1.0h-1.0zM40.9 63.3h1.0v1.0h-1.0zM35.9 64.4h1.0v1.0h-1.0zM38.1 69.8h1.0v1.0h-1.0zM34.2 64.0h1.0v1.0h-1.0zM34.1 64.4h1.0v1.0h-1.0zM31.4 65.4h1.0v1.0h-1.0zM26.6 65.6h1.0v1.0h-1.0zM23.2 67.3h1.0v1.0h-1.0zM21.9 61.9h1.0v1.0h-1.0zM18.7 63.5h1.0v1.0h-1.0zM19.7 62.8h1.0v1.0h-1.0zM17.4 59.1h1.0v1.0h-1.0zM11.6 59.5h1.0v1.0h-1.0zM14.9 57.6h1.0v1.0h-1.0zM12.0 57.4h1.0v1.0h-1.0zM11.0 57.7h1.0v1.0h-1.0zM9.2 55.3h1.0v1.0h-1.0zM5.0 51.4h1.0v1.0h-1.0zM9.1 49.6h1.0v1.0h-1.0zM6.6 45.8h1.0v1.0h-1.0zM2.0 44.1h1.0v1.0h-1.0zM4.8 43.4h1.0v1.0h-1.0zM6.4 41.6h1.0v1.0h-1.0zM4.6 39.6h1.0v1.0h-1.0zM3.7 39.3h1.0v1.0h-1.0zM4.1 39.3h1.0v1.0h-1.0zM4.4 34.6h1.0v1.0h-1.0zM5.9 31.4h1.0v1.0h-1.0zM3.5 30.1h1.0v1.0h-1.0zM4.1 28.4h1.0v1.0h-1.0zM8.1 24.2h1.0v1.0h-1.0zM7.3 23.3h1.0v1.0h-1.0zM10.1 21.8h1.0v1.0h-1.0zM9.6 20.3h1.0v1.0h-1.0zM12.5 17.8h1.0v1.0h-1.0zM15.4 15.8h1.0v1.0h-1.0zM17.5 13.5h1.0v1.0h-1.0zM16.0 12.4h1.0v1.0h-1.0zM19.8 14.3h1.0v1.0h-1.0zM23.4 10.6h1.0v1.0h-1.0zM21.6 8.0h1.0v1.0h-1.0zM28.5 10.8h1.0v1.0h-1.0zM29.1 12.0h1.0v1.0h-1.0zM34.8 13.9h1.0v1.0h-1.0zM33.6 17.9h1.0v1.0h-1.0zM35.9 18.1h1.0v1.0h-1.0zM40.5 16.0h1.0v1.0h-1.0zM40.2 20.8h1.0v1.0h-1.0zM42.3 19.5h1.0v1.0h-1.0zM44.9 20.0h1.0v1.0h-1.0zM47.2 25.3h1.0v1.0h-1.0zM46.6 27.9h1.0v1.0h-1.0zM47.2 29.0h1.0v1.0h-1.0z" fill="url(#mix)"/><path d="M34.1 15.5h1.0v1.0h-1.0zM31.6 20.4h1.0v1.0h-1.0zM30.3 22.5h1.0v1.0h-1.0zM28.2 21.6h1.0v1.0h-1.0zM23.3 23.5h1.0v1.0h-1.0zM21.8 26.7h1.0v1.0h-1.0zM19.7 26.2h1.0v1.0h-1.0zM19.4 25.5h1.0v1.0h-1.0zM16.7 27.9h1.0v1.0h-1.0zM15.0 23.6h1.0v1.0h-1.0zM12.5 24.0h1.0v1.0h-1.0zM9.5 25.2h1.0v1.0h-1.0zM7.3 20.5h1.0v1.0h-1.0zM5.3 18.6h1.0v1.0h-1.0zM4.2 15.1h1.0v1.0h-1.0zM10.1 6.2h1.0v1.0h-1.0zM10.6 4.0h1.0v1.0h-1.0zM11.9 2.3h1.0v1.0h-1.0zM16.6 4.0h1.0v1.0h-1.0zM24.1 2.2h1.0v1.0h-1.0zM25.4 4.1h1.0v1.0h-1.0zM26.3 5.8h1.0v1.0h-1.0zM29.7 6.2h1.0v1.0h-1.0zM30.1 7.7h1.0v1.0h-1.0zM41.2 9.8h1.0v1.0h-1.0zM35.9 13.6h1.0v1.0h-1.0z" fill="#684387"/></g>
<path d="M164.80,463.40V537.00H225.50" fill="none" stroke="#3a3a3a" stroke-width="1.45"/>
<text x="270.72" y="462.10" font-size="11" text-anchor="middle" fill="#0a0a0a" class="t">0.679</text>
<g transform="translate(235.25,463.40)"><g filter="url(#rough)"><polygon points="42.1,59.9 40.2,61.1 38.1,62.0 35.7,62.5 33.3,62.6 30.7,62.4 28.0,61.7 25.3,60.7 22.7,59.4 20.1,57.7 17.7,55.8 15.4,53.5 13.3,51.1 11.4,48.5 9.8,45.7 8.5,42.8 7.5,39.9 6.8,37.1 6.5,34.2 6.5,31.5 6.9,28.9 7.6,26.5 8.7,24.4 10.1,22.5 11.7,21.0 13.6,19.8 15.8,18.9 18.1,18.4 20.6,18.3 23.2,18.5 25.8,19.2 28.5,20.1 31.1,21.5 33.7,23.2 36.1,25.1 38.4,27.3 40.5,29.8 42.4,32.4 44.0,35.2 45.3,38.0 46.3,40.9 47.0,43.8 47.3,46.7 47.3,49.4 46.9,52.0 46.2,54.3 45.1,56.5 43.8,58.3" fill="url(#mix)"/><polygon points="30.5,47.2 29.7,49.1 28.7,51.0 27.6,52.8 26.3,54.4 24.9,55.8 23.5,57.0 22.0,58.0 20.4,58.7 18.9,59.2 17.3,59.3 15.9,59.3 14.5,58.9 13.1,58.3 11.9,57.4 10.9,56.3 10.0,54.9 9.3,53.4 8.7,51.7 8.4,49.8 8.3,47.8 8.3,45.8 8.6,43.7 9.0,41.6 9.7,39.6 10.5,37.6 11.5,35.7 12.6,33.9 13.9,32.3 15.3,30.9 16.7,29.7 18.3,28.7 19.8,28.0 21.3,27.6 22.9,27.4 24.4,27.5 25.8,27.8 27.1,28.5 28.3,29.3 29.3,30.5 30.2,31.8 30.9,33.3 31.5,35.1 31.8,36.9 32.0,38.9 31.9,40.9 31.6,43.0 31.2,45.1" fill="#efd335" fill-opacity="0.55"/><polygon points="26.2,15.0 25.9,15.9 25.5,16.9 24.9,17.7 24.2,18.5 23.3,19.2 22.3,19.7 21.2,20.2 20.1,20.6 18.8,20.8 17.5,20.9 16.2,20.9 14.9,20.7 13.6,20.4 12.4,20.0 11.2,19.4 10.1,18.8 9.1,18.1 8.2,17.3 7.5,16.4 6.9,15.4 6.5,14.5 6.3,13.5 6.2,12.5 6.3,11.5 6.5,10.5 6.9,9.6 7.5,8.7 8.3,8.0 9.1,7.3 10.1,6.7 11.2,6.2 12.4,5.9 13.6,5.7 14.9,5.6 16.2,5.6 17.5,5.8 18.8,6.0 20.1,6.5 21.2,7.0 22.3,7.6 23.3,8.4 24.2,9.2 24.9,10.1 25.5,11.0 25.9,12.0 26.2,13.0 26.3,14.0" fill="#684387"/></g><path d="M43.7 63.2h1.0v1.0h-1.0zM40.6 65.4h1.0v1.0h-1.0zM36.9 65.1h1.0v1.0h-1.0zM38.4 64.9h1.0v1.0h-1.0zM35.2 66.3h1.0v1.0h-1.0zM34.5 65.6h1.0v1.0h-1.0zM32.1 66.7h1.0v1.0h-1.0zM32.2 68.0h1.0v1.0h-1.0zM28.0 68.6h1.0v1.0h-1.0zM28.6 65.4h1.0v1.0h-1.0zM26.9 63.5h1.0v1.0h-1.0zM24.8 64.1h1.0v1.0h-1.0zM21.2 62.6h1.0v1.0h-1.0zM16.8 64.8h1.0v1.0h-1.0zM16.3 59.5h1.0v1.0h-1.0zM14.0 56.5h1.0v1.0h-1.0zM13.1 58.8h1.0v1.0h-1.0zM10.3 54.2h1.0v1.0h-1.0zM10.8 50.6h1.0v1.0h-1.0zM5.8 52.8h1.0v1.0h-1.0zM7.7 48.5h1.0v1.0h-1.0zM7.9 47.0h1.0v1.0h-1.0zM5.2 47.3h1.0v1.0h-1.0zM7.4 44.6h1.0v1.0h-1.0zM1.9 43.5h1.0v1.0h-1.0zM4.0 41.9h1.0v1.0h-1.0zM2.1 40.5h1.0v1.0h-1.0zM4.1 38.6h1.0v1.0h-1.0zM2.5 35.7h1.0v1.0h-1.0zM3.6 36.3h1.0v1.0h-1.0zM3.4 32.4h1.0v1.0h-1.0zM5.1 32.8h1.0v1.0h-1.0zM1.5 28.9h1.0v1.0h-1.0zM3.9 31.0h1.0v1.0h-1.0zM5.8 27.1h1.0v1.0h-1.0zM6.5 25.1h1.0v1.0h-1.0zM3.5 24.0h1.0v1.0h-1.0zM6.3 19.6h1.0v1.0h-1.0zM6.7 18.3h1.0v1.0h-1.0zM11.8 18.3h1.0v1.0h-1.0zM13.4 14.3h1.0v1.0h-1.0zM15.5 13.2h1.0v1.0h-1.0zM18.4 16.3h1.0v1.0h-1.0zM23.1 16.7h1.0v1.0h-1.0zM25.1 16.4h1.0v1.0h-1.0zM29.4 16.5h1.0v1.0h-1.0zM30.1 17.6h1.0v1.0h-1.0zM30.7 18.2h1.0v1.0h-1.0zM35.8 18.4h1.0v1.0h-1.0zM40.4 19.0h1.0v1.0h-1.0zM36.8 22.6h1.0v1.0h-1.0zM40.2 25.7h1.0v1.0h-1.0zM41.2 23.0h1.0v1.0h-1.0zM41.8 28.1h1.0v1.0h-1.0zM40.7 27.1h1.0v1.0h-1.0zM43.1 30.4h1.0v1.0h-1.0zM44.2 30.3h1.0v1.0h-1.0zM45.2 32.4h1.0v1.0h-1.0zM48.3 31.5h1.0v1.0h-1.0zM47.7 36.8h1.0v1.0h-1.0zM49.1 35.1h1.0v1.0h-1.0zM46.9 38.5h1.0v1.0h-1.0zM47.6 38.1h1.0v1.0h-1.0zM52.8 42.3h1.0v1.0h-1.0zM51.8 42.4h1.0v1.0h-1.0zM55.5 45.6h1.0v1.0h-1.0zM54.4 45.2h1.0v1.0h-1.0zM49.5 49.0h1.0v1.0h-1.0zM49.4 50.8h1.0v1.0h-1.0zM49.7 54.2h1.0v1.0h-1.0zM48.4 53.5h1.0v1.0h-1.0zM48.0 56.6h1.0v1.0h-1.0zM46.6 58.6h1.0v1.0h-1.0zM47.9 60.5h1.0v1.0h-1.0zM45.0 61.2h1.0v1.0h-1.0z" fill="url(#mix)"/><path d="M33.6 51.0h1.0v1.0h-1.0zM28.5 59.3h1.0v1.0h-1.0zM28.2 62.1h1.0v1.0h-1.0zM18.9 67.2h1.0v1.0h-1.0zM14.6 61.5h1.0v1.0h-1.0zM7.7 55.7h1.0v1.0h-1.0zM7.4 51.5h1.0v1.0h-1.0zM6.0 49.7h1.0v1.0h-1.0zM6.0 42.4h1.0v1.0h-1.0zM6.1 35.7h1.0v1.0h-1.0zM5.1 32.6h1.0v1.0h-1.0zM3.7 24.4h1.0v1.0h-1.0zM16.1 27.3h1.0v1.0h-1.0zM25.9 23.6h1.0v1.0h-1.0zM30.9 27.3h1.0v1.0h-1.0zM30.5 28.8h1.0v1.0h-1.0zM32.5 32.4h1.0v1.0h-1.0zM34.8 35.6h1.0v1.0h-1.0zM35.6 38.3h1.0v1.0h-1.0zM34.0 43.5h1.0v1.0h-1.0z" fill="#efd335"/><path d="M30.1 20.4h1.0v1.0h-1.0zM26.0 18.7h1.0v1.0h-1.0zM22.0 23.9h1.0v1.0h-1.0zM18.7 22.5h1.0v1.0h-1.0zM15.6 24.4h1.0v1.0h-1.0zM5.0 22.0h1.0v1.0h-1.0zM7.1 17.5h1.0v1.0h-1.0zM0.8 13.5h1.0v1.0h-1.0zM2.5 10.1h1.0v1.0h-1.0zM5.1 8.8h1.0v1.0h-1.0zM6.3 3.9h1.0v1.0h-1.0zM10.9 2.8h1.0v1.0h-1.0zM19.4 1.3h1.0v1.0h-1.0zM20.5 4.4h1.0v1.0h-1.0zM23.3 6.3h1.0v1.0h-1.0zM30.6 9.0h1.0v1.0h-1.0zM28.8 13.5h1.0v1.0h-1.0zM28.2 14.8h1.0v1.0h-1.0z" fill="#684387"/></g>
<path d="M235.25,463.40V537.00H295.95" fill="none" stroke="#3a3a3a" stroke-width="1.45"/>
<text x="341.11" y="462.10" font-size="11" text-anchor="middle" fill="#0a0a0a" class="t">0.682</text>
<g transform="translate(305.70,463.40)"><g filter="url(#rough)"><polygon points="41.8,53.1 41.7,54.6 41.2,56.1 40.5,57.5 39.5,58.8 38.2,60.1 36.8,61.2 35.1,62.2 33.2,63.0 31.1,63.7 29.0,64.2 26.8,64.5 24.5,64.6 22.3,64.5 20.0,64.2 17.9,63.7 15.9,63.0 14.0,62.2 12.3,61.2 10.8,60.1 9.5,58.8 8.5,57.5 7.8,56.1 7.4,54.6 7.2,53.1 7.4,51.6 7.8,50.1 8.5,48.7 9.5,47.3 10.8,46.1 12.3,45.0 14.0,44.0 15.9,43.1 17.9,42.5 20.0,42.0 22.3,41.7 24.5,41.6 26.8,41.7 29.0,42.0 31.1,42.5 33.2,43.1 35.1,44.0 36.8,45.0 38.2,46.1 39.5,47.3 40.5,48.7 41.2,50.1 41.7,51.6" fill="#efd335"/><polygon points="6.0,38.5 16.7,35.6 30.4,34.6 42.0,39.5 44.0,48.2 30.4,47.2 16.7,44.7 7.0,42.8" fill="#5eaa9d"/><polygon points="26.1,22.6 26.0,24.5 25.7,26.4 25.3,28.3 24.7,30.0 23.9,31.7 23.1,33.1 22.0,34.4 20.9,35.5 19.7,36.4 18.4,37.0 17.1,37.4 15.8,37.5 14.4,37.4 13.1,37.0 11.8,36.4 10.6,35.5 9.5,34.4 8.5,33.1 7.6,31.7 6.8,30.0 6.2,28.3 5.8,26.4 5.6,24.5 5.5,22.6 5.6,20.6 5.8,18.7 6.2,16.8 6.8,15.1 7.6,13.4 8.5,12.0 9.5,10.7 10.6,9.6 11.8,8.7 13.1,8.1 14.4,7.7 15.8,7.6 17.1,7.7 18.4,8.1 19.7,8.7 20.9,9.6 22.0,10.7 23.1,12.0 23.9,13.4 24.7,15.1 25.3,16.8 25.7,18.7 26.0,20.6" fill="#684387"/></g><path d="M43.6 55.7h1.0v1.0h-1.0zM42.7 58.4h1.0v1.0h-1.0zM33.6 66.6h1.0v1.0h-1.0zM30.2 68.7h1.0v1.0h-1.0zM25.9 67.3h1.0v1.0h-1.0zM23.2 68.8h1.0v1.0h-1.0zM19.6 67.3h1.0v1.0h-1.0zM12.0 65.5h1.0v1.0h-1.0zM8.7 63.4h1.0v1.0h-1.0zM7.4 59.8h1.0v1.0h-1.0zM6.4 57.2h1.0v1.0h-1.0zM9.8 43.7h1.0v1.0h-1.0zM13.3 42.9h1.0v1.0h-1.0zM15.0 38.2h1.0v1.0h-1.0zM21.3 39.6h1.0v1.0h-1.0zM28.5 39.7h1.0v1.0h-1.0zM30.1 40.6h1.0v1.0h-1.0zM45.6 40.8h1.0v1.0h-1.0zM44.7 45.3h1.0v1.0h-1.0zM46.2 50.2h1.0v1.0h-1.0zM44.8 52.5h1.0v1.0h-1.0z" fill="#efd335"/><path d="M10.1 35.2h1.0v1.0h-1.0zM13.9 30.2h1.0v1.0h-1.0zM29.7 32.7h1.0v1.0h-1.0zM20.3 32.6h1.0v1.0h-1.0zM29.4 30.4h1.0v1.0h-1.0zM36.4 31.0h1.0v1.0h-1.0zM33.3 32.8h1.0v1.0h-1.0zM42.2 32.3h1.0v1.0h-1.0zM43.8 42.1h1.0v1.0h-1.0zM45.3 39.2h1.0v1.0h-1.0zM44.0 49.5h1.0v1.0h-1.0zM41.5 50.7h1.0v1.0h-1.0zM31.7 53.1h1.0v1.0h-1.0zM24.3 49.2h1.0v1.0h-1.0zM19.5 49.2h1.0v1.0h-1.0zM28.1 50.5h1.0v1.0h-1.0zM15.2 48.9h1.0v1.0h-1.0zM11.9 46.5h1.0v1.0h-1.0zM2.6 41.3h1.0v1.0h-1.0z" fill="#5eaa9d"/><path d="M27.8 24.0h1.0v1.0h-1.0zM30.2 25.7h1.0v1.0h-1.0zM31.5 31.4h1.0v1.0h-1.0zM25.8 31.6h1.0v1.0h-1.0zM27.2 35.2h1.0v1.0h-1.0zM26.1 37.1h1.0v1.0h-1.0zM17.5 38.8h1.0v1.0h-1.0zM15.2 39.9h1.0v1.0h-1.0zM12.5 40.5h1.0v1.0h-1.0zM11.5 39.1h1.0v1.0h-1.0zM7.9 40.5h1.0v1.0h-1.0zM9.2 35.9h1.0v1.0h-1.0zM5.8 33.8h1.0v1.0h-1.0zM0.7 29.6h1.0v1.0h-1.0zM1.2 26.3h1.0v1.0h-1.0zM2.7 20.7h1.0v1.0h-1.0zM3.0 20.0h1.0v1.0h-1.0zM3.3 17.9h1.0v1.0h-1.0zM5.1 14.6h1.0v1.0h-1.0zM0.2 10.4h1.0v1.0h-1.0zM8.8 8.4h1.0v1.0h-1.0zM10.6 6.2h1.0v1.0h-1.0zM12.7 3.6h1.0v1.0h-1.0zM14.5 3.2h1.0v1.0h-1.0zM16.5 5.7h1.0v1.0h-1.0zM22.7 6.9h1.0v1.0h-1.0zM23.2 8.3h1.0v1.0h-1.0zM26.2 8.8h1.0v1.0h-1.0zM27.3 11.7h1.0v1.0h-1.0zM30.0 16.9h1.0v1.0h-1.0zM33.7 18.0h1.0v1.0h-1.0z" fill="#684387"/></g>
<path d="M305.70,463.40V537.00H366.40" fill="none" stroke="#3a3a3a" stroke-width="1.45"/>
<text x="411.50" y="462.10" font-size="11" text-anchor="middle" fill="#0a0a0a" class="t">0.691</text>
<g transform="translate(376.15,463.40)"><g filter="url(#rough)"><polygon points="51.1,54.1 50.9,55.6 50.5,57.0 49.7,58.4 48.7,59.8 47.3,61.0 45.7,62.2 43.9,63.2 42.0,64.0 39.8,64.7 37.6,65.1 35.2,65.4 32.8,65.5 30.4,65.4 28.1,65.1 25.8,64.7 23.7,64.0 21.7,63.2 19.9,62.2 18.3,61.0 17.0,59.8 15.9,58.4 15.2,57.0 14.7,55.6 14.5,54.1 14.7,52.6 15.2,51.1 15.9,49.7 17.0,48.3 18.3,47.1 19.9,45.9 21.7,45.0 23.7,44.1 25.8,43.5 28.1,43.0 30.4,42.7 32.8,42.6 35.2,42.7 37.6,43.0 39.8,43.5 42.0,44.1 43.9,45.0 45.7,45.9 47.3,47.1 48.7,48.3 49.7,49.7 50.5,51.1 50.9,52.6" fill="#efd335"/><polygon points="10.5,39.5 24.1,35.6 43.5,37.5 50.3,40.4 49.4,46.3 35.7,45.7 18.2,46.7 10.5,43.6" fill="#5eaa9d"/><polygon points="52.9,23.9 52.7,25.9 52.4,27.8 51.9,29.6 51.2,31.4 50.3,33.0 49.3,34.5 48.1,35.8 46.7,36.9 45.3,37.7 43.8,38.4 42.2,38.8 40.6,38.9 39.0,38.8 37.4,38.4 35.9,37.7 34.5,36.9 33.1,35.8 31.9,34.5 30.9,33.0 30.0,31.4 29.3,29.6 28.8,27.8 28.5,25.9 28.4,23.9 28.5,22.0 28.8,20.0 29.3,18.2 30.0,16.4 30.9,14.8 31.9,13.3 33.1,12.0 34.5,11.0 35.9,10.1 37.4,9.5 39.0,9.1 40.6,8.9 42.2,9.1 43.8,9.5 45.3,10.1 46.7,11.0 48.1,12.0 49.3,13.3 50.3,14.8 51.2,16.4 51.9,18.2 52.4,20.0 52.7,22.0" fill="#684387"/></g><path d="M56.6 54.5h1.0v1.0h-1.0zM53.9 59.5h1.0v1.0h-1.0zM48.8 64.6h1.0v1.0h-1.0zM47.0 65.5h1.0v1.0h-1.0zM41.3 66.6h1.0v1.0h-1.0zM37.3 72.0h1.0v1.0h-1.0zM23.4 67.6h1.0v1.0h-1.0zM16.7 64.9h1.0v1.0h-1.0zM11.6 58.9h1.0v1.0h-1.0zM8.1 55.9h1.0v1.0h-1.0zM14.6 48.5h1.0v1.0h-1.0zM16.6 44.4h1.0v1.0h-1.0zM19.0 41.4h1.0v1.0h-1.0zM22.8 42.5h1.0v1.0h-1.0zM23.7 42.6h1.0v1.0h-1.0zM25.3 38.9h1.0v1.0h-1.0zM28.9 40.5h1.0v1.0h-1.0zM32.4 38.9h1.0v1.0h-1.0zM33.2 34.6h1.0v1.0h-1.0zM46.9 41.3h1.0v1.0h-1.0zM53.8 51.2h1.0v1.0h-1.0z" fill="#efd335"/><path d="M11.3 35.2h1.0v1.0h-1.0zM18.1 33.8h1.0v1.0h-1.0zM10.8 37.2h1.0v1.0h-1.0zM35.1 33.9h1.0v1.0h-1.0zM26.2 32.5h1.0v1.0h-1.0zM40.6 33.5h1.0v1.0h-1.0zM39.6 35.6h1.0v1.0h-1.0zM51.4 36.8h1.0v1.0h-1.0zM46.6 35.1h1.0v1.0h-1.0zM52.5 42.7h1.0v1.0h-1.0zM48.5 48.9h1.0v1.0h-1.0zM38.8 49.0h1.0v1.0h-1.0zM48.7 48.5h1.0v1.0h-1.0zM25.3 48.9h1.0v1.0h-1.0zM22.6 52.0h1.0v1.0h-1.0zM26.5 48.7h1.0v1.0h-1.0zM11.4 45.8h1.0v1.0h-1.0zM10.5 47.0h1.0v1.0h-1.0zM5.8 41.0h1.0v1.0h-1.0z" fill="#5eaa9d"/><path d="M56.0 24.8h1.0v1.0h-1.0zM54.4 28.1h1.0v1.0h-1.0zM51.4 38.1h1.0v1.0h-1.0zM43.6 42.2h1.0v1.0h-1.0zM41.5 42.9h1.0v1.0h-1.0zM39.4 40.1h1.0v1.0h-1.0zM36.3 41.7h1.0v1.0h-1.0zM36.5 42.4h1.0v1.0h-1.0zM30.9 39.4h1.0v1.0h-1.0zM31.4 37.0h1.0v1.0h-1.0zM28.9 35.1h1.0v1.0h-1.0zM25.1 35.9h1.0v1.0h-1.0zM26.1 31.5h1.0v1.0h-1.0zM22.6 31.2h1.0v1.0h-1.0zM27.7 27.0h1.0v1.0h-1.0zM25.8 25.9h1.0v1.0h-1.0zM25.6 21.9h1.0v1.0h-1.0zM27.1 20.6h1.0v1.0h-1.0zM24.2 16.6h1.0v1.0h-1.0zM26.3 14.4h1.0v1.0h-1.0zM28.8 10.8h1.0v1.0h-1.0zM33.5 7.4h1.0v1.0h-1.0zM35.3 6.5h1.0v1.0h-1.0zM37.2 6.2h1.0v1.0h-1.0zM46.5 2.7h1.0v1.0h-1.0zM47.8 7.1h1.0v1.0h-1.0zM51.7 9.4h1.0v1.0h-1.0zM53.3 12.4h1.0v1.0h-1.0zM52.7 16.2h1.0v1.0h-1.0zM55.0 16.2h1.0v1.0h-1.0zM58.2 17.5h1.0v1.0h-1.0zM56.8 21.3h1.0v1.0h-1.0zM57.1 22.8h1.0v1.0h-1.0z" fill="#684387"/></g>
<path d="M376.15,463.40V537.00H436.85" fill="none" stroke="#3a3a3a" stroke-width="1.45"/>
<text x="481.89" y="462.10" font-size="11" text-anchor="middle" fill="#0a0a0a" class="t">0.692</text>
<g transform="translate(446.60,463.40)"><g filter="url(#rough)"><polygon points="49.7,18.1 49.6,19.6 49.1,21.1 48.4,22.5 47.4,23.8 46.2,25.1 44.7,26.2 43.0,27.2 41.1,28.0 39.1,28.7 36.9,29.2 34.7,29.5 32.4,29.6 30.2,29.5 28.0,29.2 25.8,28.7 23.8,28.0 21.9,27.2 20.2,26.2 18.7,25.1 17.4,23.8 16.4,22.5 15.7,21.1 15.3,19.6 15.1,18.1 15.3,16.6 15.7,15.1 16.4,13.7 17.4,12.3 18.7,11.1 20.2,10.0 21.9,9.0 23.8,8.1 25.8,7.5 28.0,7.0 30.2,6.7 32.4,6.6 34.7,6.7 36.9,7.0 39.1,7.5 41.1,8.1 43.0,9.0 44.7,10.0 46.2,11.1 47.4,12.3 48.4,13.7 49.1,15.1 49.6,16.6" fill="#efd335"/><polygon points="8.1,30.7 17.8,27.4 37.3,27.4 49.9,29.4 50.5,34.6 37.3,36.0 21.7,35.8 9.1,33.8" fill="#5eaa9d"/><polygon points="53.0,49.6 52.9,51.8 52.7,54.1 52.2,56.2 51.5,58.2 50.7,60.1 49.7,61.8 48.6,63.3 47.3,64.6 46.0,65.6 44.5,66.3 43.1,66.7 41.6,66.9 40.1,66.7 38.6,66.3 37.2,65.6 35.8,64.6 34.6,63.3 33.5,61.8 32.5,60.1 31.6,58.2 31.0,56.2 30.5,54.1 30.2,51.8 30.1,49.6 30.2,47.3 30.5,45.1 31.0,43.0 31.6,40.9 32.5,39.0 33.5,37.3 34.6,35.9 35.8,34.6 37.2,33.6 38.6,32.9 40.1,32.4 41.6,32.3 43.1,32.4 44.5,32.9 46.0,33.6 47.3,34.6 48.6,35.9 49.7,37.3 50.7,39.0 51.5,40.9 52.2,43.0 52.7,45.1 52.9,47.3" fill="#684387"/></g><path d="M57.6 22.4h1.0v1.0h-1.0zM41.6 34.3h1.0v1.0h-1.0zM34.0 32.4h1.0v1.0h-1.0zM31.1 32.8h1.0v1.0h-1.0zM24.8 35.3h1.0v1.0h-1.0zM23.1 31.1h1.0v1.0h-1.0zM21.2 32.5h1.0v1.0h-1.0zM14.7 23.4h1.0v1.0h-1.0zM11.2 21.4h1.0v1.0h-1.0zM12.0 13.1h1.0v1.0h-1.0zM14.2 8.0h1.0v1.0h-1.0zM19.4 5.8h1.0v1.0h-1.0zM33.3 2.1h1.0v1.0h-1.0zM39.4 2.9h1.0v1.0h-1.0zM44.3 5.4h1.0v1.0h-1.0zM45.2 7.8h1.0v1.0h-1.0zM46.4 7.3h1.0v1.0h-1.0zM49.1 8.9h1.0v1.0h-1.0zM50.1 11.0h1.0v1.0h-1.0zM54.6 16.4h1.0v1.0h-1.0z" fill="#efd335"/><path d="M12.1 23.3h1.0v1.0h-1.0zM10.2 24.6h1.0v1.0h-1.0zM32.2 26.2h1.0v1.0h-1.0zM18.3 25.2h1.0v1.0h-1.0zM18.7 24.9h1.0v1.0h-1.0zM20.8 23.9h1.0v1.0h-1.0zM45.6 24.8h1.0v1.0h-1.0zM45.0 23.6h1.0v1.0h-1.0zM47.5 25.8h1.0v1.0h-1.0zM58.3 29.7h1.0v1.0h-1.0zM45.5 42.9h1.0v1.0h-1.0zM44.6 41.1h1.0v1.0h-1.0zM40.9 39.9h1.0v1.0h-1.0zM26.5 37.9h1.0v1.0h-1.0zM30.2 37.2h1.0v1.0h-1.0zM26.1 40.5h1.0v1.0h-1.0zM16.4 38.2h1.0v1.0h-1.0zM10.2 36.2h1.0v1.0h-1.0zM13.8 39.9h1.0v1.0h-1.0zM2.4 32.9h1.0v1.0h-1.0z" fill="#5eaa9d"/><path d="M58.2 51.4h1.0v1.0h-1.0zM56.3 55.0h1.0v1.0h-1.0zM54.3 55.6h1.0v1.0h-1.0zM55.8 59.4h1.0v1.0h-1.0zM54.4 59.9h1.0v1.0h-1.0zM57.0 63.9h1.0v1.0h-1.0zM48.3 72.1h1.0v1.0h-1.0zM44.4 69.7h1.0v1.0h-1.0zM43.3 70.5h1.0v1.0h-1.0zM28.5 62.1h1.0v1.0h-1.0zM28.0 59.6h1.0v1.0h-1.0zM26.5 59.9h1.0v1.0h-1.0zM23.4 53.6h1.0v1.0h-1.0zM26.5 50.4h1.0v1.0h-1.0zM27.3 48.2h1.0v1.0h-1.0zM27.4 47.0h1.0v1.0h-1.0zM28.9 40.9h1.0v1.0h-1.0zM29.9 38.7h1.0v1.0h-1.0zM34.9 33.8h1.0v1.0h-1.0zM37.6 26.4h1.0v1.0h-1.0zM39.8 27.3h1.0v1.0h-1.0zM44.5 29.5h1.0v1.0h-1.0zM48.8 29.8h1.0v1.0h-1.0zM51.7 33.3h1.0v1.0h-1.0zM51.9 35.5h1.0v1.0h-1.0zM56.2 38.2h1.0v1.0h-1.0zM53.8 43.0h1.0v1.0h-1.0zM55.7 45.9h1.0v1.0h-1.0z" fill="#684387"/></g>
<path d="M446.60,463.40V537.00H507.30" fill="none" stroke="#3a3a3a" stroke-width="1.45"/>
<text x="552.28" y="462.10" font-size="11" text-anchor="middle" fill="#0a0a0a" class="t">0.704</text>
<g transform="translate(517.05,463.40)"><g filter="url(#rough)"><polygon points="46.0,51.1 45.8,52.8 45.3,54.4 44.5,55.9 43.4,57.4 42.1,58.7 40.4,59.9 38.6,61.0 36.5,61.9 34.3,62.6 32.0,63.2 29.6,63.5 27.1,63.6 24.6,63.5 22.2,63.2 19.9,62.6 17.7,61.9 15.6,61.0 13.8,59.9 12.1,58.7 10.8,57.4 9.7,55.9 8.9,54.4 8.4,52.8 8.2,51.1 8.4,49.5 8.9,47.9 9.7,46.4 10.8,44.9 12.1,43.6 13.8,42.3 15.6,41.3 17.7,40.4 19.9,39.6 22.2,39.1 24.6,38.8 27.1,38.7 29.6,38.8 32.0,39.1 34.3,39.6 36.5,40.4 38.6,41.3 40.4,42.3 42.1,43.6 43.4,44.9 44.5,46.4 45.3,47.9 45.8,49.5" fill="#efd335"/><polygon points="8.6,36.0 21.3,31.7 36.8,30.7 50.4,34.2 48.9,41.4 29.0,42.0 9.6,41.8" fill="#5eaa9d"/><polygon points="30.6,21.6 30.5,23.6 30.2,25.6 29.7,27.5 29.0,29.3 28.1,30.9 27.0,32.4 25.8,33.8 24.5,34.9 23.0,35.8 21.5,36.4 20.0,36.8 18.4,36.9 16.8,36.8 15.2,36.4 13.7,35.8 12.2,34.9 10.9,33.8 9.7,32.4 8.6,30.9 7.7,29.3 7.0,27.5 6.5,25.6 6.2,23.6 6.1,21.6 6.2,19.6 6.5,17.6 7.0,15.7 7.7,13.9 8.6,12.2 9.7,10.7 10.9,9.4 12.2,8.3 13.7,7.4 15.2,6.7 16.8,6.4 18.4,6.2 20.0,6.4 21.5,6.7 23.0,7.4 24.5,8.3 25.8,9.4 27.0,10.7 28.1,12.2 29.0,13.9 29.7,15.7 30.2,17.6 30.5,19.6" fill="#684387"/></g><path d="M50.1 56.1h1.0v1.0h-1.0zM46.7 58.8h1.0v1.0h-1.0zM45.3 59.4h1.0v1.0h-1.0zM39.7 62.6h1.0v1.0h-1.0zM38.0 68.6h1.0v1.0h-1.0zM25.9 66.5h1.0v1.0h-1.0zM22.2 72.9h1.0v1.0h-1.0zM17.9 66.0h1.0v1.0h-1.0zM9.9 61.4h1.0v1.0h-1.0zM3.0 52.9h1.0v1.0h-1.0zM5.4 49.6h1.0v1.0h-1.0zM3.6 43.4h1.0v1.0h-1.0zM7.8 41.2h1.0v1.0h-1.0zM13.2 38.0h1.0v1.0h-1.0zM14.2 36.4h1.0v1.0h-1.0zM25.4 35.9h1.0v1.0h-1.0zM34.4 34.3h1.0v1.0h-1.0zM38.6 39.1h1.0v1.0h-1.0zM40.2 39.6h1.0v1.0h-1.0zM44.1 41.5h1.0v1.0h-1.0zM50.1 46.2h1.0v1.0h-1.0z" fill="#efd335"/><path d="M14.0 30.4h1.0v1.0h-1.0zM13.1 30.9h1.0v1.0h-1.0zM34.7 28.2h1.0v1.0h-1.0zM35.3 26.9h1.0v1.0h-1.0zM28.9 25.1h1.0v1.0h-1.0zM37.9 29.1h1.0v1.0h-1.0zM45.7 29.1h1.0v1.0h-1.0zM49.8 30.0h1.0v1.0h-1.0zM51.8 38.7h1.0v1.0h-1.0zM52.8 37.4h1.0v1.0h-1.0zM45.3 45.3h1.0v1.0h-1.0zM32.3 47.4h1.0v1.0h-1.0zM43.1 44.7h1.0v1.0h-1.0zM45.0 45.2h1.0v1.0h-1.0zM11.5 45.0h1.0v1.0h-1.0zM22.0 47.4h1.0v1.0h-1.0zM22.6 44.9h1.0v1.0h-1.0zM15.8 46.0h1.0v1.0h-1.0zM4.6 41.5h1.0v1.0h-1.0z" fill="#5eaa9d"/><path d="M36.0 24.1h1.0v1.0h-1.0zM36.0 25.1h1.0v1.0h-1.0zM34.7 27.8h1.0v1.0h-1.0zM32.3 32.5h1.0v1.0h-1.0zM30.0 32.0h1.0v1.0h-1.0zM28.9 36.4h1.0v1.0h-1.0zM27.4 39.9h1.0v1.0h-1.0zM24.3 40.5h1.0v1.0h-1.0zM20.3 39.7h1.0v1.0h-1.0zM14.2 40.9h1.0v1.0h-1.0zM11.8 36.8h1.0v1.0h-1.0zM10.8 35.9h1.0v1.0h-1.0zM3.7 37.3h1.0v1.0h-1.0zM7.1 32.3h1.0v1.0h-1.0zM5.4 27.7h1.0v1.0h-1.0zM1.1 20.5h1.0v1.0h-1.0zM3.5 18.8h1.0v1.0h-1.0zM1.5 15.1h1.0v1.0h-1.0zM4.4 11.7h1.0v1.0h-1.0zM6.9 9.8h1.0v1.0h-1.0zM8.8 9.5h1.0v1.0h-1.0zM13.6 4.0h1.0v1.0h-1.0zM17.6 -0.6h1.0v1.0h-1.0zM18.9 4.8h1.0v1.0h-1.0zM22.8 2.7h1.0v1.0h-1.0zM26.6 7.6h1.0v1.0h-1.0zM36.3 12.4h1.0v1.0h-1.0zM33.0 17.8h1.0v1.0h-1.0zM35.7 19.5h1.0v1.0h-1.0z" fill="#684387"/></g>
<path d="M517.05,463.40V537.00H577.75" fill="none" stroke="#3a3a3a" stroke-width="1.45"/>
<text x="622.67" y="462.10" font-size="11" text-anchor="middle" fill="#0a0a0a" class="t">0.706</text>
<g transform="translate(587.50,463.40)"><g filter="url(#rough)"><polygon points="44.7,57.0 43.4,58.3 41.8,59.4 39.9,60.2 37.9,60.7 35.7,60.9 33.4,60.8 31.0,60.4 28.6,59.7 26.1,58.8 23.7,57.5 21.4,56.1 19.2,54.4 17.2,52.5 15.3,50.5 13.7,48.3 12.3,46.1 11.2,43.8 10.4,41.5 10.0,39.3 9.8,37.1 9.9,35.0 10.4,33.1 11.2,31.3 12.2,29.7 13.6,28.4 15.2,27.3 17.0,26.6 19.0,26.1 21.2,25.8 23.5,25.9 25.9,26.3 28.4,27.0 30.8,28.0 33.2,29.2 35.5,30.7 37.7,32.3 39.8,34.2 41.6,36.2 43.2,38.4 44.6,40.6 45.7,42.9 46.5,45.2 47.0,47.5 47.2,49.6 47.0,51.7 46.5,53.7 45.8,55.4" fill="url(#mix)"/><polygon points="34.3,57.2 33.5,58.1 32.4,58.7 31.3,59.2 30.0,59.5 28.5,59.6 27.0,59.5 25.5,59.3 23.9,58.8 22.3,58.1 20.7,57.3 19.2,56.3 17.7,55.2 16.4,54.0 15.2,52.7 14.1,51.2 13.2,49.8 12.4,48.3 11.9,46.8 11.5,45.3 11.4,43.9 11.4,42.6 11.7,41.3 12.2,40.2 12.9,39.2 13.7,38.4 14.8,37.7 15.9,37.2 17.3,36.9 18.7,36.8 20.2,36.9 21.7,37.2 23.3,37.7 24.9,38.3 26.5,39.1 28.0,40.1 29.5,41.2 30.8,42.5 32.1,43.8 33.1,45.2 34.1,46.7 34.8,48.1 35.3,49.6 35.7,51.1 35.8,52.5 35.8,53.9 35.5,55.1 35.0,56.2" fill="#efd335" fill-opacity="0.55"/><polygon points="44.1,43.0 43.5,43.5 42.8,43.8 42.0,44.0 41.1,44.1 40.0,44.1 38.9,43.9 37.7,43.5 36.5,43.0 35.3,42.4 34.0,41.7 32.8,40.8 31.6,39.9 30.5,38.9 29.5,37.8 28.6,36.8 27.7,35.6 27.0,34.5 26.5,33.4 26.1,32.4 25.8,31.4 25.8,30.4 25.8,29.6 26.1,28.8 26.5,28.2 27.0,27.7 27.7,27.3 28.5,27.1 29.5,27.0 30.5,27.1 31.6,27.3 32.8,27.7 34.0,28.2 35.3,28.8 36.5,29.5 37.7,30.3 38.9,31.3 40.0,32.3 41.0,33.3 42.0,34.4 42.8,35.5 43.5,36.6 44.0,37.7 44.5,38.8 44.7,39.8 44.8,40.7 44.7,41.6 44.5,42.3" fill="#5eaa9d" fill-opacity="0.45"/><polygon points="28.1,18.1 28.0,19.5 27.7,20.8 27.3,22.1 26.7,23.3 25.9,24.5 25.1,25.5 24.0,26.4 22.9,27.2 21.7,27.8 20.4,28.2 19.1,28.5 17.8,28.6 16.4,28.5 15.1,28.2 13.8,27.8 12.6,27.2 11.5,26.4 10.5,25.5 9.6,24.5 8.8,23.3 8.3,22.1 7.8,20.8 7.6,19.5 7.5,18.1 7.6,16.7 7.8,15.4 8.3,14.1 8.8,12.8 9.6,11.7 10.5,10.7 11.5,9.8 12.6,9.0 13.8,8.4 15.1,7.9 16.4,7.7 17.8,7.6 19.1,7.7 20.4,7.9 21.7,8.4 22.9,9.0 24.0,9.8 25.1,10.7 25.9,11.7 26.7,12.8 27.3,14.1 27.7,15.4 28.0,16.7" fill="#684387"/></g><path d="M46.7 59.3h1.0v1.0h-1.0zM44.0 60.1h1.0v1.0h-1.0zM43.7 64.8h1.0v1.0h-1.0zM40.8 64.7h1.0v1.0h-1.0zM38.3 69.6h1.0v1.0h-1.0zM33.5 64.0h1.0v1.0h-1.0zM35.7 65.5h1.0v1.0h-1.0zM33.3 63.7h1.0v1.0h-1.0zM29.6 63.3h1.0v1.0h-1.0zM27.0 61.0h1.0v1.0h-1.0zM23.4 61.7h1.0v1.0h-1.0zM24.3 58.9h1.0v1.0h-1.0zM19.5 60.5h1.0v1.0h-1.0zM22.1 59.9h1.0v1.0h-1.0zM16.6 61.7h1.0v1.0h-1.0zM11.6 59.3h1.0v1.0h-1.0zM17.2 55.3h1.0v1.0h-1.0zM14.4 52.7h1.0v1.0h-1.0zM13.1 52.3h1.0v1.0h-1.0zM10.8 54.0h1.0v1.0h-1.0zM10.1 47.3h1.0v1.0h-1.0zM7.8 47.8h1.0v1.0h-1.0zM5.9 47.6h1.0v1.0h-1.0zM9.7 43.4h1.0v1.0h-1.0zM6.0 41.5h1.0v1.0h-1.0zM8.5 40.7h1.0v1.0h-1.0zM8.3 38.1h1.0v1.0h-1.0zM7.4 35.3h1.0v1.0h-1.0zM7.2 33.3h1.0v1.0h-1.0zM9.1 31.4h1.0v1.0h-1.0zM9.4 29.3h1.0v1.0h-1.0zM10.3 27.1h1.0v1.0h-1.0zM13.0 25.0h1.0v1.0h-1.0zM13.7 24.4h1.0v1.0h-1.0zM17.5 22.7h1.0v1.0h-1.0zM20.2 22.6h1.0v1.0h-1.0zM24.0 22.1h1.0v1.0h-1.0zM26.9 20.7h1.0v1.0h-1.0zM27.0 24.9h1.0v1.0h-1.0zM27.7 24.9h1.0v1.0h-1.0zM30.5 24.5h1.0v1.0h-1.0zM32.9 25.1h1.0v1.0h-1.0zM34.5 27.0h1.0v1.0h-1.0zM37.7 26.1h1.0v1.0h-1.0zM38.0 29.1h1.0v1.0h-1.0zM41.5 29.8h1.0v1.0h-1.0zM39.0 29.9h1.0v1.0h-1.0zM40.9 32.8h1.0v1.0h-1.0zM44.0 31.4h1.0v1.0h-1.0zM46.8 34.9h1.0v1.0h-1.0zM47.2 39.5h1.0v1.0h-1.0zM47.6 42.3h1.0v1.0h-1.0zM51.7 42.6h1.0v1.0h-1.0zM48.2 46.7h1.0v1.0h-1.0zM50.9 49.1h1.0v1.0h-1.0zM51.8 50.1h1.0v1.0h-1.0zM53.9 56.1h1.0v1.0h-1.0zM47.9 54.7h1.0v1.0h-1.0zM46.8 58.8h1.0v1.0h-1.0z" fill="url(#mix)"/><path d="M34.5 59.8h1.0v1.0h-1.0zM31.8 63.2h1.0v1.0h-1.0zM19.7 59.6h1.0v1.0h-1.0zM13.1 64.1h1.0v1.0h-1.0zM13.1 56.1h1.0v1.0h-1.0zM15.0 35.1h1.0v1.0h-1.0zM19.2 32.4h1.0v1.0h-1.0zM26.1 34.9h1.0v1.0h-1.0zM32.2 36.5h1.0v1.0h-1.0zM39.1 43.5h1.0v1.0h-1.0zM34.9 45.4h1.0v1.0h-1.0zM39.1 46.3h1.0v1.0h-1.0zM37.9 49.7h1.0v1.0h-1.0zM41.7 54.7h1.0v1.0h-1.0zM39.6 57.0h1.0v1.0h-1.0z" fill="#efd335"/><path d="M31.0 20.3h1.0v1.0h-1.0zM30.3 26.4h1.0v1.0h-1.0zM27.1 27.0h1.0v1.0h-1.0zM23.2 32.4h1.0v1.0h-1.0zM10.2 39.7h1.0v1.0h-1.0zM8.3 27.1h1.0v1.0h-1.0zM2.9 21.0h1.0v1.0h-1.0zM14.2 4.1h1.0v1.0h-1.0zM20.0 5.2h1.0v1.0h-1.0zM22.7 4.5h1.0v1.0h-1.0zM24.2 6.0h1.0v1.0h-1.0zM27.1 9.6h1.0v1.0h-1.0zM29.3 12.4h1.0v1.0h-1.0z" fill="#684387"/></g>
<path d="M587.50,463.40V537.00H648.20" fill="none" stroke="#3a3a3a" stroke-width="1.45"/>
<text x="693.06" y="462.10" font-size="11" text-anchor="middle" fill="#0a0a0a" class="t">0.707</text>
<g transform="translate(657.95,463.40)"><g filter="url(#rough)"><polygon points="48.1,38.3 47.2,40.2 46.0,42.0 44.5,43.7 42.8,45.1 40.9,46.3 38.8,47.2 36.5,47.9 34.2,48.3 31.7,48.4 29.2,48.2 26.8,47.8 24.4,47.0 22.1,46.1 19.9,44.8 17.9,43.4 16.1,41.7 14.5,39.9 13.2,37.9 12.2,35.8 11.5,33.7 11.1,31.5 11.0,29.3 11.3,27.2 11.9,25.1 12.8,23.2 13.9,21.4 15.4,19.7 17.1,18.3 19.0,17.1 21.1,16.2 23.4,15.5 25.8,15.1 28.2,15.0 30.7,15.2 33.1,15.6 35.6,16.3 37.9,17.3 40.0,18.6 42.0,20.0 43.8,21.7 45.4,23.5 46.7,25.5 47.7,27.6 48.4,29.7 48.8,31.9 48.9,34.1 48.6,36.2" fill="url(#mix)"/><polygon points="46.9,28.8 46.4,29.7 45.7,30.4 44.8,31.1 43.6,31.6 42.2,32.0 40.7,32.2 39.0,32.3 37.2,32.2 35.2,32.0 33.3,31.6 31.3,31.1 29.3,30.5 27.4,29.7 25.5,28.8 23.8,27.8 22.2,26.8 20.7,25.7 19.5,24.5 18.4,23.3 17.6,22.2 17.1,21.0 16.8,19.9 16.7,18.9 16.9,17.9 17.4,17.0 18.1,16.2 19.1,15.6 20.2,15.0 21.6,14.7 23.1,14.4 24.8,14.4 26.7,14.4 28.6,14.7 30.5,15.0 32.5,15.6 34.5,16.2 36.4,17.0 38.3,17.9 40.0,18.8 41.6,19.9 43.1,21.0 44.3,22.2 45.4,23.3 46.2,24.5 46.7,25.6 47.1,26.8 47.1,27.8" fill="#5eaa9d" fill-opacity="0.7"/><polygon points="36.4,43.9 35.9,44.8 35.3,45.5 34.5,46.2 33.5,46.7 32.3,47.1 31.0,47.4 29.6,47.5 28.1,47.6 26.5,47.4 24.9,47.2 23.3,46.8 21.7,46.2 20.1,45.6 18.6,44.8 17.2,44.0 15.9,43.1 14.7,42.1 13.7,41.1 12.9,40.1 12.3,39.0 11.9,37.9 11.7,36.9 11.7,35.9 11.9,35.0 12.3,34.2 12.9,33.4 13.8,32.8 14.8,32.2 15.9,31.8 17.2,31.5 18.6,31.4 20.1,31.4 21.7,31.5 23.3,31.8 25.0,32.2 26.6,32.7 28.2,33.4 29.7,34.1 31.1,34.9 32.4,35.8 33.5,36.8 34.5,37.8 35.3,38.9 36.0,40.0 36.4,41.0 36.6,42.0 36.6,43.0" fill="#efd335" fill-opacity="0.65"/><polygon points="51.2,55.4 51.1,56.9 50.8,58.3 50.3,59.7 49.6,61.0 48.8,62.2 47.8,63.3 46.7,64.2 45.4,65.0 44.1,65.7 42.7,66.1 41.2,66.4 39.7,66.5 38.2,66.4 36.7,66.1 35.3,65.7 34.0,65.0 32.7,64.2 31.6,63.3 30.6,62.2 29.8,61.0 29.1,59.7 28.6,58.3 28.3,56.9 28.2,55.4 28.3,54.0 28.6,52.5 29.1,51.2 29.8,49.9 30.6,48.7 31.6,47.6 32.7,46.6 34.0,45.8 35.3,45.2 36.7,44.7 38.2,44.4 39.7,44.3 41.2,44.4 42.7,44.7 44.1,45.2 45.4,45.8 46.7,46.6 47.8,47.6 48.8,48.7 49.6,49.9 50.3,51.2 50.8,52.5 51.1,54.0" fill="#684387"/></g><path d="M51.0 39.7h1.0v1.0h-1.0zM50.0 43.3h1.0v1.0h-1.0zM50.3 42.3h1.0v1.0h-1.0zM49.5 48.2h1.0v1.0h-1.0zM46.0 49.9h1.0v1.0h-1.0zM43.5 48.0h1.0v1.0h-1.0zM41.2 48.0h1.0v1.0h-1.0zM39.0 55.5h1.0v1.0h-1.0zM35.4 51.0h1.0v1.0h-1.0zM33.2 50.6h1.0v1.0h-1.0zM30.5 50.9h1.0v1.0h-1.0zM28.1 53.6h1.0v1.0h-1.0zM27.9 52.2h1.0v1.0h-1.0zM24.8 52.5h1.0v1.0h-1.0zM21.4 50.7h1.0v1.0h-1.0zM14.7 56.6h1.0v1.0h-1.0zM17.1 48.2h1.0v1.0h-1.0zM17.2 45.1h1.0v1.0h-1.0zM14.4 45.4h1.0v1.0h-1.0zM12.2 44.7h1.0v1.0h-1.0zM12.9 43.1h1.0v1.0h-1.0zM11.1 41.6h1.0v1.0h-1.0zM11.4 41.8h1.0v1.0h-1.0zM11.1 37.0h1.0v1.0h-1.0zM10.1 38.2h1.0v1.0h-1.0zM10.4 35.5h1.0v1.0h-1.0zM8.2 32.5h1.0v1.0h-1.0zM7.6 34.1h1.0v1.0h-1.0zM3.9 31.2h1.0v1.0h-1.0zM7.8 26.8h1.0v1.0h-1.0zM6.1 23.4h1.0v1.0h-1.0zM7.9 25.5h1.0v1.0h-1.0zM8.5 24.2h1.0v1.0h-1.0zM10.2 24.2h1.0v1.0h-1.0zM9.1 19.1h1.0v1.0h-1.0zM10.1 15.8h1.0v1.0h-1.0zM12.3 19.7h1.0v1.0h-1.0zM15.4 17.1h1.0v1.0h-1.0zM14.4 11.3h1.0v1.0h-1.0zM17.1 13.4h1.0v1.0h-1.0zM21.3 13.3h1.0v1.0h-1.0zM23.1 12.1h1.0v1.0h-1.0zM24.0 13.1h1.0v1.0h-1.0zM26.6 6.9h1.0v1.0h-1.0zM29.6 9.9h1.0v1.0h-1.0zM29.3 12.7h1.0v1.0h-1.0zM32.4 11.0h1.0v1.0h-1.0zM32.6 13.8h1.0v1.0h-1.0zM35.9 12.8h1.0v1.0h-1.0zM38.5 14.4h1.0v1.0h-1.0zM40.5 16.2h1.0v1.0h-1.0zM44.9 14.2h1.0v1.0h-1.0zM45.0 17.6h1.0v1.0h-1.0zM49.7 18.6h1.0v1.0h-1.0zM49.5 23.5h1.0v1.0h-1.0zM50.5 25.7h1.0v1.0h-1.0zM54.2 25.8h1.0v1.0h-1.0zM52.5 29.0h1.0v1.0h-1.0zM51.8 32.0h1.0v1.0h-1.0zM52.4 32.5h1.0v1.0h-1.0zM50.1 35.2h1.0v1.0h-1.0zM49.3 37.9h1.0v1.0h-1.0z" fill="url(#mix)"/><path d="M40.9 36.5h1.0v1.0h-1.0zM36.5 35.1h1.0v1.0h-1.0zM32.7 39.8h1.0v1.0h-1.0zM16.0 22.3h1.0v1.0h-1.0zM14.4 19.7h1.0v1.0h-1.0zM17.4 11.2h1.0v1.0h-1.0zM22.0 12.2h1.0v1.0h-1.0zM50.5 23.2h1.0v1.0h-1.0z" fill="#5eaa9d"/><path d="M33.6 49.9h1.0v1.0h-1.0zM26.7 50.4h1.0v1.0h-1.0zM23.8 50.8h1.0v1.0h-1.0zM16.3 48.5h1.0v1.0h-1.0zM7.4 39.6h1.0v1.0h-1.0zM22.2 28.6h1.0v1.0h-1.0zM34.5 35.7h1.0v1.0h-1.0zM37.5 34.0h1.0v1.0h-1.0z" fill="#efd335"/><path d="M54.9 58.0h1.0v1.0h-1.0zM53.9 60.5h1.0v1.0h-1.0zM53.6 62.0h1.0v1.0h-1.0zM53.1 64.7h1.0v1.0h-1.0zM50.3 64.8h1.0v1.0h-1.0zM48.2 68.1h1.0v1.0h-1.0zM46.0 68.4h1.0v1.0h-1.0zM44.9 69.7h1.0v1.0h-1.0zM42.6 70.3h1.0v1.0h-1.0zM38.5 68.2h1.0v1.0h-1.0zM36.6 69.2h1.0v1.0h-1.0zM34.7 73.0h1.0v1.0h-1.0zM33.2 67.1h1.0v1.0h-1.0zM29.6 66.5h1.0v1.0h-1.0zM28.2 64.3h1.0v1.0h-1.0zM28.9 62.7h1.0v1.0h-1.0zM26.9 59.3h1.0v1.0h-1.0zM26.5 57.6h1.0v1.0h-1.0zM26.1 54.9h1.0v1.0h-1.0zM31.1 45.4h1.0v1.0h-1.0zM32.8 44.4h1.0v1.0h-1.0zM33.4 41.9h1.0v1.0h-1.0zM34.9 40.8h1.0v1.0h-1.0zM36.5 42.9h1.0v1.0h-1.0zM44.0 41.7h1.0v1.0h-1.0zM52.7 50.9h1.0v1.0h-1.0z" fill="#684387"/></g>
<path d="M657.95,463.40V537.00H718.65" fill="none" stroke="#3a3a3a" stroke-width="1.45"/>
<text x="59.55" y="549.60" font-size="11" text-anchor="middle" fill="#0a0a0a" class="t">0.708</text>
<g transform="translate(23.90,550.90)"><g filter="url(#rough)"><polygon points="9.8,38.0 22.4,40.9 38.0,45.8 47.7,48.7 43.8,55.9 36.0,58.8 24.4,55.9 12.7,52.0 9.2,45.8" fill="#5eaa9d"/><polygon points="47.9,36.3 47.0,38.4 45.8,40.4 44.2,42.2 42.5,43.8 40.6,45.2 38.4,46.3 36.2,47.1 33.8,47.6 31.3,47.8 28.9,47.7 26.5,47.3 24.1,46.6 21.8,45.7 19.7,44.4 17.8,42.9 16.1,41.2 14.6,39.2 13.4,37.2 12.4,34.9 11.8,32.6 11.5,30.3 11.5,27.9 11.8,25.6 12.5,23.4 13.4,21.2 14.7,19.2 16.2,17.4 17.9,15.8 19.9,14.5 22.0,13.4 24.3,12.6 26.7,12.0 29.1,11.8 31.5,11.9 34.0,12.3 36.3,13.0 38.6,14.0 40.7,15.3 42.7,16.8 44.4,18.5 45.9,20.4 47.1,22.5 48.0,24.7 48.6,27.0 48.9,29.4 48.9,31.7 48.6,34.0" fill="#efd335"/><polygon points="53.8,54.8 54.0,55.8 54.0,56.8 53.8,57.8 53.4,58.8 52.9,59.8 52.3,60.7 51.4,61.6 50.5,62.4 49.5,63.2 48.3,63.8 47.1,64.4 45.8,64.8 44.5,65.0 43.1,65.2 41.8,65.2 40.6,65.1 39.3,64.9 38.2,64.5 37.1,64.0 36.2,63.4 35.4,62.7 34.7,61.9 34.2,61.0 33.9,60.1 33.7,59.1 33.7,58.1 33.9,57.1 34.2,56.1 34.7,55.1 35.4,54.1 36.2,53.3 37.2,52.4 38.2,51.7 39.4,51.1 40.6,50.5 41.9,50.1 43.2,49.8 44.5,49.7 45.8,49.7 47.1,49.8 48.3,50.0 49.5,50.4 50.5,50.9 51.5,51.5 52.3,52.2 52.9,53.0 53.4,53.8" fill="#684387"/></g><path d="M20.1 38.7h1.0v1.0h-1.0zM10.8 30.8h1.0v1.0h-1.0zM37.3 42.7h1.0v1.0h-1.0zM36.8 39.5h1.0v1.0h-1.0zM31.3 34.2h1.0v1.0h-1.0zM48.5 45.0h1.0v1.0h-1.0zM42.9 43.1h1.0v1.0h-1.0zM51.6 55.9h1.0v1.0h-1.0zM49.1 52.7h1.0v1.0h-1.0zM38.0 61.6h1.0v1.0h-1.0zM43.7 61.7h1.0v1.0h-1.0zM23.4 61.5h1.0v1.0h-1.0zM31.1 59.0h1.0v1.0h-1.0zM31.0 61.1h1.0v1.0h-1.0zM20.1 59.5h1.0v1.0h-1.0zM14.3 54.2h1.0v1.0h-1.0zM8.7 50.4h1.0v1.0h-1.0zM5.2 50.9h1.0v1.0h-1.0zM3.5 44.3h1.0v1.0h-1.0zM6.6 40.5h1.0v1.0h-1.0z" fill="#5eaa9d"/><path d="M48.8 43.5h1.0v1.0h-1.0zM44.6 45.2h1.0v1.0h-1.0zM39.4 49.5h1.0v1.0h-1.0zM33.6 49.0h1.0v1.0h-1.0zM32.2 49.0h1.0v1.0h-1.0zM30.6 54.3h1.0v1.0h-1.0zM27.6 49.4h1.0v1.0h-1.0zM18.8 46.4h1.0v1.0h-1.0zM9.6 35.8h1.0v1.0h-1.0zM8.0 28.6h1.0v1.0h-1.0zM9.4 18.3h1.0v1.0h-1.0zM12.7 16.4h1.0v1.0h-1.0zM17.8 12.5h1.0v1.0h-1.0zM27.2 7.4h1.0v1.0h-1.0zM32.4 9.6h1.0v1.0h-1.0zM35.6 9.7h1.0v1.0h-1.0zM42.9 13.8h1.0v1.0h-1.0zM45.1 16.0h1.0v1.0h-1.0zM51.4 18.8h1.0v1.0h-1.0zM50.0 26.0h1.0v1.0h-1.0zM54.0 26.3h1.0v1.0h-1.0zM53.0 31.0h1.0v1.0h-1.0zM52.0 37.4h1.0v1.0h-1.0z" fill="#efd335"/><path d="M56.1 56.2h1.0v1.0h-1.0zM61.3 58.0h1.0v1.0h-1.0zM52.1 62.7h1.0v1.0h-1.0zM51.1 67.1h1.0v1.0h-1.0zM48.5 67.3h1.0v1.0h-1.0zM38.5 68.4h1.0v1.0h-1.0zM38.0 67.2h1.0v1.0h-1.0zM32.1 64.3h1.0v1.0h-1.0zM30.7 55.5h1.0v1.0h-1.0zM34.0 50.3h1.0v1.0h-1.0zM35.4 50.3h1.0v1.0h-1.0zM39.9 46.2h1.0v1.0h-1.0zM41.8 44.1h1.0v1.0h-1.0zM43.7 47.0h1.0v1.0h-1.0zM45.7 42.7h1.0v1.0h-1.0zM50.3 46.4h1.0v1.0h-1.0zM51.1 49.2h1.0v1.0h-1.0zM52.4 49.6h1.0v1.0h-1.0z" fill="#684387"/></g>
<path d="M23.90,550.90V624.60H84.60" fill="none" stroke="#3a3a3a" stroke-width="1.45"/>
<text x="129.94" y="549.60" font-size="11" text-anchor="middle" fill="#0a0a0a" class="t">0.715</text>
<g transform="translate(94.35,550.90)"><g filter="url(#rough)"><polygon points="10.3,40.9 25.9,40.9 37.5,34.7 47.6,30.8 47.6,38.0 39.5,46.2 29.7,50.0 16.1,46.2" fill="#5eaa9d"/><polygon points="43.5,30.8 42.8,32.9 41.8,34.9 40.6,36.7 39.1,38.4 37.4,39.8 35.6,41.0 33.5,42.0 31.4,42.7 29.2,43.1 26.9,43.3 24.7,43.1 22.5,42.7 20.3,41.9 18.3,41.0 16.4,39.7 14.7,38.2 13.2,36.6 11.9,34.7 10.9,32.7 10.2,30.6 9.7,28.4 9.6,26.2 9.7,24.0 10.1,21.8 10.8,19.8 11.8,17.8 13.1,15.9 14.5,14.3 16.2,12.8 18.1,11.6 20.1,10.6 22.3,9.9 24.5,9.5 26.7,9.4 29.0,9.5 31.2,10.0 33.4,10.7 35.4,11.7 37.3,12.9 39.0,14.4 40.5,16.1 41.7,17.9 42.8,19.9 43.5,22.0 44.0,24.2 44.1,26.4 44.0,28.6" fill="#efd335"/><polygon points="29.6,54.9 29.5,56.3 29.2,57.6 28.7,58.9 28.0,60.2 27.2,61.3 26.2,62.3 25.1,63.2 23.8,64.0 22.5,64.6 21.1,65.1 19.6,65.3 18.1,65.4 16.6,65.3 15.1,65.1 13.7,64.6 12.3,64.0 11.1,63.2 10.0,62.3 9.0,61.3 8.1,60.2 7.5,58.9 7.0,57.6 6.7,56.3 6.6,54.9 6.7,53.5 7.0,52.2 7.5,50.9 8.1,49.7 9.0,48.5 10.0,47.5 11.1,46.6 12.3,45.8 13.7,45.2 15.1,44.8 16.6,44.5 18.1,44.4 19.6,44.5 21.1,44.8 22.5,45.2 23.8,45.8 25.1,46.6 26.2,47.5 27.2,48.5 28.0,49.7 28.7,50.9 29.2,52.2 29.5,53.5" fill="#684387"/></g><path d="M18.2 37.9h1.0v1.0h-1.0zM23.1 36.3h1.0v1.0h-1.0zM23.8 39.0h1.0v1.0h-1.0zM29.9 34.7h1.0v1.0h-1.0zM30.4 34.1h1.0v1.0h-1.0zM39.5 30.3h1.0v1.0h-1.0zM45.2 26.6h1.0v1.0h-1.0zM52.0 37.2h1.0v1.0h-1.0zM47.8 42.3h1.0v1.0h-1.0zM44.8 50.1h1.0v1.0h-1.0zM38.5 50.3h1.0v1.0h-1.0zM40.0 55.6h1.0v1.0h-1.0zM27.4 55.0h1.0v1.0h-1.0zM15.4 50.7h1.0v1.0h-1.0zM24.7 50.6h1.0v1.0h-1.0zM12.0 44.5h1.0v1.0h-1.0zM9.1 42.4h1.0v1.0h-1.0z" fill="#5eaa9d"/><path d="M48.7 35.6h1.0v1.0h-1.0zM46.7 36.6h1.0v1.0h-1.0zM44.4 36.7h1.0v1.0h-1.0zM30.0 46.3h1.0v1.0h-1.0zM17.4 44.2h1.0v1.0h-1.0zM10.9 42.2h1.0v1.0h-1.0zM10.1 36.8h1.0v1.0h-1.0zM8.6 33.8h1.0v1.0h-1.0zM7.3 33.5h1.0v1.0h-1.0zM5.9 31.1h1.0v1.0h-1.0zM8.5 21.7h1.0v1.0h-1.0zM8.7 20.5h1.0v1.0h-1.0zM8.6 17.9h1.0v1.0h-1.0zM18.8 6.7h1.0v1.0h-1.0zM21.9 7.0h1.0v1.0h-1.0zM24.2 4.2h1.0v1.0h-1.0zM27.8 6.2h1.0v1.0h-1.0zM33.5 8.2h1.0v1.0h-1.0zM41.2 14.4h1.0v1.0h-1.0zM43.2 16.0h1.0v1.0h-1.0zM46.9 17.0h1.0v1.0h-1.0zM46.7 23.1h1.0v1.0h-1.0zM51.4 25.1h1.0v1.0h-1.0zM46.1 27.2h1.0v1.0h-1.0zM47.6 30.1h1.0v1.0h-1.0z" fill="#efd335"/><path d="M32.8 55.3h1.0v1.0h-1.0zM32.7 59.7h1.0v1.0h-1.0zM29.0 61.1h1.0v1.0h-1.0zM30.7 62.7h1.0v1.0h-1.0zM19.2 67.9h1.0v1.0h-1.0zM15.3 69.5h1.0v1.0h-1.0zM11.8 66.4h1.0v1.0h-1.0zM8.6 64.4h1.0v1.0h-1.0zM7.9 62.8h1.0v1.0h-1.0zM4.2 61.3h1.0v1.0h-1.0zM-0.3 59.0h1.0v1.0h-1.0zM3.6 56.3h1.0v1.0h-1.0zM5.2 48.5h1.0v1.0h-1.0zM5.1 45.8h1.0v1.0h-1.0zM5.5 43.5h1.0v1.0h-1.0zM12.8 41.5h1.0v1.0h-1.0zM21.4 43.7h1.0v1.0h-1.0zM25.2 42.3h1.0v1.0h-1.0zM27.8 47.3h1.0v1.0h-1.0zM31.6 47.3h1.0v1.0h-1.0zM38.7 50.8h1.0v1.0h-1.0z" fill="#684387"/></g>
<path d="M94.35,550.90V624.60H155.05" fill="none" stroke="#3a3a3a" stroke-width="1.45"/>
<text x="200.33" y="549.60" font-size="11" text-anchor="middle" fill="#0a0a0a" class="t">0.716</text>
<g transform="translate(164.80,550.90)"><g filter="url(#rough)"><polygon points="44.9,50.6 44.5,52.3 43.7,53.9 42.6,55.4 41.2,56.7 39.5,57.9 37.6,58.9 35.5,59.7 33.2,60.3 30.7,60.7 28.2,60.8 25.7,60.7 23.1,60.3 20.6,59.8 18.1,59.0 15.8,58.0 13.6,56.9 11.7,55.5 10.0,54.0 8.5,52.4 7.3,50.8 6.5,49.0 5.9,47.2 5.7,45.4 5.9,43.7 6.4,42.0 7.2,40.4 8.3,38.9 9.7,37.5 11.3,36.4 13.3,35.4 15.4,34.6 17.7,34.0 20.1,33.6 22.6,33.5 25.2,33.6 27.7,33.9 30.3,34.5 32.7,35.3 35.0,36.2 37.2,37.4 39.2,38.7 40.9,40.2 42.3,41.8 43.5,43.5 44.4,45.3 44.9,47.0 45.1,48.8" fill="#efd335"/><polygon points="6.9,32.5 17.6,28.3 27.4,25.0 37.1,28.9 45.2,34.1 43.3,38.4 31.2,37.4 17.6,35.5 6.9,35.5" fill="#5eaa9d"/><polygon points="25.4,19.5 25.3,20.9 25.0,22.2 24.6,23.5 24.0,24.7 23.2,25.8 22.3,26.8 21.2,27.7 20.1,28.4 18.8,29.0 17.5,29.5 16.1,29.7 14.7,29.8 13.3,29.7 12.0,29.5 10.6,29.0 9.4,28.4 8.2,27.7 7.2,26.8 6.2,25.8 5.5,24.7 4.8,23.5 4.4,22.2 4.1,20.9 4.0,19.5 4.1,18.2 4.4,16.9 4.8,15.6 5.5,14.4 6.2,13.2 7.2,12.2 8.2,11.3 9.4,10.6 10.6,10.0 12.0,9.6 13.3,9.3 14.7,9.2 16.1,9.3 17.5,9.6 18.8,10.0 20.1,10.6 21.2,11.3 22.3,12.2 23.2,13.2 24.0,14.4 24.6,15.6 25.0,16.9 25.3,18.2" fill="#684387"/></g><path d="M49.3 52.9h1.0v1.0h-1.0zM45.1 59.2h1.0v1.0h-1.0zM32.6 63.1h1.0v1.0h-1.0zM22.6 67.7h1.0v1.0h-1.0zM19.0 64.0h1.0v1.0h-1.0zM14.2 62.2h1.0v1.0h-1.0zM13.6 61.6h1.0v1.0h-1.0zM7.3 58.4h1.0v1.0h-1.0zM5.4 54.2h1.0v1.0h-1.0zM3.1 50.7h1.0v1.0h-1.0zM0.9 48.7h1.0v1.0h-1.0zM6.3 36.0h1.0v1.0h-1.0zM8.6 36.4h1.0v1.0h-1.0zM16.5 32.1h1.0v1.0h-1.0zM18.5 31.7h1.0v1.0h-1.0zM22.1 30.9h1.0v1.0h-1.0zM26.7 26.3h1.0v1.0h-1.0zM33.0 31.6h1.0v1.0h-1.0zM42.9 33.2h1.0v1.0h-1.0zM45.9 43.9h1.0v1.0h-1.0z" fill="#efd335"/><path d="M14.5 27.2h1.0v1.0h-1.0zM14.0 27.1h1.0v1.0h-1.0zM25.3 20.5h1.0v1.0h-1.0zM21.6 25.8h1.0v1.0h-1.0zM29.7 19.8h1.0v1.0h-1.0zM29.6 23.9h1.0v1.0h-1.0zM44.3 26.8h1.0v1.0h-1.0zM46.4 30.4h1.0v1.0h-1.0zM49.4 41.1h1.0v1.0h-1.0zM42.7 41.4h1.0v1.0h-1.0zM37.2 39.4h1.0v1.0h-1.0zM22.0 38.7h1.0v1.0h-1.0zM26.1 39.2h1.0v1.0h-1.0zM26.6 40.3h1.0v1.0h-1.0zM9.1 42.6h1.0v1.0h-1.0zM16.3 43.0h1.0v1.0h-1.0zM15.1 39.0h1.0v1.0h-1.0zM5.2 34.8h1.0v1.0h-1.0z" fill="#5eaa9d"/><path d="M27.7 21.0h1.0v1.0h-1.0zM27.0 22.6h1.0v1.0h-1.0zM27.3 27.5h1.0v1.0h-1.0zM24.9 28.6h1.0v1.0h-1.0zM24.4 30.0h1.0v1.0h-1.0zM24.3 31.1h1.0v1.0h-1.0zM18.0 32.6h1.0v1.0h-1.0zM14.3 30.4h1.0v1.0h-1.0zM12.3 32.8h1.0v1.0h-1.0zM10.4 30.6h1.0v1.0h-1.0zM5.1 31.4h1.0v1.0h-1.0zM2.3 23.0h1.0v1.0h-1.0zM0.1 19.5h1.0v1.0h-1.0zM0.9 14.4h1.0v1.0h-1.0zM3.5 13.6h1.0v1.0h-1.0zM3.0 9.4h1.0v1.0h-1.0zM6.3 10.7h1.0v1.0h-1.0zM9.2 7.8h1.0v1.0h-1.0zM10.7 3.0h1.0v1.0h-1.0zM17.0 3.6h1.0v1.0h-1.0zM20.3 5.0h1.0v1.0h-1.0zM20.8 7.9h1.0v1.0h-1.0zM22.9 9.3h1.0v1.0h-1.0zM24.6 12.8h1.0v1.0h-1.0zM32.5 18.0h1.0v1.0h-1.0z" fill="#684387"/></g>
<path d="M164.80,550.90V624.60H225.50" fill="none" stroke="#3a3a3a" stroke-width="1.45"/>
<text x="270.72" y="549.60" font-size="11" text-anchor="middle" fill="#0a0a0a" class="t">0.718</text>
<g transform="translate(235.25,550.90)"><g filter="url(#rough)"><polygon points="48.9,41.8 47.8,43.2 46.5,44.4 44.8,45.4 42.9,46.0 40.7,46.5 38.3,46.6 35.7,46.5 33.1,46.1 30.3,45.4 27.6,44.4 24.8,43.2 22.1,41.8 19.6,40.2 17.2,38.4 15.0,36.5 13.0,34.5 11.3,32.4 9.9,30.3 8.9,28.1 8.1,26.0 7.8,24.0 7.8,22.0 8.1,20.3 8.8,18.6 9.9,17.2 11.2,16.0 12.9,15.1 14.9,14.4 17.0,14.0 19.4,13.8 22.0,14.0 24.6,14.4 27.4,15.1 30.1,16.0 32.9,17.2 35.6,18.6 38.1,20.2 40.5,22.0 42.7,23.9 44.7,25.9 46.4,28.0 47.8,30.2 48.8,32.3 49.6,34.4 49.9,36.5 49.9,38.4 49.6,40.2" fill="url(#mix)"/><polygon points="53.0,55.5 52.9,56.9 52.5,58.2 52.0,59.5 51.2,60.7 50.3,61.9 49.2,62.9 47.9,63.8 46.5,64.6 44.9,65.2 43.3,65.6 41.6,65.9 39.9,66.0 38.2,65.9 36.6,65.6 35.0,65.2 33.4,64.6 32.0,63.8 30.7,62.9 29.6,61.9 28.7,60.7 27.9,59.5 27.4,58.2 27.0,56.9 26.9,55.5 27.0,54.1 27.4,52.8 27.9,51.5 28.7,50.2 29.6,49.1 30.7,48.1 32.0,47.2 33.4,46.4 35.0,45.8 36.6,45.4 38.2,45.1 39.9,45.0 41.6,45.1 43.3,45.4 44.9,45.8 46.5,46.4 47.9,47.2 49.2,48.1 50.3,49.1 51.2,50.2 52.0,51.5 52.5,52.8 52.9,54.1" fill="#684387"/></g><path d="M51.5 44.5h1.0v1.0h-1.0zM48.3 45.5h1.0v1.0h-1.0zM47.7 47.4h1.0v1.0h-1.0zM44.6 48.7h1.0v1.0h-1.0zM42.3 46.7h1.0v1.0h-1.0zM41.2 48.8h1.0v1.0h-1.0zM38.4 51.9h1.0v1.0h-1.0zM36.2 50.3h1.0v1.0h-1.0zM36.9 48.7h1.0v1.0h-1.0zM33.0 49.9h1.0v1.0h-1.0zM28.8 52.7h1.0v1.0h-1.0zM29.0 50.5h1.0v1.0h-1.0zM28.3 47.8h1.0v1.0h-1.0zM29.0 47.1h1.0v1.0h-1.0zM25.2 47.8h1.0v1.0h-1.0zM26.3 47.8h1.0v1.0h-1.0zM20.9 49.5h1.0v1.0h-1.0zM23.0 47.6h1.0v1.0h-1.0zM18.8 45.0h1.0v1.0h-1.0zM19.5 43.6h1.0v1.0h-1.0zM16.8 41.4h1.0v1.0h-1.0zM12.3 40.6h1.0v1.0h-1.0zM15.7 39.0h1.0v1.0h-1.0zM9.3 39.2h1.0v1.0h-1.0zM11.0 38.0h1.0v1.0h-1.0zM6.4 39.0h1.0v1.0h-1.0zM9.7 35.8h1.0v1.0h-1.0zM8.7 32.8h1.0v1.0h-1.0zM4.3 32.1h1.0v1.0h-1.0zM6.5 30.9h1.0v1.0h-1.0zM4.3 27.5h1.0v1.0h-1.0zM6.2 25.2h1.0v1.0h-1.0zM4.3 23.5h1.0v1.0h-1.0zM1.2 20.8h1.0v1.0h-1.0zM3.8 18.1h1.0v1.0h-1.0zM7.5 16.1h1.0v1.0h-1.0zM7.0 12.9h1.0v1.0h-1.0zM9.3 10.9h1.0v1.0h-1.0zM11.2 13.3h1.0v1.0h-1.0zM14.0 12.3h1.0v1.0h-1.0zM16.1 9.4h1.0v1.0h-1.0zM18.5 10.8h1.0v1.0h-1.0zM20.6 10.6h1.0v1.0h-1.0zM20.7 9.0h1.0v1.0h-1.0zM25.3 12.2h1.0v1.0h-1.0zM27.5 9.1h1.0v1.0h-1.0zM28.0 13.1h1.0v1.0h-1.0zM29.7 11.1h1.0v1.0h-1.0zM32.6 12.8h1.0v1.0h-1.0zM37.1 13.5h1.0v1.0h-1.0zM34.2 15.6h1.0v1.0h-1.0zM39.6 15.8h1.0v1.0h-1.0zM40.2 17.8h1.0v1.0h-1.0zM41.1 19.5h1.0v1.0h-1.0zM44.1 18.9h1.0v1.0h-1.0zM41.9 21.1h1.0v1.0h-1.0zM46.4 23.1h1.0v1.0h-1.0zM45.1 22.8h1.0v1.0h-1.0zM47.0 26.1h1.0v1.0h-1.0zM46.5 24.7h1.0v1.0h-1.0zM51.1 27.6h1.0v1.0h-1.0zM49.1 30.3h1.0v1.0h-1.0zM50.9 28.1h1.0v1.0h-1.0zM53.7 32.1h1.0v1.0h-1.0zM55.7 33.8h1.0v1.0h-1.0zM52.6 37.5h1.0v1.0h-1.0zM55.1 40.2h1.0v1.0h-1.0zM51.4 42.6h1.0v1.0h-1.0z" fill="url(#mix)"/><path d="M55.1 56.1h1.0v1.0h-1.0zM54.8 59.2h1.0v1.0h-1.0zM52.3 62.6h1.0v1.0h-1.0zM53.2 67.1h1.0v1.0h-1.0zM49.4 66.8h1.0v1.0h-1.0zM41.4 68.3h1.0v1.0h-1.0zM38.9 69.2h1.0v1.0h-1.0zM32.8 67.6h1.0v1.0h-1.0zM31.1 66.2h1.0v1.0h-1.0zM28.0 63.9h1.0v1.0h-1.0zM25.5 64.8h1.0v1.0h-1.0zM21.7 59.0h1.0v1.0h-1.0zM21.5 56.9h1.0v1.0h-1.0zM27.4 47.9h1.0v1.0h-1.0zM28.1 44.6h1.0v1.0h-1.0zM33.3 43.8h1.0v1.0h-1.0zM34.5 37.3h1.0v1.0h-1.0zM39.7 41.4h1.0v1.0h-1.0zM40.1 41.2h1.0v1.0h-1.0zM42.2 40.4h1.0v1.0h-1.0zM45.6 43.6h1.0v1.0h-1.0zM50.0 45.1h1.0v1.0h-1.0zM51.7 47.6h1.0v1.0h-1.0zM56.7 48.4h1.0v1.0h-1.0zM58.7 54.1h1.0v1.0h-1.0z" fill="#684387"/></g>
<path d="M235.25,550.90V624.60H295.95" fill="none" stroke="#3a3a3a" stroke-width="1.45"/>
<text x="341.11" y="549.60" font-size="11" text-anchor="middle" fill="#0a0a0a" class="t">0.718</text>
<g transform="translate(305.70,550.90)"><g filter="url(#rough)"><polygon points="43.9,48.7 42.3,49.7 40.5,50.3 38.5,50.6 36.4,50.6 34.3,50.3 32.2,49.7 30.0,48.8 27.9,47.6 25.8,46.1 23.9,44.4 22.1,42.5 20.5,40.4 19.1,38.2 17.9,35.8 17.0,33.4 16.3,31.0 15.9,28.6 15.8,26.3 15.9,24.0 16.4,21.9 17.1,20.0 18.0,18.3 19.3,16.8 20.7,15.6 22.3,14.7 24.1,14.0 26.1,13.7 28.1,13.7 30.3,14.0 32.4,14.6 34.6,15.5 36.7,16.7 38.7,18.2 40.7,19.9 42.5,21.8 44.1,23.9 45.5,26.1 46.7,28.5 47.6,30.9 48.3,33.3 48.7,35.7 48.8,38.0 48.7,40.3 48.2,42.4 47.5,44.3 46.6,46.0 45.3,47.5" fill="url(#mix)"/><polygon points="35.7,33.5 34.9,33.9 34.0,34.2 33.0,34.4 31.9,34.3 30.8,34.1 29.7,33.7 28.6,33.2 27.5,32.5 26.4,31.7 25.3,30.7 24.4,29.7 23.5,28.5 22.7,27.3 22.0,26.0 21.5,24.7 21.1,23.4 20.8,22.1 20.7,20.9 20.7,19.7 20.9,18.6 21.3,17.6 21.7,16.7 22.3,15.9 23.0,15.3 23.8,14.8 24.8,14.5 25.8,14.4 26.8,14.5 27.9,14.7 29.1,15.0 30.2,15.6 31.3,16.3 32.4,17.1 33.4,18.0 34.4,19.1 35.3,20.3 36.1,21.5 36.7,22.7 37.3,24.0 37.7,25.3 37.9,26.6 38.0,27.9 38.0,29.1 37.8,30.2 37.5,31.2 37.0,32.1 36.5,32.8" fill="#5eaa9d" fill-opacity="0.35"/><polygon points="53.2,55.2 52.8,56.7 52.3,58.2 51.6,59.7 50.9,61.0 50.0,62.2 49.0,63.2 47.9,64.1 46.7,64.8 45.5,65.3 44.3,65.6 43.1,65.7 41.8,65.6 40.7,65.3 39.5,64.8 38.5,64.1 37.5,63.2 36.7,62.1 36.0,60.9 35.4,59.6 34.9,58.2 34.7,56.7 34.5,55.1 34.6,53.5 34.8,51.9 35.1,50.4 35.6,48.9 36.3,47.4 37.1,46.1 38.0,44.9 39.0,43.9 40.1,43.0 41.2,42.3 42.4,41.8 43.6,41.5 44.9,41.4 46.1,41.5 47.3,41.8 48.4,42.3 49.4,43.0 50.4,43.9 51.2,45.0 52.0,46.2 52.6,47.5 53.0,48.9 53.3,50.4 53.4,52.0 53.4,53.6" fill="#684387"/></g><path d="M44.7 54.0h1.0v1.0h-1.0zM43.0 54.8h1.0v1.0h-1.0zM38.9 52.6h1.0v1.0h-1.0zM38.2 52.7h1.0v1.0h-1.0zM37.4 52.9h1.0v1.0h-1.0zM36.5 52.7h1.0v1.0h-1.0zM34.3 56.9h1.0v1.0h-1.0zM30.7 58.9h1.0v1.0h-1.0zM29.2 52.1h1.0v1.0h-1.0zM26.0 51.7h1.0v1.0h-1.0zM24.1 49.6h1.0v1.0h-1.0zM23.7 50.4h1.0v1.0h-1.0zM21.9 50.0h1.0v1.0h-1.0zM20.8 48.5h1.0v1.0h-1.0zM21.5 46.5h1.0v1.0h-1.0zM15.5 44.3h1.0v1.0h-1.0zM17.9 42.0h1.0v1.0h-1.0zM16.1 41.7h1.0v1.0h-1.0zM14.7 39.6h1.0v1.0h-1.0zM13.3 37.1h1.0v1.0h-1.0zM15.1 36.6h1.0v1.0h-1.0zM13.5 32.1h1.0v1.0h-1.0zM9.1 32.2h1.0v1.0h-1.0zM14.5 29.1h1.0v1.0h-1.0zM9.6 24.8h1.0v1.0h-1.0zM15.5 22.3h1.0v1.0h-1.0zM12.6 21.5h1.0v1.0h-1.0zM7.9 19.1h1.0v1.0h-1.0zM14.3 20.0h1.0v1.0h-1.0zM13.7 17.4h1.0v1.0h-1.0zM17.2 15.4h1.0v1.0h-1.0zM18.1 13.4h1.0v1.0h-1.0zM19.9 12.5h1.0v1.0h-1.0zM21.4 11.6h1.0v1.0h-1.0zM24.4 11.8h1.0v1.0h-1.0zM27.7 9.3h1.0v1.0h-1.0zM30.1 12.0h1.0v1.0h-1.0zM32.6 8.5h1.0v1.0h-1.0zM34.3 11.2h1.0v1.0h-1.0zM38.8 11.5h1.0v1.0h-1.0zM37.9 12.4h1.0v1.0h-1.0zM38.5 15.2h1.0v1.0h-1.0zM39.7 15.8h1.0v1.0h-1.0zM40.8 17.0h1.0v1.0h-1.0zM43.2 15.1h1.0v1.0h-1.0zM44.5 17.7h1.0v1.0h-1.0zM45.6 20.2h1.0v1.0h-1.0zM46.5 21.6h1.0v1.0h-1.0zM51.0 20.2h1.0v1.0h-1.0zM45.5 24.0h1.0v1.0h-1.0zM47.9 27.0h1.0v1.0h-1.0zM47.6 27.2h1.0v1.0h-1.0zM49.6 29.6h1.0v1.0h-1.0zM50.3 31.0h1.0v1.0h-1.0zM52.1 31.9h1.0v1.0h-1.0zM50.9 33.4h1.0v1.0h-1.0zM54.7 35.8h1.0v1.0h-1.0zM54.4 40.5h1.0v1.0h-1.0zM51.6 41.7h1.0v1.0h-1.0zM49.2 45.0h1.0v1.0h-1.0zM49.1 46.6h1.0v1.0h-1.0zM54.7 48.3h1.0v1.0h-1.0zM48.0 49.6h1.0v1.0h-1.0zM47.8 53.0h1.0v1.0h-1.0z" fill="url(#mix)"/><path d="M60.0 57.3h1.0v1.0h-1.0zM47.5 68.2h1.0v1.0h-1.0zM36.7 66.7h1.0v1.0h-1.0zM32.4 65.6h1.0v1.0h-1.0zM35.2 62.7h1.0v1.0h-1.0zM31.0 61.9h1.0v1.0h-1.0zM33.0 54.1h1.0v1.0h-1.0zM33.3 53.5h1.0v1.0h-1.0zM31.2 47.8h1.0v1.0h-1.0zM31.9 45.4h1.0v1.0h-1.0zM35.3 45.8h1.0v1.0h-1.0zM37.5 44.5h1.0v1.0h-1.0zM36.4 40.0h1.0v1.0h-1.0zM51.9 41.6h1.0v1.0h-1.0zM54.9 45.0h1.0v1.0h-1.0zM57.4 48.5h1.0v1.0h-1.0zM56.3 53.6h1.0v1.0h-1.0zM55.6 54.8h1.0v1.0h-1.0z" fill="#684387"/></g>
<path d="M305.70,550.90V624.60H366.40" fill="none" stroke="#3a3a3a" stroke-width="1.45"/>
<text x="411.50" y="549.60" font-size="11" text-anchor="middle" fill="#0a0a0a" class="t">0.718</text>
<g transform="translate(376.15,550.90)"><g filter="url(#rough)"><polygon points="50.1,51.0 50.0,52.8 49.5,54.6 48.7,56.4 47.7,58.0 46.4,59.5 44.8,60.9 43.0,62.1 41.0,63.1 38.8,64.0 36.6,64.5 34.2,64.9 31.9,65.0 29.5,64.9 27.1,64.5 24.9,64.0 22.7,63.1 20.7,62.1 18.9,60.9 17.3,59.5 16.0,58.0 15.0,56.4 14.2,54.6 13.7,52.8 13.6,51.0 13.7,49.2 14.2,47.4 15.0,45.7 16.0,44.0 17.3,42.5 18.9,41.1 20.7,39.9 22.7,38.9 24.9,38.1 27.1,37.5 29.5,37.1 31.9,37.0 34.2,37.1 36.6,37.5 38.8,38.1 41.0,38.9 43.0,39.9 44.8,41.1 46.4,42.5 47.7,44.0 48.7,45.7 49.5,47.4 50.0,49.2" fill="#efd335"/><polygon points="6.6,35.5 18.2,29.2 35.7,28.3 47.4,30.8 51.7,36.0 47.8,40.3 28.0,41.3 12.4,39.4 6.6,37.4" fill="#5eaa9d"/><polygon points="52.7,21.1 52.5,22.7 52.2,24.2 51.7,25.8 50.9,27.2 50.0,28.5 48.8,29.7 47.6,30.8 46.1,31.7 44.6,32.4 43.0,32.9 41.3,33.2 39.6,33.3 37.9,33.2 36.3,32.9 34.6,32.4 33.1,31.7 31.7,30.8 30.4,29.7 29.3,28.5 28.3,27.2 27.6,25.8 27.0,24.2 26.7,22.7 26.6,21.1 26.7,19.5 27.0,17.9 27.6,16.4 28.3,15.0 29.3,13.6 30.4,12.4 31.7,11.4 33.1,10.5 34.6,9.8 36.3,9.2 37.9,8.9 39.6,8.8 41.3,8.9 43.0,9.2 44.6,9.8 46.1,10.5 47.6,11.4 48.8,12.4 50.0,13.6 50.9,15.0 51.7,16.4 52.2,17.9 52.5,19.5" fill="#684387"/></g><path d="M53.5 54.9h1.0v1.0h-1.0zM48.9 60.5h1.0v1.0h-1.0zM41.4 67.7h1.0v1.0h-1.0zM39.3 68.3h1.0v1.0h-1.0zM35.6 68.9h1.0v1.0h-1.0zM32.5 69.0h1.0v1.0h-1.0zM29.4 68.2h1.0v1.0h-1.0zM11.9 59.1h1.0v1.0h-1.0zM10.4 52.6h1.0v1.0h-1.0zM10.4 48.0h1.0v1.0h-1.0zM13.9 43.1h1.0v1.0h-1.0zM13.2 36.4h1.0v1.0h-1.0zM18.8 37.6h1.0v1.0h-1.0zM18.7 32.4h1.0v1.0h-1.0zM21.9 36.8h1.0v1.0h-1.0zM24.9 35.1h1.0v1.0h-1.0zM27.3 34.7h1.0v1.0h-1.0zM35.6 35.9h1.0v1.0h-1.0zM39.6 33.8h1.0v1.0h-1.0zM40.7 33.7h1.0v1.0h-1.0zM46.3 40.0h1.0v1.0h-1.0zM50.5 41.8h1.0v1.0h-1.0z" fill="#efd335"/><path d="M11.1 29.6h1.0v1.0h-1.0zM12.2 26.1h1.0v1.0h-1.0zM7.3 29.8h1.0v1.0h-1.0zM33.2 24.7h1.0v1.0h-1.0zM21.5 25.8h1.0v1.0h-1.0zM33.0 26.2h1.0v1.0h-1.0zM43.8 26.1h1.0v1.0h-1.0zM42.9 25.3h1.0v1.0h-1.0zM52.5 27.5h1.0v1.0h-1.0zM54.8 41.0h1.0v1.0h-1.0zM52.7 44.4h1.0v1.0h-1.0zM45.0 44.4h1.0v1.0h-1.0zM32.0 43.5h1.0v1.0h-1.0zM32.1 43.3h1.0v1.0h-1.0zM46.0 43.8h1.0v1.0h-1.0zM16.2 42.2h1.0v1.0h-1.0zM26.8 43.8h1.0v1.0h-1.0zM27.0 47.9h1.0v1.0h-1.0zM20.6 46.7h1.0v1.0h-1.0zM5.9 41.7h1.0v1.0h-1.0zM4.5 35.8h1.0v1.0h-1.0z" fill="#5eaa9d"/><path d="M54.4 21.5h1.0v1.0h-1.0zM56.8 24.1h1.0v1.0h-1.0zM58.3 28.4h1.0v1.0h-1.0zM51.0 31.6h1.0v1.0h-1.0zM48.2 32.7h1.0v1.0h-1.0zM37.3 34.4h1.0v1.0h-1.0zM34.5 35.7h1.0v1.0h-1.0zM30.0 31.3h1.0v1.0h-1.0zM26.0 29.9h1.0v1.0h-1.0zM22.4 26.5h1.0v1.0h-1.0zM19.4 21.5h1.0v1.0h-1.0zM25.1 16.7h1.0v1.0h-1.0zM26.1 14.6h1.0v1.0h-1.0zM31.5 9.7h1.0v1.0h-1.0zM34.2 7.9h1.0v1.0h-1.0zM32.7 2.3h1.0v1.0h-1.0zM35.5 7.0h1.0v1.0h-1.0zM37.2 6.6h1.0v1.0h-1.0zM41.6 4.6h1.0v1.0h-1.0zM48.8 8.0h1.0v1.0h-1.0zM51.8 9.8h1.0v1.0h-1.0zM57.2 11.7h1.0v1.0h-1.0zM56.0 16.1h1.0v1.0h-1.0z" fill="#684387"/></g>
<path d="M376.15,550.90V624.60H436.85" fill="none" stroke="#3a3a3a" stroke-width="1.45"/>
<text x="481.89" y="549.60" font-size="11" text-anchor="middle" fill="#0a0a0a" class="t">0.719</text>
<g transform="translate(446.60,550.90)"><g filter="url(#rough)"><polygon points="50.7,55.5 50.6,56.7 50.1,58.0 49.3,59.1 48.3,60.3 46.9,61.3 45.4,62.2 43.6,63.1 41.6,63.7 39.4,64.3 37.2,64.7 34.8,64.9 32.4,65.0 30.0,64.9 27.7,64.7 25.4,64.3 23.3,63.7 21.3,63.1 19.5,62.2 17.9,61.3 16.6,60.3 15.5,59.1 14.8,58.0 14.3,56.7 14.2,55.5 14.3,54.3 14.8,53.0 15.5,51.8 16.6,50.7 17.9,49.7 19.5,48.8 21.3,47.9 23.3,47.2 25.4,46.7 27.7,46.3 30.0,46.0 32.4,46.0 34.8,46.0 37.2,46.3 39.4,46.7 41.6,47.2 43.6,47.9 45.4,48.8 46.9,49.7 48.3,50.7 49.3,51.8 50.1,53.0 50.6,54.3" fill="#efd335"/><polygon points="14.9,41.3 27.6,37.0 41.2,37.6 52.3,39.9 50.3,46.2 37.3,47.1 21.7,47.1 14.9,45.2" fill="#5eaa9d"/><polygon points="52.5,26.3 52.4,28.1 52.0,29.8 51.5,31.5 50.8,33.0 49.9,34.5 48.9,35.8 47.7,37.0 46.3,37.9 44.9,38.7 43.4,39.3 41.8,39.6 40.2,39.7 38.6,39.6 37.0,39.3 35.5,38.7 34.1,37.9 32.8,37.0 31.5,35.8 30.5,34.5 29.6,33.0 28.9,31.5 28.4,29.8 28.1,28.1 28.0,26.3 28.1,24.6 28.4,22.9 28.9,21.2 29.6,19.6 30.5,18.2 31.5,16.8 32.8,15.7 34.1,14.7 35.5,13.9 37.0,13.4 38.6,13.0 40.2,12.9 41.8,13.0 43.4,13.4 44.9,13.9 46.3,14.7 47.7,15.7 48.9,16.8 49.9,18.2 50.8,19.6 51.5,21.2 52.0,22.9 52.4,24.6" fill="#684387"/></g><path d="M46.8 65.0h1.0v1.0h-1.0zM44.0 65.8h1.0v1.0h-1.0zM41.1 66.3h1.0v1.0h-1.0zM38.7 68.3h1.0v1.0h-1.0zM37.5 68.1h1.0v1.0h-1.0zM32.8 69.8h1.0v1.0h-1.0zM29.6 66.8h1.0v1.0h-1.0zM26.3 66.1h1.0v1.0h-1.0zM23.8 65.5h1.0v1.0h-1.0zM23.0 65.3h1.0v1.0h-1.0zM14.9 64.2h1.0v1.0h-1.0zM8.6 59.2h1.0v1.0h-1.0zM11.6 56.6h1.0v1.0h-1.0zM12.9 51.3h1.0v1.0h-1.0zM12.5 48.4h1.0v1.0h-1.0zM15.0 43.2h1.0v1.0h-1.0zM23.4 42.9h1.0v1.0h-1.0zM57.5 53.3h1.0v1.0h-1.0z" fill="#efd335"/><path d="M20.2 34.7h1.0v1.0h-1.0zM21.2 37.9h1.0v1.0h-1.0zM25.1 35.1h1.0v1.0h-1.0zM38.6 32.4h1.0v1.0h-1.0zM32.7 35.5h1.0v1.0h-1.0zM49.0 34.9h1.0v1.0h-1.0zM45.6 37.6h1.0v1.0h-1.0zM52.8 45.4h1.0v1.0h-1.0zM53.9 42.6h1.0v1.0h-1.0zM46.6 51.7h1.0v1.0h-1.0zM40.8 49.5h1.0v1.0h-1.0zM24.2 51.4h1.0v1.0h-1.0zM25.5 48.8h1.0v1.0h-1.0zM23.3 49.3h1.0v1.0h-1.0zM18.2 51.0h1.0v1.0h-1.0zM19.4 50.9h1.0v1.0h-1.0zM8.4 40.6h1.0v1.0h-1.0z" fill="#5eaa9d"/><path d="M55.2 26.7h1.0v1.0h-1.0zM53.7 30.7h1.0v1.0h-1.0zM54.3 34.0h1.0v1.0h-1.0zM51.7 34.6h1.0v1.0h-1.0zM49.3 40.1h1.0v1.0h-1.0zM44.9 42.0h1.0v1.0h-1.0zM44.4 42.2h1.0v1.0h-1.0zM41.4 48.1h1.0v1.0h-1.0zM36.6 43.0h1.0v1.0h-1.0zM35.8 40.2h1.0v1.0h-1.0zM32.6 42.3h1.0v1.0h-1.0zM31.5 38.5h1.0v1.0h-1.0zM26.7 39.0h1.0v1.0h-1.0zM26.9 33.0h1.0v1.0h-1.0zM26.2 31.7h1.0v1.0h-1.0zM19.6 29.9h1.0v1.0h-1.0zM22.0 21.4h1.0v1.0h-1.0zM26.6 15.7h1.0v1.0h-1.0zM29.7 15.2h1.0v1.0h-1.0zM30.8 15.1h1.0v1.0h-1.0zM31.4 13.6h1.0v1.0h-1.0zM32.9 8.6h1.0v1.0h-1.0zM36.1 11.5h1.0v1.0h-1.0zM38.2 11.7h1.0v1.0h-1.0zM38.8 11.1h1.0v1.0h-1.0zM40.9 10.0h1.0v1.0h-1.0zM47.0 12.8h1.0v1.0h-1.0zM49.2 10.7h1.0v1.0h-1.0zM51.4 14.1h1.0v1.0h-1.0zM51.7 18.4h1.0v1.0h-1.0zM57.6 16.9h1.0v1.0h-1.0zM55.5 20.6h1.0v1.0h-1.0zM58.8 22.2h1.0v1.0h-1.0z" fill="#684387"/></g>
<path d="M446.60,550.90V624.60H507.30" fill="none" stroke="#3a3a3a" stroke-width="1.45"/>
<text x="552.28" y="549.60" font-size="11" text-anchor="middle" fill="#0a0a0a" class="t">0.727</text>
<g transform="translate(517.05,550.90)"><g filter="url(#rough)"><polygon points="37.5,42.6 37.3,43.0 36.0,44.6 34.5,45.9 32.9,47.0 31.1,47.7 29.3,48.2 27.4,48.4 25.5,48.3 23.6,47.8 21.8,47.1 20.0,46.0 18.4,44.7 16.8,43.2 15.4,41.4 14.3,39.4 13.3,37.3 12.5,35.0 12.0,32.7 11.7,30.3 11.6,28.0 11.8,25.6 12.3,23.4 13.0,21.2 13.9,19.3 15.0,17.5 16.3,15.9 17.8,14.5 19.4,13.5 21.1,12.7 23.0,12.2 24.8,12.0 26.7,12.2 28.6,12.6 30.5,13.4 32.2,14.4 33.9,15.7 35.4,17.3 36.8,19.1 37.9,20.9" fill="url(#mix)"/><polygon points="34.1,26.5 34.4,28.3 34.4,30.1 34.3,31.9 34.0,33.6 33.6,35.3 32.9,36.8 32.2,38.1 31.3,39.3 30.2,40.3 29.1,41.1 27.9,41.7 26.6,42.1 25.3,42.2 24.0,42.0 22.6,41.7 21.3,41.1 20.1,40.3 18.9,39.3 17.8,38.1 16.8,36.7 15.9,35.2 15.2,33.5 14.6,31.8 14.2,30.0 14.0,28.2 13.9,26.4 14.1,24.6 14.3,22.9 14.8,21.3 15.4,19.8 16.2,18.4 17.1,17.2 18.1,16.2 19.3,15.4 20.5,14.8 21.8,14.5 23.1,14.4 24.4,14.5 25.8,14.9 27.1,15.5 28.3,16.3 29.5,17.3 30.6,18.5 31.6,19.9 32.5,21.4 33.2,23.0 33.7,24.7" fill="#efd335" fill-opacity="0.45"/><polygon points="52.3,36.8 52.8,39.1 53.2,41.4 53.5,43.7 53.6,45.9 53.5,48.0 53.3,49.9 52.9,51.7 52.4,53.2 51.7,54.4 50.9,55.5 50.0,56.2 48.9,56.6 47.9,56.8 46.7,56.6 45.5,56.1 44.3,55.3 43.1,54.3 41.9,53.0 40.7,51.4 39.6,49.7 38.6,47.7 37.6,45.6 36.8,43.4 36.1,41.1 35.6,38.8 35.2,36.5 34.9,34.2 34.9,32.0 34.9,29.9 35.2,28.0 35.5,26.3 36.1,24.8 36.8,23.5 37.6,22.5 38.5,21.7 39.5,21.3 40.6,21.2 41.7,21.4 42.9,21.8 44.2,22.6 45.4,23.6 46.6,25.0 47.7,26.5 48.8,28.3 49.9,30.2 50.8,32.3 51.6,34.5" fill="#684387"/></g><path d="M39.9 44.4h1.0v1.0h-1.0zM40.7 47.3h1.0v1.0h-1.0zM36.8 46.5h1.0v1.0h-1.0zM34.7 48.4h1.0v1.0h-1.0zM33.4 48.7h1.0v1.0h-1.0zM29.4 51.2h1.0v1.0h-1.0zM29.5 50.2h1.0v1.0h-1.0zM28.0 51.2h1.0v1.0h-1.0zM27.3 50.3h1.0v1.0h-1.0zM22.3 54.2h1.0v1.0h-1.0zM22.0 50.9h1.0v1.0h-1.0zM19.2 49.6h1.0v1.0h-1.0zM16.8 49.4h1.0v1.0h-1.0zM15.4 46.5h1.0v1.0h-1.0zM9.2 46.2h1.0v1.0h-1.0zM13.8 40.9h1.0v1.0h-1.0zM10.7 42.9h1.0v1.0h-1.0zM11.1 38.6h1.0v1.0h-1.0zM11.0 36.1h1.0v1.0h-1.0zM11.0 36.6h1.0v1.0h-1.0zM10.5 34.5h1.0v1.0h-1.0zM5.1 34.9h1.0v1.0h-1.0zM10.4 31.5h1.0v1.0h-1.0zM6.2 32.6h1.0v1.0h-1.0zM9.8 29.0h1.0v1.0h-1.0zM10.4 25.5h1.0v1.0h-1.0zM6.9 23.8h1.0v1.0h-1.0zM10.3 21.8h1.0v1.0h-1.0zM9.3 19.5h1.0v1.0h-1.0zM8.6 15.8h1.0v1.0h-1.0zM12.2 14.3h1.0v1.0h-1.0zM15.7 13.8h1.0v1.0h-1.0zM17.9 11.6h1.0v1.0h-1.0zM18.4 10.3h1.0v1.0h-1.0zM21.7 9.8h1.0v1.0h-1.0zM24.7 10.5h1.0v1.0h-1.0zM26.0 9.1h1.0v1.0h-1.0zM29.5 9.3h1.0v1.0h-1.0zM31.1 10.4h1.0v1.0h-1.0zM32.6 11.7h1.0v1.0h-1.0zM34.3 12.3h1.0v1.0h-1.0zM35.0 13.8h1.0v1.0h-1.0zM39.1 15.8h1.0v1.0h-1.0zM42.6 17.8h1.0v1.0h-1.0zM39.9 36.3h1.0v1.0h-1.0zM41.9 25.1h1.0v1.0h-1.0zM40.2 38.9h1.0v1.0h-1.0zM46.5 40.0h1.0v1.0h-1.0zM40.4 34.3h1.0v1.0h-1.0zM41.1 26.3h1.0v1.0h-1.0zM39.6 35.3h1.0v1.0h-1.0zM41.4 21.8h1.0v1.0h-1.0zM40.0 38.1h1.0v1.0h-1.0zM39.6 22.2h1.0v1.0h-1.0zM41.5 40.8h1.0v1.0h-1.0zM42.8 39.8h1.0v1.0h-1.0z" fill="url(#mix)"/><path d="M57.4 36.7h1.0v1.0h-1.0zM54.8 39.2h1.0v1.0h-1.0zM57.7 42.1h1.0v1.0h-1.0zM57.2 46.9h1.0v1.0h-1.0zM57.1 52.5h1.0v1.0h-1.0zM55.0 54.0h1.0v1.0h-1.0zM54.0 54.4h1.0v1.0h-1.0zM55.9 57.2h1.0v1.0h-1.0zM43.4 62.6h1.0v1.0h-1.0zM36.3 52.8h1.0v1.0h-1.0zM32.2 50.9h1.0v1.0h-1.0zM31.8 42.9h1.0v1.0h-1.0zM34.0 42.1h1.0v1.0h-1.0zM31.6 35.7h1.0v1.0h-1.0zM29.8 35.2h1.0v1.0h-1.0zM32.8 30.3h1.0v1.0h-1.0zM32.6 28.4h1.0v1.0h-1.0zM29.0 26.0h1.0v1.0h-1.0zM29.4 23.6h1.0v1.0h-1.0zM38.6 19.2h1.0v1.0h-1.0zM39.2 17.2h1.0v1.0h-1.0zM44.1 17.1h1.0v1.0h-1.0zM53.7 22.8h1.0v1.0h-1.0zM54.8 29.6h1.0v1.0h-1.0zM55.8 31.2h1.0v1.0h-1.0zM54.7 35.1h1.0v1.0h-1.0z" fill="#684387"/></g>
<path d="M517.05,550.90V624.60H577.75" fill="none" stroke="#3a3a3a" stroke-width="1.45"/>
<text x="622.67" y="549.60" font-size="11" text-anchor="middle" fill="#0a0a0a" class="t">0.731</text>
<g transform="translate(587.50,550.90)"><g filter="url(#rough)"><polygon points="48.0,26.4 47.5,28.0 46.6,29.4 45.4,30.7 43.9,31.8 42.2,32.7 40.3,33.5 38.2,34.0 35.9,34.4 33.6,34.5 31.1,34.4 28.7,34.0 26.2,33.5 23.8,32.7 21.5,31.8 19.3,30.7 17.4,29.4 15.6,28.0 14.0,26.4 12.7,24.8 11.7,23.2 11.0,21.5 10.6,19.8 10.6,18.1 10.8,16.5 11.4,15.0 12.3,13.5 13.5,12.3 14.9,11.1 16.6,10.2 18.6,9.4 20.7,8.9 22.9,8.6 25.3,8.5 27.7,8.6 30.2,8.9 32.7,9.4 35.1,10.2 37.4,11.1 39.5,12.3 41.5,13.5 43.3,15.0 44.9,16.5 46.2,18.1 47.2,19.8 47.9,21.5 48.2,23.2 48.3,24.8" fill="#efd335"/><polygon points="9.0,30.2 21.7,28.3 37.2,33.1 50.2,35.1 49.3,39.4 37.2,43.2 27.5,44.2 13.9,39.4 8.0,34.5" fill="#5eaa9d"/><polygon points="53.5,53.0 53.5,55.1 53.2,57.2 52.7,59.2 52.0,61.1 51.2,62.9 50.2,64.5 49.1,65.9 47.8,67.1 46.5,68.1 45.0,68.7 43.6,69.2 42.1,69.3 40.6,69.2 39.1,68.7 37.7,68.1 36.3,67.1 35.1,65.9 34.0,64.5 33.0,62.9 32.1,61.1 31.5,59.2 31.0,57.2 30.7,55.1 30.6,53.0 30.7,50.8 31.0,48.7 31.5,46.7 32.1,44.8 33.0,43.0 34.0,41.4 35.1,40.0 36.3,38.8 37.7,37.9 39.1,37.2 40.6,36.8 42.1,36.6 43.6,36.8 45.0,37.2 46.5,37.9 47.8,38.8 49.1,40.0 50.2,41.4 51.2,43.0 52.0,44.8 52.7,46.7 53.2,48.7 53.5,50.8" fill="#684387"/></g><path d="M51.1 28.7h1.0v1.0h-1.0zM49.4 31.1h1.0v1.0h-1.0zM38.6 35.9h1.0v1.0h-1.0zM34.6 37.5h1.0v1.0h-1.0zM19.6 34.3h1.0v1.0h-1.0zM9.7 24.9h1.0v1.0h-1.0zM6.1 24.1h1.0v1.0h-1.0zM7.9 19.5h1.0v1.0h-1.0zM6.1 14.3h1.0v1.0h-1.0zM10.8 12.5h1.0v1.0h-1.0zM12.7 7.9h1.0v1.0h-1.0zM17.6 7.7h1.0v1.0h-1.0zM18.5 5.9h1.0v1.0h-1.0zM22.4 4.5h1.0v1.0h-1.0zM25.4 6.1h1.0v1.0h-1.0zM32.2 6.8h1.0v1.0h-1.0zM34.5 5.8h1.0v1.0h-1.0zM39.7 2.9h1.0v1.0h-1.0zM44.7 9.8h1.0v1.0h-1.0zM49.9 24.0h1.0v1.0h-1.0z" fill="#efd335"/><path d="M17.8 25.1h1.0v1.0h-1.0zM17.1 25.7h1.0v1.0h-1.0zM25.8 26.4h1.0v1.0h-1.0zM30.0 27.9h1.0v1.0h-1.0zM33.8 28.9h1.0v1.0h-1.0zM43.2 30.3h1.0v1.0h-1.0zM42.7 32.0h1.0v1.0h-1.0zM53.6 39.4h1.0v1.0h-1.0zM46.2 44.2h1.0v1.0h-1.0zM43.5 44.9h1.0v1.0h-1.0zM49.9 46.6h1.0v1.0h-1.0zM35.1 48.1h1.0v1.0h-1.0zM36.6 46.2h1.0v1.0h-1.0zM17.2 43.0h1.0v1.0h-1.0zM16.7 43.0h1.0v1.0h-1.0zM15.4 42.2h1.0v1.0h-1.0zM9.3 39.7h1.0v1.0h-1.0zM5.2 30.4h1.0v1.0h-1.0z" fill="#5eaa9d"/><path d="M57.2 54.4h1.0v1.0h-1.0zM57.4 62.9h1.0v1.0h-1.0zM56.8 63.9h1.0v1.0h-1.0zM52.2 64.3h1.0v1.0h-1.0zM49.1 66.8h1.0v1.0h-1.0zM49.3 70.4h1.0v1.0h-1.0zM47.6 72.2h1.0v1.0h-1.0zM45.9 73.8h1.0v1.0h-1.0zM36.5 73.8h1.0v1.0h-1.0zM32.9 66.8h1.0v1.0h-1.0zM29.4 63.5h1.0v1.0h-1.0zM26.6 62.5h1.0v1.0h-1.0zM28.0 58.8h1.0v1.0h-1.0zM27.8 57.0h1.0v1.0h-1.0zM25.6 54.3h1.0v1.0h-1.0zM28.7 51.8h1.0v1.0h-1.0zM23.2 50.0h1.0v1.0h-1.0zM27.7 46.0h1.0v1.0h-1.0zM28.4 45.6h1.0v1.0h-1.0zM28.1 40.1h1.0v1.0h-1.0zM31.6 37.2h1.0v1.0h-1.0zM35.5 37.6h1.0v1.0h-1.0zM38.4 34.9h1.0v1.0h-1.0zM48.2 37.2h1.0v1.0h-1.0zM51.1 35.1h1.0v1.0h-1.0zM51.3 38.6h1.0v1.0h-1.0zM55.3 42.5h1.0v1.0h-1.0zM54.3 44.7h1.0v1.0h-1.0zM58.0 46.3h1.0v1.0h-1.0zM60.7 52.2h1.0v1.0h-1.0z" fill="#684387"/></g>
<path d="M587.50,550.90V624.60H648.20" fill="none" stroke="#3a3a3a" stroke-width="1.45"/>
<text x="693.06" y="549.60" font-size="11" text-anchor="middle" fill="#0a0a0a" class="t">0.731</text>
<g transform="translate(657.95,550.90)"><g filter="url(#rough)"><polygon points="47.9,54.2 46.6,55.7 45.0,57.0 43.1,58.0 41.0,58.7 38.7,59.1 36.2,59.2 33.5,59.0 30.8,58.4 28.1,57.6 25.4,56.5 22.7,55.1 20.2,53.5 17.8,51.7 15.6,49.6 13.6,47.5 11.9,45.2 10.5,42.8 9.4,40.4 8.6,38.0 8.2,35.7 8.1,33.5 8.4,31.3 9.0,29.4 10.0,27.6 11.3,26.1 13.0,24.8 14.9,23.8 17.0,23.1 19.3,22.7 21.8,22.6 24.4,22.8 27.1,23.4 29.9,24.2 32.6,25.3 35.3,26.7 37.8,28.3 40.2,30.2 42.4,32.2 44.4,34.4 46.1,36.6 47.5,39.0 48.6,41.4 49.4,43.8 49.8,46.1 49.9,48.4 49.6,50.5 48.9,52.4" fill="url(#mix)"/><polygon points="42.7,52.8 42.0,53.7 41.0,54.5 39.8,55.1 38.4,55.5 36.8,55.7 35.0,55.7 33.0,55.6 31.0,55.2 28.9,54.6 26.8,53.8 24.7,52.8 22.7,51.7 20.7,50.5 18.8,49.2 17.1,47.7 15.5,46.2 14.2,44.7 13.1,43.1 12.2,41.5 11.5,40.0 11.2,38.6 11.1,37.2 11.3,36.0 11.7,34.9 12.5,33.9 13.5,33.1 14.7,32.5 16.1,32.1 17.7,31.9 19.5,31.9 21.4,32.1 23.5,32.5 25.5,33.1 27.6,33.9 29.7,34.8 31.8,35.9 33.8,37.1 35.7,38.5 37.4,39.9 38.9,41.4 40.3,43.0 41.4,44.6 42.3,46.1 42.9,47.6 43.3,49.1 43.4,50.4 43.2,51.7" fill="#efd335" fill-opacity="0.65"/><polygon points="49.7,40.8 49.2,41.3 48.3,41.5 47.2,41.6 45.7,41.4 44.1,41.0 42.2,40.4 40.2,39.5 38.0,38.5 35.7,37.3 33.4,36.0 31.0,34.5 28.7,32.9 26.4,31.2 24.2,29.5 22.1,27.8 20.2,26.0 18.5,24.3 17.0,22.7 15.8,21.2 14.8,19.8 14.2,18.5 13.8,17.4 13.8,16.5 14.1,15.8 14.6,15.3 15.5,15.0 16.7,15.0 18.1,15.1 19.7,15.6 21.6,16.2 23.6,17.0 25.8,18.0 28.1,19.2 30.4,20.6 32.8,22.1 35.1,23.7 37.4,25.3 39.6,27.0 41.7,28.8 43.6,30.5 45.3,32.2 46.8,33.8 48.0,35.4 49.0,36.8 49.6,38.0 50.0,39.1 50.0,40.1" fill="#5eaa9d" fill-opacity="0.7"/><polygon points="28.8,15.6 28.7,16.8 28.4,18.0 27.9,19.1 27.3,20.2 26.4,21.2 25.4,22.1 24.3,22.9 23.1,23.5 21.7,24.1 20.3,24.5 18.8,24.7 17.3,24.8 15.8,24.7 14.4,24.5 12.9,24.1 11.6,23.5 10.3,22.9 9.2,22.1 8.2,21.2 7.4,20.2 6.7,19.1 6.2,18.0 6.0,16.8 5.9,15.6 6.0,14.4 6.2,13.3 6.7,12.1 7.4,11.1 8.2,10.1 9.2,9.2 10.3,8.4 11.6,7.7 12.9,7.2 14.4,6.8 15.8,6.6 17.3,6.5 18.8,6.6 20.3,6.8 21.7,7.2 23.1,7.7 24.3,8.4 25.4,9.2 26.4,10.1 27.3,11.1 27.9,12.1 28.4,13.3 28.7,14.4" fill="#684387"/></g><path d="M49.5 56.0h1.0v1.0h-1.0zM49.0 60.5h1.0v1.0h-1.0zM45.1 58.6h1.0v1.0h-1.0zM44.4 61.0h1.0v1.0h-1.0zM40.3 64.2h1.0v1.0h-1.0zM39.6 61.5h1.0v1.0h-1.0zM33.1 64.0h1.0v1.0h-1.0zM31.5 64.1h1.0v1.0h-1.0zM27.9 59.7h1.0v1.0h-1.0zM25.3 58.6h1.0v1.0h-1.0zM25.1 58.2h1.0v1.0h-1.0zM22.5 57.9h1.0v1.0h-1.0zM22.9 58.1h1.0v1.0h-1.0zM18.7 59.9h1.0v1.0h-1.0zM20.2 59.2h1.0v1.0h-1.0zM18.2 54.1h1.0v1.0h-1.0zM16.1 56.7h1.0v1.0h-1.0zM14.9 53.7h1.0v1.0h-1.0zM11.1 52.1h1.0v1.0h-1.0zM11.4 51.0h1.0v1.0h-1.0zM11.2 48.6h1.0v1.0h-1.0zM9.7 45.0h1.0v1.0h-1.0zM9.1 45.5h1.0v1.0h-1.0zM7.8 41.7h1.0v1.0h-1.0zM5.7 42.4h1.0v1.0h-1.0zM4.5 41.8h1.0v1.0h-1.0zM2.7 40.5h1.0v1.0h-1.0zM3.3 38.4h1.0v1.0h-1.0zM5.4 38.3h1.0v1.0h-1.0zM3.6 34.1h1.0v1.0h-1.0zM3.4 30.9h1.0v1.0h-1.0zM3.2 28.2h1.0v1.0h-1.0zM8.3 27.7h1.0v1.0h-1.0zM8.6 25.5h1.0v1.0h-1.0zM10.1 22.8h1.0v1.0h-1.0zM11.9 20.2h1.0v1.0h-1.0zM14.4 20.2h1.0v1.0h-1.0zM15.3 20.6h1.0v1.0h-1.0zM17.5 20.1h1.0v1.0h-1.0zM19.6 17.8h1.0v1.0h-1.0zM20.8 20.5h1.0v1.0h-1.0zM23.3 18.6h1.0v1.0h-1.0zM23.5 21.2h1.0v1.0h-1.0zM25.8 19.7h1.0v1.0h-1.0zM29.7 19.8h1.0v1.0h-1.0zM32.6 20.9h1.0v1.0h-1.0zM32.9 23.3h1.0v1.0h-1.0zM35.7 20.4h1.0v1.0h-1.0zM39.3 22.6h1.0v1.0h-1.0zM42.0 22.8h1.0v1.0h-1.0zM41.5 26.5h1.0v1.0h-1.0zM44.5 26.9h1.0v1.0h-1.0zM43.5 29.7h1.0v1.0h-1.0zM46.2 33.0h1.0v1.0h-1.0zM47.3 34.4h1.0v1.0h-1.0zM48.7 36.7h1.0v1.0h-1.0zM52.8 39.4h1.0v1.0h-1.0zM50.4 41.3h1.0v1.0h-1.0zM51.2 44.9h1.0v1.0h-1.0zM55.9 46.8h1.0v1.0h-1.0zM56.6 50.7h1.0v1.0h-1.0zM54.7 52.6h1.0v1.0h-1.0zM49.9 55.0h1.0v1.0h-1.0z" fill="url(#mix)"/><path d="M47.7 57.0h1.0v1.0h-1.0zM43.8 58.0h1.0v1.0h-1.0zM37.0 57.7h1.0v1.0h-1.0zM30.9 59.3h1.0v1.0h-1.0zM27.0 63.5h1.0v1.0h-1.0zM22.2 56.3h1.0v1.0h-1.0zM20.3 53.4h1.0v1.0h-1.0zM19.3 52.0h1.0v1.0h-1.0zM14.6 51.6h1.0v1.0h-1.0zM11.3 43.5h1.0v1.0h-1.0zM14.4 29.6h1.0v1.0h-1.0zM17.4 27.9h1.0v1.0h-1.0zM23.1 25.5h1.0v1.0h-1.0zM25.2 29.8h1.0v1.0h-1.0zM33.0 32.5h1.0v1.0h-1.0zM37.1 36.6h1.0v1.0h-1.0zM39.0 35.4h1.0v1.0h-1.0zM45.6 47.8h1.0v1.0h-1.0zM45.0 49.8h1.0v1.0h-1.0zM44.2 53.6h1.0v1.0h-1.0z" fill="#efd335"/><path d="M45.0 43.4h1.0v1.0h-1.0zM27.6 37.0h1.0v1.0h-1.0zM25.2 35.8h1.0v1.0h-1.0zM20.2 32.7h1.0v1.0h-1.0zM19.5 28.3h1.0v1.0h-1.0zM18.3 26.6h1.0v1.0h-1.0zM14.1 22.7h1.0v1.0h-1.0zM22.4 8.8h1.0v1.0h-1.0zM38.2 23.9h1.0v1.0h-1.0zM40.8 23.0h1.0v1.0h-1.0zM41.4 26.5h1.0v1.0h-1.0zM44.0 27.7h1.0v1.0h-1.0zM50.8 29.0h1.0v1.0h-1.0zM52.5 34.3h1.0v1.0h-1.0z" fill="#5eaa9d"/><path d="M34.6 18.5h1.0v1.0h-1.0zM32.3 22.6h1.0v1.0h-1.0zM29.0 21.6h1.0v1.0h-1.0zM27.7 24.0h1.0v1.0h-1.0zM23.9 27.4h1.0v1.0h-1.0zM22.5 27.2h1.0v1.0h-1.0zM20.6 28.1h1.0v1.0h-1.0zM17.0 26.0h1.0v1.0h-1.0zM14.6 28.5h1.0v1.0h-1.0zM13.1 27.7h1.0v1.0h-1.0zM8.5 25.2h1.0v1.0h-1.0zM5.3 24.7h1.0v1.0h-1.0zM3.5 23.6h1.0v1.0h-1.0zM1.0 16.4h1.0v1.0h-1.0zM5.6 8.3h1.0v1.0h-1.0zM7.3 7.7h1.0v1.0h-1.0zM9.2 4.6h1.0v1.0h-1.0zM11.9 6.1h1.0v1.0h-1.0zM17.8 4.3h1.0v1.0h-1.0zM19.7 1.5h1.0v1.0h-1.0zM23.2 2.8h1.0v1.0h-1.0zM28.9 10.7h1.0v1.0h-1.0zM31.3 11.3h1.0v1.0h-1.0zM31.8 12.6h1.0v1.0h-1.0zM32.6 14.2h1.0v1.0h-1.0z" fill="#684387"/></g>
<path d="M657.95,550.90V624.60H718.65" fill="none" stroke="#3a3a3a" stroke-width="1.45"/>
</g></svg></body></html>
